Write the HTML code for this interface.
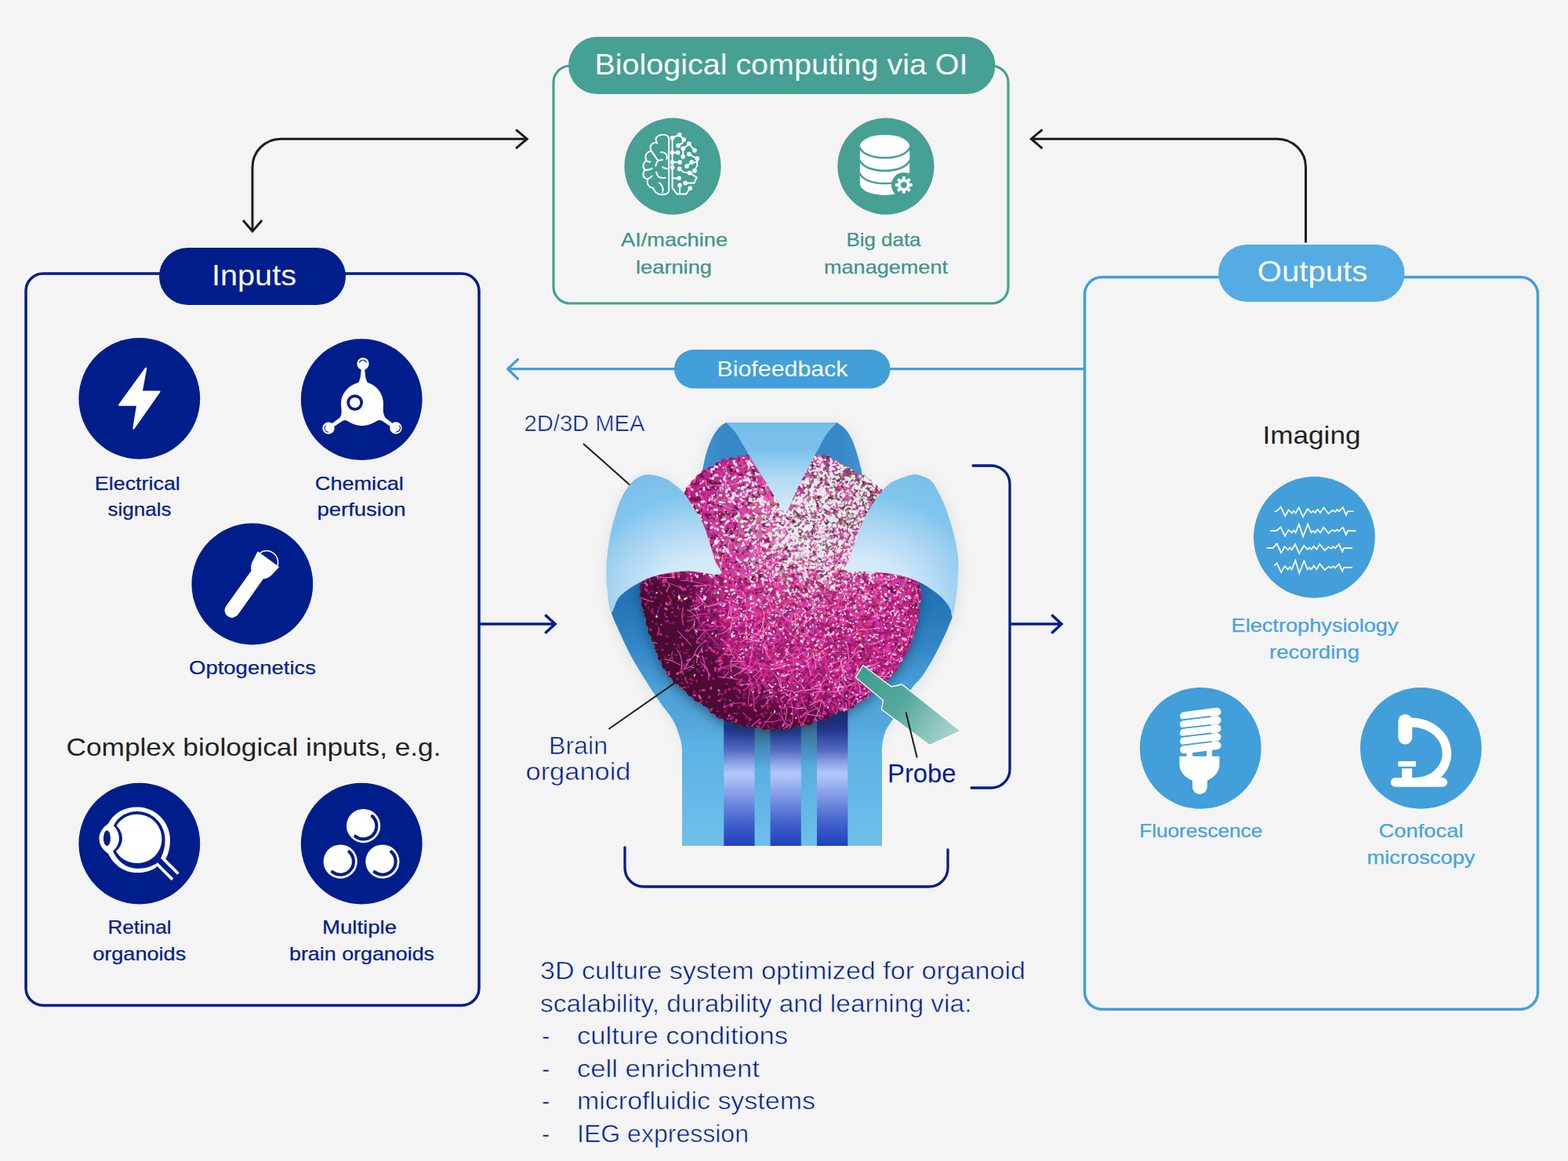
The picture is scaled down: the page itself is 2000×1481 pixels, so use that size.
<!DOCTYPE html>
<html lang="en">
<head>
<meta charset="utf-8">
<title>Biological computing via OI</title>
<style>
html,body{margin:0;padding:0;background:#f4f4f4;}
body{width:2000px;height:1481px;overflow:hidden;font-family:"Liberation Sans", Arial, sans-serif;}
svg{display:block;}
svg text{font-family:"Liberation Sans", Arial, sans-serif;}
</style>
</head>
<body>
<svg width="2000" height="1481" viewBox="0 0 2000 1481">
<rect width="2000" height="1481" fill="#f4f4f4"/>
<g fill="none" stroke-linecap="butt">
<rect x="706" y="84" width="580" height="303" rx="21" ry="21" stroke="#46a093" stroke-width="3.2"/>
<rect x="33" y="349" width="578" height="933.5" rx="22" ry="22" stroke="#001d8c" stroke-width="3.5"/>
<rect x="1383.5" y="353.5" width="578" height="934" rx="22" ry="22" stroke="#429fd9" stroke-width="3.5"/>
<path d="M1383.5,470.7 H648" stroke="#429fd9" stroke-width="3.3"/>
<path d="M660.5,458.5 L647.6,470.7 L660.5,483" stroke="#429fd9" stroke-width="3.3" stroke-linecap="round" stroke-linejoin="round"/>
<path d="M322,293 V213 A36,36 0 0 1 358,177.2 H671" stroke="#1c1c1c" stroke-width="3"/>
<path d="M658,165.3 L672.2,177.2 L658,189.3" stroke="#1c1c1c" stroke-width="3"/>
<path d="M310,281 L322,295 L334.2,281" stroke="#1c1c1c" stroke-width="3"/>
<path d="M1665.5,309.5 V213 A36,36 0 0 0 1629.5,177.2 H1317" stroke="#1c1c1c" stroke-width="3"/>
<path d="M1329.5,165.3 L1315.3,177.2 L1329.5,189.3" stroke="#1c1c1c" stroke-width="3"/>
<path d="M611,796 H707" stroke="#001d8c" stroke-width="3.5"/>
<path d="M695.3,784.2 L708,796 L695.3,807.8" stroke="#001d8c" stroke-width="3.5"/>
<path d="M1288,796 H1353" stroke="#001d8c" stroke-width="3.5"/>
<path d="M1341.3,784.2 L1354,796 L1341.3,807.8" stroke="#001d8c" stroke-width="3.5"/>
<path d="M1241,594 H1264.5 A23.5,23.5 0 0 1 1288,617.5 V981.5 A23.5,23.5 0 0 1 1264.5,1005 H1239" stroke="#001d8c" stroke-width="3.3" stroke-linecap="round"/>
<path d="M797,1081 V1107 A24,24 0 0 0 821,1131 H1185 A24,24 0 0 0 1209,1107 V1084" stroke="#001d8c" stroke-width="3.3" stroke-linecap="round"/>
</g>
<rect x="725" y="47" width="544.5" height="73" rx="36.5" fill="#46a093"/>
<rect x="203" y="316" width="238" height="73" rx="36.5" fill="#001d8c"/>
<rect x="1554" y="312" width="237.5" height="73" rx="36.5" fill="#55abe4"/>
<rect x="860" y="446" width="275.5" height="49.5" rx="24.75" fill="#429fd9"/>
<circle cx="858.0" cy="212.1" r="61.6" fill="#46a093"/>
<circle cx="1129.9" cy="212.1" r="61.6" fill="#46a093"/>
<circle cx="177.8" cy="508.3" r="77.4" fill="#001d8c"/>
<circle cx="461.2" cy="509.7" r="77.4" fill="#001d8c"/>
<circle cx="321.8" cy="745.0" r="77.4" fill="#001d8c"/>
<circle cx="177.8" cy="1076.1" r="77.4" fill="#001d8c"/>
<circle cx="461.2" cy="1076.1" r="77.4" fill="#001d8c"/>
<circle cx="1676.4" cy="685.3" r="77.4" fill="#429fd9"/>
<circle cx="1531.3" cy="954.4" r="77.4" fill="#429fd9"/>
<circle cx="1812.4" cy="954.4" r="77.4" fill="#429fd9"/>
<g transform="translate(790,145) scale(0.09453)"><g fill="none" stroke="#fff" stroke-width="21" stroke-linecap="round" stroke-linejoin="round"><path d="M668,1035 V345 C668,300 630,283 595,283 C545,283 490,305 492,350 C492,372 500,388 512,400 M500,392 C455,385 418,420 418,455 C418,480 425,498 438,512 M425,505 C385,510 352,545 352,585 C352,610 362,628 378,642 M365,635 C335,650 322,680 322,710 C322,735 335,752 352,762 M345,760 C325,780 320,805 322,830 C328,860 350,878 382,882 M382,882 C372,915 378,950 398,975 C412,992 432,1002 455,1002 M455,1002 C470,1045 510,1090 565,1092 C620,1094 668,1075 668,1035 M438,512 C470,560 500,600 520,632 C545,628 565,625 582,622 M520,632 C505,655 495,680 490,705 M558,520 C590,518 615,525 630,545 C645,565 645,590 640,610 M378,642 C392,648 405,650 415,650 M352,762 C385,760 415,752 440,738 M382,882 C405,872 425,858 440,842 M500,788 C505,820 515,845 540,858 C565,868 595,868 622,866 M580,720 C605,735 635,742 662,742 M540,935 C565,955 580,975 586,1000 C590,1025 588,1045 582,1062"/><path d="M715,325 V1000 L780,1085 H900 L955,1005 M715,325 L810,285 L870,350 L850,395 L795,430 M715,525 H790 M860,470 V580 M860,470 L905,440 L940,405 L1015,495 M940,545 L1000,580 L1050,605 V700 L1015,770 M715,655 H815 M910,710 L975,655 H1040 M715,725 V745 M810,745 L870,790 L950,800 L1045,860 L1010,935 H890 M715,870 H805 M815,965 V1085"/></g><g fill="#fff"><circle cx="715" cy="325" r="30"/><circle cx="810" cy="285" r="30"/><circle cx="870" cy="350" r="30"/><circle cx="795" cy="430" r="30"/><circle cx="940" cy="405" r="30"/><circle cx="860" cy="470" r="30"/><circle cx="1015" cy="495" r="30"/><circle cx="715" cy="525" r="30"/><circle cx="790" cy="525" r="30"/><circle cx="860" cy="580" r="30"/><circle cx="940" cy="545" r="30"/><circle cx="1050" cy="605" r="30"/><circle cx="715" cy="655" r="30"/><circle cx="815" cy="655" r="30"/><circle cx="975" cy="655" r="30"/><circle cx="910" cy="710" r="30"/><circle cx="715" cy="725" r="30"/><circle cx="810" cy="745" r="30"/><circle cx="1015" cy="770" r="30"/><circle cx="950" cy="800" r="30"/><circle cx="805" cy="870" r="30"/><circle cx="890" cy="935" r="30"/><circle cx="815" cy="965" r="30"/><circle cx="955" cy="1005" r="30"/></g></g>
<g transform="translate(1060,145) scale(0.09453)"><path d="M390,440 A335,155 0 0 1 1060,440 V945 A335,155 0 0 1 390,945 Z" fill="#fff"/><g fill="none" stroke="#46a093" stroke-width="27"><path d="M383,452 C420,545 560,596 725,596 C890,596 1030,545 1067,452"/><path d="M383,625 C420,718 560,770 725,770 C890,770 1030,718 1067,625"/><path d="M383,800 C420,892 560,942 725,942 C890,942 1030,892 1067,800"/></g><circle cx="982" cy="962" r="168" fill="#46a093"/><path d="M965.0,885.9 L965.3,851.3 L998.7,851.3 L999.0,885.9 L1023.8,896.1 L1048.5,871.9 L1072.1,895.5 L1047.9,920.2 L1058.1,945.0 L1092.7,945.3 L1092.7,978.7 L1058.1,979.0 L1047.9,1003.8 L1072.1,1028.5 L1048.5,1052.1 L1023.8,1027.9 L999.0,1038.1 L998.7,1072.7 L965.3,1072.7 L965.0,1038.1 L940.2,1027.9 L915.5,1052.1 L891.9,1028.5 L916.1,1003.8 L905.9,979.0 L871.3,978.7 L871.3,945.3 L905.9,945.0 L916.1,920.2 L891.9,895.5 L915.5,871.9 L940.2,896.1Z" fill="#fff" stroke="#fff" stroke-width="8" stroke-linejoin="round"/><circle cx="982" cy="962" r="80" fill="#fff"/><circle cx="982" cy="962" r="42" fill="#46a093"/></g>
<g transform="translate(90,420) scale(0.12154)"><path d="M790,412 L745,655 H932 L662,1040 L702,795 H512 Z" fill="#fff" stroke="#fff" stroke-width="20" stroke-linejoin="round"/></g>
<g transform="translate(370,420) scale(0.12154)"><g fill="#fff"><circle cx="765" cy="362" r="63"/><circle cx="403" cy="1038" r="63"/><circle cx="1110" cy="1036" r="63"/><path d="M747,400 H783 C786,470 790,520 812,560 C930,595 985,700 978,800 C975,850 975,890 1000,930 L1090,1000 L1068,1030 L965,960 C935,945 910,960 880,980 C800,1025 710,1025 630,980 C600,960 580,945 550,962 L445,1032 L423,1002 L520,930 C548,895 540,850 535,800 C525,700 590,595 718,560 C740,520 744,470 747,400 Z"/></g><circle cx="680" cy="770" r="70" fill="#fff" stroke="#001d8c" stroke-width="30"/><g fill="none" stroke="#001d8c" stroke-width="9" stroke-linecap="round"><path d="M728,348 A40,40 0 0 1 802,348"/><path d="M372,1012 A42,42 0 0 0 400,1080"/><path d="M1148,1012 A42,42 0 0 1 1112,1078"/></g></g>
<g transform="translate(230,655) scale(0.12154)"><g fill="#fff"><path d="M478,975 L745,600 C735,560 745,520 770,480 L812,398 L1038,562 L975,630 C945,665 910,685 870,688 L605,1062 A77,77 0 0 1 478,975 Z"/></g><path d="M834,414 A121,121 0 0 1 1020,549" fill="none" stroke="#fff" stroke-width="13"/></g>
<g transform="translate(90,990) scale(0.12154)"><g><path d="M950,905 L1100,1055" stroke="#fff" stroke-width="116" fill="none"/><path d="M395,500 C330,545 300,600 300,655 C300,715 330,770 395,815 C450,930 560,1015 700,1015 C775,1015 840,995 890,965 L1005,860 C1030,805 1045,740 1045,670 C1045,480 890,325 700,325 C560,325 450,390 395,500 Z" fill="#fff"/><path d="M452,520 C495,425 590,370 700,370 C862,370 992,505 992,668 C992,740 977,800 952,850 L905,915 C850,950 780,970 700,970 C590,970 495,900 445,790 C485,750 510,705 510,655 C510,605 490,560 452,520 Z" fill="#001d8c"/><path d="M920,875 L1130,1085" stroke="#001d8c" stroke-width="54" fill="none"/><path d="M482,522 C522,452 602,402 700,402 C843,402 958,517 958,660 C958,803 843,914 700,914 C602,914 522,868 477,790 C520,750 542,705 542,655 C542,605 522,560 482,522 Z" fill="#fff"/><ellipse cx="382" cy="652" rx="37" ry="82" fill="#001d8c"/></g></g>
<g transform="translate(370,990) scale(0.12154)"><circle cx="770" cy="523" r="178" fill="#fff"/><path d="M862.3,420.4 A138,138 0 0 1 685.0,631.7" fill="none" stroke="#001d8c" stroke-width="34" stroke-linecap="round"/><circle cx="528" cy="897" r="178" fill="#fff"/><path d="M620.3,794.4 A138,138 0 0 1 443.0,1005.7" fill="none" stroke="#001d8c" stroke-width="34" stroke-linecap="round"/><circle cx="970" cy="897" r="178" fill="#fff"/><path d="M1062.3,794.4 A138,138 0 0 1 885.0,1005.7" fill="none" stroke="#001d8c" stroke-width="34" stroke-linecap="round"/></g>
<g transform="translate(1590,600) scale(0.12154)"><g fill="none" stroke="#fff" stroke-width="14" stroke-linejoin="miter" stroke-linecap="butt"><path d="M290,430 L315,430 L360,385 L405,480 L440,415 L475,450 L495,425 L515,450 L548,390 L592,488 L640,405 L680,445 L700,425 L720,445 L745,410 L775,445 L808,390 L860,455 L900,420 L930,435 L950,412 L970,432 L1010,388 L1045,470 L1062,430 L1125,430"/><path d="M245,635 L315,635 L358,595 L403,688 L440,625 L475,655 L495,630 L515,655 L550,565 L593,695 L643,565 L680,655 L700,635 L720,655 L745,620 L775,655 L808,597 L860,660 L900,625 L930,640 L950,620 L970,638 L1010,598 L1045,675 L1062,635 L1150,635"/><path d="M210,815 L275,815 L318,770 L363,865 L400,800 L435,835 L455,810 L475,835 L510,775 L553,873 L603,790 L640,830 L660,810 L680,830 L705,795 L735,830 L768,775 L820,840 L860,805 L890,820 L910,800 L930,818 L970,775 L1005,855 L1022,815 L1110,815"/><path d="M290,1000 L318,975 L363,1070 L400,1005 L435,1040 L455,1015 L475,1040 L513,945 L553,1080 L603,950 L640,1040 L660,1020 L680,1040 L705,1000 L735,1040 L768,980 L820,1045 L860,1010 L890,1025 L910,1005 L930,1023 L970,982 L1005,1060 L1022,1020 L1110,1020"/></g></g>
<g transform="translate(1440,865) scale(0.12154)"><g fill="none" stroke="#fff" stroke-width="86" stroke-linecap="round"><path d="M578,398 L924,354"/><path d="M578,486 L924,442"/><path d="M578,574 L924,530"/><path d="M578,662 L924,618"/><path d="M578,750 L924,706"/></g><g fill="none" stroke="#429fd9" stroke-width="15" stroke-linecap="round"><path d="M545,440 L852,403"/><path d="M545,528 L856,492"/><path d="M545,617 L860,580"/><path d="M545,706 L864,668"/></g><g fill="#fff"><path d="M605,775 L668,765 V830 H605 Z"/><path d="M815,748 L873,740 V830 H815 Z"/><path d="M530,820 H950 V900 C950,980 900,1040 822,1075 V1140 A78,78 0 0 1 666,1140 V1075 C585,1040 530,980 530,900 Z"/></g></g>
<g transform="translate(1720,865) scale(0.12154)"><g fill="#fff"><rect x="522" y="378" width="147" height="318" rx="73"/><rect x="522" y="872" width="186" height="57"/><rect x="560" y="948" width="108" height="105"/><rect x="442" y="1045" width="596" height="97" rx="48"/><path fill-rule="evenodd" d="M655,415 C900,420 1080,585 1080,790 C1080,895 1035,985 955,1058 L668,1058 L668,1045 C712,1045 752,1040 790,1030 C905,1000 985,900 985,790 C985,640 850,520 668,515 Z"/></g></g>
<defs>
<linearGradient id="gV" x1="0" y1="539" x2="0" y2="656" gradientUnits="userSpaceOnUse">
<stop offset="0" stop-color="#74bdeb"/><stop offset=".3" stop-color="#7cc1ec"/><stop offset=".62" stop-color="#b4daf4"/><stop offset="1" stop-color="#d9ecfa"/></linearGradient>
<radialGradient id="gLP" cx="900" cy="760" r="170" gradientUnits="userSpaceOnUse" gradientTransform="translate(900 760) scale(1.25 1) translate(-900 -760)">
<stop offset="0" stop-color="#dceffb"/><stop offset=".3" stop-color="#d0e8f8"/><stop offset=".55" stop-color="#a8d5f3"/><stop offset=".76" stop-color="#82c5ed"/><stop offset="1" stop-color="#76beeb"/></radialGradient>
<radialGradient id="gRP" cx="1093.5" cy="760" r="170" gradientUnits="userSpaceOnUse" gradientTransform="translate(1093.5 760) scale(1.25 1) translate(-1093.5 -760)">
<stop offset="0" stop-color="#dceffb"/><stop offset=".3" stop-color="#d0e8f8"/><stop offset=".55" stop-color="#a8d5f3"/><stop offset=".76" stop-color="#82c5ed"/><stop offset="1" stop-color="#76beeb"/></radialGradient>
<linearGradient id="gBack" x1="895" y1="0" x2="1100" y2="0" gradientUnits="userSpaceOnUse">
<stop offset="0" stop-color="#3f93cf"/><stop offset=".15" stop-color="#3688c6"/><stop offset=".85" stop-color="#3688c6"/><stop offset="1" stop-color="#3f93cf"/></linearGradient>
<linearGradient id="gStem" x1="0" y1="900" x2="0" y2="1079" gradientUnits="userSpaceOnUse">
<stop offset="0" stop-color="#4f9fd2"/><stop offset=".3" stop-color="#5bb2e4"/><stop offset="1" stop-color="#70bfea"/></linearGradient>
<linearGradient id="gPil" x1="0" y1="915" x2="0" y2="1079" gradientUnits="userSpaceOnUse">
<stop offset="0" stop-color="#1a2c7c"/><stop offset=".10" stop-color="#23378f"/><stop offset=".25" stop-color="#5068bd"/><stop offset=".37" stop-color="#95aaea"/><stop offset=".44" stop-color="#b3c8fa"/><stop offset=".52" stop-color="#9db3f2"/><stop offset=".68" stop-color="#6b86dc"/><stop offset=".84" stop-color="#3d5ecb"/><stop offset="1" stop-color="#1f41ba"/></linearGradient>
<linearGradient id="gGap" x1="0" y1="915" x2="0" y2="1079" gradientUnits="userSpaceOnUse">
<stop offset="0" stop-color="#3a7397"/><stop offset=".18" stop-color="#3f7fa8"/><stop offset=".4" stop-color="#5aaee0"/><stop offset="1" stop-color="#6fbfea"/></linearGradient>
<linearGradient id="gProbe" x1="1100" y1="860" x2="1215" y2="940" gradientUnits="userSpaceOnUse">
<stop offset="0" stop-color="#3f9e8f"/><stop offset=".45" stop-color="#55a99c"/><stop offset=".75" stop-color="#86c2b8"/><stop offset="1" stop-color="#aad4cc"/></linearGradient>
<radialGradient id="gOrgL" cx="1035" cy="688" r="300" gradientUnits="userSpaceOnUse">
<stop offset="0" stop-color="#efc3de"/><stop offset=".14" stop-color="#e68cc2"/><stop offset=".3" stop-color="#d64a9f"/><stop offset=".5" stop-color="#b9278a"/><stop offset=".72" stop-color="#851763"/><stop offset=".9" stop-color="#540c3b"/><stop offset="1" stop-color="#460a2e"/></radialGradient>
<radialGradient id="gOrgD" cx="1075" cy="730" r="270" gradientUnits="userSpaceOnUse">
<stop offset="0" stop-color="#7a1258" stop-opacity="0"/><stop offset=".54" stop-color="#7a1258" stop-opacity="0"/><stop offset=".64" stop-color="#6a0f4c" stop-opacity=".55"/><stop offset=".74" stop-color="#500b36" stop-opacity=".93"/><stop offset="1" stop-color="#47092d" stop-opacity="1"/></radialGradient>
<linearGradient id="gOrgDm" x1="0" y1="722" x2="0" y2="745" gradientUnits="userSpaceOnUse"><stop offset="0" stop-color="#000"/><stop offset="1" stop-color="#fff"/></linearGradient>
<mask id="maskLow" maskUnits="userSpaceOnUse" x="800" y="560" width="400" height="390"><rect x="800" y="560" width="400" height="390" fill="url(#gOrgDm)"/></mask>
<filter id="fD" x="800" y="560" width="400" height="390" filterUnits="userSpaceOnUse" color-interpolation-filters="sRGB">
<feTurbulence type="fractalNoise" baseFrequency="0.12 0.15" numOctaves="2" seed="51" result="n"/>
<feColorMatrix in="n" type="matrix" values="0 0 0 0 .36  0 0 0 0 .04  0 0 0 0 .25  0 0 9 0 -4.7"/>
</filter>
<linearGradient id="mD" x1="830" y1="880" x2="1060" y2="700" gradientUnits="userSpaceOnUse">
<stop offset="0" stop-color="#000"/><stop offset=".28" stop-color="#333"/><stop offset=".6" stop-color="#ccc"/><stop offset="1" stop-color="#fff"/></linearGradient>
<mask id="maskD" maskUnits="userSpaceOnUse" x="800" y="560" width="400" height="390"><rect x="800" y="560" width="400" height="390" fill="url(#mD)"/></mask>
<linearGradient id="gBowlV" x1="0" y1="735" x2="0" y2="925" gradientUnits="userSpaceOnUse">
<stop offset="0" stop-color="#1f6db0"/><stop offset=".25" stop-color="#2878ba"/><stop offset=".5" stop-color="#3589c8"/><stop offset=".75" stop-color="#4a9fd8" stop-opacity=".85"/><stop offset="1" stop-color="#5bb0e3" stop-opacity="0"/></linearGradient>
<linearGradient id="gShF" x1="0" y1="880" x2="0" y2="1000" gradientUnits="userSpaceOnUse"><stop offset="0" stop-color="#fff"/><stop offset="1" stop-color="#000"/></linearGradient>
<mask id="mShF" maskUnits="userSpaceOnUse" x="700" y="480" width="600" height="680"><rect x="700" y="480" width="600" height="680" fill="url(#gShF)"/></mask>
<filter id="fSh" x="700" y="480" width="600" height="680" filterUnits="userSpaceOnUse"><feGaussianBlur stdDeviation="9"/></filter>
<filter id="fSh2" x="780" y="700" width="450" height="300" filterUnits="userSpaceOnUse"><feGaussianBlur stdDeviation="7"/></filter>
<clipPath id="cOrg"><path d="M872.3,628.2 L873.0,627.6 L873.4,626.6 L874.6,625.8 L874.8,624.2 L874.9,622.3 L876.1,621.1 L877.3,619.7 L879.5,619.1 L880.3,617.2 L881.2,616.3 L881.1,614.4 L882.3,613.3 L883.7,612.5 L885.1,611.6 L886.9,611.0 L887.1,608.9 L888.3,607.7 L888.7,605.8 L890.6,605.4 L892.0,604.5 L893.4,603.8 L894.5,603.0 L894.7,601.1 L896.3,600.0 L897.5,598.6 L899.7,599.1 L901.1,598.4 L902.4,597.8 L903.7,596.8 L904.6,595.0 L906.3,595.0 L907.8,594.2 L909.8,594.6 L910.9,593.5 L912.0,592.2 L913.1,591.0 L914.1,589.4 L916.1,589.6 L917.5,588.8 L919.4,588.9 L920.3,587.3 L921.5,586.2 L922.8,585.5 L924.3,584.7 L926.1,585.8 L927.6,585.4 L929.1,585.6 L930.5,584.8 L931.9,583.6 L933.5,584.1 L934.9,583.7 L936.6,584.9 L938.1,584.8 L939.2,583.9 L940.0,583.7 L940.5,583.3 L940.6,582.9 L940.8,582.2 L941.4,581.0 L943.0,581.1 L945.3,581.3 L948.6,581.7 L953.0,579.9 L953.9,580.5 L954.9,581.4 L956.0,581.4 L957.1,581.3 L958.2,581.9 L959.5,581.2 L960.7,580.1 L962.1,580.4 L963.4,580.1 L964.9,580.7 L966.3,581.8 L967.8,581.2 L969.4,581.4 L971.0,580.1 L972.6,580.1 L974.2,580.6 L975.9,581.1 L977.6,581.9 L979.3,580.7 L981.1,580.6 L982.9,579.7 L984.7,581.1 L986.5,581.1 L988.3,581.9 L990.1,580.3 L992.0,580.5 L993.8,580.0 L995.6,581.6 L997.5,581.3 L999.3,581.5 L1001.2,579.9 L1003.0,580.6 L1004.9,580.5 L1006.7,582.0 L1008.5,581.2 L1010.3,581.1 L1012.1,579.8 L1013.8,580.8 L1015.5,581.0 L1017.2,582.0 L1018.9,581.3 L1020.6,580.6 L1022.2,580.4 L1023.8,580.2 L1025.3,581.6 L1026.8,581.4 L1028.3,581.9 L1029.7,581.2 L1031.1,580.1 L1032.4,580.6 L1033.7,580.4 L1034.9,580.7 L1036.1,581.9 L1037.2,581.9 L1038.2,581.3 L1039.2,581.4 L1040.1,581.3 L1041.0,580.5 L1048.5,581.3 L1049.4,580.5 L1048.1,580.2 L1048.0,579.8 L1049.6,578.9 L1051.0,580.1 L1052.6,580.9 L1054.6,582.4 L1056.1,582.0 L1057.6,582.0 L1058.7,583.0 L1060.3,583.4 L1060.9,585.6 L1062.5,586.3 L1063.9,587.3 L1066.0,587.1 L1067.6,587.8 L1068.8,589.0 L1069.9,590.1 L1071.0,591.8 L1073.0,591.5 L1074.6,592.2 L1076.6,591.8 L1077.6,593.6 L1079.1,594.4 L1080.2,595.8 L1081.8,596.0 L1083.6,595.8 L1084.8,596.7 L1086.7,597.3 L1087.2,599.7 L1088.6,600.5 L1089.6,601.8 L1091.6,601.8 L1093.0,602.5 L1094.2,603.6 L1095.5,604.7 L1096.8,606.3 L1098.7,605.9 L1100.3,606.3 L1102.3,605.5 L1103.6,607.0 L1105.0,608.0 L1105.7,609.5 L1106.8,610.4 L1108.7,610.6 L1109.7,611.8 L1111.4,612.4 L1111.6,614.3 L1112.4,615.8 L1113.5,617.0 L1114.9,617.9 L1117.1,617.9 L1118.2,619.3 L1119.6,620.4 L1120.1,622.6 L1121.9,623.1 L1123.0,624.1 L1124.5,624.1 L1125.7,624.1 L1125,625 L1128,650 L1120,690 L1112,720 L1140,726 L1165,736 L1173.8,746 L1173.4,746.0 L1173.3,747.1 L1173.7,748.4 L1173.2,750.1 L1174.4,751.8 L1175.5,753.6 L1175.4,755.6 L1175.5,757.5 L1174.0,759.3 L1174.3,760.7 L1174.3,762.7 L1174.4,764.6 L1175.1,766.6 L1173.7,767.9 L1173.2,769.4 L1172.2,771.0 L1171.1,772.6 L1172.3,774.4 L1172.5,776.1 L1173.3,777.8 L1173.8,779.5 L1172.3,781.0 L1171.7,782.6 L1170.8,784.1 L1169.9,785.5 L1170.8,787.5 L1170.5,789.1 L1170.5,790.7 L1170.8,792.3 L1169.2,793.9 L1169.2,795.6 L1169.1,797.2 L1168.6,798.5 L1169.4,800.5 L1168.8,802.0 L1167.5,803.2 L1167.0,804.7 L1165.2,805.8 L1164.5,807.3 L1165.2,809.0 L1164.9,810.6 L1165.5,812.2 L1165.9,813.9 L1164.6,815.0 L1163.4,816.5 L1162.2,817.7 L1160.7,818.8 L1161.2,821.1 L1161.0,822.5 L1160.7,824.1 L1160.9,825.8 L1159.3,827.0 L1158.2,828.1 L1157.6,829.6 L1156.2,830.6 L1156.2,832.6 L1155.8,834.4 L1154.8,835.6 L1154.5,837.3 L1152.6,838.5 L1151.8,840.0 L1151.8,841.8 L1150.9,843.2 L1151.0,845.3 L1149.8,846.6 L1148.1,847.5 L1146.9,848.9 L1145.2,849.6 L1144.8,851.0 L1145.0,852.8 L1144.2,854.1 L1144.0,855.7 L1143.3,857.3 L1141.1,857.8 L1140.1,858.7 L1139.2,859.8 L1137.7,860.4 L1137.4,862.2 L1137.0,864.0 L1135.6,864.8 L1134.7,866.2 L1133.2,866.8 L1131.2,866.8 L1130.3,868.3 L1129.1,869.4 L1128.1,870.7 L1127.8,872.8 L1126.2,873.4 L1124.7,874.1 L1123.3,875.0 L1121.2,875.0 L1120.3,876.5 L1119.4,878.1 L1118.1,879.2 L1117.4,881.2 L1115.4,881.4 L1113.7,881.8 L1112.5,882.8 L1110.8,883.1 L1110.1,885.0 L1109.7,886.9 L1108.5,887.8 L1108.0,889.4 L1106.5,890.1 L1104.4,890.1 L1103.4,891.1 L1102.0,891.7 L1100.7,892.4 L1099.8,894.5 L1098.3,895.0 L1096.7,895.5 L1095.2,896.3 L1093.1,896.1 L1092.0,897.3 L1091.2,899.0 L1090.0,900.2 L1089.6,902.3 L1087.8,902.9 L1086.0,903.3 L1084.5,904.1 L1082.8,903.7 L1081.6,904.8 L1080.4,906.2 L1078.8,906.4 L1077.4,907.4 L1075.8,907.4 L1073.9,906.4 L1072.4,907.0 L1070.7,907.2 L1069.3,907.9 L1068.6,909.9 L1067.4,910.7 L1065.9,911.1 L1064.7,912.1 L1062.7,911.8 L1061.1,912.0 L1060.1,913.4 L1058.7,914.0 L1057.6,915.1 L1056.5,916.8 L1054.7,916.5 L1053.1,916.6 L1051.5,916.8 L1049.7,916.0 L1048.4,917.1 L1047.1,918.3 L1045.6,918.7 L1044.4,920.1 L1042.8,920.2 L1040.8,919.7 L1039.3,920.6 L1037.5,920.6 L1036.2,921.9 L1035.3,923.7 L1033.6,924.0 L1032.2,925.0 L1030.6,925.0 L1028.7,924.0 L1027.3,924.6 L1025.8,924.8 L1024.3,924.9 L1022.8,926.4 L1021.3,926.5 L1019.7,926.0 L1018.1,926.3 L1016.5,925.6 L1015.0,925.5 L1014.0,926.8 L1012.8,927.6 L1011.5,928.1 L1010.4,929.6 L1008.8,929.8 L1007.0,929.1 L1005.3,929.5 L1003.3,928.8 L1002.1,929.4 L1000.8,930.8 L999.3,930.9 L997.7,931.3 L996.1,931.6 L994.3,930.1 L992.6,930.1 L990.9,930.2 L989.2,930.3 L987.5,931.9 L985.8,931.5 L984.2,931.4 L982.6,931.1 L981.2,929.7 L979.8,929.8 L977.9,930.4 L976.1,930.3 L974.2,931.3 L972.6,930.3 L971.2,929.3 L969.6,928.9 L968.3,927.5 L966.7,927.8 L965.0,928.4 L963.5,928.0 L961.9,928.5 L960.2,928.0 L958.7,926.5 L957.0,926.6 L955.4,926.0 L953.8,926.4 L952.1,927.7 L950.5,927.3 L949.0,927.2 L947.4,926.8 L946.2,925.1 L944.8,924.8 L943.2,924.8 L941.8,924.1 L939.9,924.7 L938.3,924.5 L937.3,923.0 L936.0,922.4 L934.8,921.2 L933.8,919.8 L932.2,920.0 L930.4,920.2 L929.0,919.7 L927.2,920.3 L925.9,919.5 L924.7,918.0 L923.2,917.7 L922.0,916.8 L920.7,916.1 L918.9,916.8 L917.2,916.4 L915.8,915.5 L914.2,915.0 L913.5,912.9 L912.4,911.7 L910.9,911.1 L909.7,909.9 L907.6,910.0 L906.1,909.2 L905.4,907.5 L904.2,906.4 L904.0,904.3 L903.2,902.8 L901.3,902.3 L900.0,901.0 L897.9,900.9 L896.8,900.0 L896.2,898.2 L894.9,897.5 L893.8,896.2 L892.6,895.1 L890.5,895.6 L889.0,895.0 L887.4,894.3 L885.8,893.7 L885.3,891.5 L884.4,890.4 L883.1,889.7 L882.2,888.4 L880.5,888.1 L878.6,887.8 L877.9,886.3 L876.7,885.3 L875.9,883.9 L875.7,881.9 L874.3,881.2 L872.8,880.5 L871.8,879.5 L869.8,879.4 L868.6,878.5 L868.0,876.8 L866.8,875.9 L866.1,874.4 L865.4,873.0 L863.5,872.9 L862.0,872.3 L860.9,871.3 L859.2,870.9 L858.6,869.4 L858.4,867.5 L857.3,866.5 L856.6,865.0 L855.6,863.9 L853.5,863.6 L852.5,862.4 L851.7,861.0 L850.6,859.8 L850.9,857.7 L850.3,856.2 L848.9,855.2 L848.3,853.8 L846.6,853.1 L845.2,852.1 L845.2,850.3 L844.5,848.9 L844.3,847.3 L844.5,845.4 L843.0,844.5 L841.8,843.3 L841.1,841.9 L839.5,840.9 L839.4,839.2 L839.8,837.4 L839.1,836.0 L839.2,834.3 L838.5,832.9 L836.7,831.9 L836.3,830.4 L835.6,829.0 L835.0,827.6 L835.9,825.6 L835.6,824.1 L834.7,822.8 L834.5,821.3 L832.9,820.3 L831.6,819.1 L831.7,817.4 L831.0,816.1 L830.9,814.5 L831.4,812.7 L830.3,811.5 L829.2,810.4 L828.6,808.9 L827.0,807.9 L826.6,806.3 L827.2,804.5 L826.7,803.1 L827.0,801.4 L827.0,799.8 L825.3,798.6 L824.7,797.1 L824.2,795.6 L823.3,794.2 L824.4,792.3 L824.4,790.7 L823.9,789.2 L824.0,787.6 L822.5,786.3 L821.2,785.1 L821.4,783.4 L820.7,782.0 L821.0,780.3 L821.8,778.4 L820.7,777.1 L820.2,775.7 L819.6,774.3 L818.0,773.1 L817.9,771.6 L818.5,770.0 L818.1,768.3 L818.9,766.4 L818.3,764.8 L816.9,763.3 L816.8,761.6 L815.6,760.1 L815.9,758.4 L817.0,756.8 L816.7,755.4 L817.0,754.0 L816.9,752.1 L815.5,750.1 L816.2,748.3 L816.0,746.5 L817.1,745.2 L818.5,744.1 L818.5,743.2 L835,732 L860,725 L890,721 L893,690 L885,655 L875,635Z"/></clipPath>
</defs>
<clipPath id="cSh"><rect x="700" y="480" width="600" height="470"/></clipPath>
<g mask="url(#mShF)"><g filter="url(#fSh)" opacity=".10" fill="#20303c" transform="translate(1,3)">
<path d="M779.7,781.0 C780.6,783.3 781.0,785.6 785.0,794.6 C789.0,803.6 797.5,822.6 804.0,835.0 C810.5,847.4 818.0,858.8 824.3,869.0 C830.6,879.2 836.4,887.8 842.0,896.0 C847.6,904.2 854.0,911.2 858.0,918.0 C862.0,924.8 864.1,931.1 866.0,936.8 C867.9,942.5 868.9,945.6 869.6,952.0 C870.3,958.4 869.9,971.2 870.0,975.0 L870,1079 L1125,1079 L1125,975 C1125.0,971.2 1124.5,958.8 1125.2,952.0 C1125.9,945.2 1126.8,939.7 1129.0,934.0 C1131.2,928.3 1133.2,926.8 1138.6,917.8 C1144.0,908.8 1155.3,889.0 1161.6,879.7 C1167.9,870.4 1171.3,869.5 1176.5,862.0 C1181.7,854.5 1187.8,844.0 1192.7,835.0 C1197.6,826.0 1202.3,816.1 1206.0,808.0 C1209.7,799.9 1213.5,790.1 1215.0,786.5 L1200,735 L800,735 Z"/><path d="M829.7,605.4 C823.7,604.8 819.4,606.3 815.0,608.5 C810.6,610.7 807.4,613.1 803.2,618.6 C799.0,624.1 794.1,631.0 790.0,641.6 C785.9,652.2 781.2,668.9 778.5,682.0 C775.8,695.1 774.3,708.3 773.6,720.0 C772.9,731.7 773.5,741.8 774.5,752.0 C775.5,762.2 777.0,779.5 779.7,781.0 C782.4,782.5 784.2,767.3 790.5,760.8 C796.8,754.3 808.6,746.6 817.6,741.9 C826.6,737.2 834.5,734.6 844.6,732.4 C854.7,730.1 866.0,728.4 878.4,728.4 C890.8,728.4 913.3,734.6 918.9,732.4 C924.5,730.2 915.4,725.0 912.0,715.0 C908.6,705.0 903.1,683.7 898.6,672.6 C894.1,661.5 889.5,655.7 885.0,648.3 C880.5,640.9 877.2,634.1 871.6,628.0 C866.0,621.9 858.3,615.7 851.3,611.9 C844.3,608.1 835.8,606.0 829.7,605.4Z"/><path d="M1164.3,605.4 C1171.0,604.4 1174.7,606.7 1179.0,608.5 C1183.3,610.3 1185.9,610.5 1190.0,616.0 C1194.1,621.5 1199.7,632.8 1203.5,641.6 C1207.3,650.4 1210.3,659.6 1213.0,668.6 C1215.7,677.6 1218.1,687.0 1219.7,695.6 C1221.3,704.2 1222.3,710.3 1222.4,720.0 C1222.5,729.7 1221.7,742.9 1220.5,754.0 C1219.3,765.1 1216.5,782.9 1215.0,786.5 C1213.5,790.1 1214.2,780.0 1211.6,775.7 C1209.0,771.4 1205.3,766.0 1199.5,760.8 C1193.7,755.6 1184.4,748.9 1176.5,744.6 C1168.6,740.3 1160.6,737.4 1152.0,735.0 C1143.4,732.6 1134.0,731.4 1125.0,730.4 C1116.0,729.4 1105.9,729.6 1098.0,729.0 C1090.1,728.4 1080.0,730.3 1077.8,727.0 C1075.6,723.7 1081.2,718.3 1084.6,709.0 C1088.0,699.7 1093.5,681.9 1098.0,671.3 C1102.5,660.7 1107.1,653.0 1111.6,645.6 C1116.1,638.2 1120.5,631.9 1125.0,626.7 C1129.5,621.5 1132.0,618.2 1138.6,614.6 C1145.1,611.0 1157.6,606.4 1164.3,605.4Z"/><path d="M894.5,612.0 C894.8,610.1 895.4,604.1 896.0,600.4 C896.6,596.7 897.1,593.9 898.0,590.0 C898.9,586.1 899.9,581.3 901.2,577.0 C902.5,572.7 904.1,568.0 905.8,564.0 C907.5,560.0 909.5,556.2 911.6,553.0 C913.7,549.8 915.7,546.8 918.1,544.5 C920.5,542.2 924.6,539.9 925.9,539.0 L1067.6,539 C1069.3,540.3 1075.0,543.7 1078.0,547.0 C1081.0,550.3 1083.6,554.7 1085.8,558.8 C1088.0,562.9 1089.5,567.5 1091.0,571.8 C1092.5,576.1 1093.7,580.5 1094.9,584.8 C1096.1,589.1 1097.4,594.6 1098.2,597.8 C1099.0,601.0 1099.0,601.6 1099.5,604.0 C1100.0,606.4 1100.8,610.7 1101.0,612.0 L1060,640 L930,640 Z"/>
</g></g>
<path d="M894.5,612.0 C894.8,610.1 895.4,604.1 896.0,600.4 C896.6,596.7 897.1,593.9 898.0,590.0 C898.9,586.1 899.9,581.3 901.2,577.0 C902.5,572.7 904.1,568.0 905.8,564.0 C907.5,560.0 909.5,556.2 911.6,553.0 C913.7,549.8 915.7,546.8 918.1,544.5 C920.5,542.2 924.6,539.9 925.9,539.0 L1067.6,539 C1069.3,540.3 1075.0,543.7 1078.0,547.0 C1081.0,550.3 1083.6,554.7 1085.8,558.8 C1088.0,562.9 1089.5,567.5 1091.0,571.8 C1092.5,576.1 1093.7,580.5 1094.9,584.8 C1096.1,589.1 1097.4,594.6 1098.2,597.8 C1099.0,601.0 1099.0,601.6 1099.5,604.0 C1100.0,606.4 1100.8,610.7 1101.0,612.0 L1060,640 L930,640 Z" fill="url(#gBack)"/>
<path d="M779.7,781.0 C780.6,783.3 781.0,785.6 785.0,794.6 C789.0,803.6 797.5,822.6 804.0,835.0 C810.5,847.4 818.0,858.8 824.3,869.0 C830.6,879.2 836.4,887.8 842.0,896.0 C847.6,904.2 854.0,911.2 858.0,918.0 C862.0,924.8 864.1,931.1 866.0,936.8 C867.9,942.5 868.9,945.6 869.6,952.0 C870.3,958.4 869.9,971.2 870.0,975.0 L870,1079 L1125,1079 L1125,975 C1125.0,971.2 1124.5,958.8 1125.2,952.0 C1125.9,945.2 1126.8,939.7 1129.0,934.0 C1131.2,928.3 1133.2,926.8 1138.6,917.8 C1144.0,908.8 1155.3,889.0 1161.6,879.7 C1167.9,870.4 1171.3,869.5 1176.5,862.0 C1181.7,854.5 1187.8,844.0 1192.7,835.0 C1197.6,826.0 1202.3,816.1 1206.0,808.0 C1209.7,799.9 1213.5,790.1 1215.0,786.5 L1200,735 L800,735 Z" fill="url(#gStem)"/>
<clipPath id="cBody"><path d="M779.7,781.0 C780.6,783.3 781.0,785.6 785.0,794.6 C789.0,803.6 797.5,822.6 804.0,835.0 C810.5,847.4 818.0,858.8 824.3,869.0 C830.6,879.2 836.4,887.8 842.0,896.0 C847.6,904.2 854.0,911.2 858.0,918.0 C862.0,924.8 864.1,931.1 866.0,936.8 C867.9,942.5 868.9,945.6 869.6,952.0 C870.3,958.4 869.9,971.2 870.0,975.0 L870,1079 L1125,1079 L1125,975 C1125.0,971.2 1124.5,958.8 1125.2,952.0 C1125.9,945.2 1126.8,939.7 1129.0,934.0 C1131.2,928.3 1133.2,926.8 1138.6,917.8 C1144.0,908.8 1155.3,889.0 1161.6,879.7 C1167.9,870.4 1171.3,869.5 1176.5,862.0 C1181.7,854.5 1187.8,844.0 1192.7,835.0 C1197.6,826.0 1202.3,816.1 1206.0,808.0 C1209.7,799.9 1213.5,790.1 1215.0,786.5 L1200,735 L800,735 Z"/></clipPath>
<g clip-path="url(#cBody)">
<rect x="770" y="730" width="460" height="200" fill="url(#gBowlV)"/>
<rect x="923.3" y="900" width="158" height="179" fill="url(#gGap)"/>
<rect x="923.3" y="900" width="39.2" height="179" fill="url(#gPil)"/>
<rect x="982.6" y="900" width="39.2" height="179" fill="url(#gPil)"/>
<rect x="1042" y="900" width="39.3" height="179" fill="url(#gPil)"/>
<g filter="url(#fSh2)" opacity=".6"><path d="M872.3,628.2 L873.0,627.6 L873.4,626.6 L874.6,625.8 L874.8,624.2 L874.9,622.3 L876.1,621.1 L877.3,619.7 L879.5,619.1 L880.3,617.2 L881.2,616.3 L881.1,614.4 L882.3,613.3 L883.7,612.5 L885.1,611.6 L886.9,611.0 L887.1,608.9 L888.3,607.7 L888.7,605.8 L890.6,605.4 L892.0,604.5 L893.4,603.8 L894.5,603.0 L894.7,601.1 L896.3,600.0 L897.5,598.6 L899.7,599.1 L901.1,598.4 L902.4,597.8 L903.7,596.8 L904.6,595.0 L906.3,595.0 L907.8,594.2 L909.8,594.6 L910.9,593.5 L912.0,592.2 L913.1,591.0 L914.1,589.4 L916.1,589.6 L917.5,588.8 L919.4,588.9 L920.3,587.3 L921.5,586.2 L922.8,585.5 L924.3,584.7 L926.1,585.8 L927.6,585.4 L929.1,585.6 L930.5,584.8 L931.9,583.6 L933.5,584.1 L934.9,583.7 L936.6,584.9 L938.1,584.8 L939.2,583.9 L940.0,583.7 L940.5,583.3 L940.6,582.9 L940.8,582.2 L941.4,581.0 L943.0,581.1 L945.3,581.3 L948.6,581.7 L953.0,579.9 L953.9,580.5 L954.9,581.4 L956.0,581.4 L957.1,581.3 L958.2,581.9 L959.5,581.2 L960.7,580.1 L962.1,580.4 L963.4,580.1 L964.9,580.7 L966.3,581.8 L967.8,581.2 L969.4,581.4 L971.0,580.1 L972.6,580.1 L974.2,580.6 L975.9,581.1 L977.6,581.9 L979.3,580.7 L981.1,580.6 L982.9,579.7 L984.7,581.1 L986.5,581.1 L988.3,581.9 L990.1,580.3 L992.0,580.5 L993.8,580.0 L995.6,581.6 L997.5,581.3 L999.3,581.5 L1001.2,579.9 L1003.0,580.6 L1004.9,580.5 L1006.7,582.0 L1008.5,581.2 L1010.3,581.1 L1012.1,579.8 L1013.8,580.8 L1015.5,581.0 L1017.2,582.0 L1018.9,581.3 L1020.6,580.6 L1022.2,580.4 L1023.8,580.2 L1025.3,581.6 L1026.8,581.4 L1028.3,581.9 L1029.7,581.2 L1031.1,580.1 L1032.4,580.6 L1033.7,580.4 L1034.9,580.7 L1036.1,581.9 L1037.2,581.9 L1038.2,581.3 L1039.2,581.4 L1040.1,581.3 L1041.0,580.5 L1048.5,581.3 L1049.4,580.5 L1048.1,580.2 L1048.0,579.8 L1049.6,578.9 L1051.0,580.1 L1052.6,580.9 L1054.6,582.4 L1056.1,582.0 L1057.6,582.0 L1058.7,583.0 L1060.3,583.4 L1060.9,585.6 L1062.5,586.3 L1063.9,587.3 L1066.0,587.1 L1067.6,587.8 L1068.8,589.0 L1069.9,590.1 L1071.0,591.8 L1073.0,591.5 L1074.6,592.2 L1076.6,591.8 L1077.6,593.6 L1079.1,594.4 L1080.2,595.8 L1081.8,596.0 L1083.6,595.8 L1084.8,596.7 L1086.7,597.3 L1087.2,599.7 L1088.6,600.5 L1089.6,601.8 L1091.6,601.8 L1093.0,602.5 L1094.2,603.6 L1095.5,604.7 L1096.8,606.3 L1098.7,605.9 L1100.3,606.3 L1102.3,605.5 L1103.6,607.0 L1105.0,608.0 L1105.7,609.5 L1106.8,610.4 L1108.7,610.6 L1109.7,611.8 L1111.4,612.4 L1111.6,614.3 L1112.4,615.8 L1113.5,617.0 L1114.9,617.9 L1117.1,617.9 L1118.2,619.3 L1119.6,620.4 L1120.1,622.6 L1121.9,623.1 L1123.0,624.1 L1124.5,624.1 L1125.7,624.1 L1125,625 L1128,650 L1120,690 L1112,720 L1140,726 L1165,736 L1173.8,746 L1173.4,746.0 L1173.3,747.1 L1173.7,748.4 L1173.2,750.1 L1174.4,751.8 L1175.5,753.6 L1175.4,755.6 L1175.5,757.5 L1174.0,759.3 L1174.3,760.7 L1174.3,762.7 L1174.4,764.6 L1175.1,766.6 L1173.7,767.9 L1173.2,769.4 L1172.2,771.0 L1171.1,772.6 L1172.3,774.4 L1172.5,776.1 L1173.3,777.8 L1173.8,779.5 L1172.3,781.0 L1171.7,782.6 L1170.8,784.1 L1169.9,785.5 L1170.8,787.5 L1170.5,789.1 L1170.5,790.7 L1170.8,792.3 L1169.2,793.9 L1169.2,795.6 L1169.1,797.2 L1168.6,798.5 L1169.4,800.5 L1168.8,802.0 L1167.5,803.2 L1167.0,804.7 L1165.2,805.8 L1164.5,807.3 L1165.2,809.0 L1164.9,810.6 L1165.5,812.2 L1165.9,813.9 L1164.6,815.0 L1163.4,816.5 L1162.2,817.7 L1160.7,818.8 L1161.2,821.1 L1161.0,822.5 L1160.7,824.1 L1160.9,825.8 L1159.3,827.0 L1158.2,828.1 L1157.6,829.6 L1156.2,830.6 L1156.2,832.6 L1155.8,834.4 L1154.8,835.6 L1154.5,837.3 L1152.6,838.5 L1151.8,840.0 L1151.8,841.8 L1150.9,843.2 L1151.0,845.3 L1149.8,846.6 L1148.1,847.5 L1146.9,848.9 L1145.2,849.6 L1144.8,851.0 L1145.0,852.8 L1144.2,854.1 L1144.0,855.7 L1143.3,857.3 L1141.1,857.8 L1140.1,858.7 L1139.2,859.8 L1137.7,860.4 L1137.4,862.2 L1137.0,864.0 L1135.6,864.8 L1134.7,866.2 L1133.2,866.8 L1131.2,866.8 L1130.3,868.3 L1129.1,869.4 L1128.1,870.7 L1127.8,872.8 L1126.2,873.4 L1124.7,874.1 L1123.3,875.0 L1121.2,875.0 L1120.3,876.5 L1119.4,878.1 L1118.1,879.2 L1117.4,881.2 L1115.4,881.4 L1113.7,881.8 L1112.5,882.8 L1110.8,883.1 L1110.1,885.0 L1109.7,886.9 L1108.5,887.8 L1108.0,889.4 L1106.5,890.1 L1104.4,890.1 L1103.4,891.1 L1102.0,891.7 L1100.7,892.4 L1099.8,894.5 L1098.3,895.0 L1096.7,895.5 L1095.2,896.3 L1093.1,896.1 L1092.0,897.3 L1091.2,899.0 L1090.0,900.2 L1089.6,902.3 L1087.8,902.9 L1086.0,903.3 L1084.5,904.1 L1082.8,903.7 L1081.6,904.8 L1080.4,906.2 L1078.8,906.4 L1077.4,907.4 L1075.8,907.4 L1073.9,906.4 L1072.4,907.0 L1070.7,907.2 L1069.3,907.9 L1068.6,909.9 L1067.4,910.7 L1065.9,911.1 L1064.7,912.1 L1062.7,911.8 L1061.1,912.0 L1060.1,913.4 L1058.7,914.0 L1057.6,915.1 L1056.5,916.8 L1054.7,916.5 L1053.1,916.6 L1051.5,916.8 L1049.7,916.0 L1048.4,917.1 L1047.1,918.3 L1045.6,918.7 L1044.4,920.1 L1042.8,920.2 L1040.8,919.7 L1039.3,920.6 L1037.5,920.6 L1036.2,921.9 L1035.3,923.7 L1033.6,924.0 L1032.2,925.0 L1030.6,925.0 L1028.7,924.0 L1027.3,924.6 L1025.8,924.8 L1024.3,924.9 L1022.8,926.4 L1021.3,926.5 L1019.7,926.0 L1018.1,926.3 L1016.5,925.6 L1015.0,925.5 L1014.0,926.8 L1012.8,927.6 L1011.5,928.1 L1010.4,929.6 L1008.8,929.8 L1007.0,929.1 L1005.3,929.5 L1003.3,928.8 L1002.1,929.4 L1000.8,930.8 L999.3,930.9 L997.7,931.3 L996.1,931.6 L994.3,930.1 L992.6,930.1 L990.9,930.2 L989.2,930.3 L987.5,931.9 L985.8,931.5 L984.2,931.4 L982.6,931.1 L981.2,929.7 L979.8,929.8 L977.9,930.4 L976.1,930.3 L974.2,931.3 L972.6,930.3 L971.2,929.3 L969.6,928.9 L968.3,927.5 L966.7,927.8 L965.0,928.4 L963.5,928.0 L961.9,928.5 L960.2,928.0 L958.7,926.5 L957.0,926.6 L955.4,926.0 L953.8,926.4 L952.1,927.7 L950.5,927.3 L949.0,927.2 L947.4,926.8 L946.2,925.1 L944.8,924.8 L943.2,924.8 L941.8,924.1 L939.9,924.7 L938.3,924.5 L937.3,923.0 L936.0,922.4 L934.8,921.2 L933.8,919.8 L932.2,920.0 L930.4,920.2 L929.0,919.7 L927.2,920.3 L925.9,919.5 L924.7,918.0 L923.2,917.7 L922.0,916.8 L920.7,916.1 L918.9,916.8 L917.2,916.4 L915.8,915.5 L914.2,915.0 L913.5,912.9 L912.4,911.7 L910.9,911.1 L909.7,909.9 L907.6,910.0 L906.1,909.2 L905.4,907.5 L904.2,906.4 L904.0,904.3 L903.2,902.8 L901.3,902.3 L900.0,901.0 L897.9,900.9 L896.8,900.0 L896.2,898.2 L894.9,897.5 L893.8,896.2 L892.6,895.1 L890.5,895.6 L889.0,895.0 L887.4,894.3 L885.8,893.7 L885.3,891.5 L884.4,890.4 L883.1,889.7 L882.2,888.4 L880.5,888.1 L878.6,887.8 L877.9,886.3 L876.7,885.3 L875.9,883.9 L875.7,881.9 L874.3,881.2 L872.8,880.5 L871.8,879.5 L869.8,879.4 L868.6,878.5 L868.0,876.8 L866.8,875.9 L866.1,874.4 L865.4,873.0 L863.5,872.9 L862.0,872.3 L860.9,871.3 L859.2,870.9 L858.6,869.4 L858.4,867.5 L857.3,866.5 L856.6,865.0 L855.6,863.9 L853.5,863.6 L852.5,862.4 L851.7,861.0 L850.6,859.8 L850.9,857.7 L850.3,856.2 L848.9,855.2 L848.3,853.8 L846.6,853.1 L845.2,852.1 L845.2,850.3 L844.5,848.9 L844.3,847.3 L844.5,845.4 L843.0,844.5 L841.8,843.3 L841.1,841.9 L839.5,840.9 L839.4,839.2 L839.8,837.4 L839.1,836.0 L839.2,834.3 L838.5,832.9 L836.7,831.9 L836.3,830.4 L835.6,829.0 L835.0,827.6 L835.9,825.6 L835.6,824.1 L834.7,822.8 L834.5,821.3 L832.9,820.3 L831.6,819.1 L831.7,817.4 L831.0,816.1 L830.9,814.5 L831.4,812.7 L830.3,811.5 L829.2,810.4 L828.6,808.9 L827.0,807.9 L826.6,806.3 L827.2,804.5 L826.7,803.1 L827.0,801.4 L827.0,799.8 L825.3,798.6 L824.7,797.1 L824.2,795.6 L823.3,794.2 L824.4,792.3 L824.4,790.7 L823.9,789.2 L824.0,787.6 L822.5,786.3 L821.2,785.1 L821.4,783.4 L820.7,782.0 L821.0,780.3 L821.8,778.4 L820.7,777.1 L820.2,775.7 L819.6,774.3 L818.0,773.1 L817.9,771.6 L818.5,770.0 L818.1,768.3 L818.9,766.4 L818.3,764.8 L816.9,763.3 L816.8,761.6 L815.6,760.1 L815.9,758.4 L817.0,756.8 L816.7,755.4 L817.0,754.0 L816.9,752.1 L815.5,750.1 L816.2,748.3 L816.0,746.5 L817.1,745.2 L818.5,744.1 L818.5,743.2 L835,732 L860,725 L890,721 L893,690 L885,655 L875,635Z" fill="#123650" transform="translate(0,5)"/></g>
</g>
<g clip-path="url(#cOrg)">
<rect x="800" y="560" width="400" height="390" fill="url(#gOrgL)"/>
<g mask="url(#maskLow)"><rect x="800" y="560" width="400" height="390" fill="url(#gOrgD)"/></g>
<g mask="url(#maskD)"><rect x="800" y="560" width="400" height="390" filter="url(#fD)" opacity=".8"/></g>
<g fill="none" stroke-linecap="round">
<path d="M921.9,707.6l-0.2,1.0M963.7,756.4l-0.7,0.8M937.7,583.5l-3.4,0.4M1132.4,852.5l1.7,0.5M1115.5,865.6l-1.1,0.4M1107.1,774.8l-0.6,2.0M1164.8,590.0l-3.0,0.2M869.8,691.6l-0.5,0.6M1092.1,748.1l-0.6,1.4M1016.8,603.8l-1.2,0.1M1003.2,576.2l0.0,1.1M1035.6,862.4l-0.0,1.7M901.5,891.3l0.9,1.5M931.6,599.4l1.9,1.4M933.5,680.2l-1.4,2.1M1105.8,668.6l0.8,1.9M1023.2,801.5l1.0,2.4M959.9,736.7l-1.3,1.4M909.6,585.6l-2.5,0.6M1042.2,911.2l-0.3,1.0M958.1,640.5l-2.5,0.8M1123.4,602.2l-0.5,0.4M897.5,727.7l1.9,0.7M1103.2,697.8l0.8,0.1M1127.1,608.0l-0.4,2.4M1099.7,633.9l2.5,0.2M1054.2,581.1l1.4,0.2M925.7,652.9l0.0,0.7M1124.5,580.2l-2.2,1.8M1018.3,619.0l2.5,2.3M1130.3,904.0l3.2,0.3M1147.0,707.5l-1.0,1.5M852.9,664.7l-0.2,1.0M822.3,718.2l-0.2,1.2M1102.4,857.6l2.1,0.9M924.8,677.9l0.8,2.4M1081.6,873.8l1.0,1.5M956.4,608.4l-1.2,2.5M869.2,580.2l-1.7,2.7M928.4,589.1l-0.6,1.8M939.7,716.2l-1.2,1.1M1105.1,622.6l2.8,0.1M1031.0,892.2l1.0,0.3M1089.7,856.1l2.4,0.5M1170.7,686.8l0.9,0.1M973.2,806.0l2.4,0.8M1059.4,755.1l1.1,0.8M1125.8,908.4l-3.2,0.6M1109.6,625.2l0.8,2.1M1002.1,752.1l-1.9,1.9M1155.4,698.1l1.2,0.9M838.0,633.5l-0.4,2.1M860.6,583.9l-0.9,0.3M1002.5,707.7l0.6,0.5M1151.1,805.5l-0.9,0.6M977.3,618.6l1.9,0.8M1103.0,787.0l0.6,1.3M1037.8,737.3l1.8,0.6M1028.3,701.1l-3.2,0.0M1110.9,864.7l2.2,1.0M1116.7,611.7l-3.2,0.5M894.7,803.9l-0.4,0.7M975.3,600.2l1.3,0.7M1004.7,882.0l2.3,1.1M987.9,871.2l-0.2,0.7M886.5,612.5l1.1,1.8M1050.7,661.4l0.9,0.1M952.4,898.7l0.2,0.5M1028.7,726.5l0.4,1.2M1002.6,731.4l1.0,0.1M822.1,689.6l-1.5,0.9M1013.2,670.1l2.8,0.7M844.8,671.8l-1.2,1.0M1007.6,824.3l2.9,1.0M901.2,702.1l-2.8,1.8M847.8,583.8l-1.0,1.5M1043.0,645.3l-1.8,2.9M1166.5,742.9l-0.2,3.3M1038.0,691.0l0.8,0.4M1073.5,693.2l-1.5,0.1M1052.5,700.7l0.4,1.8M1088.6,670.5l-2.6,1.8M1028.5,774.8l-0.5,0.7M815.6,697.2l1.4,0.1M906.6,614.2l-1.0,0.5M1069.6,932.1l-0.6,0.7M872.2,595.5l-0.1,2.6M1033.2,810.5l-1.5,2.6M838.6,693.1l0.6,0.9M949.9,875.1l-0.5,0.1M816.4,616.5l-0.2,0.8M957.9,676.6l0.7,1.7M1024.8,699.3l1.3,2.2M813.3,762.9l-1.0,0.5M1008.4,607.9l-2.6,2.0M1102.6,896.7l-0.5,0.4M1035.1,839.0l-0.7,0.3M956.8,713.9l-2.2,2.1M1123.0,677.0l0.8,0.2M839.2,582.5l-1.8,0.5M968.1,734.8l2.2,2.1M904.8,674.7l2.7,1.2M908.2,606.4l-0.4,0.3M1008.3,690.7l1.1,2.0M1089.6,704.5l-0.9,3.2M990.4,632.6l2.5,1.7M1082.6,682.0l1.7,0.7M1171.9,841.5l1.5,2.8M1032.3,691.3l2.6,0.1M920.8,622.6l0.4,3.0M961.1,714.4l-1.4,1.9M1160.7,577.8l0.3,1.7M827.9,868.3l-0.6,1.3M968.3,876.7l-0.0,1.3M1103.9,858.1l-0.9,0.3M1085.7,926.6l-1.5,3.1M1014.9,627.1l-0.5,2.7M882.3,773.6l-0.6,0.0M1011.1,637.8l0.4,1.2M908.1,686.1l-1.1,0.2M1100.2,874.0l0.5,2.5M1007.5,838.6l-2.2,0.7M1037.2,786.0l1.0,0.0M1054.0,669.3l-1.5,2.6M994.4,581.1l-2.0,1.3M1154.3,847.1l-0.4,0.5M829.6,842.3l-2.7,1.2M1000.5,777.7l0.4,0.9M993.4,702.9l-3.3,0.5M1172.4,705.5l2.7,1.5M1011.8,883.8l1.7,0.6M1048.3,723.1l-2.6,1.7M1166.9,661.0l-0.2,1.7M967.0,628.8l2.1,1.9M1170.5,681.7l0.9,0.7M1095.2,734.0l1.3,2.9M1178.8,690.1l1.9,2.1M1146.4,644.4l1.5,2.6M949.9,636.3l3.1,1.0M970.3,756.8l-0.1,1.3M1019.6,838.0l1.3,2.9M1103.1,688.6l0.5,0.2M880.0,676.2l1.6,0.0M1120.9,654.2l0.7,1.9M890.8,592.1l-2.2,0.1M815.8,736.8l2.4,0.8M1134.6,706.6l-1.2,0.4M978.2,750.1l-0.5,2.8M1132.8,723.6l-1.9,1.7M912.9,734.6l-0.1,1.1M838.1,670.3l0.9,1.2M817.6,744.0l2.2,2.6M934.7,657.6l-1.7,1.5M839.5,702.1l-0.4,0.8M1117.0,678.8l-0.2,1.7M982.1,748.4l0.9,0.1M1096.0,886.5l1.1,0.4M1086.0,868.0l1.2,0.2M852.1,900.1l-0.4,0.4M923.2,876.7l2.5,0.3M911.6,832.3l1.3,0.6M1002.9,661.4l1.5,0.5M834.9,770.0l-0.1,1.4M910.6,856.7l1.8,2.1M1131.3,679.7l0.5,0.9M1016.2,651.4l0.6,1.0M1168.2,771.1l0.6,1.3M1014.2,870.7l-1.1,0.6M1170.8,838.4l-0.7,1.1M847.7,622.5l-1.2,0.2M1011.8,733.3l-0.8,1.2M968.2,887.3l-2.6,1.5M956.5,619.5l-2.4,1.6M1055.2,932.3l1.7,2.7M835.1,629.1l-0.8,0.4M838.9,578.2l-0.3,1.5M840.0,678.0l-1.7,2.0M819.4,875.6l0.5,1.7M1010.8,612.4l2.0,2.8M1155.7,784.0l-0.7,0.1M959.6,892.2l0.1,1.4M941.4,766.6l1.5,0.3M1099.6,681.7l-0.7,0.3M1024.5,906.8l-0.2,2.6M1176.3,765.2l-1.5,1.1M873.8,647.5l-2.9,0.7M973.0,842.5l2.0,2.6M1022.1,833.5l0.2,2.1M1080.6,761.9l-1.9,0.1M1062.1,832.5l-0.0,2.0M955.8,812.0l0.7,0.3M1124.0,857.9l1.6,1.9M833.3,596.8l-1.0,0.8M1060.2,805.1l0.1,1.3M1169.8,756.3l-0.0,0.6M1068.6,866.1l-0.3,1.2M883.9,675.2l0.6,2.2M942.1,816.0l0.1,1.1M1007.9,653.0l0.5,2.4M1070.5,651.5l-1.4,0.6M1018.5,750.8l0.5,0.8M1175.5,635.1l-1.3,1.2M1019.3,894.1l0.5,0.1M1039.6,915.4l-0.0,1.8M975.2,684.2l-0.6,1.1M1086.2,709.5l-1.8,2.6M1146.6,928.5l-3.2,0.3M1008.2,723.2l-0.3,0.4M1025.1,610.1l-0.3,1.2M956.5,822.3l0.4,0.7M1037.1,593.6l0.4,1.3M908.5,779.6l-0.3,1.3M827.4,580.4l-0.1,2.8M1035.4,827.5l2.2,2.2M1056.2,635.1l0.4,0.9M947.3,808.1l0.4,2.5M1085.0,599.6l0.7,1.3M895.6,730.2l0.6,2.0M1089.3,733.6l-2.2,2.3M1140.2,835.0l1.6,2.0M826.8,676.9l-0.5,0.3M912.8,804.3l1.5,2.2M983.2,842.3l-0.6,0.8M1043.6,859.3l0.9,1.2M1137.3,599.8l-0.8,0.0M977.3,821.0l0.3,3.1M871.9,897.3l1.0,0.6M1010.0,686.7l1.4,0.3M1017.1,741.4l-0.6,0.5M847.8,701.5l-2.3,0.5M942.8,620.3l1.2,2.7M1090.9,887.6l-1.0,2.0M974.4,623.1l-0.1,1.5M1070.6,789.3l-1.4,2.8M1058.0,878.1l0.4,2.6M1160.4,605.0l0.9,0.9M1128.8,585.2l-1.2,2.4M1144.6,648.7l-1.0,0.3M827.7,727.8l1.7,0.2M832.3,789.4l-0.6,0.6M1044.4,852.3l-1.3,2.1M959.3,774.8l-3.1,1.7M1113.7,754.4l-1.4,3.1M891.0,623.5l2.0,0.6M1132.6,766.7l-0.9,1.5M1018.2,653.2l0.6,3.1M1177.4,830.2l1.7,2.8M1177.0,829.2l-0.8,3.1M1127.6,590.5l1.8,0.1M872.2,649.0l1.8,1.9M1056.1,590.7l-2.0,1.6M1111.1,706.7l-0.5,1.3M1052.9,892.8l-2.6,0.9M908.0,599.4l-0.7,2.1M934.8,865.7l-0.0,2.4M1071.3,742.1l-0.4,3.1M941.4,808.8l1.7,1.0M834.7,603.8l1.4,2.6M1166.9,655.6l2.7,0.7M1013.8,922.7l-0.2,1.3M966.5,909.0l1.6,0.7M1096.5,833.2l1.0,2.8M1045.3,851.3l-0.8,0.6M1045.3,750.0l-0.4,1.9M812.3,669.7l-2.3,2.5M1171.8,779.4l-2.6,1.3M1030.0,807.1l-0.9,0.2M892.3,651.4l0.1,1.0M1144.5,875.2l0.6,0.7M888.1,673.3l-0.4,0.5M1017.6,866.4l-0.5,1.2M1141.2,755.2l-2.0,0.5M953.0,642.3l0.3,0.5M989.5,702.2l1.2,0.6M926.0,756.2l-0.2,2.0M1089.8,770.0l-0.8,0.9M1124.2,674.9l-0.9,0.7M1177.0,776.1l-0.5,1.7M1066.9,861.9l1.8,0.8M1026.4,714.9l1.2,0.3M969.7,727.9l-0.3,0.4M877.7,677.3l-2.8,1.9M1172.4,688.7l-1.4,3.1M906.0,822.2l0.9,2.2M962.4,822.0l-1.8,1.2M1030.2,796.3l-0.1,0.5M866.8,687.5l2.1,1.5M876.9,682.9l-1.1,1.7M816.9,829.1l0.6,0.6M1031.4,775.4l-1.7,0.0M983.2,793.1l0.1,0.6M1005.5,825.2l-1.7,1.9M911.0,896.4l-0.7,3.0M1123.1,576.4l-1.2,2.4M1157.4,640.2l-0.6,1.6M1149.8,756.5l-1.2,2.5M1069.3,751.1l-2.3,1.2M1071.5,869.7l-1.8,2.5M892.6,689.3l-2.7,1.4M1007.2,608.8l0.4,0.9M1146.0,651.3l-1.1,2.5M854.1,915.8l2.6,2.0M1080.3,920.0l-1.0,1.5M1034.6,618.5l-0.4,3.0M1180.0,833.4l-2.2,0.7M1034.6,696.4l-2.1,0.5M890.9,655.2l-2.6,1.3M964.5,930.0l3.0,0.0M1091.9,640.4l2.1,0.5M1123.7,698.6l2.0,1.0M954.7,825.5l1.0,2.2M1056.7,618.9l0.3,1.7M1084.8,578.5l2.4,2.0M1069.3,844.9l-0.6,0.7M1167.4,626.9l0.7,1.5M848.8,900.7l0.5,0.1M1103.2,887.9l1.1,0.8M970.8,795.8l-1.9,2.0M1158.4,855.7l1.1,0.1M1072.6,930.8l0.5,2.3M999.3,629.8l0.4,1.3M1169.9,823.2l-2.3,0.6M965.9,717.0l-0.4,0.3M1131.1,633.1l1.2,1.4M1026.3,844.7l-0.3,0.5M1038.6,785.3l-2.3,0.2M988.7,650.5l-2.3,1.2M1062.8,803.2l0.8,0.9M818.2,594.0l0.5,2.1M976.8,890.1l-2.8,0.9M884.4,642.5l0.8,2.6M959.3,700.7l-0.1,1.9M1026.2,818.4l1.4,0.7M912.3,684.3l0.5,1.7M1075.8,647.1l-0.1,1.0M1084.2,798.4l0.5,0.9M1025.2,659.8l-2.7,0.9M1132.3,733.6l0.0,2.3M953.3,854.2l0.3,1.0M1155.2,930.8l-1.1,0.9M1154.2,629.6l2.3,1.3M1078.7,765.3l-0.8,3.0M1089.5,919.6l-0.9,0.4M816.9,588.8l2.2,1.8M999.5,889.6l1.2,0.6M976.1,755.7l0.6,0.4M1114.6,733.9l0.6,0.1M819.5,633.1l-0.7,2.4M1150.5,704.6l1.2,0.6M1102.1,598.3l-0.5,1.0M1033.5,807.1l-0.2,1.6M875.5,626.8l-0.4,3.1M1048.5,659.7l-0.9,0.5M1075.5,630.6l-2.2,1.0M913.2,689.2l-1.3,0.4M1101.4,667.8l1.7,0.3M975.4,874.7l-2.1,1.9M869.5,685.1l0.9,0.5M1128.8,759.1l0.7,2.5M1070.5,718.9l0.7,1.2M1025.1,593.8l-3.4,0.7M951.1,738.4l-1.7,2.7M1027.6,829.6l-2.0,0.9M1087.3,673.8l-0.9,0.5M848.2,913.3l0.4,0.3M978.4,825.3l1.8,0.8M893.4,825.0l-2.4,0.6M1072.7,590.0l-0.4,1.2M1089.7,779.1l-2.2,1.0M834.5,657.5l-1.5,2.2M1071.8,801.5l-0.0,1.8M865.0,867.0l1.7,2.1M900.6,904.0l-1.3,0.0M939.5,742.5l-1.3,0.9M1032.0,627.0l-1.7,2.8M1099.5,698.4l-1.7,1.5M1009.0,596.3l1.1,0.5M1068.0,772.4l-0.2,1.0M881.2,766.7l3.4,0.7M1084.0,661.3l0.9,1.5M903.7,711.9l2.5,2.0M881.4,599.3l-0.5,3.1M1001.2,704.2l2.8,0.1M1037.5,670.9l1.9,0.1M901.5,883.1l0.1,1.9M903.0,718.9l-1.7,1.1M1087.1,840.7l0.8,2.9M952.1,875.3l-2.7,1.3M1064.0,595.3l1.4,1.2M987.1,802.2l1.1,1.6M946.2,660.4l0.2,3.0M1139.1,805.5l-2.3,1.0M1036.4,590.7l-1.6,0.8M1158.5,709.5l-1.5,1.1M884.5,798.5l2.2,0.8M1008.8,617.8l3.1,0.2M1124.8,604.6l1.8,1.7M1038.2,903.4l1.2,1.8M833.4,763.2l-0.9,3.2M818.9,696.4l0.7,1.3M990.4,822.4l-1.5,1.9M1096.3,682.8l1.4,0.3M1083.7,676.5l-2.3,2.2M1156.1,708.8l-1.4,1.4M1121.1,732.4l0.7,2.0M865.4,717.0l2.7,1.5M827.8,588.9l-1.5,0.2M1160.4,711.7l-2.1,1.7M875.8,698.6l2.2,0.9M842.7,710.5l-0.8,0.7M1114.2,674.8l-1.4,2.9M925.6,579.1l0.6,2.2M975.9,666.2l-2.3,2.3M841.9,586.2l-1.3,3.1M986.5,904.4l-1.4,2.0M1006.5,828.1l-1.9,1.2M869.3,677.1l0.2,3.0M1137.5,802.3l0.9,2.4M1178.2,839.8l-2.1,0.1M1070.4,583.6l-0.6,0.2M971.1,842.5l-1.2,1.6M1164.1,728.0l0.6,0.9M1044.1,631.8l-0.0,3.1M1074.6,711.2l0.6,0.9M839.0,692.9l-2.3,2.6M909.0,660.2l2.2,1.4M1019.8,636.1l0.7,1.8M1003.3,698.4l-1.3,2.0M914.3,731.9l0.2,1.5M836.4,651.7l1.6,1.5M941.8,806.3l-0.5,2.2M1006.5,773.4l0.0,1.8M837.0,728.2l0.3,3.5M1133.0,635.2l-0.8,2.4M1064.6,701.7l-1.2,1.8M820.4,750.1l-0.8,1.2M814.0,603.0l-1.5,0.5M812.4,863.6l2.1,1.9M1049.8,892.7l1.2,1.0M1031.0,648.3l-1.2,1.5M880.7,924.6l-1.8,2.7M1085.2,743.1l-0.5,0.9M1161.9,767.3l0.5,3.4M853.6,835.1l0.9,0.9M1059.8,802.2l-0.2,2.9M831.7,728.0l-2.3,2.1M1050.2,729.2l-1.3,0.2M904.3,580.0l-1.2,0.7M970.2,810.6l2.6,1.2M1011.1,872.7l2.3,1.4M1012.7,665.0l-1.4,3.2M1065.1,816.9l-1.1,0.7M882.6,605.4l1.6,0.3M1010.2,871.1l-0.7,1.2M933.2,688.9l2.0,0.5M1014.7,773.0l1.4,0.1M864.5,576.2l-0.3,0.5M1022.9,714.1l1.8,0.2M1045.0,854.4l0.3,0.9M1131.7,720.3l-1.6,1.7M813.7,853.6l-0.5,2.0M978.7,616.8l-1.4,0.8M1099.5,720.1l0.1,3.2M1140.0,783.8l-1.7,0.0M938.8,674.2l1.7,0.2M1010.6,919.5l-0.2,3.4M819.6,637.2l1.7,1.0M1161.0,645.9l-1.4,2.7M1042.0,693.1l-1.4,0.4M1149.3,797.4l2.0,1.2M1045.5,781.5l0.7,2.5M880.4,838.1l1.3,0.9M1038.8,916.9l-0.1,0.9M959.8,693.4l-2.6,1.0M988.8,712.7l1.2,1.7M904.4,889.7l0.0,1.2M877.2,646.2l1.1,2.9M1157.7,811.6l0.6,1.1M1095.9,753.9l0.4,1.8M1066.3,663.8l2.3,1.6M1170.5,765.3l0.7,0.6M1101.9,824.7l-0.3,3.4M1054.9,723.5l-2.1,1.3M1087.5,607.4l-2.1,0.8M906.0,710.5l0.3,0.7M1000.9,712.7l-0.9,0.5M884.5,852.5l-1.3,0.9M1030.4,626.3l-0.8,1.0M983.0,773.2l1.1,1.0M827.0,649.5l0.6,0.1M858.3,669.5l-2.6,1.0M1164.5,864.2l0.6,1.6M840.1,622.4l2.5,1.5M1118.1,647.8l0.2,1.1M1021.8,803.2l-0.9,0.1M845.4,648.9l-2.2,0.0M1151.7,650.7l-0.1,1.3M1055.5,707.8l0.0,0.9M883.4,744.4l-0.3,0.4M1068.0,794.1l-0.4,2.0M946.5,770.5l1.4,0.3M1076.3,852.4l-0.2,0.6M847.8,580.4l1.0,0.1M874.9,590.7l-1.5,2.1M1078.2,826.3l-1.4,1.4M855.2,626.9l-0.3,0.5M997.1,606.6l1.0,0.8M999.3,891.6l-0.4,0.8M1024.8,707.7l-1.8,1.8M993.4,924.1l2.0,0.3M1154.2,755.7l-1.7,0.3M1021.8,843.0l2.6,0.1M956.5,721.1l1.8,1.3M925.0,696.4l-0.4,0.3M1087.2,598.4l1.0,1.0M858.2,720.8l0.8,0.2M1012.3,878.1l-0.4,0.8M1171.7,633.4l-3.1,0.6M1117.2,579.6l2.1,0.1M1155.8,628.1l0.1,2.2" stroke="#4a0c34" stroke-width="3.2" opacity=".85"/>
<path d="M1066.2,710.1l-0.1,0.9M939.2,928.8l1.4,1.1M869.0,636.1l-1.1,1.3M1050.5,642.6l-0.7,0.4M975.9,642.7l-0.2,1.3M1001.7,840.1l1.4,1.5M817.5,707.4l-2.4,0.1M1130.8,792.7l-0.8,1.0M818.0,833.3l-0.2,1.0M1149.2,578.4l1.8,1.4M985.0,657.1l1.8,1.2M892.8,729.1l1.3,0.5M939.9,704.2l1.6,0.2M1127.9,715.3l0.8,0.2M989.4,657.5l1.8,0.1M1104.9,639.2l-0.4,0.6M1091.1,697.3l1.1,2.1M945.5,689.8l0.3,0.6M1000.7,721.4l-0.0,1.7M974.3,899.3l0.1,0.7M1114.1,638.0l-0.7,0.2M881.7,809.5l0.2,1.2M1079.3,890.6l-2.4,0.5M978.9,587.2l0.8,0.3M913.5,775.4l-1.4,0.3M943.0,585.3l-0.5,2.2M901.6,753.3l-0.5,0.2M827.0,768.5l1.0,1.7M1054.8,642.6l-0.7,1.1M885.9,844.8l0.3,0.4M1058.9,643.8l0.5,0.8M1089.4,660.8l-0.7,2.2M1172.1,932.5l1.0,0.2M1160.6,878.7l-0.1,0.8M1094.2,639.0l-1.2,0.0M1050.9,920.3l-1.7,1.2M1171.8,707.0l0.5,1.6M906.3,900.5l1.3,1.7M1021.5,665.0l-0.3,1.4M951.7,690.5l0.4,1.9M880.4,841.0l1.5,0.8M993.4,595.3l1.0,0.0M1087.3,615.9l-0.9,0.5M1085.8,737.4l-1.8,0.3M963.8,619.5l-0.1,1.3M887.5,601.9l0.2,1.0M948.2,827.8l-0.7,1.1M949.6,819.3l0.4,1.8M1074.8,654.1l1.2,1.0M1047.1,718.6l1.8,0.5M1004.5,632.9l2.2,0.6M1057.6,651.4l-1.5,2.0M1092.2,815.2l0.1,0.9M1080.6,668.0l-0.3,1.6M855.6,874.7l-1.6,1.9M850.3,933.6l0.5,0.3M1179.7,791.2l1.4,0.0M867.8,657.8l-0.7,1.2M966.7,730.2l-2.0,0.7M1116.1,649.1l-1.0,1.7M958.2,821.4l-0.5,1.4M1147.9,707.1l0.5,0.8M949.2,883.7l1.4,2.0M1099.6,786.0l-1.4,0.6M1156.9,868.3l0.3,1.1M1098.8,690.1l-1.6,0.3M934.6,660.9l0.7,0.5M998.6,691.5l0.0,0.9M1001.0,604.0l1.2,0.3M835.2,840.7l0.6,0.0M825.8,872.2l0.8,2.0M1116.7,675.2l-1.6,0.8M1155.8,632.2l0.9,1.4M904.5,657.8l1.6,0.1M879.1,838.2l1.6,0.6M1038.6,677.3l-1.5,0.8M986.9,623.6l-0.3,0.7M1010.0,723.3l-0.1,0.7M1045.2,600.4l-2.2,0.7M925.7,895.1l-0.9,0.3M1035.6,727.2l0.6,0.2M992.1,666.2l1.8,1.0M826.3,761.1l0.7,0.9M1009.3,590.9l2.2,0.1M1175.0,830.0l1.9,0.8M1021.0,671.7l-2.3,0.3M1026.2,608.2l1.5,1.4M1126.3,721.1l-1.1,2.1M1037.6,598.0l1.2,1.2M1139.5,854.7l0.5,0.9M947.3,664.4l-0.7,0.4M956.2,585.1l0.3,0.6M909.7,782.8l1.9,1.4M877.5,720.7l1.0,0.9M1125.4,781.5l-0.5,0.8M1018.4,614.8l0.3,1.9M907.1,648.8l-1.9,1.3M1075.7,624.2l2.0,1.0M1046.2,777.0l1.1,0.4M996.1,739.8l-0.5,0.4M945.5,718.2l-2.0,0.7M820.4,588.8l0.6,0.6M985.9,620.7l-2.3,0.0M840.2,698.8l1.4,0.7M989.0,590.2l0.5,1.8M1110.0,719.3l-0.5,0.2M909.2,795.4l-0.4,0.4M903.2,585.8l-0.4,0.3M935.0,649.4l-0.1,2.3M1108.3,582.1l-0.4,0.4M1044.6,843.2l1.4,0.8M914.8,732.5l-0.4,0.4M1115.0,875.9l-0.8,0.4M1053.1,597.4l-0.6,2.3M1045.0,641.2l-0.8,0.6M903.8,596.3l0.5,1.1M921.1,690.5l-1.8,0.8M1159.8,625.6l0.2,0.6M1123.1,650.1l-0.5,0.6M1054.2,690.9l0.7,0.1M1151.3,781.8l1.5,0.0M846.2,693.3l2.0,0.4M1032.6,829.5l0.8,1.4M894.0,676.0l2.5,0.0M1018.7,620.8l-0.3,0.6M1090.5,641.7l-1.2,0.7M1046.3,693.7l-0.6,0.9M1128.0,915.4l0.6,0.1M1072.5,691.6l0.5,0.3M1013.9,628.0l0.7,0.5M942.1,852.6l0.2,1.2M913.5,631.3l-0.5,2.2M1145.2,709.4l1.2,1.5M944.7,722.7l-1.7,0.7M977.0,747.9l0.3,2.2M949.0,794.8l-0.8,0.5M1108.8,824.1l0.3,0.6M867.3,624.2l2.4,0.5M920.2,584.4l0.1,0.6M995.8,705.6l-0.9,1.0M847.2,889.6l-2.1,0.4M985.9,928.5l0.4,0.6M873.6,731.5l-0.9,1.1M961.2,725.5l-0.7,0.4M1073.9,619.7l0.3,0.7M940.7,649.6l-0.6,0.2M1039.5,838.8l0.7,0.2M1172.6,845.2l-1.9,1.3M1116.1,645.1l0.5,1.7M1083.4,601.4l0.2,1.0M1098.2,698.2l-1.7,1.5M1104.4,652.3l-0.2,0.9M997.1,802.7l-0.2,1.4M982.4,595.9l0.5,0.5M1177.8,664.4l1.2,0.9M839.4,617.1l0.5,1.7M1087.2,606.3l-0.6,0.6M1034.1,715.8l1.6,0.2M1152.9,815.2l-0.6,0.4M976.5,883.2l-0.5,1.2M1059.6,632.7l-0.5,0.6M1106.6,880.4l-0.4,2.4M1081.4,838.2l0.3,0.8M1110.2,647.8l-0.8,1.4M1126.7,834.5l0.7,0.2M1059.5,619.9l0.5,0.4M1156.6,621.1l-1.1,0.3M1100.4,868.9l-0.2,1.2M1143.2,649.5l-1.5,0.4M1018.0,748.8l0.6,0.2M1064.1,881.8l0.7,0.1M844.2,824.3l-1.4,1.1M1029.0,720.8l2.1,0.3M815.9,752.5l2.0,0.9M1136.0,894.3l2.0,1.4M1024.1,681.9l-0.0,1.1M1081.8,851.3l-0.6,0.0M998.9,721.0l-2.4,0.8M960.0,927.4l-0.5,0.4M1145.8,677.6l-0.7,2.0M985.8,679.2l0.4,2.0M1159.2,646.0l-0.1,0.6M994.8,776.3l0.9,0.7M1113.8,887.2l0.4,2.4M843.1,760.8l-0.7,2.0M948.6,617.7l-0.8,2.0M885.3,924.5l-1.5,0.6M981.6,759.2l-1.1,0.2M863.7,669.1l2.1,1.2M920.5,610.7l-0.5,0.5M1127.0,727.1l1.7,0.5M1044.6,671.4l0.8,0.2M985.3,581.6l-0.9,1.0M909.8,934.9l-0.7,0.9M1085.1,791.6l1.7,1.7M861.9,822.8l0.5,0.3M1157.3,883.4l-1.0,0.5M869.1,856.2l0.9,1.7M958.3,882.3l1.5,1.0M1041.1,766.1l0.0,1.4M1105.4,899.2l1.7,1.3M910.0,641.5l-0.0,1.5M884.7,914.3l0.5,0.7M857.7,684.0l-0.7,1.6M1082.2,742.5l1.5,1.9M1035.9,679.7l0.1,1.1M892.7,600.2l-2.4,0.6M1074.8,687.9l-1.2,0.7M1060.4,620.5l0.5,0.7M937.0,849.3l-0.4,0.4M1075.6,641.3l1.3,1.0M1005.2,914.2l-2.0,0.8M831.4,912.4l0.3,1.2M863.7,610.4l1.2,2.0M935.5,930.0l-1.2,1.3M1014.4,601.6l0.2,1.1M877.3,604.2l-0.5,0.3M1078.0,747.5l0.0,1.9M1044.9,623.4l-0.7,0.9M1119.8,773.3l2.1,0.7M1161.9,802.7l0.7,1.4M1155.4,618.3l2.4,0.3M961.4,898.9l0.4,0.8M1054.7,626.2l0.2,2.3M1105.0,729.0l-0.5,0.9M1122.6,700.3l-0.1,2.5M1001.4,725.1l-0.8,0.7M1131.3,596.2l-0.6,0.5M1088.7,609.9l0.3,0.4M865.4,751.2l-2.4,0.2M866.8,599.7l-0.8,0.3M1023.7,678.1l-2.0,0.1M1011.9,663.5l-0.4,1.5M975.5,754.4l1.6,0.3M960.9,632.1l-0.5,0.3M950.2,720.2l-1.1,2.0M1099.9,698.9l-1.1,1.3M944.3,718.6l-0.8,0.6M865.6,774.4l0.2,0.8M951.9,632.2l-2.3,0.1M1089.8,630.4l-0.4,1.7M917.3,578.1l-0.2,2.3M1075.2,632.9l0.8,1.1M965.6,799.3l0.4,1.5M1078.7,635.3l-1.0,0.1M1055.0,672.3l-0.5,0.1M1056.1,593.0l-0.4,1.4M1056.0,636.6l-0.2,0.8M973.8,677.5l0.8,1.7M1119.3,898.8l0.3,0.9M1083.9,790.7l-0.3,0.8M1050.9,734.8l0.9,0.5M819.6,592.6l0.5,2.2M989.0,645.2l0.2,2.0M831.9,865.1l1.3,0.8M1099.4,897.1l-0.6,1.5M1143.8,878.4l-0.4,2.1M1143.9,664.9l-1.0,1.5M973.3,900.4l-2.2,1.0M984.6,705.8l-1.1,1.7" stroke="#2e2a30" stroke-width="2.6" opacity=".8"/>
<path d="M1168.1,890.6l2.6,0.5M1171.7,872.7l0.4,2.7M822.3,866.5l0.6,0.6M918.3,913.7l-1.3,2.2M860.5,785.7l2.9,0.2M877.5,854.8l2.3,1.5M955.0,890.7l0.9,0.0M897.3,805.2l0.8,0.5M825.3,803.8l0.2,1.4M890.5,813.0l-1.3,1.4M821.6,884.0l0.3,0.8M818.4,921.9l0.5,0.7M886.1,895.9l-1.0,2.0M1162.4,907.7l0.9,2.4M878.8,619.8l0.9,0.1M833.8,881.4l-0.8,2.5M817.5,898.6l0.3,1.2M925.2,903.1l1.2,0.4M874.2,847.3l-1.7,1.0M936.7,877.1l1.4,1.2M1161.4,577.5l-0.4,2.4M848.5,893.6l1.6,0.6M826.6,755.6l0.3,2.3M838.7,781.6l-0.2,1.6M877.1,814.4l-0.8,2.1M1071.9,897.5l-0.2,2.1M888.4,736.5l-0.5,0.4M911.7,772.5l1.2,1.0M1056.8,922.7l1.9,1.7M940.6,877.7l-0.8,2.2M901.2,909.0l-1.7,2.4M994.5,912.6l1.7,1.9M895.2,841.3l1.5,1.2M914.2,922.3l-2.7,0.4M1051.8,584.1l0.3,1.8M849.1,888.0l1.2,0.4M893.7,931.6l-1.4,1.4M897.6,920.5l2.0,0.0M955.0,861.5l-2.1,0.0M843.2,874.4l-2.9,0.3M839.3,748.8l-0.3,0.4M864.8,746.7l2.5,0.3M864.2,910.1l0.5,1.6M1042.2,919.3l-0.1,1.2M864.3,772.9l0.3,0.6M867.9,640.3l-0.5,0.6M841.8,933.2l-1.4,1.4M874.1,863.0l1.4,2.5M893.8,748.8l1.8,0.4M896.2,849.1l-1.5,2.4M1031.5,926.6l-2.1,0.8M1160.7,869.6l-0.6,0.5M984.5,893.9l1.0,2.1M856.9,755.8l1.6,1.7M1150.4,925.3l2.3,0.9M1079.5,902.9l0.9,0.9M1139.6,903.0l2.9,0.1M843.2,934.9l0.8,0.1M846.4,922.3l0.0,2.4M843.4,850.3l0.5,0.6M1175.4,930.0l-0.7,2.1M882.0,774.4l-0.9,1.9M864.9,929.7l1.4,2.5M839.8,774.3l1.1,2.5M1137.4,885.6l-0.3,1.8M983.9,929.3l2.5,0.1M816.4,635.8l-0.8,0.4M821.7,878.7l1.1,0.2M909.0,864.6l1.0,1.1M857.6,899.2l0.8,0.3M966.4,912.4l-1.4,0.3M855.7,577.9l0.6,1.0M995.4,895.5l-0.6,0.9M823.6,808.5l0.8,0.9M856.6,770.2l-1.2,1.0M816.4,736.1l-0.2,0.5M815.7,843.6l0.3,2.0M850.6,928.1l0.5,0.9M985.2,880.0l-0.0,1.9M960.4,849.0l-1.8,0.9M1113.4,924.3l-1.7,2.2M1167.9,925.6l-1.3,0.5M894.6,848.4l-0.9,2.7M887.7,755.3l1.9,0.4M827.0,775.2l0.2,0.8M987.0,888.4l2.4,0.2M818.2,795.1l-2.1,0.3M812.9,757.4l0.2,1.4M878.2,854.7l0.5,0.1M890.6,904.0l2.3,0.1M1073.1,932.4l-1.2,2.6M1093.5,923.1l1.7,1.4M869.8,931.0l0.7,2.0M1178.3,923.6l-0.4,2.6M924.2,906.4l1.5,1.9M855.0,795.0l-1.2,0.5M1018.3,932.5l-0.2,2.2M958.9,891.5l0.3,1.9M960.3,927.8l-0.9,0.5M821.0,808.4l-0.3,0.8M994.6,926.9l-0.5,1.8M866.5,892.2l-1.8,1.2M933.4,594.0l-1.7,0.9M1145.3,927.7l0.5,0.1M1136.2,885.6l-0.5,1.2M890.4,774.2l0.3,2.1M925.5,892.1l-1.8,0.7M928.4,578.8l-0.0,0.6M927.9,929.1l0.0,2.0M877.6,778.0l-0.6,0.9M1106.8,920.9l1.3,0.4M829.3,754.5l-1.1,2.2M927.7,616.7l0.2,0.8M1042.5,907.8l-0.3,2.3M1138.8,933.6l-1.0,1.2M986.0,890.5l-2.6,0.8M933.0,624.2l0.6,0.1M905.1,858.7l-0.0,1.7M815.1,839.1l2.1,0.4M1170.5,909.6l-2.8,0.5M901.6,895.2l-0.7,0.9M1145.6,921.6l-1.8,2.1M869.7,759.6l1.9,0.4M877.3,829.2l-1.6,0.8M862.9,827.5l-0.6,0.3M860.6,834.9l2.8,0.9M843.3,770.3l-0.3,2.8M824.9,866.9l0.7,1.1M861.2,895.1l1.1,0.5M905.7,917.9l0.7,0.3M1045.0,934.4l2.0,1.6M1175.6,923.8l2.4,0.5M924.2,898.3l0.2,1.6M848.4,837.8l-0.4,1.5M888.8,772.8l1.7,1.3M958.9,694.2l-2.3,0.9M987.1,904.6l0.6,1.7M913.4,825.0l-2.6,1.4M870.4,863.8l-1.8,2.1M983.4,575.4l-0.9,1.1M820.5,637.9l1.2,1.2M822.7,743.4l-2.6,0.6M863.8,875.6l0.1,0.5M849.9,811.7l1.9,0.3M822.9,747.7l1.8,0.3M939.3,887.0l0.7,1.9M1069.2,921.1l0.0,1.4M841.1,753.8l1.7,1.5M860.6,639.2l1.6,0.7M915.8,906.8l-1.2,0.7M945.2,846.7l-1.0,1.7M934.9,806.3l-0.5,1.2M878.1,875.6l-0.4,0.8M895.6,823.5l0.5,2.3M911.7,912.0l0.5,0.9M876.4,848.1l1.3,1.1M831.3,918.4l-1.5,0.7M986.3,891.4l-2.4,0.5M1119.3,869.1l-2.8,0.8M894.3,751.3l-1.3,0.7M814.2,669.8l1.1,0.1M970.0,602.0l0.5,0.4M1077.9,877.9l-2.3,1.5M955.7,921.9l-0.4,1.3M881.2,866.4l2.3,1.6M881.0,926.1l2.4,1.7M882.3,751.2l-0.7,0.5M921.2,891.0l-2.7,1.3M818.1,684.9l-0.4,0.6M1034.1,895.3l0.8,2.0M825.2,753.8l1.5,2.0M932.1,846.8l2.4,0.6M881.8,761.0l-0.2,0.7M893.0,880.7l-0.3,1.7M957.6,886.0l-1.5,1.8M919.0,929.3l0.7,2.0M1018.4,901.7l1.2,1.7M890.9,929.3l-0.6,1.1M1177.7,854.9l-0.6,0.8M866.7,777.0l0.1,0.9M840.3,905.3l2.8,0.7M1005.7,918.0l-1.8,0.8M825.3,804.9l-0.2,0.5M1095.5,912.0l-0.3,0.9M816.6,753.0l-1.3,0.1M940.2,909.7l-0.0,1.9M903.0,821.8l-0.8,2.4M904.3,818.0l-1.7,1.0M950.3,869.4l-2.8,0.1M856.8,899.4l0.7,0.0M984.8,922.8l2.2,0.0M896.9,809.6l-0.8,1.5M859.0,794.8l0.6,0.4M844.0,672.4l0.4,0.3M949.9,896.9l-0.6,0.1M965.7,892.5l-0.7,0.4M1144.6,896.6l-2.6,0.2M895.6,918.4l-1.3,0.1M878.7,836.4l0.6,0.7M901.2,762.7l-2.2,2.0M831.6,596.6l-0.7,0.3M833.9,921.5l-1.8,2.0M968.1,887.9l0.1,2.0M859.0,793.6l-1.1,1.0M907.1,844.9l0.6,0.9M886.3,881.6l-1.3,1.5M891.9,625.0l2.2,1.2M1122.8,933.0l2.3,1.0M833.7,864.1l-0.9,0.1M926.6,925.3l-2.4,1.1M829.6,901.6l-2.3,1.5M924.1,859.7l0.2,1.8M1035.2,924.4l0.1,1.4M897.0,922.0l1.9,1.0M991.0,818.6l-0.9,1.5M1142.0,933.6l-2.0,2.2M936.3,688.6l-1.1,0.1M857.0,774.5l0.6,1.2M831.8,753.2l0.7,1.6M847.1,699.0l0.7,0.0M1168.2,919.3l0.9,1.9M884.2,812.2l0.2,0.8M1006.1,930.6l0.4,2.6M1057.4,925.1l-2.0,0.1M866.8,882.3l0.5,0.2M948.2,867.7l-1.4,0.9M891.6,704.9l2.9,0.4M901.3,923.7l-0.8,0.3M847.2,921.1l1.1,1.8M864.6,866.4l-0.3,1.1M1154.7,923.0l-0.0,1.2M880.2,810.5l0.7,1.8M890.2,856.4l2.3,0.2M904.7,888.0l0.9,0.4M903.8,921.1l0.3,1.7M886.5,796.1l-1.4,1.0M1118.7,877.2l1.2,0.1M970.4,922.2l0.6,0.5M885.4,843.3l-0.6,1.3M1121.0,930.1l-0.8,0.6M875.2,906.3l1.9,2.2M836.7,795.9l1.3,0.0M915.5,920.1l-0.2,1.4M817.2,746.7l1.0,2.8M1076.5,911.2l0.7,1.6M912.7,752.5l-1.6,1.7M1054.4,899.8l0.1,1.7M839.6,879.5l-2.6,0.9M1161.8,925.1l0.7,0.3M928.2,853.3l0.7,0.6M950.8,890.1l-2.9,0.2M881.4,871.1l0.6,1.7M906.7,934.3l-0.8,2.5M886.9,917.4l0.9,2.4M905.9,752.8l-0.8,1.4M871.6,694.5l-0.1,0.5M835.7,677.4l0.7,1.5M874.5,894.7l1.4,0.8M869.0,749.3l0.4,2.0M1107.7,930.0l-1.1,0.2" stroke="#8a1f86" stroke-width="2.4" opacity=".75"/>
<path d="M922.4,823.6l0.2,0.4M825.5,850.6l-1.0,0.9M930.5,893.0l1.5,0.9M903.2,928.9l0.5,0.3M900.7,914.3l-0.9,0.3M812.7,884.7l-0.4,1.2M1057.9,904.9l-0.3,1.8M835.5,917.0l0.4,0.5M854.8,839.5l-0.3,1.0M936.8,910.1l0.8,0.1M850.3,874.9l0.4,0.9M849.9,753.1l0.1,0.6M1167.8,908.2l-0.6,1.5M852.1,792.0l0.8,0.7M821.2,638.3l-0.5,0.2M839.2,779.2l-0.2,0.5M875.9,847.0l0.3,0.1M889.7,777.1l2.0,0.1M1169.1,932.2l0.6,0.5M842.1,738.4l-0.3,0.5M925.9,831.9l1.0,0.5M931.9,917.0l-0.1,0.4M901.0,839.1l-0.7,0.8M821.7,783.6l-0.5,0.3M1007.0,919.5l1.2,1.3M845.5,828.5l-1.2,0.5M1020.3,920.0l-1.5,1.0M849.1,873.0l-0.6,1.2M835.3,828.9l1.6,0.0M891.2,773.7l-1.5,0.0M1160.5,918.7l-0.7,0.0M888.0,912.3l-0.1,1.3M817.4,804.9l-1.0,1.6M1040.0,898.2l0.4,0.4M851.1,787.0l-1.4,0.1M1167.9,899.9l0.4,0.9M898.1,811.8l0.4,0.3M852.1,844.8l-1.3,0.9M1038.4,917.9l0.5,1.7M877.5,927.8l-0.5,1.5M891.9,819.5l-0.3,1.3M850.8,820.9l-0.5,0.5M889.1,852.2l0.5,0.2M839.5,907.5l-0.3,0.2M953.0,924.8l0.4,1.6M925.0,883.2l0.1,1.1M898.3,854.6l-1.7,1.1M934.3,583.7l0.6,0.3M1028.2,933.7l-1.1,0.1M819.4,648.5l-0.5,1.7M1121.0,928.0l0.4,1.8M1127.8,914.5l0.1,0.6M1094.8,858.0l0.4,0.2M836.5,613.0l0.2,0.2M913.1,843.0l0.5,1.7M851.4,687.1l-0.5,1.0M878.3,747.3l-1.7,0.9M1099.1,905.2l0.4,1.7M903.9,889.7l1.3,0.4M865.0,886.3l0.4,0.2M820.5,611.4l0.4,1.5M991.4,910.0l-1.1,0.6M879.2,901.2l0.9,1.4M849.6,635.9l-0.2,0.7M814.5,793.4l0.5,0.2M1178.6,933.2l0.1,0.4M869.6,870.8l-0.0,0.6M858.1,780.8l-1.3,0.7M873.9,876.8l-1.8,0.4M894.9,625.6l-1.0,0.1M847.8,612.7l1.2,0.9M969.7,923.0l-1.8,0.0M815.7,760.8l0.5,0.3M926.7,824.0l-0.6,1.8M852.0,770.7l1.4,1.1M943.5,603.1l0.6,0.6M853.1,835.4l0.9,0.7M1044.5,911.4l2.0,0.3M897.3,801.6l0.7,1.0M935.5,895.9l-0.1,0.5M927.8,916.8l0.6,0.3M844.4,796.9l-1.7,0.1M935.0,920.6l-1.6,0.1M853.0,745.5l0.8,1.5M995.3,918.0l0.9,0.4M1155.0,868.9l0.4,0.0M987.3,866.9l-0.3,1.8M823.1,770.5l0.6,1.2M892.0,729.6l1.3,0.7M856.7,883.1l1.2,0.0M1062.8,933.1l0.5,1.5M866.6,595.1l-0.6,0.3M894.9,861.1l1.1,0.2M830.1,761.5l1.5,0.7M1018.7,932.2l0.7,0.6M914.5,933.7l1.0,0.0M900.1,851.6l-1.8,0.3M908.4,931.4l-0.8,1.7M1171.7,928.1l1.1,0.1M816.6,754.7l-1.2,0.7M860.2,759.5l0.3,0.7M917.8,884.4l0.2,0.5M1001.4,879.3l-0.4,1.7M849.5,740.5l-0.2,0.5M832.2,792.9l0.2,0.2M832.7,766.8l-1.6,0.5M860.4,821.3l-0.2,1.0M851.1,792.4l1.3,0.3M822.2,803.6l-0.3,0.2M953.6,840.4l0.4,0.0M905.2,861.6l0.1,0.3M834.0,837.2l1.3,0.6M933.2,914.3l1.3,0.8M867.9,812.0l-0.2,1.1M1094.1,919.2l-0.9,1.0M930.9,916.2l1.2,1.2M916.1,808.4l1.5,1.3M865.0,774.9l-0.3,1.4M927.0,871.8l-0.0,0.5M1072.3,919.3l0.8,0.8M900.1,830.3l1.3,0.1M812.6,750.0l-0.2,0.4M846.3,883.0l0.1,0.8M924.7,926.0l0.0,1.5M955.8,918.2l0.6,0.8M969.8,855.4l1.0,0.2M1047.4,931.5l0.8,0.0M1176.2,883.4l0.6,0.1M942.7,889.9l-0.2,0.5M1172.8,576.8l-0.5,0.7M875.3,738.5l0.4,0.7M881.6,761.5l-1.2,0.2M916.8,885.9l-0.6,0.8M850.3,682.6l-0.7,1.0M839.4,725.1l1.3,1.1M924.4,900.8l-0.5,1.1M1127.6,934.7l-0.0,1.1M901.2,829.4l-0.7,0.2M859.5,753.8l-0.3,0.2M833.3,708.1l-0.3,0.2" stroke="#c24bb4" stroke-width="1.8" opacity=".8"/>
<path d="M1060.1,833.7l0.5,0.1M1163.1,840.4l-2.5,2.4M955.3,607.3l-2.4,0.8M1123.7,721.7l0.7,0.4M1087.8,848.3l2.5,0.7M1080.5,920.2l1.2,0.4M1017.7,818.7l-0.9,1.6M839.7,712.4l-2.3,1.3M948.6,600.8l0.1,3.8M862.1,705.0l0.4,3.7M852.1,726.9l1.1,2.2M1085.5,601.8l0.8,1.8M1098.6,809.8l-1.2,1.4M891.4,765.7l-3.7,1.3M1097.9,882.2l-1.7,2.6M890.6,698.1l-2.4,3.1M1041.2,632.0l-2.1,1.3M831.9,934.9l0.8,2.3M1116.1,839.0l-0.7,0.5M924.6,741.8l3.3,2.0M1043.6,780.6l-0.6,2.1M1030.2,783.1l1.6,0.5M1161.8,800.1l1.8,3.5M862.7,661.8l-3.5,1.6M1058.9,645.7l-1.0,3.2M1040.4,653.3l-3.2,1.3M931.0,714.8l-2.7,1.3M814.3,725.0l2.8,1.1M952.6,674.0l-3.0,2.1M1082.3,657.1l2.1,3.2M972.7,646.4l0.5,1.9M883.4,600.0l-0.7,2.3M1069.1,815.3l0.6,1.5M997.0,868.3l3.9,0.1M1105.7,804.2l0.4,0.3M934.1,721.8l-0.3,0.5M1071.4,635.9l-2.9,0.1M964.8,740.7l-1.5,0.2M1107.8,707.4l-3.5,1.6M1019.8,714.9l0.8,2.6M872.0,665.9l2.3,3.0M1038.3,872.5l-1.9,0.7M1109.0,686.9l1.3,3.0M1003.0,583.2l-0.3,3.8M1082.7,889.2l-0.4,0.7M814.7,735.2l1.3,2.1M942.4,747.8l-2.4,0.7M1071.6,780.1l-1.7,0.2M997.5,861.2l-1.4,2.0M821.4,660.9l-3.0,1.7M1048.0,894.5l2.3,2.0M953.9,727.8l-1.5,0.7M1016.3,606.5l-0.2,3.7M928.7,650.3l0.4,1.9M1131.8,831.4l-0.6,1.6M1013.3,705.0l-1.9,1.4M1069.2,670.4l-2.9,1.7M1056.1,752.1l0.1,3.5M996.2,611.8l2.1,2.9M953.9,749.1l-2.6,0.6M1010.2,757.9l1.2,3.4M893.3,723.1l-1.4,0.5M899.7,631.9l1.2,1.0M1005.8,842.7l2.0,0.7M892.4,647.0l-2.2,3.1M853.3,857.4l-0.2,3.2M1087.8,747.3l-2.9,2.2M1134.3,824.9l-0.5,0.2M1132.2,825.6l-0.3,1.1M925.1,666.6l0.1,3.7M1019.7,830.0l-0.8,2.2M1088.7,635.3l-0.9,0.5M995.5,679.9l-0.5,1.6M851.1,587.2l1.2,0.8M1070.3,627.6l0.5,0.2M1062.6,918.1l2.7,1.2M981.5,638.2l-2.3,1.8M992.6,611.6l-2.0,1.1M995.4,637.3l-0.4,2.0M920.0,785.8l0.2,3.1M937.0,708.4l0.7,0.3M986.3,624.9l-0.3,0.8M993.3,879.3l1.0,2.1M1076.9,606.7l0.8,3.3M1159.6,632.7l-0.4,3.3M1163.1,715.9l-1.7,2.2M928.8,668.6l-2.9,0.3M1128.7,860.4l-0.4,1.2M989.1,700.3l-2.6,2.1M866.4,577.4l1.7,1.2M1027.9,815.5l2.2,1.2M941.3,839.2l-0.3,3.4M1026.3,786.6l-1.4,1.3M912.5,695.8l2.7,1.7M977.9,774.9l0.6,2.2M1174.8,832.6l-0.1,0.5M1050.2,919.9l2.9,1.0M867.3,627.4l3.5,0.0M1089.4,785.0l-1.0,0.8M841.3,674.5l0.4,1.2M952.3,667.8l-0.3,1.9M1162.1,801.9l1.0,1.6M1017.4,850.2l0.7,1.0M959.6,692.5l2.7,2.4M853.8,692.7l3.3,0.3M917.3,607.0l2.5,1.7M1037.5,677.9l0.5,0.2M883.4,679.1l-0.1,2.2M976.1,835.1l2.0,1.6M1070.7,632.1l2.7,1.6M1034.6,770.9l0.3,1.3M1166.1,811.3l-1.5,0.5M1051.4,826.8l0.2,1.0M925.4,648.1l-0.7,1.3M974.5,849.6l0.5,0.5M877.3,902.3l0.5,0.9M963.3,779.1l-0.4,3.3M943.4,741.2l-2.4,1.0M1082.0,850.7l1.8,1.6M1093.1,869.3l1.0,3.8M1075.6,790.8l-2.1,0.9M976.2,695.2l0.6,0.3M1135.9,713.8l-3.0,2.0M993.0,817.9l-2.4,0.6M867.8,748.7l1.3,0.7M950.6,751.2l-1.4,3.0M1033.0,675.6l0.6,2.1M1102.5,757.5l2.4,1.5M878.3,662.1l-0.0,0.8M1157.7,872.5l-1.5,0.1M912.9,792.7l-1.8,0.5M859.1,607.1l-0.8,2.5M918.8,730.0l-1.1,1.2M1038.7,719.9l-0.8,2.8M976.8,677.3l-0.9,1.4M1040.7,654.0l2.4,2.8M819.9,594.1l-2.0,0.3M966.0,622.1l1.9,1.7M866.1,616.7l-2.5,0.3M931.6,691.2l-3.1,0.9M926.8,581.3l-2.1,0.1M877.4,664.4l-1.3,1.9M989.7,814.7l-1.6,1.3M1097.2,742.6l-0.6,2.7M1137.4,660.1l1.1,0.1M923.4,761.7l-0.1,1.3M1167.9,706.3l-0.6,2.4M1163.3,675.0l2.3,0.5M1160.2,745.7l1.7,1.4M847.3,746.7l-0.8,0.1M934.6,653.3l-0.4,0.9M981.3,837.4l2.0,0.2M922.4,722.0l2.8,0.8M1083.0,854.6l-0.7,2.3M832.4,718.6l-2.7,0.5M1040.6,684.1l3.1,2.3M1004.4,725.3l0.6,0.7M892.2,916.1l1.7,0.2M929.8,781.5l-2.3,0.0M1161.1,608.5l3.2,1.8M1147.8,761.9l-2.9,1.4M1095.1,846.1l2.3,2.0M1155.2,602.2l-0.4,3.1M987.3,793.5l1.4,2.1M1022.7,754.6l2.6,1.3M978.0,781.8l1.1,2.0M950.5,725.7l-2.2,0.1M980.4,709.7l-2.2,0.6M1095.5,631.3l-0.6,3.6M1011.5,840.4l-0.3,1.2M948.6,640.2l-3.3,0.1M959.9,792.6l0.7,0.0M1144.3,715.6l1.6,2.5M1015.8,757.1l1.0,1.6M1020.5,590.3l1.8,1.5M835.2,630.3l-1.7,2.0M1029.3,680.0l1.1,0.3M1119.7,926.3l1.1,3.4M1152.9,802.9l3.0,1.7M999.5,770.4l-0.0,2.0M896.0,731.7l2.0,0.2M991.6,616.5l-3.1,1.8M1042.2,771.5l1.1,0.1M882.8,613.9l-1.1,0.3M888.6,762.6l0.8,0.8M935.7,800.6l1.1,0.4M1179.7,635.9l0.6,2.8M948.4,735.9l-0.8,2.8M847.7,682.6l2.9,0.3M813.0,621.2l1.5,1.7M1007.8,585.2l2.0,2.5M1072.6,794.5l-2.2,1.9M914.2,696.1l1.2,2.0M1152.2,655.2l2.7,0.9M1159.6,732.4l1.3,2.6M974.2,645.1l1.7,2.9M1115.9,637.3l-2.1,2.1M1032.6,618.6l-1.7,0.8M1103.7,588.4l-2.8,1.5M1092.5,739.9l-2.2,2.4M1117.9,814.8l-1.2,0.8M1039.3,917.8l0.1,0.7M1101.2,597.5l-2.3,0.2M1126.9,684.2l-0.7,2.3M992.4,795.0l-3.4,1.0M1059.1,787.1l0.3,2.3M976.7,617.4l-1.1,0.6M834.8,581.0l1.4,2.4M1016.3,892.6l0.4,0.5M879.8,622.7l-2.3,0.9M947.8,683.7l-0.9,0.6M967.9,773.3l3.9,0.2M1069.7,710.3l0.9,2.4M999.2,690.9l-0.2,0.7M876.3,687.1l2.5,1.7M930.9,823.8l-0.7,0.7M1127.9,886.7l0.1,3.8M1020.8,626.5l-0.2,1.4M1058.0,893.7l-1.8,1.1M953.0,792.3l-1.7,1.5M1160.5,826.0l3.1,2.0M962.4,905.1l1.8,1.8M1045.7,651.4l2.6,0.9M1036.1,628.3l0.2,1.6M855.7,603.3l2.3,1.0M946.3,734.6l-2.9,1.5M1154.6,627.1l3.2,1.5M1112.6,734.7l0.5,0.4M1081.9,679.2l-0.5,0.9M1171.4,741.6l-0.9,1.0M936.5,661.1l1.6,2.0M856.3,659.2l2.4,0.0M1014.1,594.6l-1.4,1.0M1125.0,657.1l-0.6,3.6M1096.7,718.2l-0.8,2.2M980.1,796.0l1.0,0.6M872.1,672.0l0.4,1.7M1032.5,790.9l0.7,1.6M925.9,718.3l2.6,0.9M923.0,594.3l0.8,2.1M928.1,648.5l0.1,1.7M1157.8,656.7l3.4,0.8M1079.2,692.4l-1.3,1.5M1007.6,669.6l-2.6,0.5M1112.6,651.2l-1.4,0.5M864.4,645.8l-2.2,2.7M1089.4,598.2l-1.7,0.3M1009.0,611.8l-1.8,0.3M975.2,735.6l1.4,0.9M897.1,930.5l-0.0,1.1M1121.1,594.8l0.7,3.9M979.4,632.5l-0.1,0.6M985.4,589.7l-2.5,1.3M877.5,662.7l3.5,0.2M1029.3,662.3l2.5,0.3M1108.8,580.1l0.6,0.3M1009.5,741.6l1.9,0.4M1158.7,695.7l-1.9,0.0M1109.1,691.4l-2.5,1.1M1065.6,764.2l1.0,1.1M964.5,744.6l0.5,0.8M874.2,925.1l-0.6,1.8M934.9,800.5l2.3,1.0M1036.6,806.6l-3.3,0.5M981.4,601.8l0.4,0.4M1178.7,888.6l-2.4,2.1M937.4,626.6l3.6,1.5M1090.5,873.4l0.1,3.1M874.0,685.3l-0.6,1.6M1085.9,733.5l0.9,1.5M1088.7,724.5l1.4,2.5M1107.5,799.2l-0.5,0.5M1169.4,806.8l0.5,1.2M1127.3,638.4l1.9,0.7M827.7,699.0l-3.0,1.0M987.9,688.3l-0.6,0.6M1041.3,597.0l-3.1,1.0M980.6,737.4l0.9,3.2M1076.7,749.1l0.7,0.8M1090.9,638.1l1.5,0.4M1151.4,772.3l-2.0,2.2M1032.5,741.5l-0.6,0.5M949.5,772.3l1.7,0.8M935.0,664.6l-1.9,0.4M1015.1,696.8l-0.3,0.4M1137.3,810.0l1.5,1.1M879.6,604.2l-4.0,0.3M1143.9,832.8l-0.4,1.6M818.6,622.9l-2.4,2.0M824.0,652.7l-1.9,0.4M873.6,671.1l3.1,0.5M1060.9,913.2l-0.2,2.6M1073.1,675.7l-1.0,1.0M941.1,754.9l-1.0,0.0M820.8,726.0l-1.7,0.9M920.0,576.0l1.3,3.7M974.2,602.5l0.9,2.0M1129.3,885.7l0.4,0.7M986.7,813.5l0.4,1.2M1003.0,612.4l-0.5,2.6M1013.8,576.0l-0.5,3.2M1151.0,779.4l0.3,0.4M1041.0,872.0l1.9,1.3M1040.9,728.1l-0.9,0.2M1112.9,832.7l1.7,1.5M1016.0,742.1l0.7,0.4M1052.0,908.3l1.0,2.4M914.2,798.8l-1.6,1.7M983.8,752.1l0.5,1.8M1060.4,816.3l-1.6,0.3M1114.5,920.8l0.7,3.0M1009.8,739.9l1.8,3.4M982.3,773.7l0.4,0.8M1054.1,590.3l-2.5,1.0M979.0,601.1l-1.0,2.6M1053.3,847.1l0.8,0.6M1048.5,784.6l0.9,0.9M1158.2,635.4l2.1,3.3M925.0,712.0l-3.9,0.7M956.7,665.4l1.2,1.3M1137.5,881.5l-0.2,1.1M928.6,591.5l-2.2,2.8M1122.9,925.7l-3.7,0.6M1136.3,723.4l-0.0,0.9M1173.0,810.5l-0.4,3.8M1050.7,897.7l1.5,2.9M1178.4,860.9l-2.8,2.2M1085.3,829.7l-1.8,0.9M938.9,745.0l-2.0,1.8M1099.7,817.0l3.4,0.1M1136.3,633.1l0.7,3.2M883.8,611.5l-2.2,0.1M896.3,880.2l2.2,0.0M843.7,619.9l1.9,1.3M849.2,739.1l-2.2,1.3M1163.6,651.1l-2.0,2.5M1020.2,601.9l-1.3,2.5M962.3,813.6l-1.9,1.7M873.2,640.8l2.3,3.2M830.3,624.6l1.5,0.1M1108.4,686.2l-0.2,3.8M875.0,671.1l0.4,3.6M969.8,712.2l0.7,0.4M995.0,626.7l1.0,1.4M1072.0,640.2l2.3,2.3M963.7,654.3l-0.5,0.4M1009.2,619.5l-2.4,1.5M942.0,837.6l-1.9,3.5M1118.5,789.9l1.9,1.4M1021.1,674.8l-1.0,0.2M885.9,700.5l1.0,3.3M863.7,628.3l-0.3,2.3M1021.1,846.1l0.9,1.4M869.2,765.7l0.7,1.1M1042.8,586.4l-3.6,0.6M1039.5,578.6l-2.0,3.3M1162.4,600.8l2.7,0.3M890.6,719.5l1.2,2.5M914.5,762.3l1.1,3.4M1143.7,778.1l-2.9,0.1M958.6,662.6l2.6,2.0M880.8,597.7l0.9,0.9M1059.9,798.0l-0.3,1.8M905.9,600.8l-0.7,0.3M834.8,673.1l1.1,1.3M1154.3,600.4l1.8,3.1M958.9,756.8l1.9,2.9M1063.8,641.6l-1.0,0.1M969.8,706.3l2.9,1.2M855.2,597.2l0.2,0.6M1066.5,854.2l-1.8,3.5M1135.0,826.9l-2.4,0.1M905.7,663.1l3.9,0.7M1051.0,660.8l-1.7,1.9M945.0,628.0l3.5,2.0M816.9,899.4l-0.3,3.5M970.7,634.0l-0.7,0.2M829.8,656.7l-0.9,0.7M1174.0,835.8l1.0,0.4M899.0,603.8l-1.2,0.5M1002.1,715.3l3.2,1.5M934.8,708.6l-1.9,2.5M1021.1,640.1l-3.5,0.8M1122.5,765.8l0.7,3.4M1023.7,736.9l0.2,2.8M1124.6,844.5l-1.0,0.1M916.6,586.0l1.5,0.3M1064.0,595.2l-0.1,1.1M1108.2,665.6l-1.5,2.5M1125.3,601.6l-0.8,2.3M1128.3,759.2l0.3,1.5M1132.7,623.4l-0.8,1.0M1042.4,657.6l1.8,1.8M995.9,769.8l-1.1,3.1M832.9,622.7l0.2,0.8M1068.6,843.5l-1.9,0.1M848.8,721.4l1.2,0.6M976.3,720.9l1.9,2.8M1070.8,817.8l-2.5,2.7M827.9,678.4l-1.7,0.0M1034.8,765.7l-0.8,3.8M1044.2,672.1l1.1,2.1M1015.9,779.8l-2.8,1.8M1060.8,581.3l1.1,1.3M965.6,823.2l-2.5,2.1M1011.1,739.3l0.1,1.1M1115.9,816.0l1.2,1.1M1083.8,619.7l0.5,1.8M1076.0,899.7l-2.0,0.0M994.0,656.8l2.1,0.7M1155.5,891.2l-1.7,1.7M1038.0,662.0l-3.3,1.4M1131.8,661.0l2.7,2.3M900.2,614.1l-0.8,0.6M957.0,764.6l-2.3,2.3M1134.9,816.9l-2.1,1.7M981.5,753.8l1.7,3.6M915.9,661.2l-2.4,0.6M1141.7,890.9l3.4,0.0M1178.8,854.8l1.0,0.4M892.2,621.3l-0.8,2.2M1064.7,704.3l-0.4,0.3M1140.9,760.9l2.6,2.7M1174.6,719.5l0.9,1.9M1114.1,827.0l-0.0,0.7M1033.9,857.1l0.7,3.2M1095.5,730.2l0.2,0.7M873.3,750.8l1.2,1.2M1164.7,662.4l3.0,1.2M1127.3,829.1l2.3,1.2M1159.3,864.1l-1.7,3.1M1145.4,906.8l-0.0,3.9M1119.3,666.1l1.7,3.4M844.0,693.1l1.0,1.1M1149.4,810.3l2.1,2.5M1132.4,879.2l-2.4,2.8M1047.2,815.5l-0.2,1.0M1162.9,793.4l2.1,2.2M1082.2,744.7l0.5,1.6M992.1,758.7l0.7,0.2M854.6,623.4l-1.9,2.3M1096.9,690.3l-0.3,2.7M947.1,750.3l-2.5,1.7M1152.9,614.9l-1.2,2.4M1059.8,692.6l-1.1,0.4M1121.5,833.4l-1.9,0.2M949.9,930.9l-1.8,1.4M920.0,631.5l0.2,3.3M1148.7,830.6l-0.9,0.6M1039.9,676.2l1.1,0.6M1124.4,832.2l-3.6,0.3M897.3,708.5l-3.6,0.7M987.3,751.9l-1.6,0.7M835.8,722.1l3.9,0.4M821.4,880.3l-1.6,2.8M1046.1,601.2l0.9,1.7M869.3,616.7l0.1,3.4M1119.0,848.8l-2.0,0.1M1023.7,641.9l0.5,0.4M921.7,733.2l1.2,0.4M1087.4,643.7l1.6,1.9M857.0,655.8l-2.8,2.6M1179.7,651.3l1.1,0.6M829.0,724.9l0.6,2.8M1061.5,796.3l-0.5,2.8M903.1,627.8l-2.3,2.8M982.2,576.4l-0.4,0.7M987.1,770.2l-0.2,0.6M1076.7,580.0l-0.2,0.6M1013.3,818.3l-0.5,0.9M1128.0,647.0l-0.1,2.4M1056.4,695.1l3.3,0.8M868.8,601.3l-3.2,1.0M937.1,594.2l2.1,1.4M1068.2,768.2l0.4,2.4M935.1,577.2l-0.8,0.5M871.5,751.7l-0.3,0.7M1075.5,777.5l-2.1,2.8M913.7,724.0l0.1,1.3M906.2,671.9l-0.1,3.7M1064.5,652.5l3.0,0.4M983.3,669.9l2.0,0.8M933.1,812.1l1.1,1.2M981.7,615.6l0.3,0.5M1092.3,640.7l0.1,3.1M1162.6,684.8l-2.0,0.6M1030.9,613.2l-1.3,1.0M956.9,577.4l-2.3,1.0M1023.6,624.9l0.1,0.8M987.0,850.6l-0.9,3.3M1117.2,644.7l-0.4,3.9M1164.2,890.3l-3.3,1.3M948.0,611.9l-1.3,2.8M833.1,679.0l2.2,0.4M1042.9,706.9l-1.3,1.4M1036.4,733.6l3.5,1.9M960.9,839.1l0.6,1.8M1106.6,878.4l1.4,2.3M981.4,780.6l0.2,0.7M922.8,581.8l0.6,2.3M884.6,724.0l0.8,1.6M1113.9,733.9l-1.3,2.1M955.3,831.0l0.3,0.6M1067.6,694.5l-2.6,1.2M1107.1,678.4l3.2,1.6M1006.5,894.0l-1.1,1.5M924.6,597.5l1.3,1.3M860.3,613.0l-3.0,2.7M1133.7,833.0l-2.3,1.8M1152.0,755.9l-1.1,0.8M1071.6,680.8l1.8,2.5M950.2,846.8l-0.5,3.0M894.7,675.8l3.2,0.7M926.4,792.0l-1.6,0.8M1112.6,582.3l-2.7,0.6M975.6,829.0l0.8,2.5M982.7,733.1l-2.1,0.7M876.1,667.7l-2.5,1.7M1079.4,674.7l2.3,0.4M1172.4,648.6l-0.2,2.1M1060.0,653.1l-3.7,0.9M1095.0,592.3l-0.3,0.6M1159.3,751.4l0.4,2.5M1171.9,692.2l0.7,3.9M921.1,845.5l-2.7,2.2M1172.3,677.3l-0.6,0.4M922.3,606.8l-3.0,0.2M1119.8,828.4l0.6,1.3M895.9,712.5l1.1,3.8M991.5,726.6l-0.2,0.9M895.8,765.9l0.3,3.9M966.4,695.8l-0.4,0.5M991.6,696.7l-1.1,0.3M983.2,722.5l-0.6,3.5M973.1,804.1l0.5,2.1M1066.3,768.0l-2.1,0.9M940.2,616.8l0.7,0.9M1020.4,846.1l1.3,0.1M956.4,879.1l1.9,0.3M1070.4,681.6l0.4,0.4M949.6,826.9l-1.1,0.8M1024.8,722.3l-1.4,0.3M990.8,785.8l1.9,0.4M937.9,697.7l-2.0,1.5M939.3,918.5l-0.6,2.2M906.8,659.3l-1.7,0.0M1098.7,879.7l-1.8,2.2M1164.8,743.2l2.2,0.1M1045.3,677.0l1.1,1.7M927.7,603.6l-0.0,3.8M967.3,593.2l3.5,0.4M914.0,740.8l-1.9,2.0M1126.7,778.2l0.7,0.7M1110.8,705.0l1.3,3.3M1174.9,787.5l-1.5,1.6M942.1,656.3l0.7,0.6M948.5,693.3l-1.0,1.4M894.2,724.7l-2.8,2.2M1157.5,846.0l2.6,1.6M830.1,631.9l-2.2,1.6M1131.9,786.2l3.9,0.3M1169.6,720.2l-0.3,3.4M1013.7,645.4l1.3,0.2M1095.8,667.0l-3.0,1.1M825.4,719.6l0.2,1.0M1012.8,891.0l1.9,0.7M1080.9,782.7l-0.7,3.1M833.8,609.9l-3.9,0.1M1014.3,806.6l-3.2,1.6M957.0,838.3l1.3,3.8M1041.8,777.0l2.2,1.1M853.5,631.7l0.2,0.5M954.3,575.0l-1.6,0.2M841.2,597.3l-1.5,3.6M1082.6,906.5l0.3,1.3M929.0,628.8l2.9,0.5M1004.3,815.9l-0.1,0.5M827.0,627.0l0.9,2.1M989.8,672.7l0.5,2.0M1060.5,611.5l2.8,1.2M886.1,676.9l1.4,0.3M1055.8,860.7l0.8,0.6M1082.5,710.1l-0.6,0.3M1060.0,629.4l1.1,1.5M888.2,646.3l0.4,1.2M1077.6,845.4l2.4,1.9M980.7,867.5l1.4,2.4M1096.9,770.6l3.0,0.2M1002.3,861.0l-0.4,0.8M865.7,672.6l-2.5,2.5M1075.8,628.4l2.8,1.9M912.5,720.7l-1.5,3.4M1159.3,720.0l1.7,0.3M1158.7,668.2l0.8,1.0M923.4,731.4l-1.7,2.4M1026.0,661.0l0.7,3.1M962.9,591.3l-0.2,2.1M910.2,713.7l-0.5,1.8M972.6,741.9l3.0,1.4M1046.0,751.0l1.5,0.4M977.2,853.3l1.6,0.7M1051.9,781.3l-0.8,0.2M1008.1,800.7l-1.2,0.3M906.8,645.0l-2.9,1.2M1052.0,752.0l-2.6,2.0M1061.8,693.4l-0.7,1.7M998.9,622.0l1.1,0.5M1011.8,579.1l-3.4,0.4M1171.9,678.5l-2.8,2.1M1123.2,920.8l3.5,0.7M1110.3,848.7l2.3,0.6M1004.6,822.9l2.1,1.9M1051.5,908.0l-0.9,2.4M1161.0,867.3l0.6,2.2M1046.3,700.8l0.2,2.0M849.2,716.1l-1.5,0.6M1159.0,724.1l0.8,0.2M960.0,646.1l-0.6,1.2M1018.1,773.4l-0.4,1.0M1114.0,683.2l-1.3,0.6M990.2,669.6l-2.7,2.8M942.8,685.4l2.4,1.0M1012.0,715.7l0.6,2.0M911.3,711.1l-2.4,1.1M1054.5,891.1l2.7,0.5M879.6,674.6l2.9,0.1M901.4,583.3l1.0,1.4M1146.8,579.5l1.4,0.5M1137.4,725.6l-2.5,0.4M985.3,720.6l2.1,0.1M1133.4,624.6l3.7,0.9M1047.5,848.2l-0.6,1.4M1127.7,895.4l1.7,1.3M1021.7,913.6l0.0,1.0M925.6,595.4l-0.5,0.3M968.5,737.8l-0.1,3.6M881.2,731.4l3.5,0.4M957.3,843.6l-1.6,2.6M1078.2,583.4l-0.5,1.1M957.5,681.5l1.2,1.6M967.6,614.5l2.9,2.4M947.1,873.7l-2.4,0.8M894.8,581.8l-0.1,0.7M1044.1,838.5l-2.5,1.1M1171.2,744.2l-2.3,1.3M1071.8,784.9l0.4,0.3M1069.6,621.4l-1.3,1.3M1114.1,933.9l-0.5,0.5M865.0,705.4l-1.2,0.6M1031.9,580.6l1.4,1.4M1063.0,657.0l1.5,0.8M828.6,590.2l-0.7,0.5M933.5,712.4l2.7,0.8M1079.9,591.7l3.3,1.8M1150.3,783.1l-1.6,3.1M1005.6,640.6l-0.3,1.5M975.3,857.7l1.4,1.4M812.1,596.4l-2.2,2.2M874.9,618.0l0.7,1.4M994.9,731.5l0.8,0.4M1086.0,722.1l-0.8,2.1M1130.8,662.1l-2.0,2.2M978.5,595.0l-2.2,3.2M1098.7,823.4l1.3,0.4M879.8,841.0l-3.2,1.9M1139.1,679.2l0.1,1.0M983.5,812.8l-1.3,0.6M1175.6,807.1l2.4,1.7M903.4,600.6l-0.5,0.4M942.7,806.0l-0.2,1.4M1134.8,657.4l0.8,0.1M1049.6,765.8l-2.7,0.1M831.4,618.5l-0.6,2.0M1173.1,626.8l-0.2,0.9M1157.0,706.9l0.8,1.5M1121.6,791.3l2.9,2.6M1109.2,822.9l-1.1,0.4M988.9,852.3l-1.7,1.6M1151.4,589.4l-0.6,0.5M1096.9,626.1l1.3,1.0M948.2,748.7l-1.1,1.1M946.6,631.5l2.6,2.6M1075.0,853.0l-0.4,2.0M988.0,762.7l-0.8,0.3M971.6,617.2l0.0,0.6M1081.3,869.5l0.1,0.6M967.4,799.4l-0.3,0.6M1021.9,892.4l0.7,3.0M962.3,689.2l-1.5,3.6M953.5,872.2l1.0,1.1M878.3,627.4l1.8,1.8M1115.6,608.1l-1.2,0.8M965.4,655.1l3.7,0.2M1060.9,599.6l1.1,3.0M1001.3,656.6l4.0,0.2M1179.2,625.4l1.3,2.3M1126.8,622.1l3.2,2.2M1040.4,814.5l2.4,2.5M1117.2,615.2l-1.1,0.5M1021.7,649.9l1.6,0.7M1085.4,732.2l0.4,3.7M895.9,680.1l0.6,1.7M913.7,723.1l1.9,2.2M991.7,849.8l0.5,0.5M1093.7,629.3l-2.2,1.5M981.6,655.4l0.6,3.2M1148.9,789.9l0.3,2.4M1077.8,757.0l0.1,2.4M916.5,721.1l0.7,2.6M900.0,669.6l2.2,2.9M978.7,755.0l-0.8,0.8M940.8,817.3l1.2,1.9M1065.6,761.1l-2.8,2.4M906.0,735.9l0.4,2.4M1157.4,646.2l-0.8,3.3M904.3,826.0l2.3,1.0M852.0,724.4l-0.4,0.4M1140.9,615.3l0.6,0.9M947.6,733.8l0.9,1.4M971.9,725.3l-1.0,0.0M929.8,711.0l-0.8,0.5M923.9,818.5l1.9,3.0M1110.3,822.4l0.7,1.6M1109.2,658.3l2.3,0.0M1065.7,803.8l-0.6,0.1M1094.5,799.2l-0.9,1.2M1007.4,867.1l-0.2,1.4M1024.7,586.2l-2.2,0.5M962.4,719.2l1.2,1.5M884.9,886.7l1.9,0.3M1088.4,803.2l2.2,3.0M966.3,728.9l0.3,0.5M943.5,599.8l-1.7,2.9M952.1,591.6l-0.6,3.9M1125.2,730.7l-2.8,2.1M1058.7,883.7l-3.1,1.0M935.0,774.9l-2.0,3.1M1016.1,674.9l3.8,0.2M1159.7,709.4l-0.6,1.4M979.6,607.7l-0.5,0.8M1095.7,704.9l-3.5,1.1M1019.0,767.8l3.3,1.3M1096.2,745.6l1.1,0.9M1159.2,625.4l0.2,1.0M983.6,716.3l-0.2,2.0M877.3,922.0l-0.7,0.4M1127.4,873.6l1.2,0.2M978.5,896.4l0.4,0.5M1000.2,853.8l0.6,0.3M1070.3,723.6l-1.7,1.8M914.1,639.7l-2.3,2.1M879.2,714.7l-1.3,3.8M1092.5,708.7l2.8,0.2M975.3,851.7l0.2,2.4M1144.9,788.0l2.5,0.4M1055.2,726.1l-1.8,2.3M966.7,801.9l-1.7,1.4M822.8,686.2l3.3,0.2M968.9,810.3l-1.5,2.5M1132.8,640.2l-1.6,0.8M1031.8,788.3l-0.7,1.8M1169.0,607.3l0.4,1.1M815.7,722.2l-1.5,1.6M1123.4,699.6l2.4,0.2M863.1,678.9l1.8,3.1M1096.3,605.9l-1.5,0.5M972.6,781.4l3.6,1.7M893.6,612.4l-0.5,2.2M860.9,920.4l-0.9,1.4M1178.3,643.5l1.0,0.8M845.9,685.6l1.0,0.9M948.9,897.6l0.8,0.4M908.0,829.4l2.5,1.7M1044.1,794.5l0.9,1.5M1141.1,712.5l-0.9,0.2M1059.1,718.1l1.4,0.5M947.5,580.8l0.1,2.4M1140.7,602.3l1.8,2.5M921.8,605.0l0.7,2.9M1032.1,640.1l-0.8,2.5M909.0,579.4l1.3,1.9M1133.0,843.4l0.9,1.1M1019.6,704.4l0.6,2.6M1109.8,891.0l2.7,2.8M1024.2,657.3l1.9,2.0M1175.1,718.6l0.6,2.2M1088.1,774.2l-1.0,1.1M1087.0,804.2l0.5,2.8M988.5,757.3l0.4,0.8M1061.7,806.7l0.4,0.8M1026.6,611.1l0.8,1.4M1140.8,629.9l-2.5,2.6M1043.3,892.9l3.7,0.2M1022.0,625.5l-0.1,0.9M1144.6,795.2l0.5,0.3M911.8,595.0l-0.1,0.5M1030.8,793.4l-3.6,0.6M1034.2,638.2l-1.7,1.0M1055.2,614.2l-4.0,0.3M1020.2,858.6l-1.4,0.3M1061.5,922.7l-1.1,0.9M824.3,715.5l-2.6,1.3M1170.7,885.2l2.1,0.2M1115.7,580.2l1.0,1.5M831.7,710.4l-2.4,0.3M1178.9,854.8l3.6,0.0M945.7,749.4l1.6,0.5M1088.7,605.5l-1.1,0.2M1097.7,892.5l-0.8,0.6M972.7,808.1l-0.7,1.0M1041.6,867.2l1.4,2.3M978.2,591.7l-1.7,0.3M901.5,786.1l1.9,1.5M1087.3,713.7l0.9,1.9M1116.9,652.4l-2.4,0.5M933.6,642.4l-0.5,1.0M941.9,706.4l0.5,3.9M1052.2,701.7l-2.1,0.7M1049.9,657.6l-2.1,1.1M1007.1,744.5l1.2,1.0M1098.9,696.9l1.3,2.4M1133.4,888.9l1.8,2.6M936.1,706.4l0.2,3.5M1003.7,682.3l-1.8,1.4M815.1,639.3l-2.7,1.8M1027.2,629.5l-0.1,2.4M1135.7,868.4l-0.8,1.4M1098.3,917.1l3.1,1.5M972.3,784.0l-0.7,0.3M1016.8,665.8l-2.4,2.3M1042.6,830.9l-2.0,1.2M967.0,692.6l1.4,1.6M1070.0,778.2l3.0,1.4M902.6,725.5l-0.1,1.6M931.9,809.3l-2.4,1.3M990.6,707.6l0.4,0.4M890.5,666.1l2.2,2.3M1103.8,793.8l-1.0,2.4M1100.6,714.5l0.6,2.0M1143.6,883.6l-1.0,2.2M1060.5,855.9l1.6,0.6M1020.8,800.8l-0.2,3.1M1171.2,665.5l1.7,0.4M1010.2,744.3l-3.4,0.2M987.9,632.3l1.0,3.0M974.9,687.0l-3.5,1.4M1004.9,791.5l1.1,0.2M987.5,650.3l2.7,0.5M1154.3,803.3l3.7,1.3M1021.8,880.2l1.2,1.0M846.6,739.0l0.6,0.6M979.5,799.1l-1.7,2.6M1097.0,858.4l-0.0,0.9M1063.1,691.4l1.4,3.7M1124.0,757.6l-0.3,0.7M947.5,588.7l-0.1,1.2M1098.1,723.8l3.5,0.6M1174.7,577.8l0.5,0.6M1064.6,802.7l-0.9,0.6M857.8,598.1l0.1,2.5M1154.5,813.6l3.8,0.0M1006.0,738.8l1.4,3.3M1023.7,832.5l-3.3,2.1M1124.9,742.4l0.7,1.1M1070.5,817.6l-1.2,0.2M895.9,710.0l-1.2,2.5M939.4,779.3l-1.8,0.1M1055.8,721.5l0.4,3.0M1042.5,869.2l3.2,0.0M870.3,821.2l0.5,1.7M994.7,600.4l-0.1,1.3M1005.0,589.4l-1.7,0.8M1110.8,605.3l1.3,1.7M923.9,661.6l1.9,1.3M1157.3,602.4l2.4,0.1M1056.9,694.3l0.7,0.3M1062.8,901.5l-0.8,3.7M1177.1,713.6l0.7,0.6M1026.0,659.3l2.8,2.0M1108.5,772.9l0.5,0.9M1042.4,607.8l-2.5,1.9M976.6,760.9l-1.4,0.6M936.5,642.0l-1.5,0.5M1035.4,732.7l-2.2,2.7M1020.8,718.4l-1.5,0.7M1165.5,592.8l-2.9,1.4M851.8,875.7l0.7,0.1M1104.4,755.7l-1.9,2.9M879.4,585.1l-1.1,2.7M1107.4,704.7l1.6,0.6M1004.0,757.2l-0.4,3.3M911.7,658.1l-1.9,0.5M868.4,587.3l2.0,3.0M912.1,852.0l0.4,3.4M1051.4,659.2l-1.5,2.9M998.8,902.7l1.6,0.6M1102.9,933.4l1.6,2.2M820.0,652.4l-0.2,3.5M947.8,852.3l-1.3,1.9M966.2,674.0l-2.5,0.8" stroke="#e0309c" stroke-width="3" opacity=".9"/>
<path d="M1079.0,752.2l-0.6,0.1M967.7,659.5l2.1,1.1M1053.0,710.6l1.1,0.2M1061.0,669.3l0.5,2.9M1072.2,825.0l-2.7,1.6M1156.4,739.0l0.9,1.6M1161.4,830.2l2.7,1.4M1111.7,797.4l-3.5,1.3M909.5,606.8l1.3,0.8M1110.9,882.5l-2.0,0.3M1089.2,670.1l0.3,3.9M847.0,633.0l0.8,1.4M953.7,794.4l-2.4,0.1M1107.5,726.3l-0.9,0.3M1145.5,766.5l0.9,2.2M1107.9,902.0l1.1,0.0M991.1,623.6l-3.7,0.7M1091.1,790.7l0.3,1.6M1109.2,791.8l3.7,0.6M1027.9,766.8l-1.5,3.5M1071.6,772.7l-0.3,1.7M822.8,600.0l-0.7,3.3M993.6,708.6l2.7,1.6M895.5,590.6l-1.7,0.1M1151.8,789.0l1.5,2.6M1153.6,647.0l0.5,3.2M1069.2,763.9l-3.9,0.6M1003.8,667.6l-0.8,0.7M1109.4,645.9l2.1,0.5M1078.5,599.5l-2.7,1.6M1015.7,698.1l-1.7,1.6M1019.5,702.2l-2.1,1.9M1072.1,683.3l0.1,2.2M1079.6,711.1l-0.6,1.0M1060.5,732.7l0.3,1.6M1093.7,843.4l1.9,0.2M975.0,731.5l1.5,0.7M851.0,678.0l-1.0,3.0M1078.9,812.4l1.1,0.9M847.3,683.9l3.1,0.2M938.3,613.1l-0.9,1.0M826.9,814.0l-1.4,0.8M1177.5,850.3l0.9,0.0M1178.1,761.5l-2.4,1.2M964.7,711.8l-2.0,1.4M975.8,833.2l1.8,0.6M838.7,615.4l-0.9,0.3M1141.1,685.8l1.4,3.3M831.0,687.4l1.8,1.7M1149.9,689.3l1.7,1.5M943.8,699.2l2.2,1.5M1071.6,711.4l1.7,1.5M918.5,750.5l1.1,1.7M1090.1,741.8l0.9,3.7M982.6,682.0l1.4,2.4M912.6,754.3l-1.2,2.1M1028.4,819.7l2.2,1.8M944.4,753.3l-1.2,0.1M1143.5,696.6l-0.2,0.9M998.5,701.7l2.2,1.2M1087.6,928.0l-2.6,0.2M854.4,697.8l-0.2,0.7M1111.3,733.3l0.3,4.0M1149.7,692.7l-1.8,0.7M1167.7,762.8l-1.0,0.2M937.7,747.1l0.5,0.4M878.2,645.1l-1.6,0.9M884.2,642.2l3.1,1.1M858.0,733.9l1.3,2.8M887.4,602.2l0.7,0.1M1138.6,906.8l1.3,2.1M1075.0,905.5l0.4,0.7M945.3,866.8l-1.3,2.9M1033.8,750.9l-0.4,1.0M1114.9,756.0l1.9,3.1M841.2,650.8l1.1,3.4M1051.7,606.9l1.1,2.3M1072.0,730.3l-0.5,0.4M1037.9,837.2l-0.1,2.1M951.5,632.3l1.9,0.4M839.7,650.5l1.6,1.0M1103.7,779.2l-0.4,0.6M814.0,724.7l3.0,2.3M1153.0,753.8l0.8,0.8M1043.5,723.0l-0.9,1.0M1168.8,711.9l-1.4,2.7M1113.7,759.2l1.4,2.1M935.6,789.0l-0.9,2.3M1009.7,592.8l-1.2,0.9M1045.5,820.0l-2.5,0.2M988.5,830.6l-0.4,2.2M1153.5,590.9l2.9,1.7M1152.6,580.7l-1.2,2.0M904.0,644.2l-0.0,1.2M870.0,646.1l0.2,0.6M848.6,776.2l1.8,1.1M845.7,888.3l0.9,2.3M1102.7,681.9l3.5,0.4M932.6,898.2l0.6,1.6M995.1,842.6l2.5,1.2M1042.4,660.8l1.1,3.6M1027.1,665.7l-2.5,1.9M1121.5,769.7l-2.7,0.2M988.2,716.9l1.4,0.9M1011.6,763.2l-0.4,0.9M888.0,698.4l0.9,2.2M1172.3,871.4l0.2,3.0M941.9,694.0l-0.3,1.9M1129.9,586.7l0.5,2.7M1109.1,764.9l-0.8,0.6M1100.2,642.4l0.2,0.6M969.9,623.0l-0.0,0.5M1080.8,852.6l1.7,2.2M1067.7,820.8l-1.7,1.7M1010.5,699.1l2.1,1.1M1153.5,721.1l3.4,2.0M1090.4,848.4l-2.0,1.0M844.6,726.2l-0.6,0.2M1077.9,748.5l-3.2,2.3M1027.7,823.0l0.5,0.9M1098.4,791.0l-0.5,0.3M928.9,589.1l-1.2,2.1M991.5,584.6l-0.8,3.2M997.8,740.7l0.3,0.6M1027.1,809.6l2.6,1.7M1029.2,609.8l-1.2,2.1M838.9,597.5l-1.8,1.6M946.8,639.1l-2.0,1.9M894.7,683.5l1.2,3.4M941.7,780.7l-1.2,1.9M948.0,653.4l0.7,1.3M1133.0,590.4l2.2,0.8M1149.0,608.0l0.8,0.7M835.0,672.5l-1.7,2.5M1173.7,712.4l-0.6,1.9M952.5,724.8l-0.7,1.5M990.9,720.5l-0.4,0.3M945.0,628.6l-1.9,1.7M918.5,692.1l-0.4,1.9M986.8,700.5l0.9,1.3M987.6,764.1l-2.7,1.1M1077.9,597.5l-2.9,0.6M1062.8,867.7l-0.2,0.9M1097.9,845.2l-2.6,0.7M1009.0,866.1l0.1,2.2M923.7,635.1l1.0,2.9M962.8,930.4l1.0,2.7M1138.4,650.3l0.0,0.8M1110.5,910.2l0.2,1.8M996.5,690.8l2.7,0.9M1091.8,622.6l-0.5,0.3M1157.9,594.5l1.6,2.0M833.4,667.7l0.0,1.7M820.0,887.3l-2.3,2.8M1025.7,683.4l1.5,1.8M1148.5,732.4l-2.0,0.2M1042.0,681.9l-2.4,2.2M1167.3,644.1l1.2,3.8M1045.4,592.4l0.1,3.9M1055.8,779.4l-0.1,3.9M1056.7,795.8l1.6,0.5M1077.5,612.2l-0.1,2.6M988.8,657.3l1.3,2.2M1129.1,771.0l1.9,1.6M1047.0,831.7l-0.3,1.2M1071.2,804.5l2.1,1.8M1062.5,735.6l-0.3,3.4M1154.6,704.5l-3.2,0.6M865.7,734.6l0.3,1.4M924.8,799.8l0.6,0.1M986.5,661.5l-0.3,1.6M984.3,756.3l-2.2,2.0M965.6,809.2l0.5,1.8M1022.2,787.3l3.0,1.4M1001.6,727.3l0.9,1.5M983.0,578.9l-0.3,1.2M889.2,775.8l2.4,2.4M1123.0,617.6l-0.3,2.4M995.7,891.7l-0.0,0.5M968.9,635.2l3.4,1.2M1170.4,844.2l2.6,0.4M1178.8,684.1l-3.4,2.0M998.3,621.9l1.3,1.2M1078.1,826.8l2.2,2.5M1151.1,713.3l1.7,1.1M1074.9,847.6l-0.4,0.5M1067.5,662.8l-1.8,0.6M1139.9,723.4l-2.1,1.5M1024.9,664.7l2.0,1.9M1034.8,705.2l0.8,1.0M872.7,627.8l-0.8,0.1M863.4,639.8l2.7,1.3M1113.2,879.7l1.6,3.6M1024.2,769.8l-2.0,1.5M960.5,695.4l2.2,0.2M1155.6,711.3l-0.5,2.8M1128.7,663.2l-0.4,0.7M899.1,763.5l-1.9,0.7M1030.2,711.1l-2.4,0.9M849.5,664.7l1.7,3.0M1082.8,633.1l-0.1,0.6M959.7,624.7l3.3,1.4M958.7,898.5l-0.9,1.3M846.2,709.0l0.9,2.2M953.3,689.6l-2.0,2.0M823.3,744.0l2.3,2.1M895.2,763.3l-0.6,1.2M1034.0,704.8l1.3,1.6M962.9,737.4l-1.3,1.9M1073.5,629.1l1.4,0.1M1051.1,815.1l-0.2,1.7M1137.1,853.2l2.1,0.3M850.1,769.9l0.0,1.0M1012.9,615.4l-0.4,2.7M1099.1,861.8l0.0,0.7M1168.7,807.8l-1.1,0.8M1158.4,775.5l-0.2,0.5M1165.5,769.3l-0.8,0.8M1055.1,764.9l-1.4,0.9M1151.8,742.6l1.9,0.6M1008.3,884.2l-1.2,3.0M1116.6,615.4l-2.2,0.7M991.1,627.1l3.4,0.3M946.0,630.2l2.9,0.7M1149.2,713.7l-0.7,1.8M973.9,613.7l-1.4,1.6M1018.2,772.6l-1.6,3.1M907.4,677.9l-0.4,0.6M1059.2,610.5l1.2,0.4M1074.4,643.9l-1.2,2.5M1030.4,690.5l-0.9,1.7M919.6,815.0l2.6,1.8M849.0,923.2l-3.1,1.3M1099.8,739.2l-0.9,2.4M1024.1,922.5l0.5,2.1M906.8,650.5l1.6,2.8M1140.8,673.9l-1.6,1.3M959.6,782.9l-0.9,3.5M868.5,856.7l0.9,0.5M986.0,744.2l-2.4,2.2M1164.1,578.1l-0.4,3.2M1171.3,695.0l1.7,3.3M827.9,676.2l1.7,2.7M1011.2,746.8l-0.8,0.6M946.0,610.9l1.2,2.2M932.3,655.8l0.1,2.1M1033.3,647.9l0.8,1.5M904.7,703.0l-2.0,2.9M970.6,587.8l0.3,0.5M1120.9,685.6l1.9,1.0M1106.1,830.1l-0.6,0.3M1062.3,654.4l-1.5,0.3M1151.8,680.4l-1.1,1.4M1126.2,784.1l1.5,1.4M1023.9,753.5l1.6,2.0M969.6,674.5l0.2,1.6M864.7,925.6l0.0,1.9M996.3,710.2l1.5,0.9M907.5,645.0l1.0,1.4M922.5,619.8l-2.1,3.1M1176.9,712.7l0.7,2.5M1077.8,626.2l0.6,0.2M820.3,680.7l-1.4,3.7M975.1,635.5l0.2,2.9M1096.7,723.2l-1.5,0.3M1139.0,911.4l-0.0,1.2M874.2,721.7l-0.4,3.5M985.7,793.9l1.1,0.9M891.8,887.7l1.7,3.2M955.6,616.6l-0.6,1.2M1139.5,632.4l-1.8,0.2M1024.6,641.4l-1.1,0.7M1038.7,772.2l-0.7,3.6M1088.2,789.7l-1.2,1.9M1111.6,834.2l0.8,2.8M1037.4,642.8l1.9,1.1M882.2,711.1l2.2,0.6M1025.1,793.5l1.6,0.2M1109.7,577.9l1.5,0.7M1136.8,637.0l0.7,0.9M1036.3,809.5l-0.1,1.4M1169.8,673.5l-0.3,3.3M1116.7,577.4l3.1,0.3M1050.9,883.8l-2.1,1.8M845.8,692.8l0.8,0.7M957.0,791.7l2.0,1.8M1023.1,731.5l-1.2,0.6M1004.6,715.1l0.5,1.8M1123.6,630.7l0.8,3.6M956.7,855.7l2.7,0.4M951.3,629.6l-0.5,1.7M1015.1,827.8l3.8,1.0M1168.2,824.6l-2.2,2.1M1106.3,811.5l-0.8,3.7M900.7,678.1l-3.2,0.6M1141.6,704.3l1.0,1.2M835.1,621.8l3.3,0.2M1032.6,663.2l-1.2,3.3M952.1,812.1l1.3,3.1M1108.7,697.3l-3.1,0.9M825.5,731.0l0.6,0.0M893.7,675.5l0.6,0.8M1131.9,791.2l-0.5,0.6M952.9,830.3l-0.0,0.5M990.9,575.1l2.3,0.5M1051.6,722.7l1.7,2.5M941.5,818.6l-1.3,0.9M886.6,706.5l-1.3,2.3M1063.9,779.2l0.9,2.7M871.7,676.2l1.1,1.7M1136.2,653.5l1.2,0.3M1091.2,581.6l0.5,0.1M1152.8,793.9l2.1,2.2M1129.3,665.4l1.4,1.1M1145.1,704.0l0.3,3.3M850.4,585.5l0.3,2.8M1081.0,623.8l-0.5,0.6M895.0,654.7l-1.9,2.3M856.8,729.0l-1.6,2.1M920.3,925.1l-1.3,0.4M1008.7,856.8l0.2,2.1M1086.5,842.4l1.4,1.1M830.3,673.5l-1.3,3.2M813.2,896.1l2.1,0.2M873.1,611.3l0.8,2.1M1079.9,644.6l1.8,3.1M1005.9,869.7l1.9,1.6M1038.4,767.5l2.1,3.1M1143.6,876.1l4.0,0.3M1008.8,789.3l0.6,1.1M975.7,770.4l-2.5,1.9M859.0,711.0l-1.8,2.0M1026.9,679.0l0.1,1.0M948.8,825.5l0.6,1.1M913.0,777.1l-2.5,1.5M912.8,671.9l-0.2,3.7M1005.0,819.3l-2.1,3.3M1112.9,634.7l-0.9,0.8M1022.1,723.9l1.0,0.1M926.7,603.9l3.6,1.4M878.1,667.8l-2.7,1.6M1076.3,675.1l0.5,1.8M1050.9,749.2l-2.0,2.9M1094.3,784.4l1.5,1.2M1087.4,692.2l-0.2,3.0M968.4,822.0l2.0,0.5M895.7,646.8l1.5,1.2M1034.6,885.5l2.0,1.4M986.2,867.2l-0.3,0.9M1127.0,745.9l-3.2,1.6M1015.1,873.5l-1.1,0.3M1179.5,658.3l-2.1,0.1M1071.5,819.6l-2.9,2.6M1057.9,883.6l-1.1,0.3M1125.0,836.4l-3.6,1.6M1128.5,892.9l1.2,1.2M1024.3,703.5l-1.6,0.9M1098.2,788.8l-0.5,3.4M971.4,766.5l0.2,1.9M1053.5,624.4l-2.7,0.8M937.5,695.7l0.9,1.4M1048.3,663.4l-0.3,3.0M1102.3,586.3l-1.5,1.1M900.5,640.4l-0.6,1.5M1178.2,724.4l-1.4,3.3M1147.3,680.2l-0.1,0.8M966.7,582.7l2.3,2.5M1088.6,580.6l0.0,2.1M932.2,636.1l1.8,1.9M829.0,629.2l3.9,0.7M1167.6,933.4l-0.5,0.1M1082.2,581.4l2.3,2.9M1122.7,691.4l0.6,1.4M818.0,618.6l-0.8,1.2M1150.9,776.7l1.7,0.3M1028.7,773.2l2.4,2.4M1005.5,760.8l-1.0,0.3M977.5,825.2l1.3,3.6M986.9,640.1l-0.9,0.9M1000.9,584.4l-2.1,0.6M848.9,634.3l0.2,2.4M964.0,651.8l-1.2,0.8M946.5,662.1l-0.9,0.9M967.5,724.4l-1.8,0.1M882.3,740.3l0.0,1.4M1077.7,788.9l-1.5,3.5M1151.4,903.6l-0.2,2.5M987.9,824.4l-1.5,3.1M1149.8,589.6l1.5,0.3M934.5,821.2l1.0,2.0M1128.5,607.3l0.5,0.0M1163.4,831.1l-0.2,2.1M1141.4,696.5l-1.3,2.6M1084.6,675.3l-1.3,0.7M893.0,646.0l1.9,0.8M1101.4,856.1l-1.8,2.0M1167.2,791.1l3.1,0.3M1167.3,787.1l-2.9,0.1M1098.4,860.4l2.7,1.9M1026.4,821.7l-0.6,0.2M876.0,648.4l0.5,1.9M987.8,845.4l1.8,0.1M994.7,900.9l0.2,0.5M1130.1,643.5l0.3,2.8M813.5,659.2l0.4,0.5M1045.2,860.1l3.5,1.3M985.4,713.5l2.1,1.9M942.2,718.0l1.4,1.5M962.6,797.1l1.0,0.3M869.2,650.0l0.8,0.0M1130.5,683.9l-0.9,1.7M953.0,665.3l1.0,0.2M950.1,698.2l-0.9,1.1M1072.1,705.6l0.5,0.9M815.7,864.0l-1.0,0.8M877.0,724.4l-0.4,3.5M1151.7,744.6l0.8,3.1M976.4,820.4l1.1,3.6M942.1,808.4l3.6,0.5M1171.9,854.9l3.7,0.1M1027.2,608.0l1.8,2.9M1110.9,748.8l-1.3,0.0M911.9,636.9l0.9,0.3M835.5,640.0l-2.5,0.4M930.1,824.5l-2.7,2.7M1090.2,714.7l-0.0,0.9M1076.7,853.1l1.2,0.2M1089.2,883.4l0.6,3.1M1161.1,582.4l-1.1,0.4M1002.7,630.7l-0.3,1.7M955.1,713.4l1.9,2.7M1113.0,836.9l-0.1,1.0M959.4,699.2l0.3,0.4M1017.8,624.5l2.3,2.9M1125.1,859.1l-1.6,2.3M866.4,876.7l3.0,1.9M1009.2,794.3l3.5,1.2M1041.3,648.2l-0.2,0.5M856.7,730.0l2.5,2.4M1166.2,635.1l1.9,2.5M1094.2,794.4l0.0,1.5M1119.1,809.4l-0.2,0.6M857.7,640.6l1.6,0.3M983.7,692.5l1.0,2.0M938.2,752.3l-2.4,1.0M1134.7,776.9l0.8,2.0M1079.3,712.4l-2.8,1.9M1164.0,737.1l2.1,0.6M851.0,677.8l-1.6,0.7M997.0,604.2l3.2,1.2M1107.7,880.2l2.6,2.2M995.7,721.6l-0.8,0.7M995.8,706.4l-1.4,1.6M1042.0,893.1l-2.5,1.8M1086.0,888.9l-3.7,1.6M1152.4,751.9l0.6,2.3M1116.8,635.9l-0.9,0.7M969.1,783.0l2.6,2.5M1060.7,639.8l1.3,3.3M1175.3,837.3l-0.2,0.8M1012.4,811.3l1.6,0.9M888.4,836.2l3.0,1.4M1051.0,896.7l0.5,0.0M1065.3,675.7l-0.1,0.8M979.3,778.3l-1.4,2.9M893.2,631.8l1.9,3.2M850.0,630.9l-1.5,1.9M1027.4,619.9l1.3,0.0M987.0,730.6l1.6,0.2M955.4,721.4l-2.4,2.0M1029.1,690.0l1.3,0.8M852.8,592.5l1.7,1.0M996.7,758.2l0.5,1.1M947.4,671.9l1.2,0.1M1031.4,811.1l0.2,1.9M860.7,718.7l0.8,0.4M967.0,826.4l2.1,1.7M823.3,687.4l1.2,3.2M1116.7,664.9l0.3,2.9M957.8,586.9l1.9,0.5M938.7,817.4l1.8,2.9M1085.7,630.4l0.8,1.7M1012.9,606.0l-0.8,1.5M984.7,682.7l-2.6,1.9M960.8,930.9l-2.9,2.4M880.9,924.0l-1.6,3.3M1118.7,614.7l0.5,3.1M1160.1,904.8l0.9,1.4M1007.0,749.0l-0.3,1.6M1070.1,640.4l0.3,1.5M819.9,640.5l-2.0,0.2M1094.2,797.5l-1.6,1.9M1052.9,779.9l-1.1,3.8M937.7,597.2l-1.6,2.1M1029.0,893.4l-1.4,0.2M1125.2,653.7l1.8,0.4M882.2,736.7l-0.3,0.9M985.2,751.6l1.1,0.0M1137.2,727.5l1.5,2.6M878.9,716.3l-1.0,1.0M980.1,659.6l-2.7,1.9M1166.0,640.7l-0.5,0.6M982.9,749.0l-1.0,2.0M1041.4,693.2l-2.2,0.4M919.6,842.7l-3.4,0.5M939.5,762.8l-1.8,2.5M1073.5,934.7l2.0,1.9M1031.0,747.4l-2.0,1.3M1127.3,607.6l0.5,3.1M904.0,778.4l0.4,3.5M1156.3,653.6l-1.3,3.7M956.4,656.0l-3.8,0.6M994.2,900.7l1.5,1.2M1129.4,742.0l1.5,2.2M1053.3,630.9l1.1,1.0M982.3,850.7l1.9,0.9M915.1,727.1l-1.7,2.9M1040.8,873.0l0.5,0.5M1137.2,690.1l1.9,1.3M1171.6,614.4l0.7,1.5M1119.1,693.3l0.0,0.6M1030.6,849.3l0.2,1.4M909.1,793.6l2.7,2.2M954.5,603.7l1.5,0.7M922.7,658.9l-0.4,1.0M1153.1,670.1l3.0,0.4M975.5,653.1l0.7,1.3M1171.0,835.6l-0.8,1.2M1036.4,646.2l-2.4,2.8M1095.0,714.6l-0.7,0.6M1053.0,694.9l0.6,0.1M949.1,832.9l3.7,0.5M1090.2,785.6l-1.2,0.7M997.4,592.7l3.1,0.4M1139.7,610.2l-0.5,1.1M944.5,705.6l-1.1,0.3M1079.2,708.8l-2.4,2.9M1067.8,701.4l-1.3,2.2M1014.1,623.0l-3.4,1.4M925.6,607.6l0.1,1.0M1099.6,893.2l-3.7,0.8M1069.4,892.5l-0.3,0.5M1082.6,623.1l0.8,0.2M990.5,678.2l0.2,1.4M974.8,823.8l2.6,1.2M1083.4,742.0l-0.3,1.4M1044.4,841.9l3.1,0.3M1047.3,577.3l-0.8,1.6M1111.6,871.9l1.1,0.5M1124.2,720.6l-2.5,1.2M1038.4,686.3l-2.4,2.4M1001.3,899.2l-0.1,2.1M966.0,749.6l0.7,0.3M1005.7,666.6l0.1,2.7M969.2,768.8l2.2,2.0M1153.7,726.6l-1.2,2.9M1011.5,860.8l0.4,3.4M923.6,763.4l-0.5,0.2M1029.3,580.9l-0.8,1.2M1113.3,590.1l1.5,0.1M1002.6,583.5l-2.7,1.1M1021.2,661.1l0.8,2.8M1025.0,818.7l-0.7,2.4M858.7,651.3l1.8,1.2M1060.9,685.3l3.3,0.2M956.7,725.1l0.1,1.1M875.9,606.3l-2.0,0.3M1039.7,749.3l-3.3,2.1M1164.6,714.9l1.9,2.0M1035.9,608.1l0.2,1.3M1059.0,640.7l-0.2,3.4M973.2,580.0l-1.1,1.0M1011.9,802.9l-2.2,2.8M1074.9,760.4l-0.6,0.6M1175.9,693.2l3.7,0.3M966.9,803.9l-2.7,2.3M1115.2,827.4l3.0,1.1M1105.3,701.2l-0.5,0.7M983.9,861.7l-2.0,0.2M1066.6,869.5l-1.3,0.9M1011.1,819.9l-2.3,0.4M999.5,923.5l-0.9,2.7M1134.2,845.0l1.5,0.1M1179.8,673.1l0.6,1.1M1100.1,815.2l-2.5,1.0M1119.7,607.8l-1.0,3.6M865.2,858.7l-1.6,0.8M882.3,647.7l2.8,2.2M1161.4,595.7l-2.7,0.6M1100.3,867.6l-3.9,0.0M980.3,614.2l0.4,0.9M1021.7,859.7l0.6,0.3M1138.0,663.1l-0.1,0.5M1020.8,685.4l1.3,0.2M963.6,680.8l0.7,1.0M824.8,728.3l1.0,0.9M1016.6,858.4l0.7,3.6M968.9,930.0l-1.3,0.1M1132.1,662.3l2.1,1.3M1040.4,841.4l2.4,0.8M957.4,763.6l-1.6,1.2M837.4,643.0l2.2,2.0M1065.0,699.6l-1.6,0.5M1097.6,775.7l-0.5,0.9M1144.4,717.1l1.1,3.1M895.9,668.2l-0.6,1.7M953.4,694.2l1.3,0.6M1018.9,614.6l0.2,3.6M1107.6,638.8l2.6,2.5M903.6,718.7l3.6,0.5M936.1,628.7l-2.0,2.0M1119.6,646.6l0.9,2.2M976.1,619.6l0.7,3.0M1141.4,806.1l-2.1,1.6M980.3,764.5l3.0,2.1M1002.3,638.1l0.9,2.0M1122.2,883.0l1.3,1.1M1071.5,763.7l1.3,0.3M968.7,603.5l-2.1,0.6M1007.4,575.9l1.3,0.7M1006.9,618.2l-1.1,2.9M857.5,722.7l1.6,0.9M1035.5,667.5l-0.4,3.4M893.3,667.1l0.9,0.9M1143.0,717.7l-0.2,0.6M1004.7,678.7l1.1,1.4M1151.3,869.3l-0.1,0.9M967.9,883.9l0.6,0.1M1143.9,714.6l-2.9,0.2M927.6,731.9l1.1,0.5M1044.7,838.9l1.4,1.6M868.2,704.8l0.2,0.5M844.0,658.0l3.4,1.7M1078.7,750.3l-1.1,1.0M1039.4,730.1l1.3,1.0M1005.0,707.1l-0.0,2.5M916.9,682.6l1.4,2.3M992.6,583.9l-0.4,0.6M1167.9,642.8l1.2,3.8M832.1,623.7l-2.7,1.8M930.4,912.6l-0.6,0.5M1084.8,745.9l0.7,1.7M860.1,701.1l-1.8,0.0M894.8,828.3l0.7,3.3M948.2,632.8l-2.7,0.1M1154.9,672.6l0.5,2.6M935.8,813.5l3.6,0.8M891.7,656.7l-0.3,1.1M906.9,877.4l-0.3,0.9M1159.8,854.7l-2.4,0.2M1036.9,834.0l0.9,2.0M1013.1,864.1l2.1,1.9M1136.5,605.6l-0.2,1.2M1066.0,752.3l-0.8,1.3M1056.5,640.6l1.2,0.6M1142.0,835.2l-1.4,0.6M1097.6,695.3l-0.8,1.8M1076.1,808.5l-0.5,1.8M1058.1,626.0l-1.7,0.6M1068.3,816.0l1.6,0.4M1103.0,696.3l1.6,0.2M1098.0,872.7l-0.0,0.8M1008.3,801.3l-2.0,0.1M971.4,596.6l-0.5,0.2M1084.1,714.4l0.9,0.1M959.7,811.8l1.2,0.4M1016.1,887.0l-3.4,1.7M1047.4,579.3l-1.5,3.0M856.6,595.5l-1.3,1.3M922.3,770.0l-0.1,1.1M1085.9,859.9l1.1,2.2M951.6,758.9l-0.2,0.6M1024.7,660.3l1.3,2.0M1176.6,617.5l0.5,0.8M1173.5,809.3l-1.8,2.1M886.6,611.7l-1.2,3.0M960.3,824.0l-0.2,2.7M1000.2,888.6l-2.7,1.4M846.7,669.3l-1.8,3.1M1152.2,765.2l-2.4,3.1M997.6,677.3l1.1,2.8M921.6,772.3l-1.9,2.0M988.2,638.2l2.3,0.8M833.0,682.9l1.4,0.4M1050.8,720.7l0.4,1.7M1132.7,875.2l-0.7,1.2M853.0,682.9l0.2,0.7M1008.3,740.1l3.3,0.6M1004.4,671.1l-1.1,2.4M1050.4,757.2l-1.1,0.6M1158.9,588.0l-2.4,2.1M1023.0,709.4l2.3,2.1M1106.6,873.4l-0.0,0.9M990.9,591.8l1.4,0.3M1062.7,583.3l2.8,1.2M1126.6,852.9l1.3,1.6M1084.3,802.4l1.1,1.6M986.9,762.4l1.2,0.4M895.6,728.2l-2.0,0.0M934.8,610.4l-0.2,2.7" stroke="#f05cb8" stroke-width="2.6" opacity=".9"/>
<path d="M987.3,769.3l0.7,2.1M1165.3,889.8l-2.8,0.5M987.6,595.9l-0.6,0.6M1168.3,650.7l0.9,0.4M991.2,694.8l-0.6,1.0M1102.6,754.7l-1.4,2.4M872.2,705.6l-1.9,2.2M1021.9,753.2l2.1,1.0M934.8,786.8l0.3,0.9M1146.1,878.1l1.0,1.6M1113.3,758.2l-0.0,0.7M1135.3,670.9l-1.7,1.8M1047.1,576.0l0.5,2.0M1086.7,826.6l0.2,0.7M970.8,596.8l-2.7,0.6M818.8,707.0l0.5,0.5M857.7,581.3l0.7,0.2M883.7,639.4l-0.5,0.2M1112.5,642.3l2.5,0.6M832.9,629.8l2.1,1.8M881.1,756.0l1.0,0.0M1104.0,715.1l-0.9,0.3M913.3,721.0l1.4,1.6M897.8,692.7l-1.4,0.4M908.1,614.9l0.5,0.1M907.2,708.6l1.5,0.8M1138.9,606.9l-1.6,1.4M890.9,646.9l-0.4,2.7M1116.6,779.2l1.6,1.0M918.8,711.0l0.9,2.2M1144.9,646.2l1.2,0.8M1163.5,738.2l-1.3,2.2M987.8,844.4l-1.3,0.1M1161.8,782.5l-1.1,1.1M1010.9,760.5l-1.2,1.1M1133.5,877.7l-0.8,0.7M1024.4,618.0l-0.8,1.2M993.1,663.4l-0.3,1.7M1076.2,688.7l0.8,1.7M941.7,740.0l1.5,0.5M1170.5,737.4l1.6,1.1M1139.4,656.8l0.4,1.1M1027.3,761.7l-1.0,2.3M1135.4,626.8l0.3,2.8M1077.6,713.8l0.8,2.2M1141.4,644.2l1.2,2.5M869.6,636.6l1.4,2.2M939.7,621.8l-0.9,0.0M993.1,628.3l-0.7,0.6M1016.7,857.1l1.8,0.2M966.2,618.6l0.7,0.0M862.2,730.4l2.5,1.7M1072.1,810.0l1.7,0.8M1012.0,811.0l1.4,2.4M1033.1,661.2l0.9,1.0M1163.1,759.0l-2.0,0.8M1069.1,644.2l-0.6,2.6M1090.6,749.9l0.9,1.4M1144.2,801.1l1.1,0.5M1136.8,887.1l2.2,1.1M1068.6,837.7l0.9,2.1M1117.9,713.3l-0.8,0.0M1026.2,594.2l1.1,1.7M1091.2,819.2l1.3,2.6M1117.9,828.5l3.0,0.2M934.4,694.1l-1.9,1.6M1056.6,873.2l-1.2,1.1M1116.4,621.5l0.4,1.6M888.6,817.9l0.4,1.3M995.9,884.6l0.9,0.5M992.1,835.9l2.3,0.8M1076.5,760.2l-0.9,1.0M1043.0,827.4l0.3,0.5M1057.0,621.9l-0.5,1.3M994.4,815.1l0.7,0.4M1167.1,863.9l-2.1,2.1M1036.1,745.1l1.5,2.4M859.5,590.0l-0.9,0.7M1168.3,821.6l-2.3,0.2M1004.0,827.7l2.8,1.1M920.4,719.1l-1.6,0.4M1057.7,655.5l-1.7,0.0M999.4,882.8l0.0,0.8M858.6,594.9l0.1,2.4M1153.2,871.2l-1.0,1.6M979.5,868.4l-2.4,0.5M840.9,643.1l-0.1,1.0M953.1,816.8l-2.2,0.7M988.0,694.3l-2.4,1.0M837.6,687.6l-2.6,0.7M957.2,576.8l-0.6,2.1M1117.9,827.9l-0.0,2.7M1122.5,891.5l-0.9,0.5M917.4,706.6l-0.3,0.6M855.0,764.4l0.9,2.5M869.2,654.8l-0.0,0.6M1017.2,756.1l2.5,0.8M1090.1,755.4l1.3,1.4M1093.4,741.8l-1.1,0.3M880.6,655.7l0.1,0.7M1154.8,765.0l2.9,0.5M1020.8,700.4l-1.8,1.5M1007.7,752.5l-2.3,1.7M925.6,680.8l-2.1,2.1M1148.3,736.6l-1.7,1.3M857.4,613.3l0.8,0.8M1011.1,801.5l0.5,0.1M832.5,776.8l-1.3,2.7M1178.1,882.7l0.3,0.6M1095.8,922.0l-0.1,1.2M956.8,577.0l1.9,1.9M1011.0,864.3l1.2,2.5M1080.1,728.7l-0.7,0.3M817.5,856.5l-0.6,0.3M883.8,623.2l-0.3,0.6M1086.8,610.2l-0.8,1.6M1169.4,818.6l0.5,0.0M1020.6,803.4l0.6,0.9M1147.0,763.4l0.6,0.3M1076.7,649.6l-1.8,2.0M1003.3,694.6l-2.5,0.3M1117.5,576.2l-1.4,0.3M868.2,765.0l-2.8,0.7M1035.7,684.0l-1.1,0.7M948.4,847.0l1.4,0.4M984.8,740.3l0.2,0.6M1178.9,733.8l0.2,1.4M996.8,842.1l0.7,0.5M1123.6,846.4l-0.3,2.8M991.2,829.2l0.6,2.6M818.7,582.1l-0.2,2.0M1088.2,779.8l2.4,0.7M1154.4,923.8l1.7,0.9M935.9,599.3l-0.3,3.0M1005.5,576.5l-0.3,0.5M985.3,855.5l0.0,0.5M838.0,716.4l0.3,1.0M945.7,807.8l3.0,0.1M1058.2,735.5l-0.9,0.9M1103.3,833.2l-0.5,2.9M1087.8,700.7l1.4,0.6M963.7,644.1l-1.6,0.5M992.0,780.8l-1.1,0.2M1160.1,654.0l-1.2,1.9M1126.5,588.8l2.6,1.0M1155.2,821.8l0.2,1.1M1076.2,697.7l0.4,1.8M928.1,760.9l1.4,2.1M1102.1,869.9l0.3,1.2M1045.9,779.4l1.0,0.7M1149.4,680.1l-0.0,2.5M914.5,579.3l2.8,0.1M1130.4,734.9l-1.0,0.7M980.2,612.7l-0.4,0.5M860.3,602.2l-1.9,0.8M1154.5,792.9l-1.9,1.7M835.9,707.7l-1.3,1.9M1111.8,585.8l2.4,1.5M869.7,720.3l2.1,1.3M1015.6,832.0l2.1,1.4M1138.7,628.7l-0.7,2.4M1022.7,714.0l0.2,0.8M1015.0,815.0l-2.5,0.5M844.3,593.0l-1.2,0.4M870.9,726.2l2.3,0.0M1096.1,609.4l-1.5,1.8M886.5,592.1l0.4,0.3M1017.5,624.0l-2.3,1.6M1120.7,836.1l1.1,0.2M961.0,658.7l1.9,1.7M1166.0,685.9l1.5,2.5M840.2,610.3l0.1,1.9M1091.0,906.7l-0.3,0.5M993.9,864.7l-0.4,1.0M977.8,683.6l-0.9,1.2M1139.5,705.2l0.1,0.7M1038.8,644.0l0.6,0.4M1163.2,809.7l-1.1,0.3M1106.8,791.3l-0.1,1.8M843.1,756.0l1.4,1.5M1156.2,613.0l0.0,0.5M1016.5,757.3l0.9,0.3M1001.6,690.4l-1.5,0.1M972.4,720.4l1.8,0.5M827.6,609.2l-1.0,1.6M925.1,789.7l-0.8,2.5M876.7,631.8l-1.2,0.3M904.5,728.2l0.2,1.4M998.6,867.0l0.7,1.5M886.2,688.2l-0.6,1.5M1115.7,685.4l0.6,0.9M1032.6,842.3l-0.3,2.2M923.7,818.2l-0.4,1.2M1063.6,757.0l-0.8,1.1M984.6,849.8l-1.1,2.8M954.5,654.5l1.0,1.6M832.3,725.6l0.2,2.2M948.2,807.3l-0.2,2.4M1151.6,669.0l-1.4,1.3M1156.2,608.2l1.4,0.3M1125.1,841.9l0.0,1.2M1042.3,647.1l1.4,0.9M1024.8,605.5l1.2,1.7M886.7,666.1l-0.9,0.3M912.7,668.2l1.5,2.1M994.5,680.8l-1.3,1.7M1161.9,708.4l-0.2,2.1M972.9,577.8l-0.8,0.6M986.6,827.7l2.3,1.0M1125.4,632.8l0.4,2.3M812.9,671.2l-0.4,0.7M1134.5,772.9l-1.2,2.7M1107.4,710.4l-2.1,0.1M1154.9,617.0l1.0,1.1M920.9,776.8l-0.6,1.9M983.2,723.4l-0.4,1.8M1178.6,578.4l2.5,1.2M841.2,894.5l1.5,1.2M994.5,621.3l0.9,1.5M1070.7,663.9l2.7,0.4M867.0,617.7l1.6,0.7M817.9,805.9l1.0,1.9M1011.4,721.6l-2.8,0.0M1115.2,921.9l-0.9,0.7M1146.9,736.3l-1.5,0.8M1109.5,642.0l0.0,2.5M998.2,666.9l2.0,0.3M1144.9,601.5l-1.4,0.4M1063.3,613.5l-0.7,2.6M1083.4,723.4l1.4,1.4M1130.4,679.3l-0.4,0.8M1148.4,598.3l0.6,1.7M985.6,642.1l2.3,1.4M1100.6,729.2l0.8,0.0M1098.6,846.6l-1.8,0.1M1094.7,697.0l-0.7,0.7M849.9,657.7l-0.5,1.3M1156.4,890.7l1.4,0.0M1055.8,700.5l-0.8,0.8M938.1,691.5l0.7,1.6M818.2,727.8l-2.8,0.1M1121.8,755.9l0.4,0.7M1001.5,628.4l-0.8,0.6M986.3,583.9l1.2,2.1M1075.6,699.7l-0.6,1.8M982.3,860.0l-0.5,0.2M988.1,686.3l-2.8,0.0M1075.8,611.4l-1.3,1.6M951.8,648.8l1.1,2.4M922.9,616.3l0.0,2.3M955.7,793.1l-1.9,2.3M1014.1,641.1l-0.3,2.4M912.6,638.2l-0.4,0.4M1043.2,728.5l-1.2,1.9M999.2,781.7l-0.7,0.0M898.9,746.5l0.8,0.5M1084.3,894.0l-1.0,0.6M962.8,598.8l2.1,1.3M1095.5,814.8l-0.7,1.8M823.3,708.9l1.1,0.5M918.9,839.2l2.9,0.1M997.2,700.6l-1.2,0.1M1136.2,703.4l0.4,0.6M823.8,612.5l1.3,0.9M1105.0,788.0l-1.4,0.4M1135.7,658.7l1.1,1.2M1111.6,761.5l-1.0,2.3M1108.4,657.4l-0.7,1.2M1021.9,575.9l-0.9,0.3M910.6,865.9l-0.7,0.3M1060.3,780.1l2.2,0.1M1008.7,733.1l2.1,0.8M975.9,734.0l1.9,0.5M895.4,894.0l-2.2,1.5M1154.2,773.4l-0.4,1.5M1109.2,655.3l2.3,1.7M836.2,613.5l0.8,1.3M979.2,901.5l-0.0,2.7M1057.5,761.7l-0.6,1.1M1072.7,594.3l0.1,0.8M847.0,732.0l-1.8,0.9M958.1,872.2l-1.3,0.1M1142.0,610.7l0.5,2.0M1122.3,771.1l0.8,0.0M825.5,688.8l0.5,2.7M1103.5,731.1l-0.6,0.3M1073.3,851.6l-0.3,1.6M924.8,623.9l0.7,0.6M974.6,862.3l-1.6,1.1M833.9,706.1l1.4,0.9M1125.2,662.6l0.7,1.1M1165.2,826.1l-2.1,1.3M1143.6,751.9l0.9,2.2M939.4,723.9l1.5,1.7M1099.7,600.5l-0.8,0.9M826.9,853.8l0.6,0.7M1063.5,868.0l-1.3,1.7M1126.4,612.3l0.0,1.0M947.2,815.3l-1.6,1.2M974.1,673.8l-0.6,0.8M1044.9,665.1l1.3,2.2M1031.9,868.7l-0.9,2.3M1073.7,580.2l-0.6,0.1M1011.6,597.6l-0.3,0.6M1040.1,704.9l1.9,0.8M1037.5,731.6l1.7,0.8M859.9,600.3l-2.5,0.0M949.5,838.6l-2.1,0.1M910.9,597.7l-0.8,0.7M925.4,579.9l-0.1,2.1M1044.6,887.5l0.7,1.3M1003.4,812.8l-1.8,1.8M964.8,671.0l-0.8,0.1M1119.0,885.4l0.4,1.6M1071.7,800.5l-0.7,0.3M1107.8,832.7l1.0,0.9M973.9,866.2l0.5,0.7M886.3,595.8l-0.8,2.6M1166.7,769.8l0.4,1.0M1055.5,767.5l-0.4,0.8M1075.0,905.1l1.3,1.0M909.5,722.7l-1.2,1.1M852.3,655.9l-1.9,0.1M1070.3,806.6l2.5,0.4M964.3,633.2l-0.4,2.6M928.7,702.4l-1.0,0.5M1005.3,720.4l-1.0,2.3M924.3,708.1l-1.3,0.4M872.4,624.9l-0.8,0.5M1148.0,822.2l-0.5,1.1" stroke="#d8263c" stroke-width="2.2" opacity=".8"/>
<path d="M984.4,709.3q1.1,15.5 -9.9,26.5M1054.3,768.0q-0.3,9.8 5.4,17.8M1128.1,719.4q-14.3,8.7 -19.1,24.8M1062.3,900.7q2.2,8.1 5.3,16.0M1133.2,634.5q0.3,-16.7 8.4,-31.4M956.9,804.1q4.8,5.2 11.5,7.5M1160.2,602.0q11.6,0.4 20.9,7.2M1065.6,731.5q8.3,-0.5 16.6,-0.9M1169.2,672.1q7.5,5.9 15.7,10.7M848.4,581.7q6.4,0.5 10.3,5.5M1079.3,693.3q-5.5,5.0 -9.3,11.4M822.4,729.9q13.3,-9.2 28.6,-14.3M1144.8,591.8q1.4,6.9 6.3,12.0M958.6,918.1q-6.3,-3.6 -11.1,-9.1M1144.2,776.7q-1.8,-10.0 -5.6,-19.4M826.4,670.1q3.7,7.9 5.7,16.5M898.1,765.0q-7.7,6.7 -17.8,8.8M1019.9,588.8q-0.6,5.1 1.1,10.1M1043.3,844.3q-6.7,7.5 -13.5,15.0M1016.7,699.2q-6.6,4.6 -8.4,12.5M984.7,616.4q6.8,-9.4 4.9,-20.8M1131.2,873.8q10.7,3.8 19.0,11.5M964.4,607.2q-0.4,13.4 6.7,24.8M924.3,628.9q-0.6,-12.8 -5.4,-24.7M1146.8,636.6q14.1,-3.0 28.3,-1.0M897.8,646.3q-1.7,13.9 -13.1,22.0M1110.3,657.8q7.1,-3.5 13.5,-8.1M1026.3,828.2q-0.8,9.8 -8.3,16.1M1099.9,880.3q13.9,-9.8 29.3,-16.9M972.5,630.2q7.9,3.9 12.3,11.5M945.3,842.6q-10.7,10.7 -25.8,10.2M889.0,622.7q8.5,13.5 10.4,29.3M935.4,617.3q-12.8,-9.1 -27.5,-14.9M1060.5,765.3q-12.5,8.1 -16.4,22.5M1178.7,732.2q-6.0,-3.6 -12.7,-2.0M1106.9,754.9q-4.5,-5.9 -10.7,-10.1M1020.8,783.5q-15.6,1.1 -27.1,11.7M1020.2,882.5q4.3,15.2 11.6,29.3M1126.3,768.9q5.0,4.1 11.4,3.7M1136.1,804.6q13.9,-8.0 21.5,-22.2M1147.7,595.0q-4.6,3.6 -10.5,4.2M984.2,608.8q-8.0,3.9 -11.0,12.4M857.2,661.7q13.3,3.7 24.3,11.9M1064.4,759.0q-7.9,8.4 -18.1,13.7M1106.6,642.9q3.9,7.9 3.0,16.6M927.4,635.6q4.5,6.6 3.2,14.5M1079.8,851.6q5.8,1.5 11.8,1.7M1177.8,821.3q8.1,6.9 18.6,8.8M1167.3,921.6q-12.3,-8.3 -25.1,-15.8M1105.5,866.5q5.2,9.9 7.7,20.8M1057.8,789.4q7.2,8.3 7.8,19.2M1122.7,872.3q-5.8,-15.4 -4.5,-31.8M910.0,659.5q-8.9,-13.2 -14.6,-28.1M1143.7,719.5q14.5,4.8 19.9,19.1M1047.6,878.0q-9.9,9.2 -11.0,22.7M1133.3,830.6q2.4,-6.0 2.8,-12.5M1083.3,588.0q-12.4,-2.1 -24.9,-3.3M1027.4,636.2q-2.8,6.5 -7.3,12.0M898.3,668.5q7.8,-2.9 12.6,-9.7M1132.8,626.3q4.8,-7.7 4.5,-16.7M971.1,848.7q9.3,13.1 17.1,27.1M1137.2,838.3q1.3,5.0 5.4,8.2M989.1,907.4q-10.6,10.4 -18.5,23.0M1096.5,761.5q7.5,13.6 21.1,21.2M1079.2,741.1q-5.7,1.3 -11.4,2.7M957.0,713.7q-5.5,-1.9 -8.3,-7.0M939.4,676.4q8.8,-12.1 22.9,-17.1M1060.9,786.0q5.7,6.2 9.6,13.6M1083.4,636.8q4.9,5.3 8.3,11.7M1059.7,777.6q-4.5,7.7 -13.2,10.1M1149.5,856.1q-4.1,-5.9 -11.2,-6.5M1051.5,898.0q10.7,-11.6 25.4,-17.3M1035.5,667.1q7.9,-1.9 14.8,2.5M1174.9,610.8q-4.8,6.9 -13.1,8.2M1014.9,734.4q-3.6,11.7 -10.3,21.9M864.3,591.6q4.0,-4.4 3.8,-10.4M1017.1,751.4q6.1,12.2 16.6,20.9M925.5,722.4q-14.2,4.4 -29.0,5.7M1121.8,728.3q-4.8,3.3 -8.3,7.9M1011.7,660.0q16.1,-1.2 31.4,4.1M1120.3,673.3q-2.5,7.6 -6.7,14.5M1090.5,885.5q10.0,-3.3 19.3,1.4M1050.8,593.2q13.7,1.2 24.5,-7.3M897.8,586.9q5.4,-11.6 8.1,-24.0M916.0,823.3q-11.0,-11.6 -20.7,-24.3M1131.0,736.6q-11.7,-11.5 -24.2,-22.1M1043.2,648.6q0.3,12.5 -6.0,23.3M918.4,776.8q11.9,0.3 21.6,-6.6M1173.3,866.2q-0.3,-13.6 -2.0,-27.0M823.4,584.4q-5.4,-0.3 -9.6,-3.8M966.8,653.9q-16.7,-2.0 -33.5,-1.3M838.7,695.7q6.2,10.2 8.7,21.8M926.5,712.2q5.2,-0.1 10.4,-0.2M937.7,653.8q-3.5,10.4 -4.0,21.3M1103.7,860.4q1.0,-9.0 1.5,-18.0M1158.0,587.2q4.1,-10.6 9.0,-20.8M862.1,922.9q8.9,6.9 17.6,14.0M1140.2,636.3q12.0,-6.8 24.4,-12.6M1085.7,746.6q-13.6,6.9 -24.4,17.8M1141.2,667.9q10.7,2.8 19.8,-3.6M1031.7,814.6q13.8,-6.6 28.6,-2.5M1124.3,890.9q-0.3,-8.5 -1.3,-16.9M815.8,605.5q6.0,3.1 11.5,7.1M948.4,840.8q6.3,-9.4 8.7,-20.4M976.8,855.0q-1.4,6.2 -2.8,12.3M856.0,711.6q-8.5,-3.7 -17.7,-4.5M1088.9,812.8q-9.5,10.1 -23.3,10.7M1165.5,866.2q15.8,1.2 31.6,2.1M1115.4,876.6q-5.5,0.2 -9.4,4.1M954.9,851.6q1.0,-10.6 6.0,-19.9M894.0,684.7q3.5,5.9 4.8,12.7M1100.4,830.0q13.8,7.8 29.7,6.5M1016.9,908.3q2.2,11.6 7.5,22.1M1138.5,768.9q-6.4,13.7 -21.1,17.4M1038.1,612.3q12.0,-10.9 27.1,-16.6M855.3,698.3q15.4,-3.9 30.2,-9.5M932.5,761.2q2.2,-16.7 3.8,-33.5M956.3,697.2q11.4,3.9 23.3,1.9M1088.4,748.6q-15.8,3.7 -31.6,7.4M885.9,600.1q-4.1,7.5 -5.1,16.0M1149.9,704.4q1.1,-7.7 -0.9,-15.2M999.1,820.4q3.7,-4.4 7.1,-9.1M902.8,693.8q4.6,-13.6 9.0,-27.2M819.2,610.4q9.4,4.2 15.2,12.7M1070.1,625.0q15.4,-5.3 30.7,0.2M1009.3,754.2q-4.1,-15.8 -10.3,-30.8M888.9,683.1q5.5,8.2 14.7,11.7M934.0,791.2q-2.9,13.4 -2.4,27.0M1116.5,882.5q-14.9,3.6 -28.3,-3.8M1156.9,653.1q10.5,4.4 21.8,6.0M1036.7,855.8q-9.4,8.2 -20.1,14.7M949.8,659.7q-6.0,3.8 -8.8,10.2M977.6,815.1q3.8,3.7 6.6,8.1M1050.2,725.7q-11.9,-3.8 -23.8,-7.4M1107.7,802.6q-15.4,-6.0 -31.4,-10.3M1086.6,797.7q15.5,-6.1 32.1,-7.0M1176.8,691.0q-5.2,6.8 -13.2,9.5M1046.9,582.6q5.8,-2.5 12.0,-3.4M1053.1,679.5q-9.0,10.0 -16.4,21.2M1035.0,877.1q15.5,-3.9 31.5,-5.0M1051.8,898.0q-2.5,13.8 -2.7,27.9M948.6,645.7q1.8,-5.6 3.9,-11.2M839.0,696.9q6.5,1.2 10.7,6.3M1012.5,634.6q4.3,-9.6 0.8,-19.5M917.4,672.9q-2.7,-13.6 -3.6,-27.4M924.9,670.3q-5.6,13.3 -14.6,24.6M896.5,720.3q-8.6,-1.4 -14.8,-7.6M1087.9,782.4q-7.0,-10.8 -11.2,-22.9M1146.2,694.7q-5.4,-6.1 -8.6,-13.7M1020.2,802.0q9.5,1.5 19.0,2.7M1057.7,897.8q2.3,-11.4 12.4,-17.2M1095.4,657.1q-5.9,2.8 -10.4,7.6M878.1,605.9q5.6,12.7 0.5,25.6M944.1,653.7q-8.7,-3.2 -12.7,-11.6M815.7,611.2q-14.3,5.7 -23.1,18.4M948.1,668.1q-5.2,7.0 -6.3,15.7M1080.5,747.9q10.6,-4.3 18.3,-12.8M1157.0,787.2q11.6,4.7 23.5,8.6M1155.1,892.0q-11.3,5.9 -16.2,17.7M923.9,614.5q2.4,4.6 5.9,8.5M854.2,606.2q-6.1,-12.9 -19.7,-17.3M1014.4,671.4q-0.7,15.5 7.2,28.9M991.9,837.9q11.4,0.6 20.9,7.1M1160.1,830.4q5.1,-10.5 16.0,-14.7M1166.0,683.9q-7.7,-7.0 -18.2,-6.3M1130.0,690.3q-13.5,1.2 -23.4,10.2M1053.7,825.7q8.3,0.4 15.3,5.0M1116.9,801.6q-4.3,-6.7 -11.9,-8.9M873.3,692.4q-2.1,-9.2 -8.0,-16.6M1010.5,655.9q4.1,-10.1 6.1,-20.8M1161.1,758.4q-1.8,4.7 -6.2,7.1M896.4,696.1q3.3,-4.9 5.9,-10.2M988.3,732.9q-5.0,-8.9 -7.3,-18.9M1101.2,922.9q-5.6,6.1 -10.4,12.9M929.6,826.8q-6.4,7.7 -14.1,14.1M1092.6,698.2q7.3,5.1 16.1,6.3M936.1,684.0q11.3,-8.9 25.2,-5.6M933.4,612.9q8.4,14.7 16.7,29.6M812.9,699.8q0.1,5.9 3.7,10.6M1099.4,759.0q12.3,-0.5 24.5,-2.8M950.0,739.5q4.2,4.8 10.7,4.7M1161.7,675.3q-9.7,-1.0 -17.4,-6.9M856.8,642.6q-8.2,-3.4 -16.2,-7.2M1133.0,595.4q-15.1,6.7 -30.3,13.3M1173.8,638.5q-4.8,7.7 -8.7,15.9M896.1,744.9q-13.2,-4.6 -27.2,-4.5M1071.4,880.8q3.5,14.4 8.6,28.4M1006.2,930.4q-9.4,-11.9 -10.0,-27.1M1011.4,906.9q1.5,12.8 -4.8,24.0M1177.2,750.0q9.6,-11.5 20.7,-21.5M943.1,716.3q-4.9,14.6 -3.5,29.9M1122.3,699.5q-4.3,10.9 -5.0,22.6M1027.6,835.0q-9.6,-8.6 -16.2,-19.7M1128.1,708.8q3.0,-16.2 4.0,-32.5M1067.8,694.0q9.9,6.7 20.3,12.8M1137.6,724.5q8.9,-7.8 9.2,-19.7M1024.9,745.7q7.6,3.7 16.0,3.4M1072.3,755.6q7.8,7.8 13.5,17.3M1085.4,748.7q10.3,4.5 21.4,5.9M865.5,656.1q3.3,-5.0 3.3,-11.0M1022.4,791.5q10.8,-6.7 18.5,-16.7M881.5,634.1q-11.6,-9.6 -11.5,-24.7M1043.7,847.5q-6.5,-0.5 -12.3,-3.3M833.9,614.3q-8.3,-1.7 -14.4,-7.6M959.4,790.5q-1.4,-15.1 9.4,-25.7M816.5,662.6q8.7,3.6 12.3,12.3M1077.0,759.1q13.6,9.8 30.3,8.5M1152.5,755.9q-7.3,-14.4 -10.7,-30.2M1065.0,657.0q12.6,-3.6 24.0,3.0M847.4,685.3q9.9,-5.9 12.9,-17.0M1006.0,613.1q5.8,-6.6 14.4,-8.2M1102.0,611.8q5.0,-1.4 8.9,-4.8M955.3,823.8q5.2,-1.3 10.5,-1.3M1047.8,623.5q-13.5,5.1 -27.9,4.4M1157.0,868.0q-8.4,-11.0 -12.4,-24.3M1088.6,704.7q-4.8,11.1 -13.0,20.0M877.5,871.8q-8.8,-12.0 -7.6,-26.9M986.1,628.5q11.5,6.5 24.3,9.9M1163.4,607.7q6.1,0.7 11.8,2.9M1089.8,859.0q-3.2,16.2 6.4,29.7M1107.9,679.0q11.9,0.7 21.7,7.6M1126.3,750.0q3.7,-10.3 13.8,-14.2M1107.6,789.3q-11.5,-1.4 -22.1,-6.2M849.9,651.6q0.5,12.0 -7.0,21.5M903.2,590.2q0.6,-8.4 1.0,-16.8M1008.9,620.0q-4.3,-7.8 -12.9,-10.3M1172.9,663.3q-7.1,2.3 -12.8,7.1M1128.1,726.4q10.2,-6.9 22.2,-10.0M981.0,627.6q5.0,-5.4 6.6,-12.6M981.5,578.3q0.3,8.5 -3.9,15.8M1017.6,640.3q15.7,5.6 30.2,-2.7M880.0,658.3q5.8,2.4 12.1,1.5M939.7,612.0q-0.6,-10.1 -0.5,-20.1M987.1,744.7q-9.6,2.0 -17.8,-3.2M857.8,831.2q-2.0,5.4 0.1,10.7M1180.0,664.3q-11.0,-2.2 -20.2,-8.7M1127.4,804.4q2.5,10.8 11.8,16.8M1037.3,588.4q3.5,-8.6 11.1,-14.0M1162.4,645.1q-4.4,3.2 -6.7,8.1M984.1,708.9q4.9,-5.3 11.5,-8.1M1094.9,910.2q7.2,7.9 17.4,11.2M947.1,626.9q7.3,15.2 3.2,31.5M1163.1,690.1q-8.9,-11.6 -13.6,-25.4M1110.7,780.9q-4.7,-15.1 -15.2,-26.9M1103.4,716.0q-11.5,-0.8 -23.1,-0.7M1128.7,622.7q-6.3,-1.7 -12.8,-0.5M1169.4,827.4q-5.0,-5.9 -8.6,-12.7M901.6,746.9q-4.4,5.8 -9.2,11.3M896.1,750.5q-2.6,9.1 -4.8,18.4M999.1,637.5q3.4,6.6 3.3,14.0M1063.6,911.9q14.8,6.9 29.6,0.1M882.0,642.1q-0.0,14.4 -1.4,28.7M1145.3,885.7q-5.6,10.7 -16.4,16.1M1119.2,878.7q-5.2,14.7 -17.0,24.8M1161.7,827.7q6.7,-0.8 12.5,2.6M953.7,604.0q8.1,6.6 11.6,16.5M1116.1,576.9q7.5,4.9 15.7,8.3M1058.2,761.3q-12.0,5.5 -24.3,0.8M1133.6,825.3q-1.7,-6.0 -2.1,-12.3M996.4,827.6q-1.8,-6.6 -1.5,-13.4M981.0,751.5q-10.2,1.3 -19.5,-3.0M1162.5,607.4q-0.7,6.8 2.1,13.0M1132.7,727.1q0.3,11.2 6.0,20.9M1081.2,732.8q-12.1,-7.0 -18.5,-19.4M1179.9,774.0q0.7,6.6 -2.2,12.6M1112.7,819.5q3.8,-9.3 9.8,-17.2M1012.2,649.6q9.3,9.1 19.4,17.3M964.1,861.6q6.9,5.3 12.9,11.5M1000.5,712.3q16.0,-2.7 30.2,-10.6M1174.8,622.2q7.7,-12.5 19.9,-20.7M825.4,661.6q14.8,3.3 28.5,9.6M1129.6,809.8q-6.2,3.8 -7.9,10.9M1131.6,880.7q-6.3,2.9 -13.1,1.6M1133.4,699.2q10.2,-9.7 15.8,-22.7M860.2,654.3q-8.6,-8.9 -16.8,-18.3M965.6,683.9q-2.4,6.3 -7.6,10.6M1094.7,731.7q-7.0,-5.2 -11.5,-12.6M1170.0,802.2q6.3,-4.2 10.2,-10.5M996.8,593.3q16.8,-2.4 26.9,-16.1M1168.9,779.1q-12.1,6.0 -15.3,19.0M961.1,752.5q1.1,5.0 2.8,9.7M1044.1,785.8q-5.2,8.7 -6.8,18.7M909.2,594.4q-9.9,-12.7 -21.8,-23.4M1039.2,602.4q7.0,-8.8 17.8,-12.4M860.9,659.6q4.1,-6.8 2.1,-14.5M846.2,709.9q-15.4,4.3 -30.8,0.2M964.8,694.2q13.1,8.8 27.7,14.6M900.0,584.7q14.0,-7.1 23.3,-19.6M1073.7,752.3q8.9,-7.0 9.3,-18.4M1080.0,829.5q11.9,0.2 23.6,1.9M1006.8,736.8q4.1,-5.9 10.3,-9.6M1035.8,637.8q5.6,7.6 9.6,16.1M1136.7,813.0q1.9,10.4 -3.0,19.8M1151.0,792.4q-0.4,-9.1 4.7,-16.7M876.8,669.4q10.4,12.8 15.6,28.4M1062.5,722.5q13.0,8.0 18.6,22.3M963.2,766.1q0.9,14.2 -3.1,27.8M1171.3,578.2q-14.6,-5.3 -30.0,-6.9M1137.1,710.2q-14.7,-8.3 -29.8,-16.0M917.6,597.7q-5.2,-4.3 -11.9,-3.8M1061.2,831.1q8.9,2.9 18.3,2.9M919.5,848.4q0.0,5.1 -3.6,8.7M1111.1,794.1q-1.5,-16.0 -6.1,-31.4M1115.1,600.4q1.8,-11.3 -4.7,-20.7M884.8,606.8q-7.7,-4.6 -11.6,-12.6M1037.8,785.8q11.8,6.4 18.8,17.8M1101.6,799.6q5.4,6.8 4.7,15.5M1021.1,751.0q1.8,-12.6 -5.2,-23.2M1112.4,717.9q-6.2,11.4 -7.7,24.2M838.1,668.7q10.1,0.6 20.3,1.6M994.3,739.2q-0.3,-8.4 -3.7,-16.0M1123.2,838.0q3.6,12.6 15.5,18.1M1164.4,886.3q8.4,7.0 18.7,10.5M1171.6,616.0q-5.4,-6.1 -13.4,-7.3M994.1,777.0q9.9,5.3 20.6,2.1M923.0,779.8q-7.1,-0.5 -14.1,1.1M834.4,648.8q5.7,-6.0 9.8,-13.3M994.7,674.0q-1.3,-5.6 -6.3,-8.4M1146.3,602.4q-10.1,-4.7 -21.1,-4.1M1026.8,615.8q-12.7,-8.0 -27.0,-12.3M986.0,636.0q-1.8,10.9 1.9,21.2M1111.5,586.0q-2.9,-5.1 -3.8,-10.9M1158.4,577.8q1.6,-5.7 6.4,-9.2M1035.8,714.1q8.0,11.8 21.6,16.0M866.9,609.0q8.5,-5.8 18.4,-3.1M959.8,582.3q-8.7,13.4 -23.9,18.3M1108.1,734.5q2.0,-11.4 9.4,-20.3M1156.1,797.6q-0.8,8.5 2.7,16.3M1006.4,644.1q-4.0,-6.8 -11.5,-9.0M1099.8,752.5q0.1,10.7 -1.2,21.2M1048.9,631.7q-7.1,-5.7 -7.5,-14.8M1175.6,888.5q-11.8,5.1 -24.0,0.8M1087.0,742.9q5.7,4.7 5.7,12.2M1131.4,910.9q-2.5,13.2 -11.5,23.2M1036.4,695.2q5.6,10.3 11.4,20.4M1111.7,853.6q-0.9,12.0 -0.3,23.9M825.7,576.0q-12.7,10.8 -29.2,13.3M945.3,584.2q1.0,11.9 10.9,18.6M831.1,914.3q7.6,9.2 7.9,21.2M1059.7,728.0q1.1,-7.4 0.7,-14.8M1119.1,768.8q-11.1,5.6 -23.5,5.3M993.2,862.3q11.8,-2.9 20.5,-11.5M1134.2,878.4q7.3,13.1 4.0,27.7M914.8,776.5q4.3,5.3 8.4,10.7M858.4,706.4q6.2,4.9 13.7,7.5M951.5,583.5q-6.0,-10.8 -1.4,-22.2M856.0,685.3q-9.3,-5.2 -18.3,-10.7M1141.4,585.9q-11.2,5.2 -23.0,1.5M1018.4,706.3q8.0,4.4 16.2,8.4M1143.1,681.1q1.6,6.4 -2.1,11.9M991.3,666.5q-7.8,1.5 -15.4,-0.7M1105.9,641.6q8.0,0.4 13.1,6.6M1143.8,588.9q6.5,-2.9 13.5,-2.4M1038.7,863.2q8.6,-14.2 24.6,-18.8M862.0,669.8q3.8,14.7 14.9,25.2M1132.6,796.8q-14.4,4.9 -22.9,17.6M993.4,586.9q-0.3,-6.4 -0.1,-12.8M1143.8,607.4q-8.4,-13.4 -10.2,-29.1M928.0,617.0q8.2,14.0 3.7,29.6M1023.5,665.4q6.4,-3.3 10.9,-9.0M1112.5,673.3q-6.2,3.4 -8.9,9.9M950.7,625.6q6.2,-2.6 11.0,-7.3M1156.7,810.1q-0.2,-9.9 -6.1,-18.0M906.6,760.9q1.1,-7.3 7.6,-11.0M1098.7,711.3q5.2,3.8 11.5,2.3M1158.0,801.0q9.8,4.3 20.3,6.5M861.4,585.0q-3.1,16.4 0.4,32.8M1100.6,692.9q9.9,1.5 19.5,-1.0M853.5,702.3q-14.6,-2.0 -29.1,0.6M942.8,716.1q9.5,-6.0 14.7,-16.0M906.9,579.1q-11.2,-8.6 -12.2,-22.7M1118.6,689.4q4.8,-6.8 10.2,-13.0M1097.3,802.7q12.0,-4.4 20.1,-14.2M1076.1,909.4q-6.9,-9.7 -16.9,-16.2M926.5,614.4q5.5,11.8 13.1,22.2M1000.9,619.2q-5.4,-6.5 -4.5,-15.0M842.7,873.5q-10.1,1.6 -17.7,8.3M1061.9,628.0q15.4,1.6 30.8,2.8M962.6,768.9q-6.5,2.3 -13.3,1.3M1099.3,659.3q14.3,8.9 16.9,25.6M1102.0,620.5q-0.4,8.1 5.0,14.0M1137.7,802.6q9.9,1.7 19.3,5.3M1113.0,834.6q-6.1,-8.4 -16.1,-11.5M1117.1,746.4q10.8,11.8 11.2,27.9M918.2,693.1q-6.1,-11.2 -17.2,-17.4M1089.0,831.6q1.7,-5.9 5.3,-10.8M1064.4,867.0q-0.5,10.8 6.0,19.4M1024.6,612.4q-12.4,1.1 -22.9,7.7M1084.6,770.5q12.7,7.1 27.1,4.6M1144.4,799.8q8.2,0.3 16.1,2.9M1077.2,715.3q6.6,8.5 12.3,17.7M1135.6,876.4q-4.6,3.0 -9.7,5.4M1111.7,882.6q10.2,8.4 23.4,7.2M1129.1,881.9q13.8,-9.3 20.7,-24.4M1178.7,721.2q0.6,-9.7 1.5,-19.4M927.0,616.9q-1.8,9.7 4.6,17.2M926.8,635.5q12.8,7.4 21.7,19.2M1095.6,932.5q-9.7,10.4 -8.1,24.6M1111.3,685.3q-8.1,5.6 -9.7,15.2M1162.5,636.1q8.5,-10.5 14.8,-22.5M947.4,584.0q-2.7,9.6 -11.7,13.9M955.7,709.4q13.5,5.7 17.9,19.8M820.5,699.0q-0.3,-6.2 3.2,-11.3M1061.7,579.7q2.9,8.7 10.4,14.0M962.7,660.9q-0.7,12.0 7.0,21.2M1121.2,728.5q-13.6,-5.4 -20.1,-18.4M925.3,746.8q-0.3,8.6 1.2,17.0M1019.6,633.8q-15.6,5.2 -31.1,10.7M1110.9,599.7q6.4,4.5 14.2,4.2M1047.3,575.7q5.8,-0.4 11.5,-1.3M827.3,732.7q-2.5,5.0 -4.5,10.2M1058.9,610.6q-0.4,-11.6 -9.2,-19.2M1051.5,822.6q-5.0,0.2 -10.0,0.1M965.3,639.2q9.5,5.4 18.2,12.0M1135.7,722.0q9.6,-2.0 19.1,-4.5M995.2,814.9q-15.7,1.4 -29.0,9.9M1026.5,783.3q-6.9,-14.4 -0.2,-28.8M1007.9,671.4q5.4,-2.2 9.0,-6.8M1144.8,719.1q-5.4,7.9 -8.8,16.8M940.3,654.7q-3.8,5.6 -2.0,12.1M1116.9,771.6q5.2,1.6 8.8,5.7M1084.3,761.3q-4.8,4.6 -11.5,4.8M1087.6,586.8q8.1,-5.5 11.6,-14.7M1028.7,613.0q7.8,7.5 15.1,15.4M905.7,578.2q11.6,2.2 23.4,3.6M913.8,725.4q-3.9,-4.4 -4.6,-10.2M995.1,918.3q-10.2,3.7 -20.9,2.1M935.7,611.6q6.3,-14.3 9.5,-29.7M969.7,848.9q7.0,-4.4 12.2,-10.9M977.4,876.0q4.9,5.3 4.2,12.5M1068.5,788.7q-7.7,5.3 -12.7,13.2M958.6,594.2q10.3,-10.0 24.0,-14.2M983.8,645.2q-9.8,-12.0 -24.8,-15.5M966.1,838.5q-3.4,10.8 -12.0,18.2M1017.2,635.3q-8.2,11.3 -19.4,19.8M995.4,669.0q11.3,-10.1 12.1,-25.3M975.9,659.6q7.4,4.0 13.8,9.4M923.3,826.3q10.2,-1.8 18.4,4.5M979.1,594.9q-14.4,-3.3 -28.8,-6.9M959.6,836.9q4.6,-9.8 1.3,-20.1M999.1,707.3q0.9,-11.8 8.1,-21.1M938.8,643.1q9.3,13.1 21.0,24.2M955.4,675.1q5.7,-1.0 10.3,-4.5M1114.3,575.7q-11.1,5.6 -22.7,1.1M1146.4,769.1q8.3,-9.4 9.3,-22.0M954.3,593.3q-1.0,13.6 -9.9,23.9M1027.7,655.5q0.1,6.0 -3.6,10.8M1041.5,630.1q10.7,-3.4 20.9,-8.0M1005.7,586.6q5.1,7.3 7.3,15.9M978.6,626.7q5.4,7.8 14.1,11.5M1072.3,678.3q0.3,11.4 7.7,20.0M865.0,670.9q9.1,11.9 18.6,23.4M981.5,644.3q-4.3,-8.4 -12.0,-13.9M1019.9,834.3q-13.1,-1.3 -24.2,5.6M1155.0,787.8q-5.7,10.0 -7.3,21.4M922.3,902.6q11.6,-6.3 24.8,-5.8M987.0,665.8q-0.9,9.6 -7.8,16.3M899.3,669.0q-3.7,-16.2 1.8,-32.0M1119.5,787.7q5.3,-1.8 10.2,1.0M1118.3,638.6q6.0,7.7 7.5,17.4M1177.5,732.8q-2.1,-13.0 -7.3,-25.1M1075.6,579.4q9.0,11.5 18.8,22.3M901.4,600.0q13.9,-1.1 25.8,6.1M966.5,706.1q-7.1,5.4 -8.5,14.3M966.8,739.5q10.3,3.3 21.2,3.9M1127.2,774.7q14.7,-4.9 28.1,3.0M1040.3,810.4q7.2,8.9 10.4,19.8M1124.0,597.5q6.6,-8.5 15.6,-14.4M824.2,641.3q5.2,1.9 10.7,1.2M1091.2,843.7q10.9,3.6 21.5,-0.7M838.9,636.6q-11.6,4.5 -23.9,2.3M1081.5,630.4q10.1,-0.7 18.5,-6.5M1118.8,580.1q-11.5,6.4 -24.3,9.8M956.3,599.2q9.2,-13.9 4.7,-30.0M1178.1,575.9q14.1,9.4 20.7,25.1M1148.9,578.7q-12.9,10.9 -28.7,17.1M1014.1,728.3q5.3,8.0 10.7,15.9M985.5,578.3q3.1,10.4 13.0,15.1M1008.9,851.7q-11.6,-3.3 -22.3,2.2M990.3,702.6q0.6,6.2 4.8,10.7M1149.1,738.4q-5.2,3.0 -8.1,8.2M880.5,642.4q-12.9,-5.3 -24.9,-12.4M1087.9,641.1q8.5,5.7 9.3,15.9M937.1,681.2q4.4,-12.5 5.5,-25.6M955.6,901.3q-3.4,-12.1 3.0,-23.0M1158.0,763.8q-13.5,3.1 -24.2,12.0M905.6,702.5q8.0,-9.0 20.0,-8.6M920.7,802.5q10.4,3.0 16.6,11.9M1095.9,806.9q5.3,11.2 16.6,16.2M885.6,694.3q-15.0,5.0 -29.1,12.1M1037.1,735.6q-2.1,9.0 3.3,16.5M1045.7,696.5q1.9,-12.5 -3.3,-24.1M1025.1,601.7q5.2,-2.2 10.4,-4.3M1081.5,871.1q13.8,-1.1 25.3,6.7M998.0,846.8q7.9,-7.3 18.6,-9.1M1098.1,704.1q-13.7,-7.8 -16.3,-23.3M1149.1,603.0q4.2,4.6 4.9,10.8M1037.4,821.0q-13.2,-5.0 -23.7,-14.5M897.8,591.5q-10.2,2.9 -18.4,9.7M1019.2,766.7q-7.0,8.5 -17.6,11.6M1150.7,814.6q-1.0,5.3 -1.2,10.7M1024.7,774.1q4.0,13.4 -0.7,26.6M992.3,818.6q5.7,-5.7 11.4,-11.3M924.5,799.6q-12.8,0.3 -25.2,-2.9M1164.7,831.1q3.1,7.5 10.3,11.1M974.5,615.1q-4.2,5.8 -8.1,11.8M1046.2,794.7q-15.3,0.3 -30.4,3.1M1002.1,619.1q2.5,5.4 0.5,11.0M1117.9,801.1q3.0,-8.2 0.1,-16.4M990.0,766.7q8.3,-0.2 14.7,4.9M844.2,740.8q14.1,3.7 26.5,11.3M979.0,876.3q-4.2,-5.8 -5.5,-12.8M936.9,835.1q0.2,-5.3 4.1,-8.9M1089.9,682.4q7.1,13.0 3.9,27.4M924.7,582.1q-1.2,-6.7 2.7,-12.3M1043.0,855.1q14.4,0.5 28.8,-1.0M939.1,626.9q13.2,-6.2 17.7,-20.0M990.9,813.4q-11.8,7.2 -17.9,19.6M821.7,663.6q-3.3,8.3 -2.6,17.3M815.7,696.5q12.0,10.7 28.0,8.8" stroke="#e23fb4" stroke-width="1.1" opacity=".9"/>
<path d="M980.0,797.8q6.6,-3.0 12.6,-6.9M1042.0,778.7q-2.0,-5.2 -6.9,-7.8M1174.6,679.5q2.5,-11.1 8.4,-20.8M850.8,652.8q-8.6,2.4 -13.2,10.0M1056.5,835.9q8.9,-7.1 20.1,-5.4M965.9,584.0q-4.2,-4.4 -8.4,-8.8M1135.7,677.8q5.7,-7.8 13.3,-13.5M1150.9,860.2q4.4,6.6 3.5,14.5M830.5,588.0q-5.7,3.7 -12.4,5.2M842.5,648.1q5.7,5.4 10.9,11.3M1166.8,600.2q6.0,1.0 12.1,1.1M945.1,615.3q-5.9,-0.4 -10.8,2.7M867.9,848.4q-9.0,-5.9 -19.7,-7.5M876.3,638.6q6.7,6.8 7.6,16.3M1120.5,708.7q-12.2,-2.7 -24.8,-2.2M899.9,621.1q10.7,-3.7 21.8,-1.4M819.3,893.4q6.6,-0.8 12.8,-2.8M1173.1,754.2q5.5,-5.8 8.1,-13.4M952.6,630.4q3.3,2.8 7.6,3.4M978.6,629.3q0.4,-7.1 -3.7,-12.8M1099.6,908.4q7.3,-5.3 16.0,-7.9M986.3,887.4q-5.6,1.6 -11.2,2.8M887.3,834.6q-9.9,7.5 -13.7,19.4M939.8,651.1q1.7,8.8 9.0,14.0M1116.6,697.6q-6.3,-0.6 -12.0,-3.6M1111.0,727.9q10.1,-5.0 18.1,-12.8M959.8,703.9q10.3,7.8 12.8,20.5M1156.9,780.5q-1.4,-12.4 -8.3,-22.9M1158.9,681.9q2.4,-4.7 7.5,-5.9M1124.6,635.8q-4.3,-5.8 -11.5,-6.3M1086.9,710.2q-4.9,-4.4 -9.9,-8.5M828.3,619.5q-3.1,-3.3 -7.2,-5.4M998.6,788.9q4.2,-6.2 9.8,-11.0M1170.8,902.7q10.1,-5.9 21.8,-6.2M1154.5,741.6q0.6,-4.7 2.0,-9.1M948.6,714.4q2.3,-3.3 5.3,-5.9M1025.0,716.8q-9.4,0.7 -18.4,3.6M972.2,862.4q-2.0,-8.9 -4.7,-17.7M866.6,663.7q-3.8,-2.1 -8.0,-1.7M1020.6,737.8q-8.5,7.8 -19.7,10.6M1151.9,629.6q-8.6,-5.6 -13.6,-14.7M1050.9,586.9q-10.2,-7.5 -21.7,-12.8M1166.0,736.0q8.9,-7.9 8.8,-19.8M1017.1,870.7q4.9,-7.8 11.5,-14.3M1129.9,707.4q2.9,-8.8 9.6,-15.2M893.2,795.5q-4.4,-11.9 -16.0,-17.0M853.6,709.0q2.3,4.3 6.5,6.7M820.8,672.7q-0.8,-4.2 1.3,-7.9M1066.5,911.1q3.3,-9.4 -1.9,-17.8M995.9,740.4q-0.7,-9.5 4.7,-17.4M986.7,778.8q4.9,-5.2 11.8,-7.0M956.8,625.9q-4.9,3.1 -10.6,1.8M1110.4,685.5q12.8,2.4 25.9,2.2M854.8,746.4q-3.7,3.6 -4.4,8.7M1115.4,726.4q-3.2,7.9 0.4,15.7M1138.6,657.5q0.2,-6.8 0.4,-13.6M967.8,617.1q-12.2,1.6 -23.1,7.1M976.4,795.9q6.1,0.9 11.6,3.8M1128.4,764.4q-5.5,9.7 -16.0,13.6M1060.4,761.6q-2.2,4.6 -4.2,9.3M1126.1,725.5q11.5,-5.3 23.5,-9.0M1077.3,651.7q3.1,3.7 6.2,7.4M1177.1,731.9q-0.4,-10.7 -5.1,-20.2M1073.7,929.8q-3.1,4.5 -5.6,9.4M1012.9,833.9q-4.1,5.0 -10.5,5.0M932.6,686.9q-5.1,6.5 -3.4,14.6M1129.4,745.3q3.3,-8.4 7.5,-16.4M1033.2,895.3q7.4,6.6 13.9,14.2M1055.8,931.7q-12.4,-4.9 -16.5,-17.7M844.3,884.5q-9.8,-8.8 -16.0,-20.5M921.0,729.7q-3.2,-13.6 -5.9,-27.3M823.0,669.5q-6.2,10.1 -16.5,16.2M924.6,606.8q0.2,11.1 1.9,22.0M1043.0,838.3q2.0,5.8 3.4,11.8M824.1,605.4q-3.8,2.5 -6.0,6.3M974.2,817.1q-6.3,1.2 -11.4,5.3M1078.9,905.0q8.4,0.8 16.8,-0.3M1065.6,661.3q2.2,-6.6 7.6,-11.0M935.0,838.3q-4.4,9.3 -2.0,19.4M1163.0,586.1q3.1,-4.5 8.0,-7.1M1051.9,601.5q-6.2,9.4 -11.8,19.2M929.8,620.8q-3.5,-2.6 -6.0,-6.2M921.4,711.3q-8.5,-1.1 -13.5,-8.0M830.8,677.9q0.8,-5.1 -1.7,-9.7M1052.6,900.8q3.0,-3.2 6.2,-6.1M1167.7,751.7q7.9,-0.5 15.6,-1.7M916.6,624.1q-4.1,6.5 -1.9,13.8M1065.2,599.8q5.8,7.0 14.3,10.6M1133.1,636.6q6.0,7.0 13.6,12.2M820.9,724.8q-5.1,8.4 -5.2,18.3M1084.4,755.9q11.1,-3.4 22.8,-2.3M880.4,712.3q-13.8,-1.4 -22.1,-12.5M1047.8,621.0q4.1,-1.4 6.0,-5.4M936.3,649.5q-6.8,-0.7 -12.8,-3.8M1173.8,599.9q3.1,5.8 6.3,11.5M943.3,823.5q5.9,6.0 10.1,13.2M1164.1,593.4q11.1,2.0 20.1,8.9M1116.6,657.0q-3.1,-10.9 -12.0,-17.8M1113.8,754.5q0.6,-12.6 9.4,-21.5M1109.8,774.5q1.0,-4.4 1.5,-8.9M1003.8,901.8q-0.2,8.6 -2.0,16.9M871.5,712.2q5.3,-6.2 12.2,-10.5M835.2,703.3q2.0,3.5 4.9,6.3M1171.8,723.3q-5.5,-10.2 -14.8,-17.0M1039.9,692.4q-5.2,-0.6 -9.4,-3.7M1083.9,686.8q6.7,-1.7 13.5,-2.4M1125.8,584.7q1.6,4.3 1.9,8.9M888.5,809.7q-4.9,-8.9 -2.4,-18.7M1119.0,772.0q7.6,-6.4 17.4,-7.5M1098.3,641.5q11.8,-1.0 20.9,6.7M1047.0,706.9q-3.4,2.9 -7.9,3.2M1056.2,638.0q-6.8,1.6 -13.5,-0.4M829.5,859.6q-4.2,8.7 -2.6,18.3M987.4,798.9q-7.6,-4.6 -9.2,-13.3M994.5,861.1q12.2,-5.8 25.3,-9.5M1012.9,825.3q4.7,-0.7 9.3,0.6M944.0,818.8q-11.2,4.9 -18.4,14.8M998.9,761.4q-2.8,-9.7 -1.7,-19.8M1129.8,809.9q4.9,3.8 8.6,8.8M951.8,694.2q2.3,-7.6 5.4,-15.0M990.0,834.7q4.3,-3.9 6.4,-9.2M927.3,688.5q-5.6,8.4 -11.8,16.5M951.0,735.9q6.4,-3.4 13.2,-6.2M911.9,742.0q5.4,6.8 14.1,7.4M1016.9,717.4q-6.7,-8.6 -6.9,-19.6M1177.0,774.7q-2.0,3.6 -3.3,7.6M1121.1,859.0q10.8,6.1 13.9,18.1M1013.9,589.2q-4.7,-3.4 -10.3,-4.4M947.4,753.6q3.0,10.9 -2.9,20.5M1070.4,628.0q4.3,-6.8 12.2,-8.3M1139.3,840.3q4.9,-3.4 10.8,-4.1M1004.6,676.3q-2.2,9.7 -5.1,19.3M860.2,736.0q-13.5,2.2 -26.6,-1.7M1017.9,752.5q-8.9,-1.8 -15.4,-8.1M858.8,600.0q-6.1,1.3 -11.1,-2.6M1079.4,833.4q-4.0,1.2 -7.7,-0.7M1137.8,693.9q-7.6,3.2 -11.0,10.7M965.5,868.9q-10.8,6.2 -23.0,3.9M1049.0,891.8q-3.2,11.6 -7.8,22.6M909.0,903.6q-11.5,5.2 -14.9,17.3M823.0,689.4q2.5,12.9 5.1,25.7M1037.1,703.2q-1.3,-8.2 -4.8,-15.8M844.3,648.4q4.9,-1.7 9.7,0.3M1150.6,820.4q-6.7,-1.4 -13.3,-2.8M1132.0,673.3q10.8,-6.3 15.5,-17.9M1146.5,626.1q-8.7,-2.4 -16.6,2.2M1113.6,887.8q11.4,-0.3 22.6,-2.1M888.8,845.7q-0.7,-8.5 4.5,-15.2M1128.4,783.8q-6.2,-5.7 -8.7,-13.9M1005.8,657.7q6.0,1.2 10.3,5.6M1089.8,705.8q4.5,-9.6 5.3,-20.2M1126.7,587.0q6.4,3.1 13.2,5.5M906.0,636.4q9.0,7.7 20.8,8.6M1026.2,901.1q-6.4,2.5 -12.9,4.5M970.8,814.8q-10.4,3.8 -21.5,5.1M1137.5,845.1q-4.2,1.9 -8.5,0.2M997.1,662.5q11.8,-3.8 16.3,-15.3M968.8,714.7q-6.7,3.6 -14.2,2.1M1010.5,921.5q-5.2,4.4 -11.0,8.0M1088.0,723.4q6.0,5.7 13.9,8.2M1137.3,830.6q-2.2,7.5 -1.4,15.3M822.0,925.8q0.8,5.7 4.2,10.2M1064.6,624.8q3.4,9.4 0.2,18.9M1012.1,587.4q-3.8,-1.9 -8.0,-1.2M1152.6,711.0q2.2,-3.5 3.6,-7.2M1025.8,768.2q-5.6,11.4 -13.6,21.4M1084.2,783.4q-1.6,13.5 -3.7,26.9M1142.0,834.1q5.1,4.8 5.7,11.7M1154.6,721.2q-3.2,5.8 -4.0,12.4M1147.1,580.9q-10.2,-1.0 -19.4,3.7M1177.4,825.4q5.4,12.9 5.0,26.8M953.2,714.0q3.2,12.1 3.6,24.5M948.9,692.9q-3.8,-6.7 -11.2,-8.5M1026.5,713.5q-6.7,6.3 -13.4,12.7M893.8,730.5q-10.7,-0.7 -20.7,-4.6M1052.5,709.1q10.3,2.4 19.8,-2.1M979.3,773.8q-1.7,5.4 -6.6,8.3M893.4,651.9q-0.4,-6.1 -5.0,-10.0M972.3,625.1q-3.3,5.2 -8.9,7.5M875.3,674.0q-11.5,2.4 -16.9,12.9M1041.3,583.7q3.5,-4.8 3.4,-10.7M1120.7,922.8q-9.2,2.3 -18.0,5.6M965.5,713.1q3.0,-12.4 -2.3,-24.1M1009.4,713.3q10.3,-3.6 15.1,-13.4M1067.4,847.3q9.4,5.0 12.6,15.2M1050.1,591.8q2.0,-12.3 10.5,-21.5M1074.0,723.2q-7.0,1.3 -14.1,0.5M1025.8,586.0q13.6,-3.4 26.7,-8.1M864.7,804.9q8.7,8.8 16.7,18.2M930.0,688.5q4.3,5.5 9.3,10.6M1080.6,692.0q-13.0,3.7 -23.2,12.6M1024.3,790.9q-8.6,7.3 -15.4,16.4M1134.0,880.6q-0.1,8.9 -7.0,14.5M948.6,760.4q5.8,1.8 11.5,4.0M1020.5,583.8q-6.1,6.3 -14.9,5.7M1107.4,875.0q1.3,-9.5 -3.4,-17.9M1011.4,624.4q-7.2,3.6 -9.8,11.1M863.8,715.3q-3.4,-12.7 -10.5,-23.8M1179.8,787.5q9.8,2.1 16.1,9.9M1111.2,598.8q4.4,-3.6 9.3,-6.5M917.0,743.8q-5.0,-2.6 -8.4,-7.2M905.2,776.4q-8.6,-9.6 -17.3,-19.1M814.0,914.4q10.3,-0.6 17.6,-7.8M944.1,825.1q-3.5,-5.8 -10.2,-6.7M958.7,855.8q-11.6,-3.9 -23.6,-6.7M843.1,589.0q4.0,3.8 9.2,5.7M1002.9,739.4q-4.7,-2.8 -10.2,-3.2M984.9,606.5q12.9,3.5 24.7,9.8M986.6,710.4q-5.7,9.2 -16.4,10.8M886.2,597.0q-8.4,0.4 -16.8,-0.3M839.0,738.9q-0.3,-12.9 -8.6,-22.6M902.4,622.6q-1.8,-5.0 -2.7,-10.3M922.3,637.4q-1.5,10.3 3.2,19.6M1048.8,867.5q5.9,-6.2 9.4,-14.0M869.3,626.5q-5.8,-0.7 -11.3,1.0M987.3,886.3q-7.9,8.5 -15.8,17.0M880.6,711.1q-11.3,3.2 -21.5,9.0M934.4,699.8q-2.1,-4.4 -3.5,-9.0M881.7,645.8q-4.6,7.7 -4.1,16.6M854.6,721.9q4.7,-5.4 9.0,-11.0M1056.0,764.0q9.9,-6.5 16.1,-16.7M960.0,790.8q9.0,2.4 13.6,10.5M1098.6,765.5q4.8,-5.6 9.7,-11.2M1147.6,930.7q-5.7,1.1 -11.5,0.9M943.9,796.3q-9.5,7.2 -21.3,5.0M1087.7,622.9q-10.7,6.9 -13.5,19.3M1105.8,764.2q-3.1,10.7 -7.9,20.8M1090.7,577.6q-6.3,11.9 -7.6,25.3M957.7,682.7q-8.4,0.4 -14.8,-4.9M1148.6,735.4q-4.2,-11.6 -9.7,-22.6M997.4,705.1q-3.5,-4.1 -6.5,-8.6M1059.8,785.8q0.4,6.8 5.7,11.1M1075.9,828.2q0.4,-5.3 -0.1,-10.5M1092.3,753.0q-5.0,12.0 -10.0,23.9M924.8,608.2q3.1,-6.5 0.3,-13.1M859.3,730.7q-4.7,1.6 -9.3,0.0M976.5,635.3q5.3,5.0 11.3,9.3M1049.2,766.5q7.3,8.9 16.3,16.2M987.0,750.9q-8.5,2.1 -17.2,1.9M1093.1,751.5q-10.8,0.4 -19.2,-6.3M1015.1,778.3q12.2,-4.4 23.2,-11.2M864.4,829.5q7.5,11.0 4.4,23.9M1033.7,857.7q2.5,-4.2 6.1,-7.4M1130.4,704.4q-3.2,-11.1 -13.7,-15.9M967.0,727.7q-3.7,-11.5 -13.2,-19.1M857.5,603.8q4.5,-1.3 9.2,-1.3M1099.2,692.3q2.0,-3.6 2.5,-7.7M1045.8,672.9q1.9,3.7 2.4,7.9M1103.0,708.7q8.0,-8.8 9.2,-20.7M884.6,847.9q-5.6,4.6 -12.7,5.7M983.4,760.0q-1.9,-5.4 0.6,-10.5M931.1,674.5q-2.5,4.9 -3.2,10.4M1047.1,816.4q7.2,-6.2 15.9,-10.0M1179.2,749.0q-0.9,7.7 2.8,14.6M1082.7,684.2q-5.8,4.7 -10.1,10.8M1076.2,818.3q5.2,4.2 5.9,10.9M942.5,770.3q-9.3,-4.9 -19.7,-5.2M1022.0,575.1q-1.9,6.2 -4.5,12.2M1068.1,856.6q-9.0,-1.9 -16.9,-6.5M1052.3,743.6q12.9,-2.7 24.1,4.3M1104.1,808.3q-1.7,13.1 -0.2,26.2M923.3,690.3q1.3,-10.3 10.1,-15.9M1131.1,580.3q4.7,-1.3 9.3,-2.9M1082.7,654.9q-0.0,-8.8 -3.9,-16.8M889.6,673.1q-10.4,-3.4 -20.9,0.0M1138.1,683.8q5.3,-1.9 10.3,0.8M1090.7,671.9q-7.8,-7.8 -11.1,-18.4M1069.5,835.6q4.4,11.2 6.7,23.1M1086.8,783.9q-7.5,-7.6 -17.6,-10.9M1116.0,847.7q-3.3,3.0 -5.9,6.6M1072.6,907.8q-0.6,6.9 -2.6,13.5M914.5,719.5q-11.0,5.4 -22.0,10.7M1159.3,685.0q10.1,-2.1 19.3,-6.7M1121.9,917.6q-5.7,-7.3 -10.8,-15.1M1011.9,642.9q-0.4,-4.1 0.8,-8.1M1021.6,812.7q9.0,-6.6 14.0,-16.7M934.6,766.1q-5.6,-4.5 -11.8,-8.2M890.7,760.3q8.1,6.4 8.2,16.7M1124.6,782.3q-3.8,1.8 -5.7,5.6M818.5,893.3q-4.9,0.2 -9.8,-0.3M1025.7,677.9q0.9,11.7 0.1,23.4M996.3,681.8q-11.3,-3.1 -22.8,-5.5M885.2,836.1q3.3,-12.6 15.1,-18.3M849.7,708.0q-12.8,3.6 -26.0,5.2M1085.8,852.1q-6.5,-5.8 -9.6,-13.9M1005.0,715.8q10.0,-0.3 17.9,-6.3M998.4,672.8q-4.8,-2.4 -10.1,-3.6M965.7,873.1q3.5,5.0 3.9,11.0M1005.1,771.1q-3.8,2.0 -7.2,4.6M838.9,666.9q2.1,3.8 6.3,5.1M949.0,688.0q-10.2,-1.6 -19.4,-6.4M840.6,671.2q-10.9,0.2 -20.8,4.8M834.7,678.3q-4.3,3.2 -6.9,7.9M965.3,739.1q10.6,2.7 21.5,1.8M932.7,691.3q-7.6,5.8 -13.8,13.1M956.5,580.4q1.0,9.5 -2.5,18.4M826.5,720.6q-5.9,0.7 -11.4,-1.3M1130.5,806.4q11.7,-7.5 25.2,-11.1M1039.2,822.6q-7.3,3.2 -14.1,7.4M1069.1,580.3q5.6,0.5 10.4,3.4M1139.0,612.6q-1.6,-7.0 -2.1,-14.1M973.3,663.9q-2.9,3.4 -6.5,6.1M1104.8,765.1q-5.3,-2.9 -7.8,-8.5M1079.0,639.3q-0.8,-10.0 -1.2,-20.0M1164.2,881.9q9.3,0.4 18.6,0.4M1038.0,590.0q-8.2,-7.5 -8.4,-18.6M979.9,654.3q-6.5,4.4 -14.3,5.6M1147.3,718.1q8.2,-11.4 19.3,-19.8M1049.5,785.1q11.0,-7.0 22.3,-13.8M1161.8,890.8q6.0,11.1 4.2,23.5M1086.3,659.6q3.0,-7.9 7.6,-15.1M1160.5,764.7q-3.3,-3.5 -8.0,-4.5M1094.6,706.9q10.7,0.5 21.4,-0.6M1049.0,788.4q-12.1,0.9 -23.9,-1.9M1035.2,836.5q-2.5,5.4 -4.1,11.2M936.5,664.5q7.8,-6.9 18.2,-5.8M1150.7,675.2q-3.1,5.4 -7.7,9.8M1128.6,808.0q-3.1,4.9 -3.2,10.7M959.2,756.0q-4.9,2.8 -8.6,7.2M1075.8,665.7q-12.1,-0.5 -23.2,4.3M1158.4,836.1q0.8,-5.8 1.1,-11.7M1127.1,837.8q4.7,-4.6 5.6,-11.2M1105.5,702.6q6.9,10.2 7.9,22.5M1007.6,677.4q4.4,5.0 11.1,5.7M988.8,717.3q5.1,-7.4 10.7,-14.5M1048.3,817.8q12.3,-3.7 19.0,-14.7M1122.1,714.1q-3.4,2.1 -5.0,5.8M1145.2,768.3q4.6,-8.6 3.2,-18.2M1107.3,762.4q-5.6,2.4 -11.6,3.3M1083.3,679.1q6.4,1.7 12.8,2.7" stroke="#f7a6dc" stroke-width=".9" opacity=".85"/>
<path d="M1024.6,606.4l-1.5,1.2M1036.4,604.1l-0.3,0.8M954.7,602.7l1.6,1.1M941.9,689.8l2.6,0.9M922.2,625.9l-1.3,0.9M1078.3,628.5l-0.5,0.1M1041.3,639.3l0.5,0.4M1064.9,611.7l-0.4,0.4M995.1,613.3l-0.8,0.7M1094.9,658.9l-1.9,2.3M1017.6,674.6l0.0,1.1M1055.3,654.3l1.4,0.5M1138.9,680.4l1.8,0.1M1013.6,710.1l-0.2,1.7M1006.9,640.1l-2.0,1.7M1003.1,627.7l-1.3,1.0M953.4,623.3l-1.1,1.9M984.3,680.5l-0.9,0.2M1038.4,618.8l0.8,0.4M955.0,681.2l-1.0,0.4M1006.2,773.6l0.3,2.8M929.2,653.4l-1.4,0.5M1000.9,725.5l0.7,1.5M1061.6,647.1l-1.7,1.0M963.2,670.2l-1.7,1.0M884.2,765.5l-0.1,1.4M1093.1,656.6l-1.2,0.7M1014.1,690.0l1.1,0.2M1153.2,761.0l1.0,1.7M1042.2,609.3l-0.2,1.5M1041.5,672.2l0.8,1.0M1007.4,642.1l1.2,0.7M994.0,673.6l-1.6,0.2M1059.5,639.8l1.5,1.2M1114.0,640.2l-2.5,0.7M1058.1,745.9l-0.2,1.4M978.4,730.6l-1.1,1.2M970.8,586.7l0.5,0.6M1021.2,721.6l1.5,0.2M1016.2,673.9l-1.8,1.7M1127.4,586.0l0.2,0.8M1078.8,660.9l0.6,2.5M975.3,803.5l-1.6,0.1M1112.3,671.1l0.6,0.2M975.3,641.1l0.3,0.4M816.7,655.6l-1.6,0.7M990.3,641.5l-0.7,0.0M1028.7,684.7l-0.0,1.2M991.5,640.5l2.1,0.9M1000.6,686.7l-0.7,0.6M1031.1,691.1l-1.0,0.6M1058.8,649.4l-0.1,1.4M1039.2,602.3l-1.0,2.3M1051.2,732.6l0.2,2.5M1030.9,709.8l1.7,1.2M1140.6,710.2l-0.2,1.8M1090.0,666.1l0.6,0.2M1105.6,601.2l-0.6,2.9M1030.7,673.7l-0.0,2.4M1030.9,747.7l-0.4,1.3M1068.5,667.6l-2.3,0.8M1106.2,755.7l1.5,0.1M1055.5,636.9l-2.6,0.7M1113.2,648.9l-1.3,1.9M947.3,735.6l-0.7,0.4M972.2,723.3l0.1,1.1M1063.7,615.2l-0.9,0.3M1063.7,664.9l1.1,1.2M1035.7,686.9l-1.3,0.6M1085.7,613.1l1.4,2.1M944.0,675.6l-0.6,1.2M1004.0,690.8l2.4,0.2M1100.5,592.1l2.3,0.1M896.5,704.7l-1.9,1.3M1074.6,662.0l-1.7,0.3M1099.6,609.5l-1.8,1.3M1135.3,622.4l1.6,1.7M1018.7,711.6l1.9,0.6M976.8,704.1l-0.8,0.7M925.8,657.9l-0.4,2.7M1005.2,718.8l1.2,0.6M1099.0,697.4l-0.1,1.6M1038.8,665.0l0.3,0.7M1034.6,751.4l-0.7,0.7M1043.4,737.4l0.8,0.0M1083.9,668.4l1.0,1.1M954.2,669.8l1.9,1.2M997.5,634.9l1.0,1.4M1066.1,661.1l0.3,0.6M1051.7,781.9l-1.0,0.4M987.5,765.3l-0.5,0.3M1136.0,690.1l1.0,1.5M1032.1,685.6l1.7,2.1M1153.7,661.3l-2.6,0.9M1068.4,616.5l-0.2,1.0M1054.4,669.9l0.5,0.7M1043.2,688.6l0.6,1.0M1006.8,672.2l1.3,1.7M1097.8,682.3l2.2,1.8M1046.6,634.3l1.7,1.6M1040.7,624.4l-0.6,0.2M1004.4,721.5l1.6,0.3M1107.9,861.3l-2.2,0.0M1100.7,647.0l0.8,0.4M1053.1,687.7l-1.4,1.0M1039.8,674.6l2.4,0.4M1037.1,714.1l0.2,2.2M1110.6,647.9l0.2,2.9M977.8,746.9l-1.7,1.8M1077.0,633.6l0.0,2.0M1023.7,646.4l0.4,2.2M1037.0,644.3l-1.2,0.3M1063.4,580.5l-2.8,0.3M1120.5,629.8l-1.7,1.7M990.6,770.8l1.8,0.8M976.8,596.5l-0.3,1.1M1080.4,654.8l1.3,2.6M1123.1,608.1l0.9,0.5M977.7,728.2l-1.3,1.9M1166.7,685.3l0.3,0.8M995.9,661.0l-0.2,1.8M1066.6,641.8l-0.3,1.4M1053.0,644.7l-0.0,0.9M1044.3,662.8l-0.0,1.1M1026.2,635.5l-1.1,2.0M1031.6,640.0l0.1,1.4M1069.7,696.1l-2.6,1.2M1097.0,652.7l0.8,0.2M1077.0,652.9l-0.7,1.1M1018.1,662.6l2.1,1.5M1129.9,661.5l-1.2,0.9M1052.8,656.9l-1.5,0.2M1017.6,771.0l0.4,1.4M1057.8,632.5l0.5,0.2M1108.6,583.7l2.0,0.8M1089.5,691.6l0.8,0.9M1011.1,600.4l-1.8,2.3M1053.7,605.5l0.7,2.2M1111.6,737.9l1.3,2.1M1083.0,751.0l1.4,1.3M1059.6,678.3l-1.3,1.7M1044.4,646.4l1.3,1.9M1024.5,692.0l-0.8,1.0M1024.6,605.2l0.9,0.9M1132.0,609.7l-2.1,1.2M940.9,620.5l1.1,2.1M945.1,668.5l-1.7,0.8M958.2,658.3l1.6,1.9M1000.6,689.0l-0.7,0.2M1095.9,646.6l0.5,2.5M1074.7,629.7l0.4,0.9M1042.0,683.0l-3.0,0.5M1087.5,603.1l2.1,0.8M1116.5,783.9l0.5,2.2M1093.6,655.3l0.7,2.8M1055.3,609.2l0.5,1.6M1037.7,776.8l-0.2,2.4M1058.4,603.5l-2.5,0.2M910.2,669.2l-1.7,0.8M1095.7,627.5l1.5,0.8M1030.1,629.6l0.6,0.2M1064.6,727.4l-2.5,0.5M1097.3,670.1l0.8,2.2M1098.3,586.9l-1.9,0.9M1105.0,606.4l0.5,1.4M932.0,637.5l-0.8,0.1M1173.8,720.3l-2.7,0.6M1073.5,592.5l-1.7,1.4M997.3,591.7l-0.6,0.0M978.0,667.2l2.7,0.1M981.3,604.4l-1.9,1.7M1055.6,600.3l-1.7,1.7M937.4,596.2l-0.7,1.1M1027.8,805.0l1.8,1.8M1049.5,662.9l-2.3,0.8M1087.1,684.1l-1.7,0.9M1119.9,664.2l-0.9,0.1M1084.7,702.0l-0.9,1.3M1055.6,639.4l1.5,0.3M905.5,633.9l1.9,1.1M1062.7,587.3l-0.1,1.1M1062.4,661.5l1.0,0.4M1064.4,668.7l-1.8,0.2M1099.1,622.6l0.9,0.2M970.5,658.2l0.8,0.7M1091.8,616.9l-2.7,0.5M1118.1,634.4l1.3,0.4M1036.8,769.5l1.6,1.4M1093.6,578.7l0.0,1.6M943.4,678.9l-0.2,1.2M981.5,725.8l-0.2,0.9M953.0,625.8l0.5,0.1M1064.1,656.9l0.6,1.8M1067.9,650.5l1.1,0.5M1030.3,643.1l1.8,2.1M1137.1,706.7l0.1,0.6M1081.8,649.7l1.1,1.2M1091.7,735.4l-0.4,1.0M1043.5,738.3l0.4,0.3M1166.6,738.1l0.9,0.0M1110.7,682.3l-0.4,0.5M1082.1,649.7l2.0,1.9M1088.4,625.7l0.5,2.9M1015.0,613.9l-2.9,0.4M1078.9,637.2l-1.2,1.8M1003.3,666.2l-0.5,1.8M979.9,761.2l-0.2,0.7M1032.0,635.5l-0.8,0.3M1086.7,743.5l-2.0,0.5M1097.6,610.1l-1.9,1.8M1063.4,688.0l0.4,2.5M1033.2,614.4l-1.6,1.1M1033.0,702.3l-1.1,0.3M1128.9,618.4l0.6,0.1M1103.0,595.1l0.7,2.8M1136.2,666.5l-1.9,0.1M1092.6,750.1l-1.3,1.8M1036.9,659.8l2.2,0.1M1062.4,594.0l0.6,2.9M963.3,604.2l0.6,2.6M1062.3,719.2l-1.6,1.7M1008.0,782.1l-2.8,0.6M1038.5,694.4l1.2,0.1M1026.8,593.2l-2.0,1.7M910.6,756.5l1.7,0.2M1103.1,745.5l2.3,0.4M1024.5,712.8l1.1,0.7M966.6,709.1l1.2,2.5M1095.0,697.9l-1.5,0.6M1098.0,718.4l1.3,2.2M986.8,680.8l-0.2,2.7M1067.6,620.9l-1.8,1.9M1093.6,592.6l1.1,1.4M1166.7,765.8l1.2,1.2M1097.0,661.1l0.2,0.7M926.1,664.5l1.2,0.8M1039.1,713.2l0.2,0.8M1047.9,651.6l-1.0,0.2M987.3,700.4l-1.5,0.8M1015.9,809.1l-1.1,1.9M1084.9,631.2l1.3,2.6M1066.7,621.4l1.3,0.7M1006.9,651.6l2.1,1.1M963.4,688.8l1.3,1.2M961.9,629.3l0.4,1.9M1029.0,621.2l0.8,1.7M1008.7,724.2l-0.5,1.0M1113.3,682.9l-0.0,0.9M1132.4,612.9l0.7,0.1M1122.5,617.5l-0.8,0.2M928.4,621.3l-1.1,1.0M1087.2,760.5l1.3,0.3M1060.4,695.1l0.3,1.2M1077.6,730.3l-0.1,0.9M1044.2,685.8l-1.6,1.5M989.5,589.6l-0.3,1.3M922.9,715.2l1.1,1.0M1105.4,708.3l1.9,2.2M1016.1,797.2l0.6,0.3M1049.0,578.7l0.7,1.3M911.9,660.2l1.2,1.6M1095.1,643.0l-2.6,0.3M1064.1,610.7l1.5,1.8M1124.2,775.2l1.5,0.2M995.9,730.6l1.8,1.2M1020.1,629.5l-2.2,1.7M1093.2,614.7l-0.0,2.0M1135.4,626.3l-1.3,0.6M1062.9,619.9l-0.7,1.9M1103.8,718.5l0.9,0.6M1109.0,605.5l-2.1,0.6M1090.5,647.1l-0.2,2.8M1128.2,658.8l0.2,1.2M1100.9,662.2l-0.5,0.7M1011.4,578.4l-1.4,0.9M1096.7,664.7l1.6,1.8M1056.6,605.7l0.9,0.1M932.7,692.0l-2.7,0.5M1100.3,658.6l1.1,0.3M1091.7,696.6l0.1,2.5M885.4,689.0l-1.7,1.8M969.8,680.9l-1.2,1.1M995.6,683.2l1.8,0.5M1041.1,626.9l-0.0,2.6M1123.6,651.6l-0.4,1.2M1038.7,720.4l-1.4,1.9M967.0,648.3l-1.9,0.7M994.6,727.3l0.2,1.3M1021.0,650.5l-0.5,2.5M1012.4,578.7l1.5,2.3M971.0,695.9l0.3,1.2M1058.1,707.0l2.3,0.6M1095.1,586.1l1.6,0.6M1111.2,672.4l0.3,0.6M1114.1,698.4l-1.6,1.4M1033.1,697.3l-0.0,2.5M1075.3,679.4l-0.2,0.7M1016.3,692.3l0.6,1.0M1097.0,597.4l1.7,0.5M1054.8,654.8l0.6,2.8M1038.7,596.2l-0.3,2.2M1100.7,684.3l0.2,0.7M1055.5,621.2l-0.4,0.5M1034.9,648.5l0.7,1.8M1069.5,693.3l-1.4,0.5M1108.6,675.7l-0.7,0.3M893.4,592.8l-2.9,0.7M1123.0,686.9l-1.0,0.2M1064.4,622.7l1.2,0.5M1011.8,656.8l1.4,0.4M1030.1,633.7l-0.0,1.0M1071.1,668.9l0.3,0.7M964.9,638.9l-1.7,1.1M942.4,730.6l-1.0,1.5M1058.8,651.1l-2.3,1.3M965.5,737.7l1.0,0.6M1153.8,626.1l-2.2,1.6M1066.6,597.2l-0.5,1.3M1019.7,713.2l0.7,1.3M1095.6,661.3l0.2,2.4M985.7,627.7l0.2,2.2M971.8,684.0l-1.0,0.9M1073.2,724.6l-2.6,1.5M923.3,600.5l1.3,1.9M1052.9,593.3l-1.4,0.5M1111.6,699.3l-1.3,0.1M1023.3,680.4l0.0,1.3M1042.4,615.3l-1.7,0.3M978.5,656.0l0.4,0.4M1052.7,690.7l-2.8,0.5M1084.8,611.0l0.8,0.5M1062.4,581.4l-0.4,2.1M992.3,712.0l1.4,1.8M1020.2,667.5l0.7,1.2M1148.5,649.4l0.8,1.7M1051.0,763.3l-1.4,1.8M1028.5,739.6l1.9,0.7M972.9,579.2l-2.5,1.7M986.2,623.9l-0.1,0.8M1056.6,664.1l-1.4,1.3M1069.5,600.5l-1.3,0.8M1061.3,627.1l-0.9,0.6M1084.6,658.9l-2.1,1.0M949.5,594.4l-1.9,2.0M1096.8,628.4l-1.3,0.2M1063.2,669.8l-1.5,0.2M1042.2,656.6l1.4,0.5M1035.8,609.7l0.1,1.5M888.3,691.3l-2.3,1.9M986.0,663.5l0.3,1.2M1047.4,650.8l-2.5,1.4M1092.2,784.4l-1.0,1.2M1116.4,705.7l-1.2,0.3M1113.3,639.2l0.3,1.0M1008.8,694.3l-1.1,1.4M1065.1,598.1l0.2,0.7M1021.6,664.5l2.7,0.1M1101.6,674.8l-1.4,0.4M976.0,639.5l-0.4,3.0M1052.5,631.0l-2.2,0.4M1049.9,748.8l2.5,1.0M964.5,664.8l1.7,0.8M1022.7,695.1l0.4,2.0M1090.2,735.9l2.0,0.9M1113.4,639.6l-0.5,0.8M1156.7,604.4l0.9,0.9M1076.9,695.1l-2.3,0.4M959.4,773.9l2.8,0.3M1030.1,638.1l-0.3,0.8M1047.9,620.9l-0.7,2.3M931.2,616.8l1.5,1.1M967.2,714.8l-0.8,0.1M1021.6,689.4l-1.8,0.7M1120.0,640.4l2.2,1.4M921.3,638.2l0.7,1.3M1011.9,713.4l-0.6,0.5M1072.6,655.6l0.9,0.7M1013.7,578.4l0.6,0.4M1083.0,656.7l-1.8,0.5M1102.0,623.0l0.6,0.5M917.7,640.9l-1.1,1.4M1082.9,633.8l0.2,2.0M990.6,590.0l1.1,0.2M1001.4,673.8l2.6,0.7M994.3,609.6l-2.1,1.4M1076.0,641.5l-0.5,0.9M1016.8,651.8l1.1,0.1M1074.9,692.2l-1.2,1.2M1071.0,600.5l0.7,1.4M987.9,683.4l0.6,2.2M1108.2,634.6l2.8,0.8M986.8,697.9l2.7,0.5M1103.1,669.1l0.7,0.7M1008.0,679.7l0.6,2.1M1157.7,592.7l1.4,1.7M1020.4,662.3l2.2,0.3M1078.3,614.1l-0.9,0.4M1090.7,659.9l2.0,0.7M1044.1,675.7l-0.2,2.9M1027.3,707.1l0.4,1.1M940.8,660.3l1.7,1.2M1001.3,695.2l-1.7,1.1M1014.3,695.4l2.1,1.7M1022.0,657.4l-0.4,1.0M1029.6,640.6l-1.1,0.5M1097.8,653.6l-1.6,0.1M941.8,654.3l0.0,0.8M1027.1,613.4l-0.7,1.0M991.2,651.7l-1.0,0.1M1011.9,676.5l0.7,0.8M1040.4,641.9l1.5,1.3M1043.1,687.6l1.2,0.0M1155.5,644.7l0.2,0.5M1050.3,618.7l-2.7,0.7M1045.8,699.2l-2.0,0.9M1116.1,609.1l-0.6,1.0M960.1,714.4l2.2,0.6M1039.8,617.5l1.8,0.6M1044.3,835.4l0.6,0.5M982.2,580.8l-0.3,1.6" stroke="#8a9478" stroke-width="2.6" opacity=".85"/>
<path d="M1135.4,637.7l1.6,0.2M1094.4,671.5l-0.8,1.5M1101.5,612.0l-0.3,0.6M1137.8,661.6l1.3,1.6M1028.9,648.0l-0.1,1.1M1012.1,594.9l-0.4,2.4M1085.6,595.2l0.6,0.9M1101.2,637.1l0.4,1.2M1114.3,595.6l-0.4,2.0M1125.9,667.2l1.4,1.5M1109.2,637.9l-1.4,2.0M1074.8,637.5l1.2,1.3M1170.6,625.5l0.4,2.7M1093.9,634.7l-0.0,0.6M1037.1,616.5l0.5,2.7M1068.2,599.6l-0.5,0.2M1072.7,637.0l-0.8,1.0M1100.0,625.6l-0.5,1.1M1048.8,713.5l-2.7,0.1M1089.9,652.7l0.4,1.4M1079.4,658.2l-0.8,0.2M1120.7,602.5l2.3,1.0M1106.7,585.7l-0.6,1.3M1099.5,643.7l1.2,2.1M1094.6,677.1l1.0,0.5M1122.0,610.7l-0.7,1.9M1094.5,666.5l-2.5,1.6M1068.3,609.2l1.8,2.1M1094.3,642.1l0.2,0.5M1115.9,616.2l1.3,1.7M1060.8,590.8l-1.8,1.2M1132.3,641.8l-0.6,1.4M1061.5,602.6l-1.4,0.6M1070.4,662.8l1.2,2.7M1033.0,618.7l1.4,0.2M1099.2,583.2l-1.2,0.9M1137.8,617.3l-0.2,0.9M1139.0,606.9l-1.6,0.6M1117.4,655.2l-1.4,2.1M1060.4,637.1l-2.4,1.1M1117.0,586.0l-1.0,1.8M1042.1,611.3l0.4,1.1M1108.3,654.7l-1.9,1.1M1108.2,616.3l2.5,1.2M1141.7,694.0l0.5,0.5M1041.5,583.0l-1.5,0.5M1021.5,642.6l-0.9,0.9M1132.1,647.0l0.3,0.6M1069.4,596.9l-1.8,0.3M1101.5,602.1l0.4,2.1M1108.2,621.7l-0.7,1.7M1061.9,672.5l1.7,1.9M1119.3,651.2l-1.2,1.6M1077.5,588.9l-0.0,0.8M1045.0,576.8l-2.4,0.2M1070.1,662.7l1.4,0.1M1083.2,653.9l-0.6,0.3M1018.3,602.4l0.1,1.7M1071.0,684.2l0.5,0.2M1126.7,699.6l1.5,1.3M1068.2,597.8l-0.5,2.0M1122.7,605.3l-2.0,0.2M1111.6,632.1l-1.5,0.4M1035.9,627.6l1.7,1.2M1039.9,668.8l0.4,0.6M1118.6,601.2l2.6,1.3M1070.5,645.3l0.6,2.4M1078.1,587.1l-1.9,1.8M1016.4,654.3l-1.7,0.1M1031.2,647.0l1.4,2.6M1077.4,599.2l-1.7,1.9M1078.6,627.0l-1.3,1.3M1099.3,635.8l0.1,1.6M1059.3,647.1l1.7,1.3M1077.5,607.8l-1.2,0.5M1073.8,650.5l1.7,2.3M1108.8,649.0l0.1,2.9M1085.5,661.6l-0.0,0.7M1024.0,633.6l1.3,0.4M1126.1,655.7l-0.9,0.8M1143.5,585.6l0.9,0.4M1011.6,632.3l0.8,2.4M1090.4,593.8l0.5,0.9M1108.2,584.2l0.7,0.7M1062.8,655.1l0.7,2.0M1079.4,600.4l0.9,2.1M1030.1,586.5l0.5,1.0M1028.5,619.2l1.5,0.4M1100.5,602.1l0.3,1.7M1055.5,664.0l-0.4,1.3M1028.6,681.6l-1.2,2.0M1113.0,634.5l-0.1,2.0M1090.0,623.7l-2.5,1.5M1105.6,680.9l1.8,1.6M1007.6,594.8l-1.3,1.4M1041.1,612.8l2.3,1.8M1018.2,661.6l-0.2,1.6M1118.9,705.1l1.9,0.3M1092.5,606.6l-0.8,0.4M1027.9,624.3l-1.6,0.9M1108.1,654.7l0.9,2.6M1088.8,605.3l2.0,0.9M1082.6,575.1l-1.5,0.5M1081.0,643.4l0.0,0.7M1114.7,654.0l-0.9,0.2M1139.9,616.0l0.9,1.3M1095.3,666.2l-0.5,1.6M1162.2,675.1l0.9,1.7M1129.9,581.5l0.1,1.9M1069.8,642.7l0.7,0.0M1127.8,615.4l1.1,1.0M1080.0,690.9l-0.5,0.2M1076.7,636.0l-1.0,1.2M1074.3,628.3l0.9,0.0M1177.4,650.0l0.2,0.6M1092.6,599.9l-2.1,0.7M1052.6,641.0l0.5,0.2M1044.0,598.0l-0.3,2.3M1051.3,619.3l-0.8,1.0M994.6,588.7l-0.0,1.9M1012.0,655.7l2.2,1.7M1137.2,588.3l-0.2,2.8M1093.6,685.4l0.2,0.7M1126.2,651.3l-1.7,1.6M1110.7,691.6l-0.0,2.1M1082.5,592.4l-0.9,0.9M1094.1,585.7l2.4,0.1M1012.3,643.2l0.6,0.6M1065.3,649.5l0.4,2.5M1045.8,653.8l1.5,1.1M1129.0,636.3l-0.8,0.3M1068.5,635.0l0.5,2.2M1053.8,621.8l-0.1,2.1M1100.7,621.8l-1.5,1.4M1073.4,603.2l1.0,1.1M1069.0,629.6l0.7,0.8M1117.5,594.1l-0.9,1.7M1074.9,640.7l0.6,1.8M1121.0,659.6l-1.2,2.1M1110.9,676.8l0.5,0.5M1009.6,604.3l0.4,1.0M1111.0,598.8l1.4,1.3M1108.9,622.8l-2.0,0.6M1108.2,633.9l-1.1,0.8M1075.3,598.5l-0.4,1.9M1110.7,631.9l-1.5,2.2M1074.5,592.7l2.5,0.7M1029.0,659.4l-2.8,0.9M1095.5,593.4l1.4,0.1M1138.3,625.8l1.3,0.4M1100.8,615.0l1.5,1.9M1098.2,669.9l-0.7,0.4M1119.6,647.3l0.8,2.4M1125.2,595.8l-1.4,1.3M1052.0,614.9l2.1,1.7M1104.2,657.6l-0.9,0.2M1031.9,611.0l0.8,0.7M1083.4,585.6l-2.9,0.4M1053.2,646.7l1.8,0.1M1094.4,575.7l-0.8,1.3M1094.2,610.3l0.1,2.9M1100.0,636.8l1.3,1.7M1119.2,623.8l0.2,0.8M1123.1,660.3l-1.5,0.8M1138.1,690.1l-2.0,2.2M1103.4,619.6l-0.6,0.2M1107.8,645.3l-0.6,0.3M1102.0,662.1l-0.4,1.7M1069.2,605.3l1.0,1.0M1131.5,602.5l2.2,1.7M1053.0,677.6l1.7,0.9M1103.8,634.2l-0.6,2.7M1072.5,633.2l-1.0,1.7M1098.2,617.5l2.0,1.1M1107.0,669.5l-0.9,1.2M1081.4,597.3l2.3,1.4M1030.4,700.9l2.9,0.7M1102.4,580.5l-1.1,1.3M1067.5,608.5l2.2,1.6M1107.2,619.5l-1.5,0.4M1105.6,601.2l1.0,2.4M1080.6,602.5l-0.6,1.6M1152.1,679.1l-1.8,0.7M1110.3,577.6l-1.1,0.9M1093.8,581.1l1.2,0.6M1162.7,646.5l0.4,1.5M1063.9,639.6l0.9,0.4M1060.6,607.4l1.5,2.0M1048.5,603.5l-0.5,0.2M1089.9,622.2l-1.7,0.7M1062.9,633.1l-1.9,1.7M1086.1,577.4l-1.0,0.5M1041.7,641.6l1.3,1.0M1062.8,647.0l-1.1,1.9M1019.4,631.0l-2.7,0.9M1079.6,610.5l1.2,2.5M1102.6,640.2l-1.7,2.1M1046.0,653.7l-0.1,1.9M1104.5,653.2l0.9,0.7M1117.8,688.8l-0.6,2.1M1039.1,650.4l-2.0,0.1M1087.5,585.8l1.3,2.7M1053.3,575.8l-0.9,0.5M1111.3,671.9l1.6,2.0M1106.4,586.8l-0.0,0.7M1092.4,657.0l-0.4,0.3M1053.7,690.5l1.8,0.8M1138.7,618.3l1.0,1.2M1054.8,666.6l-0.1,2.6M1123.9,600.1l-0.6,2.8M1130.8,638.0l0.0,2.0M1114.6,685.9l1.6,0.5M1054.9,618.2l0.2,0.5M1040.0,598.2l-0.2,0.8M1159.6,646.2l0.1,1.8M1113.7,631.3l-0.0,0.8M1040.5,641.0l-0.9,0.2M1110.6,607.0l-1.6,1.9M1080.6,600.8l1.5,0.3M1108.3,675.2l-0.4,2.5M1021.1,630.8l1.1,1.4M1155.5,607.8l0.6,0.6M1123.6,596.6l-0.8,1.7M1076.6,641.2l-0.9,1.8M1055.3,583.8l1.8,0.5M1053.2,654.4l-1.7,1.3M1087.5,588.5l0.4,0.4M1108.7,592.2l1.6,2.5M1076.8,662.3l0.5,1.0M1172.8,598.2l-0.4,0.6M1063.7,666.0l0.0,0.6M1108.4,628.7l-1.9,0.9M1034.8,596.9l-1.8,0.7M1051.1,615.5l0.0,2.0M1101.7,648.3l-0.8,0.0M1139.1,645.3l-0.9,2.4M1092.6,655.3l-0.2,1.0M1090.5,586.5l1.2,1.2M1071.4,665.3l1.0,2.6M1098.2,623.0l-1.0,2.7M1021.2,694.5l-2.4,0.4M1137.2,639.2l-1.5,0.5M1004.1,620.4l0.0,1.0M1107.8,598.9l0.6,0.4M1075.7,685.7l-0.9,0.9M1064.2,590.3l2.4,0.9M1021.0,592.3l-2.1,1.2M1072.0,653.6l0.6,2.4M1121.9,580.9l-0.4,2.9M1067.0,585.1l-1.7,0.6M1055.4,640.1l-0.7,0.5M1036.6,618.0l-2.5,0.0M1067.7,639.8l-0.2,0.5M1093.3,646.6l1.0,0.5M1093.5,688.4l-0.2,0.9M1121.4,662.6l-1.0,1.1M1077.2,612.3l-2.2,0.3M1051.2,581.2l0.0,0.7M1111.8,584.6l-0.5,0.1M1086.1,616.9l0.3,1.6" stroke="#4a4a44" stroke-width="2.4" opacity=".8"/>
<path d="M1059.7,619.0l-0.7,2.0M1153.3,613.8l-0.0,2.5M982.2,641.2l-0.4,2.1M1050.3,661.7l-0.4,0.3M1074.6,751.8l0.8,1.0M1058.8,623.7l1.8,1.7M1077.5,644.7l1.5,2.2M914.4,607.6l1.9,0.5M1042.0,665.4l1.5,2.0M1008.9,662.3l-0.2,1.1M1115.3,630.4l-0.7,0.6M1058.9,684.2l-0.5,1.7M1002.4,622.2l-2.3,1.9M1002.6,703.6l2.3,1.0M1051.7,644.9l-0.3,0.8M1015.8,667.0l1.7,1.2M1025.2,694.8l-1.3,0.7M1022.8,648.7l-1.1,2.5M1056.5,729.6l0.4,0.2M1174.8,643.0l1.0,1.3M915.4,697.1l2.2,0.0M979.6,620.4l0.5,0.5M1001.2,759.3l-2.1,2.0M1041.7,633.0l-1.7,0.7M1035.0,641.3l-1.9,0.5M1021.3,683.8l1.6,0.5M985.4,637.9l-1.4,0.7M1087.0,671.5l-0.5,1.9M1147.8,619.1l0.9,2.8M976.8,597.3l1.3,1.9M964.2,642.7l-1.2,0.3M827.6,592.5l0.9,0.0M1113.3,649.9l0.5,0.7M1064.9,607.3l2.1,1.0M1085.8,621.1l-1.6,1.0M983.7,680.3l-0.9,0.6M1119.3,627.5l-1.3,1.8M1008.6,620.4l2.7,1.1M1087.7,619.3l2.2,1.9M1031.2,756.2l-1.5,0.7M966.5,623.4l-0.6,1.3M973.9,714.2l-0.3,0.5M1018.4,611.4l0.7,0.8M1086.7,928.2l-1.0,0.4M1042.8,622.1l1.3,2.7M1067.5,697.6l0.6,2.1M1019.6,618.6l-0.1,0.8M1158.0,611.1l-0.2,1.7M967.0,657.8l-1.3,2.6M1127.1,697.3l-2.0,1.9M1054.6,689.0l1.2,0.5M1086.4,612.9l0.4,0.3M1024.9,665.5l-2.0,1.0M983.7,656.0l1.4,1.9M993.1,701.3l1.9,1.2M1033.1,646.9l1.3,0.4M866.1,671.4l-1.9,0.0M959.5,646.2l-1.6,0.2M1079.2,665.4l-0.7,0.9M1147.7,667.4l-0.5,0.2M1058.2,584.1l1.5,2.0M1014.8,648.0l2.5,0.7M1090.5,614.8l-2.4,0.2M1076.4,596.4l1.4,2.2M1076.6,658.7l2.4,1.3M1099.9,691.1l-2.6,1.1M1130.3,614.8l-0.2,1.2M1061.8,616.8l0.8,1.0M1070.5,642.0l2.9,0.3M987.6,762.5l0.5,1.1M1077.1,668.1l2.7,0.7M1093.7,689.6l-1.7,1.2M1042.5,667.7l1.5,0.1M990.3,694.8l-0.1,2.3M1036.4,833.2l-0.4,1.3M975.3,624.1l1.1,0.2M865.1,663.8l2.5,0.6M1046.6,674.2l1.2,0.4M1058.8,591.8l1.1,0.7M1056.0,704.8l1.9,0.1M1000.9,698.1l-0.6,0.1M1023.0,680.5l1.4,0.6M1055.2,613.8l-0.4,1.0M1169.3,587.4l0.7,0.2M1106.0,655.6l-1.2,0.3M1015.2,678.0l2.6,1.3M1050.2,620.6l2.4,1.0M991.8,670.8l-0.1,2.7M1007.2,621.3l-1.5,2.0M1107.8,639.9l1.0,1.1M1084.4,678.3l1.6,1.6M1085.0,660.7l-0.7,1.3M1144.6,711.9l-0.7,1.6M976.5,618.4l-0.8,0.5M1147.6,611.2l1.0,0.1M961.3,671.3l-0.1,1.1M1062.5,597.4l2.6,0.7M1029.6,653.4l-2.2,1.1M1061.7,769.4l0.8,2.5M1076.4,751.5l0.0,1.9M1098.6,585.6l-0.3,0.7M1074.8,655.1l0.4,0.9M916.4,633.9l-0.7,0.9M982.4,705.1l1.4,0.8M1024.5,748.2l-1.0,2.6M1043.2,581.5l2.8,1.0M1119.1,683.1l1.7,0.8M982.4,638.8l-2.3,1.8M1024.2,631.8l1.3,0.7M1008.1,766.0l-2.2,1.0M1092.8,684.7l2.9,0.2M1020.0,791.5l-1.2,2.3M1079.7,671.5l0.2,1.5M1110.4,655.1l-1.7,0.5M1051.5,718.8l1.9,0.2M1026.1,677.7l-1.5,1.1M1128.8,857.7l1.9,2.0M963.9,661.2l2.8,1.0M995.0,628.6l1.1,1.3M1019.5,609.9l0.4,0.5M1134.2,605.7l1.1,2.8M958.0,723.2l0.7,0.6M952.1,699.2l-1.4,0.1M1011.6,661.5l1.7,0.9M1062.2,644.3l-1.9,0.6M1044.3,611.1l-1.5,0.9M873.1,710.1l0.1,0.7M1013.1,619.8l-0.8,0.9M1062.9,638.0l-0.2,2.9M1035.4,727.3l-0.2,0.6M1099.8,766.8l0.5,1.6M1112.8,742.1l-0.8,0.4M1135.5,627.3l-0.2,1.3M968.7,627.1l1.6,0.4M1051.0,633.0l-0.2,0.7M1047.4,705.7l1.1,1.3M979.2,663.9l-0.5,0.5M1144.0,592.8l0.0,1.5M1072.8,604.5l-2.9,0.3M1039.6,680.2l0.1,1.6M1012.8,595.8l-0.2,1.7M1017.0,660.5l-0.7,0.0M873.1,667.1l-1.5,0.3M989.0,641.1l-1.5,1.6M973.5,628.8l-0.1,0.5M1059.6,659.8l2.1,0.3M1075.7,593.2l1.8,0.1M1001.0,771.9l-1.6,1.7M1010.5,617.5l-2.4,1.2M1011.2,714.6l2.6,1.1M947.6,665.9l1.2,0.2M973.4,576.7l1.6,2.3M1010.6,674.3l1.4,1.0M1028.3,628.0l-1.1,1.7M1004.5,733.6l-1.6,1.5M1157.0,729.3l1.9,0.9M1000.8,640.0l1.0,2.6M941.6,683.5l0.8,0.0M1002.3,733.9l-0.5,0.7M952.5,640.6l0.4,1.1M1099.5,646.6l1.0,0.1M992.5,627.6l-2.7,1.0M1093.5,624.2l-2.3,0.1M1013.4,678.6l-0.8,1.2M1089.5,579.4l1.8,2.3M979.0,706.6l-0.8,0.2M1060.5,707.4l-1.0,1.0M1113.7,680.6l1.2,0.9M1076.3,663.0l2.0,0.1M1023.0,737.7l0.7,0.6M1042.8,639.8l1.5,0.5M1065.0,648.9l1.8,1.3M1084.0,624.7l-2.1,1.8M1049.9,703.3l0.7,0.1M823.0,683.3l0.4,0.6M1079.0,633.8l2.7,0.1M1141.9,660.5l0.3,0.8M1098.0,821.4l-1.6,0.2M1135.3,714.4l-2.1,0.8M1105.6,600.7l1.6,1.8M1101.5,657.8l0.4,1.2M964.4,807.8l1.7,0.6M1065.0,706.6l2.7,0.3M951.7,749.6l-0.2,0.9M989.2,663.6l-1.5,1.1M956.4,659.3l-1.7,2.3M1048.6,594.9l-2.0,0.9M937.7,681.2l-0.4,0.9M987.7,697.9l0.6,0.3M1066.7,660.9l2.3,1.5M1051.1,707.7l-2.0,1.9M896.8,613.0l1.5,0.1M1108.9,700.4l-1.1,2.6M1095.9,665.8l-0.1,1.0M1058.0,669.2l1.0,2.3M994.4,687.0l0.6,0.4M1049.9,797.3l-2.1,0.4M973.6,660.2l-1.0,0.5M1077.2,644.0l-1.8,0.7M992.7,663.8l0.5,1.3" stroke="#c9a24c" stroke-width="1.8" opacity=".7"/>
<path d="M1033.5,712.5l0.2,2.6M1010.0,698.8l-0.7,1.7M1102.6,602.1l0.9,2.7M958.1,760.0l-0.2,1.5M1167.2,830.3l-0.4,1.1M1058.2,615.1l1.4,1.5M1035.3,703.5l-0.1,1.2M991.3,673.9l-3.4,0.7M1005.1,580.7l0.7,0.4M1071.3,640.1l-1.5,0.3M1041.0,662.1l0.2,2.9M1019.4,716.3l0.4,0.7M1147.3,755.2l1.5,0.6M1019.3,633.1l1.0,1.6M967.5,637.4l1.4,0.6M1012.7,688.4l-2.3,1.8M1067.8,648.6l-0.6,0.2M918.1,640.2l2.8,0.9M914.6,700.3l0.1,1.7M961.9,636.1l0.6,0.2M1104.2,611.5l1.8,0.2M1047.6,624.6l1.0,2.1M994.7,576.7l0.7,2.7M1002.5,730.4l2.5,0.0M1004.8,589.6l-3.0,0.6M1013.1,638.7l-0.5,1.5M1011.7,751.0l-0.1,1.1M1016.4,678.8l-2.9,1.6M1088.1,623.3l-1.4,1.4M1022.4,589.5l-1.1,2.9M1096.8,576.1l-2.3,0.1M1064.7,690.5l-0.2,1.1M1093.5,688.8l0.5,2.5M1020.9,692.5l-1.1,0.9M1044.2,614.0l-2.2,2.3M1126.1,631.0l0.0,1.6M1052.1,620.9l3.4,0.8M1009.1,693.7l-1.2,1.2M1031.9,753.3l0.5,1.9M1060.6,675.4l-0.2,0.6M1134.1,628.5l2.6,2.3M1038.0,707.8l-2.9,0.7M1101.4,660.6l0.7,0.3M1088.0,615.3l-0.6,2.2M1119.5,706.4l-1.0,0.7M1050.9,636.4l-0.5,1.0M1046.5,607.1l-1.6,0.0M1090.2,691.5l-0.5,0.9M1047.9,719.3l2.7,0.2M1048.3,739.5l-0.7,1.8M1156.6,616.9l-2.5,1.1M1094.3,672.0l1.0,1.2M1169.9,600.9l2.9,0.0M1081.2,665.1l-0.1,0.6M1039.1,641.3l0.6,3.1M1048.4,696.5l-0.6,2.1M992.4,858.0l0.5,1.5M1057.9,705.6l-0.9,0.7M1042.0,615.9l2.3,0.0M940.4,599.4l0.9,1.5M1040.7,712.5l-1.6,1.1M1063.1,646.3l2.7,1.5M1022.7,583.3l-1.3,0.9M1076.6,707.4l-0.1,0.6M1090.6,665.5l0.1,2.7M980.1,668.3l1.4,1.3M955.1,603.6l0.9,2.0M1068.7,600.3l1.1,2.6M1114.2,675.9l2.6,0.7M1019.3,604.8l0.2,0.6M1053.3,661.3l-0.7,1.1M1045.4,705.2l-2.2,1.6M977.0,659.9l-0.9,1.4M1030.8,643.8l1.6,1.0M1018.7,720.8l2.6,0.9M939.9,664.2l0.7,0.6M986.2,709.8l2.3,2.1M1087.0,696.1l0.1,2.4M1022.1,757.6l2.9,1.5M1035.7,667.1l-0.5,1.7M956.8,685.8l-1.3,0.3M1063.8,669.7l2.1,1.6M933.9,684.0l-2.9,1.2M994.7,653.0l1.5,1.6M947.6,781.6l-2.0,1.3M1047.0,710.1l-1.2,0.0M1061.4,607.8l0.0,1.5M993.5,623.5l-0.9,2.6M1102.9,665.3l0.4,0.6M1053.2,633.4l1.5,1.3M1144.7,596.7l-0.6,0.3M1011.0,642.1l3.5,0.1M942.5,578.2l-0.1,0.6M1051.2,602.9l2.8,0.1M1035.6,638.2l-2.2,2.5M1010.6,658.7l-2.5,1.0M1120.6,622.6l0.7,2.1M1008.2,714.5l-1.7,1.5M1057.2,695.9l1.4,0.3M1000.2,661.8l2.6,1.4M1025.7,666.9l-2.3,1.9M1070.9,645.4l-0.8,1.2M984.6,582.2l-0.5,1.9M823.9,626.3l2.0,3.0M1039.1,674.8l1.7,0.7M1059.1,730.7l-2.3,1.0M1035.2,576.3l0.6,1.6M973.7,683.6l2.6,2.1M953.0,681.9l1.4,0.1M923.2,701.5l-0.2,2.1M1061.0,603.0l-0.8,0.4M995.0,802.5l2.3,1.3M954.2,610.1l-1.4,2.9M1075.6,729.1l0.2,0.8M1033.1,596.1l0.8,0.6M1054.7,734.8l-2.7,1.3M1001.6,634.5l-0.8,0.0M1029.5,582.4l1.2,0.4M1069.8,854.7l-1.9,0.2M899.3,666.2l2.4,1.2M1035.2,718.3l3.3,1.4M1086.3,706.0l0.2,1.8M972.0,642.8l0.2,0.6M1109.5,657.2l3.2,0.5M1014.5,716.9l1.1,1.8M1048.8,592.3l1.9,2.4M1035.4,642.1l-1.2,1.1M978.3,679.5l0.8,1.0M1029.4,699.0l0.5,3.4M1127.6,597.7l0.7,2.6M1070.9,654.7l1.6,2.7M1010.1,672.7l-1.0,0.9M1106.8,594.7l-1.9,0.2M1009.1,654.3l2.4,1.3M1092.2,666.9l-0.7,1.2M990.8,661.5l1.7,2.3M1081.4,625.6l-0.4,0.9M1045.6,725.0l0.8,1.8M1094.4,639.1l-1.6,1.1M1069.3,585.5l2.6,1.7M973.7,745.7l2.2,0.0M1087.9,583.1l0.8,1.2M1034.2,671.4l-1.1,1.9M1137.4,581.2l1.1,1.8M1095.0,768.4l2.0,2.6M1131.0,672.3l2.6,1.2M1030.1,688.6l-0.9,2.9M975.9,695.8l-3.3,0.2M1069.3,681.3l0.8,3.3M994.1,835.0l-2.1,1.5M1088.4,590.0l0.8,0.4M814.7,672.5l-1.5,2.5M1095.7,606.4l-0.0,2.0M1030.9,614.6l0.5,2.5M1051.3,668.9l-1.8,0.1M1107.5,660.2l2.3,0.5M1024.9,730.3l-2.3,0.3M1045.9,630.4l-2.9,0.5M1059.6,595.8l-1.1,0.4M951.9,611.6l-2.9,1.1M1099.4,749.1l1.6,1.9M1104.3,601.8l1.0,0.0M1044.6,753.2l-2.0,1.2M1027.7,672.6l-2.0,0.1M1140.5,669.3l-3.2,1.2M844.4,648.3l1.3,1.5M860.1,717.2l-0.0,2.0M1103.7,608.8l-0.5,3.4M1016.3,690.4l1.6,1.3M1011.0,803.7l-3.0,0.1M977.6,696.1l0.6,2.3M1122.7,644.5l2.0,1.2M1027.6,674.7l-3.0,1.0M995.4,683.6l0.3,1.0M1053.8,715.7l-2.7,0.2M996.1,634.2l0.7,3.2M987.1,736.2l-2.6,0.9M1061.7,784.4l0.7,0.2M1095.5,626.2l-0.1,1.2M1056.1,670.6l0.7,1.6M869.7,711.6l2.3,0.6M1083.4,592.2l-1.4,3.3M944.8,687.3l-2.6,1.4M918.0,631.7l1.9,0.0M1120.3,600.0l-0.4,0.5M1042.6,714.4l0.5,1.6M1009.1,621.9l3.3,1.4M1123.7,585.2l1.6,1.5M1033.4,658.5l1.7,2.3M1045.0,721.2l1.1,3.0M1041.7,612.0l-2.3,2.4M1090.4,655.0l-1.3,0.5M1033.0,656.8l-1.0,0.1M1004.2,684.1l-0.1,3.4M971.5,702.3l-0.1,0.8M1035.2,631.9l1.9,0.2M1027.1,736.1l1.3,2.7M987.1,651.9l-1.9,1.6M1105.4,764.2l-1.0,0.7M991.4,756.2l0.6,2.4M1015.8,752.5l-0.1,2.7M1063.6,644.9l-0.2,2.2M897.8,622.3l0.1,2.7M1100.8,700.5l-2.8,1.1M1091.8,786.2l2.0,2.4M818.2,689.8l-1.6,1.9M1172.2,668.2l-1.9,0.9M1027.9,718.5l2.0,1.7M1028.1,713.6l-3.2,0.0M1061.3,622.0l-0.0,2.9M1055.6,646.4l0.2,3.0M1098.2,652.0l-0.7,1.8M1028.0,674.5l0.7,0.5M1137.9,649.7l-1.2,0.4M1083.0,628.7l-0.5,0.5M1055.4,661.8l2.8,0.4M1052.3,656.4l2.9,1.7M1057.9,693.9l1.4,1.2M1030.7,757.3l-1.7,0.1M1085.1,653.1l1.1,2.4M1084.5,594.9l1.4,0.3M1013.6,613.9l-0.1,1.0M1100.4,601.2l2.4,2.5M1026.8,637.4l-0.1,0.7M1123.2,686.2l-0.3,0.7M1069.7,656.5l1.1,2.3M1171.8,772.3l1.5,0.7M981.0,679.8l-0.7,0.8M1060.1,593.0l0.2,1.3M1023.3,699.3l-3.0,1.7M1045.1,673.4l0.8,0.0M1159.0,660.9l-0.3,0.7M997.8,594.9l-1.7,0.4M1098.6,616.6l-0.3,0.8M1051.2,616.8l-0.7,0.6M882.3,624.4l0.8,0.3M984.7,750.3l-1.8,2.5M1082.6,700.9l-0.1,3.4M832.1,625.6l-1.8,0.8M1077.8,763.3l-1.7,1.4M989.7,742.9l2.9,1.1M994.0,694.6l2.2,2.1M1162.8,593.2l-0.2,2.8M993.9,649.4l-2.2,0.5M1104.6,659.0l-1.9,0.9M956.1,638.7l2.0,0.5M946.2,672.0l1.3,0.0M1003.7,666.5l1.1,0.4M998.7,753.2l-1.0,0.3M1075.4,631.4l-2.0,0.3M1084.6,644.9l0.5,1.7M1094.2,608.1l1.8,0.0M1060.7,660.4l-1.5,0.7M1055.4,641.1l2.6,0.6M998.8,659.7l0.4,2.5M1039.1,616.8l-1.2,0.5M1062.3,656.4l1.4,2.5M1097.5,588.1l-1.7,1.3M921.5,688.9l0.6,0.2M1055.2,724.1l1.8,2.1M1086.6,691.8l0.9,0.7M978.1,768.3l-1.5,1.6M1022.6,637.1l-3.2,1.1M1048.4,703.3l2.0,0.5M1043.0,588.4l0.1,0.7M1045.6,589.4l0.3,0.6M987.0,696.4l3.0,1.0M1052.3,730.3l-1.6,0.8M962.7,646.5l-2.6,1.6M1023.0,675.4l-0.5,0.5M1041.9,822.3l-2.4,2.1M1040.8,680.4l-2.4,0.4M938.0,607.9l-0.4,0.8M1086.5,648.6l1.5,0.6M973.4,690.3l0.0,0.8M1118.1,668.8l1.3,3.0M1168.6,692.7l1.8,1.4M985.2,658.0l-2.1,0.6M1015.5,710.4l0.6,0.1M1047.0,603.2l-2.0,1.0M1092.9,636.3l-2.2,1.1M1002.3,705.9l3.0,1.7M1020.1,664.5l-3.2,0.5M1021.5,646.5l0.9,2.4M1048.4,586.5l-0.2,0.7M1077.7,658.4l-2.3,0.0M1015.9,708.6l0.6,0.7M1060.9,749.2l-0.5,0.8M1097.7,647.8l-0.1,2.3M974.7,731.1l1.7,2.2M967.7,764.9l-0.8,0.4M865.9,704.3l2.2,1.3M1049.0,706.4l0.4,1.7M1164.9,689.6l-0.4,1.0M980.5,807.8l2.5,0.8M1112.9,706.6l-1.6,2.7M1036.3,642.9l2.5,1.3M1060.0,734.0l0.5,0.6M1092.8,683.3l-1.5,3.3M1124.0,656.6l1.7,0.9M1116.0,615.5l-0.0,0.6M1112.1,695.0l1.2,2.6M991.1,691.1l0.7,1.2M1063.6,644.2l-1.4,1.3M1014.4,692.8l-1.4,1.0M1128.3,694.5l-1.2,2.6M1032.0,671.6l1.7,0.9M1113.2,728.9l1.9,2.3M1041.3,746.8l2.2,1.0M1008.0,737.9l1.6,2.2M1046.5,678.8l-2.3,0.1M1117.0,687.9l0.6,0.6M1037.0,692.4l-1.0,0.7M907.3,576.3l0.9,0.2M998.1,603.9l3.4,1.2M1069.8,677.4l-1.3,2.1M1086.8,606.6l2.7,0.7M962.9,691.7l-2.7,2.1M1086.4,729.9l2.0,1.2M1094.9,642.1l-0.2,0.8M1026.7,626.1l2.3,2.5M1065.5,602.6l0.8,0.8M1083.7,609.0l-1.1,0.9M1015.9,585.1l1.3,2.3M1102.0,766.3l-0.5,0.6M1014.3,694.9l-0.5,2.3M1029.1,666.4l1.3,1.8M1005.0,726.8l2.8,1.9M1051.6,772.4l-0.9,0.6M1049.3,714.5l3.6,0.3M1131.3,671.5l2.0,1.9M1039.8,613.7l2.0,1.1M953.8,712.1l-1.4,3.3M1088.5,592.6l-1.2,0.8M1133.8,618.3l2.4,0.3M1100.5,700.3l-1.7,2.5M885.9,667.6l-1.5,2.9M1109.8,620.3l2.8,1.8M992.9,682.2l-0.6,1.1M1061.2,651.5l-0.6,0.5M1009.3,684.9l3.5,0.3M1045.4,655.4l3.4,0.6M1044.3,685.7l3.0,0.1M1079.0,648.0l-0.8,1.6M1041.9,597.8l3.5,0.4M1069.8,670.5l2.6,1.1M1060.4,732.4l1.0,1.7M1138.2,657.2l0.1,1.1M969.0,714.0l-0.0,0.7M1089.7,675.7l-0.8,1.1M1075.6,723.1l-0.3,0.7M996.8,680.2l0.7,0.0M1087.8,663.4l-0.9,0.5M1070.0,745.3l0.6,1.2M1027.3,724.5l0.6,0.4M1070.9,778.7l-0.3,0.8M1073.1,599.2l0.8,0.3M1044.1,785.8l0.8,0.4M1033.4,670.9l2.0,0.9M1096.5,640.0l-1.4,0.3M1064.1,628.6l-0.9,3.3M1146.9,594.0l1.9,0.2M1047.6,670.3l-0.7,2.8M1105.4,619.7l-1.1,1.6M1097.5,627.2l2.2,2.0M1030.5,585.8l-3.1,1.2M1039.6,604.5l0.5,0.4M1076.4,711.4l-2.5,1.6M1024.5,681.2l-0.8,0.4M912.4,690.3l0.2,3.1M1076.3,629.7l-0.9,2.1M1002.3,687.5l1.4,1.6M1077.5,649.6l0.5,2.1M1124.0,691.3l-0.7,0.1M1092.2,659.6l2.2,1.3M1080.3,586.9l2.9,1.4M1140.9,601.4l-1.4,1.3M960.7,618.0l0.0,1.2M1005.0,694.3l-0.8,0.4M1019.1,724.7l2.4,0.5M954.5,646.9l1.4,0.6M979.3,694.7l-3.1,1.7M1110.1,589.7l-2.9,1.2M1049.6,630.6l-0.1,2.0M1033.7,688.9l-1.2,0.3M1107.0,691.1l-2.2,1.1M1062.9,613.1l2.6,1.1M1142.3,692.0l1.4,1.7M1060.0,681.8l0.5,1.2M978.1,718.2l-1.7,1.5M996.4,623.3l-0.5,3.5M975.1,743.7l1.2,1.8M1092.7,656.7l-0.5,2.0M1008.6,615.2l-0.1,0.8M1118.7,595.4l-2.6,0.8M1077.6,680.6l0.8,0.1M994.7,631.2l-2.3,1.5M1171.1,704.8l-2.6,0.1M1092.6,659.1l0.8,0.6M1103.9,640.7l0.9,0.1M1045.7,708.6l-2.3,0.2M1037.9,618.5l-1.7,2.6M1016.5,635.0l2.0,0.7M973.0,639.8l3.1,0.1M1021.1,640.2l-1.0,1.2M1097.8,676.0l-3.4,0.8M1104.5,674.7l-2.5,0.2M1078.3,674.7l-1.1,0.5M1091.2,671.8l-1.3,2.7M994.5,603.1l-1.1,0.4M1037.1,663.3l-3.4,0.8M1075.3,653.6l2.4,1.6M1031.1,696.5l1.5,0.9M1084.7,686.9l0.2,1.7M1022.7,699.7l-1.5,0.5M1109.3,609.7l-2.0,2.9M1143.8,597.4l-0.8,0.5M1061.6,630.8l1.7,3.0M1019.5,697.9l-0.6,0.6M1105.8,646.8l-1.2,0.1M1042.7,691.4l-0.6,0.6M1073.1,702.1l-0.7,0.7M987.0,648.8l-1.5,0.6M1115.8,608.8l-2.6,0.5M1105.2,625.2l-0.3,1.1M1092.0,659.0l-0.7,0.0M1048.4,621.8l-2.7,1.3M1005.8,761.8l1.7,1.9M1074.9,598.5l0.2,0.7M1028.5,623.7l-0.1,0.8M997.3,672.6l-1.8,2.6M1055.8,762.0l-2.4,2.3M993.8,670.6l1.6,0.8M996.5,655.3l-1.4,0.9M1052.1,722.5l-2.9,0.6M1034.5,641.3l-1.0,0.8M1058.7,624.0l0.0,1.1M1050.8,722.9l-0.3,0.8M1001.6,623.7l0.2,3.5M1054.7,715.9l2.8,0.1M1168.3,690.8l-0.8,2.3M1057.6,707.3l-2.1,2.5M1051.9,636.5l0.5,2.2M992.9,761.3l-1.2,0.6M964.4,628.1l-2.4,0.8M1135.4,593.5l-2.5,0.1M1121.8,649.0l-2.1,2.5M1032.8,670.0l1.6,1.8M925.8,741.2l-1.8,1.5M1114.1,581.6l1.7,2.7M936.7,628.9l-1.0,0.4M937.3,660.6l0.6,0.7M1052.9,586.9l-0.9,0.3M946.1,623.1l0.9,0.8M927.1,625.2l-0.8,2.5M993.9,661.9l0.1,2.8M1051.0,700.7l1.9,0.3M1117.5,707.6l-1.4,1.9M1024.3,690.5l-1.0,0.5M1070.3,577.1l2.3,1.8M953.0,687.9l-2.1,0.5M1025.8,665.2l-1.7,2.5M1047.7,662.6l-1.1,0.4M1051.8,669.9l1.0,0.7M1043.8,627.0l3.4,0.6M1117.8,643.5l0.2,3.3M1019.2,734.7l0.1,2.5M1048.6,732.0l-0.5,0.6M1049.6,595.8l-1.1,0.9M1098.0,647.1l-0.8,1.2M1071.1,670.7l0.3,0.9M1041.9,701.3l2.0,0.6M851.9,698.3l-0.7,0.3M1096.1,623.1l3.0,1.7M1100.4,647.6l1.0,0.1M1017.5,629.6l-0.7,0.9M1074.0,593.8l0.1,1.9M1050.7,703.5l0.4,1.0M1130.0,757.9l-0.7,0.3M1006.4,595.3l1.6,0.1M984.2,664.8l1.6,0.6M1146.0,786.4l-0.2,2.4M1089.2,619.7l-1.0,1.3M988.4,638.7l3.1,1.1M1062.7,618.1l-0.4,1.7M1004.0,656.3l2.1,0.4M1119.8,632.5l3.3,0.4M1064.7,769.6l-3.4,0.8M1141.8,728.4l3.5,0.6M866.2,762.2l0.4,0.8M1113.3,657.5l-0.0,3.0M1091.4,650.5l-2.6,0.8M1064.2,761.9l3.0,0.5M1014.1,592.0l-1.1,0.1M1013.2,700.3l0.9,0.6M1022.2,739.7l-2.3,2.4M1064.3,639.9l-0.7,1.2M994.3,620.9l-3.3,0.2M1145.7,717.0l-0.6,0.8M1090.1,645.8l-1.1,0.5M1057.2,682.4l-1.6,1.1M1059.9,622.5l-0.1,0.9M1038.2,646.3l1.9,0.5M1029.8,661.4l2.2,0.8M1084.5,607.9l-1.4,0.3M838.4,674.8l1.9,1.4M998.7,690.4l1.4,2.5M1008.3,676.7l0.3,2.2M977.4,749.6l-1.5,3.0M839.4,697.6l1.1,0.4M1038.8,663.9l1.1,1.4M1004.4,753.4l1.6,0.6M1023.3,630.8l-1.1,2.7M1113.4,664.8l2.6,0.7M972.4,665.6l0.0,0.8M1065.6,592.4l-2.2,0.8M1079.3,638.9l-3.0,1.3M1021.5,672.2l1.3,1.1M1038.0,689.7l-2.2,0.3M1039.4,744.2l1.0,1.4M1016.3,687.5l0.5,0.7M912.3,690.2l1.7,2.5M1061.6,616.1l-1.7,2.4M1000.8,689.1l2.7,2.3M1124.7,602.8l1.7,0.8M1123.4,684.1l-0.7,2.1M1070.0,743.1l-3.0,0.1M1109.0,687.6l-0.3,3.0M1020.3,633.2l0.6,1.5M1006.1,757.0l1.7,1.1M1072.3,693.2l-1.9,3.0M1001.9,647.8l-1.9,2.3M1071.3,690.6l2.1,2.4M915.7,711.2l0.7,1.1M910.6,598.1l-3.1,0.9M1128.9,627.7l1.0,0.1M1058.4,735.4l1.2,1.0M953.5,604.2l1.5,0.8M1077.2,608.3l3.1,0.9M1100.1,610.8l-0.3,0.8M1143.1,724.1l1.3,3.1M1139.7,737.0l-2.4,2.6M1070.4,631.4l-0.6,3.2M1114.5,674.0l1.2,0.5M1007.6,610.7l1.5,0.1M1090.0,687.7l1.1,0.5M1002.0,599.4l1.2,2.7M1039.4,611.6l-0.1,3.1M1050.3,626.0l-0.7,1.9M1054.0,602.8l0.4,0.9M1032.8,667.0l0.9,1.2M936.7,591.0l2.5,2.5M960.5,722.7l-0.0,1.5M984.9,730.8l-1.5,3.1M1088.4,653.2l-2.1,2.9M1170.9,626.8l-2.9,0.7M1110.6,736.6l0.4,0.6M961.8,667.0l-1.6,1.8M1108.2,602.1l-2.0,2.7M1006.0,653.7l-1.2,3.3M1138.4,690.2l-1.4,0.8M1065.9,643.3l2.8,0.1M920.0,671.6l2.6,1.1M1055.9,706.6l-2.3,1.5M1033.5,723.0l2.1,0.7M1053.5,627.2l0.3,1.2M1058.9,605.7l-3.4,0.7M1114.4,776.5l-2.3,2.0M946.1,664.5l1.9,1.6M1057.0,632.1l-1.5,0.1M1049.3,702.4l-0.4,0.6M1017.8,640.1l1.4,1.3M1023.8,652.5l2.0,2.5M1062.1,719.1l1.7,0.2M1030.4,624.3l-2.5,1.8M1088.1,578.4l-2.3,1.9M1123.6,636.6l2.0,0.7M1131.3,644.0l1.6,1.4M1061.3,621.0l0.6,0.0M1047.1,658.4l1.2,3.0M1096.2,814.1l-3.1,1.4M912.3,594.8l2.5,0.9M935.4,635.0l-2.2,1.8M929.6,705.9l0.4,0.6M1010.7,651.5l-2.4,0.9M1077.0,700.7l0.8,3.4M1016.1,674.8l-1.9,2.4M1015.2,612.2l0.5,0.8M1134.0,649.5l-1.5,3.2M992.1,727.8l-1.4,0.5M913.2,689.1l2.0,2.6M1177.6,731.3l-0.0,0.9M1000.2,581.1l0.2,2.3M1096.8,623.7l0.6,0.5M1098.8,656.7l1.0,0.7M1104.9,685.2l-1.3,0.5M1059.7,740.6l-1.0,3.3M1099.2,632.3l0.7,2.6M1070.2,739.8l0.4,0.5M1176.2,585.3l3.5,0.8M999.3,617.0l0.8,0.0M1010.4,687.6l-1.3,0.2M949.1,784.3l1.4,1.3M1035.8,636.4l1.1,0.2M1046.4,663.4l0.7,1.8M992.9,695.7l1.7,1.8M982.8,685.9l0.4,0.6M957.2,635.9l-1.1,0.8M1144.5,729.3l2.5,2.2M944.8,636.6l2.2,1.8M1059.1,616.7l3.6,0.1M1093.3,618.2l0.5,1.8M909.5,609.5l-0.1,1.1M952.9,713.4l-2.3,1.4M961.8,722.8l-0.0,1.0M1001.0,654.9l0.6,0.2M1101.5,746.6l-0.3,2.7M1052.4,694.7l0.4,0.9M1149.4,596.4l-0.8,2.4M947.1,664.8l1.1,1.2M995.7,622.9l0.8,2.7M1043.5,599.1l-2.9,0.9M989.2,635.1l-1.1,0.6M1079.3,712.3l0.2,0.7M1096.1,637.3l1.1,2.6M1053.8,605.3l1.5,2.7M1029.9,711.9l2.0,2.9M1025.7,661.6l-0.7,0.2M1124.4,691.3l1.9,1.4M1079.2,638.7l-0.3,3.0M839.5,645.1l-3.1,0.6M1095.0,637.4l1.5,2.5M1097.0,662.2l-0.1,2.7M1098.2,755.1l-1.3,0.1M1034.0,672.6l-0.6,1.1M1009.5,681.2l2.1,1.2M1001.8,703.6l-0.7,0.2M871.2,674.4l-0.0,1.5M1141.1,730.6l0.1,2.6M1160.2,652.0l0.5,1.5M1026.7,660.0l1.8,0.6M1083.0,692.8l2.6,1.7M889.6,735.1l-0.1,0.7M1142.6,735.3l-0.0,1.4M947.7,692.4l0.1,0.8M976.4,728.3l3.1,1.6M1017.4,703.4l-0.9,2.7M1070.9,601.6l1.3,0.5M1098.4,730.6l-1.9,1.3M1109.5,656.5l0.3,3.0M882.9,684.5l0.7,0.9M1058.6,689.9l3.2,0.4M1119.7,709.1l0.7,0.4M1059.5,738.1l-0.6,0.7M1140.2,606.4l-0.9,2.1M1065.6,642.8l3.2,0.7M1001.2,723.8l1.1,2.3M1095.3,646.2l0.1,0.8M1074.8,616.5l2.3,0.6M1034.3,636.8l1.3,2.8M956.6,590.5l2.6,2.3M1017.4,875.9l-0.1,3.4M968.2,693.9l2.2,0.1M1120.2,663.4l0.8,0.5M955.4,611.5l1.1,3.2M921.9,676.5l2.0,2.0M1038.7,763.6l3.1,1.7M1052.5,697.7l-3.3,0.5M1093.8,616.9l-1.2,0.5M1015.8,704.9l-0.3,1.2M1062.8,664.5l-2.3,0.7M1049.7,653.1l0.1,1.3M946.9,621.2l2.9,0.3M952.9,675.7l-2.3,0.6M1047.1,626.4l2.6,2.2M1057.3,668.9l1.6,1.5M1061.5,733.9l2.0,0.2M1002.2,721.6l2.0,0.5M1151.4,814.7l2.4,2.0M1012.3,673.3l2.3,1.0M1006.3,682.6l-0.2,0.8M1022.9,686.1l0.8,3.4M1071.8,701.4l-1.6,2.5M1130.1,665.0l0.9,0.9M1102.5,671.1l2.1,1.6M1036.2,627.7l0.6,0.6M1105.7,614.0l0.7,0.2M1070.3,608.1l-1.2,1.5M1056.3,737.4l1.1,0.1M971.8,738.0l2.5,2.1M1125.7,655.7l-0.6,1.5M1083.8,728.6l1.3,0.2M991.4,634.2l-0.1,2.4M1055.0,691.7l1.1,1.2M978.5,588.7l-1.4,2.0M980.9,758.5l1.2,1.2M1138.5,641.1l-0.1,1.0M1010.3,626.6l3.0,0.1M1083.6,587.9l1.6,1.6M1052.5,672.5l-0.2,2.6M1154.8,673.5l0.0,1.0M1054.5,725.4l0.6,2.3M1008.9,698.7l-2.7,1.0M1114.9,729.6l-0.5,0.4M866.6,613.2l1.4,0.6M942.4,655.1l0.0,1.1M1079.5,680.2l2.9,1.2M1051.0,608.8l-0.6,1.2M958.9,679.6l-0.6,1.2M1067.3,588.0l-2.0,2.4M1059.8,704.4l1.0,0.3M1091.5,847.4l-0.6,0.0M1142.5,660.0l-0.1,1.1M1143.8,632.8l-1.2,1.3M1028.1,732.0l-0.1,0.8M1070.8,721.4l0.2,1.2M989.4,645.9l-1.7,2.4M1069.1,746.5l-3.1,0.1M1001.3,594.4l0.3,0.6M1067.6,722.1l2.1,1.7M1087.3,609.5l2.0,0.9M1099.0,649.9l-0.6,3.5M929.6,639.7l1.8,0.7M1039.5,648.5l-2.2,1.4M1073.1,651.3l1.8,1.4M1080.1,625.0l-0.9,1.3M1073.8,672.4l-1.8,1.3M976.7,733.7l1.2,1.3M1060.5,587.7l-0.1,2.8M1017.8,690.5l-0.7,2.6M1108.4,665.7l3.1,1.2M1081.3,589.1l0.4,0.7M1096.5,578.3l0.4,0.6M1041.2,833.2l0.3,2.3M1044.2,607.2l-0.7,3.2M1028.5,713.3l-0.4,1.4M996.1,676.7l1.5,2.9M992.0,696.0l-2.0,0.1M1111.8,608.1l-1.0,1.2M1027.9,681.4l2.1,1.2M1115.6,819.8l0.1,1.6M1039.3,582.2l1.4,2.7M1031.3,702.6l-0.1,2.5M1101.6,662.8l2.0,1.9M876.0,618.2l0.7,2.4M989.8,724.8l-1.2,0.6M1037.2,649.2l-0.1,3.4M1068.0,699.8l1.2,2.2M1066.0,725.0l0.5,1.4M1057.9,608.0l-0.3,1.4M999.3,720.7l0.6,0.4M940.4,713.8l1.5,1.0M1058.7,713.9l0.3,2.2M1045.8,674.9l-0.1,2.1M1052.0,636.0l0.8,0.5M1066.3,686.3l-0.5,1.4M1023.6,601.6l1.2,3.0M1122.8,599.4l-2.1,2.9M1092.3,779.7l2.0,2.0M1029.4,644.6l0.1,3.0M1168.6,701.8l1.7,0.2M961.6,682.9l1.2,1.1M984.1,661.3l-2.6,1.0M1049.3,635.6l1.5,0.9M1022.0,644.0l-0.4,2.8M1014.7,726.0l3.4,1.2M1036.2,689.9l1.9,0.0M1016.3,640.8l-0.8,1.4M1100.6,684.2l-0.2,3.4M1093.2,615.5l-0.1,0.9M1089.8,599.1l-1.9,0.1M1037.8,591.3l2.3,1.8M1062.6,728.6l-2.2,2.0M1088.5,644.1l1.7,2.3M1117.4,645.0l2.2,1.6M1150.7,665.6l-1.0,0.6M891.3,643.6l0.3,0.6M1034.5,624.5l-3.5,0.0M1068.2,724.1l2.0,2.1M925.6,754.2l1.8,0.1M967.0,636.4l-1.1,2.1M1092.4,780.9l0.8,1.3M979.3,693.7l-1.9,1.7M1033.5,662.8l1.1,2.3M982.1,738.2l1.0,3.1M982.1,615.9l-0.8,1.4M1071.0,695.8l-0.2,3.3M1060.6,698.8l-0.6,0.1M1046.8,636.3l2.6,2.3M1128.4,638.9l-1.7,2.1M1102.9,662.2l-0.8,0.4M1030.7,710.3l0.8,1.8M1040.4,683.4l2.6,0.2M1108.8,662.4l1.8,1.9M1012.2,591.7l-0.5,2.3M1083.9,651.2l2.1,2.3M1025.7,633.0l1.4,2.1M1056.5,659.6l0.6,3.4M1084.1,698.3l0.7,1.0M1102.4,719.0l-0.4,0.5M1070.2,740.4l-0.7,0.9M985.3,703.3l0.3,1.8M1038.8,585.8l-3.0,0.8M983.6,687.5l-1.0,0.9M959.8,702.2l-1.6,0.9M890.6,657.0l-2.1,0.0M1011.6,670.2l-0.7,0.2M1042.9,695.4l2.2,0.1M886.0,667.1l-0.9,0.8M1070.6,720.5l2.7,0.6M970.8,583.2l2.5,1.3M1005.3,678.9l1.4,0.3M1019.2,754.3l-2.2,1.1M1085.9,637.5l-1.2,1.3M1141.9,624.1l1.8,0.4M1036.0,662.7l-3.2,0.7M1171.4,703.9l-0.9,0.9M919.1,771.9l0.9,0.5M1100.1,624.2l2.0,0.4M1089.3,728.0l-1.0,1.2M1061.3,765.8l-2.7,0.5M993.2,729.2l-2.1,2.9M1116.4,713.3l-2.0,0.5M975.4,604.2l-0.3,2.1M1035.7,629.0l-1.6,2.3M988.9,733.0l1.5,0.5M1089.9,651.3l0.7,0.7M1038.8,741.5l0.7,0.2M1025.3,599.9l1.9,2.8M1072.4,679.0l-1.2,0.0M1021.4,637.0l-1.0,0.5M955.1,588.3l-1.2,3.1M947.7,780.4l2.1,0.3M1139.3,684.8l-0.6,1.1M1044.7,669.1l3.2,1.0M973.0,633.9l-1.5,1.4M1105.6,646.2l1.8,1.0M994.4,765.8l0.6,1.7M1006.4,685.2l-0.7,1.0M1085.2,610.5l-1.0,0.4M990.3,611.4l-1.6,3.1M962.4,746.1l-0.3,2.5M1147.6,688.6l-0.6,0.8M1035.0,600.7l-1.8,1.0M1037.2,583.8l-1.3,2.1M1011.2,668.7l1.1,0.0M1061.4,706.0l-1.8,0.3M1070.1,658.8l1.0,0.3M1060.7,640.9l-1.3,1.0M1054.3,628.5l-2.7,1.4M1095.2,758.5l-2.5,1.6M1052.8,695.9l-1.2,0.9M1157.1,629.3l1.1,0.2M1119.7,728.0l2.2,1.1M1043.7,624.9l0.0,2.4M1051.0,606.9l-2.1,0.3M1082.4,620.0l-0.8,0.7M1029.8,612.6l-2.0,1.2M897.3,702.5l-0.1,1.8M1022.1,817.6l2.2,2.0M1069.8,691.9l0.0,0.8M1063.0,687.5l1.2,1.2M1122.7,612.1l-1.1,0.3M969.8,714.6l-0.8,0.0M1090.4,669.4l-0.4,1.2M976.1,709.6l-1.1,1.8M1046.9,719.2l-0.3,3.5M1100.1,661.3l-0.8,1.2M1059.9,669.2l-0.8,0.4M1135.9,596.0l0.4,0.6M1005.4,751.1l0.4,0.6M1101.2,719.8l-2.2,2.8M956.8,625.7l-1.5,0.1M1005.3,800.5l-0.5,0.5M1001.2,605.6l-1.2,1.0M1089.9,735.8l-0.4,1.6M1035.5,711.0l-1.2,3.0M1047.9,598.9l0.7,0.8M1006.7,712.6l-0.2,1.2M1035.6,672.1l-0.8,0.5M960.1,786.4l-0.8,0.3M1136.4,608.6l-1.0,2.5M1058.3,663.1l0.5,0.5M1044.4,656.3l-1.1,0.4M1091.5,716.2l-0.8,0.6M1104.0,643.4l3.1,0.8M1028.2,785.7l-0.2,1.5M993.4,720.4l1.4,2.7M1026.5,693.6l2.4,0.3M1115.0,623.0l-1.5,0.1M973.7,649.5l-0.7,2.9M999.7,615.3l-0.6,0.2M995.4,645.3l1.0,0.3M1021.9,639.7l1.7,0.1M1062.9,720.5l-2.5,2.3M1032.9,596.4l0.2,1.7M1001.6,627.4l-0.2,1.6M1164.1,751.7l-0.2,1.1M932.7,810.9l1.3,0.9M1040.0,678.5l-0.5,2.4M1092.3,616.1l-1.2,0.2M1041.5,705.9l0.6,0.3M1090.5,675.5l-2.9,0.6M981.0,780.8l1.5,2.0M965.0,584.0l0.5,3.3M951.8,631.1l0.7,1.0M1014.1,668.8l-0.8,0.2M1021.7,669.6l-2.2,2.8M990.4,679.6l-0.3,0.6M893.8,723.4l-0.2,1.2M1008.1,715.3l-1.3,0.1M1068.2,663.7l-2.4,1.5M1035.4,715.0l-0.5,2.0M929.2,664.7l-1.9,1.4M946.6,671.1l1.0,0.2M1156.4,660.8l-1.2,0.8M1049.1,630.6l-2.4,0.0M1078.6,693.5l0.3,1.1M964.3,724.0l0.2,0.8M972.5,624.8l-0.9,0.2M1140.6,650.7l2.4,2.5M1071.1,587.7l0.6,0.7M1076.1,633.3l3.2,1.6M1086.4,582.1l0.9,0.5M1048.3,688.7l-2.2,1.1M1118.7,783.0l-2.3,2.3M1051.0,615.0l-0.8,0.0M984.6,732.7l-1.4,2.7M1027.4,619.4l-3.4,0.3M1060.4,613.4l-1.7,2.1M951.7,681.9l0.4,0.5M956.5,673.0l-1.5,1.7M1136.0,608.4l1.1,0.4M1127.6,577.0l0.7,3.4M1034.2,599.0l-1.8,1.8M1130.9,594.7l-1.1,2.0M1026.5,727.7l1.8,1.3M1034.4,657.3l-1.2,1.7M1069.8,648.0l0.8,0.6M1158.1,699.2l1.9,0.5M1066.9,591.4l-0.5,0.6M1016.9,590.5l-3.1,0.1M1140.8,609.3l-0.1,0.9M1064.8,662.1l-1.5,0.7M1058.2,647.3l-1.6,2.3M956.4,735.4l-0.1,3.4M935.6,683.0l0.1,1.4M880.6,657.4l1.3,0.5M1071.1,591.5l-0.6,0.6M1017.5,672.6l-1.5,0.1M1029.1,659.6l0.0,0.9M1098.3,647.6l3.5,0.7M1090.5,654.2l0.4,1.5M965.7,657.1l-1.5,2.3M1041.5,660.4l2.8,2.0M1028.5,660.6l-2.0,2.8M945.2,629.7l-0.4,1.4M993.1,724.9l-1.6,1.3M1070.5,673.2l0.6,0.4M1081.8,709.8l1.4,1.4M973.0,657.9l-0.5,0.7M1073.0,864.5l-1.4,0.5M1065.0,662.2l-0.6,0.6M1017.4,672.2l-0.9,3.0M1034.7,787.6l-0.9,1.7M1083.7,704.9l0.3,1.4M1047.1,584.7l-1.3,1.2M1072.8,720.0l-2.5,1.0M980.1,642.6l0.6,0.9M945.0,613.7l-1.0,0.5M1010.0,596.1l-2.4,2.7M1028.0,646.6l0.6,1.9M862.6,650.9l1.9,1.2M1061.2,748.4l-0.4,1.0M899.7,761.6l-1.1,2.6M1112.4,691.3l-0.7,0.4M1001.2,715.8l1.6,0.6M1002.7,641.7l0.0,1.4M1103.9,577.7l-2.5,2.3M961.4,711.8l0.4,0.6M1007.2,638.5l2.0,2.7M1029.9,615.1l-0.4,1.6M1017.3,613.5l1.9,0.0M1040.0,624.4l1.9,1.5M989.3,637.9l0.8,0.3M1094.3,653.1l-1.0,1.1M1012.8,608.4l0.1,1.4M1113.8,617.2l2.2,2.6M1092.5,689.1l-0.9,1.3M986.0,675.8l1.8,0.6M1034.8,711.1l2.6,2.4M1018.9,638.1l2.7,0.7M1030.7,673.9l1.9,2.6M1040.2,649.6l-2.2,0.8M1019.7,652.4l-1.4,0.6M1108.1,614.5l2.9,0.2M1038.5,600.1l-0.6,0.3M929.0,631.4l-1.9,1.0M1012.3,669.5l-2.5,0.6M1042.1,781.2l-2.0,1.4M882.5,650.7l0.2,2.2M1000.9,623.4l1.9,0.7M1060.5,680.4l0.8,1.6M1082.7,675.7l2.1,2.4M926.8,700.8l1.7,2.6M1162.7,576.9l2.8,2.1M1073.5,876.2l1.6,1.5M1143.8,665.2l3.0,1.8M1009.5,690.3l2.2,0.3M1103.6,630.0l1.5,0.4M1051.4,687.6l0.5,0.4M978.0,698.6l0.5,0.5M1067.5,640.4l0.4,3.0M1007.0,636.1l-2.5,0.4M1068.6,601.3l0.3,2.2M993.6,587.0l-0.5,1.6M1103.6,697.4l0.2,2.5M1013.8,685.8l1.8,1.2M1042.2,745.7l-0.2,2.0M1079.4,686.2l-0.7,3.0M973.2,665.2l1.7,0.4M1026.8,676.3l-1.7,0.6M1036.1,642.6l-2.9,0.2M1144.6,667.0l-0.4,2.5M987.0,620.5l-1.9,1.5M987.3,647.8l1.1,1.7M1102.5,594.8l2.8,0.4M1046.2,698.5l0.2,2.8M1028.7,682.6l1.1,1.4M1006.7,738.1l-3.3,1.0M882.7,644.4l0.7,0.7M1049.0,636.3l0.8,1.5M970.1,596.1l2.5,2.4M992.6,710.1l2.9,2.0M909.2,709.4l-0.8,1.3M1075.6,632.0l0.0,2.1M1076.5,654.7l-0.3,0.6M972.4,635.2l-1.2,0.3M821.3,696.4l0.4,2.4M1021.3,618.7l1.1,2.3M1021.7,724.7l-0.6,0.5M1055.8,817.1l-1.1,1.3M888.6,650.8l1.1,0.3M1097.0,688.7l0.1,3.3M995.1,717.6l-0.5,0.6M888.5,629.6l0.6,1.9M1176.6,660.1l1.6,3.2M1031.0,836.5l-2.0,2.2M1081.2,715.0l0.8,0.9M1098.5,601.4l0.4,0.6M1104.4,626.5l3.4,1.0M985.2,728.0l0.3,2.4M991.7,609.9l-0.2,1.8M953.5,717.8l-0.8,0.1M1048.8,639.7l1.6,0.9M1006.3,587.1l1.8,0.5M1056.4,612.2l0.8,1.1M1056.7,806.8l-1.3,3.1M1004.8,665.0l0.3,1.4M1008.7,752.3l0.3,2.6M1047.3,689.2l-1.3,2.2M1120.3,586.0l-0.8,0.1M966.5,605.1l2.9,1.3M1068.0,675.4l-0.2,0.8M1123.0,698.7l-0.3,1.4M1048.9,697.4l2.6,0.5M1102.4,672.8l0.8,2.8M1134.3,613.5l-0.1,1.1M1087.3,694.2l-0.3,1.0M1030.0,650.0l1.5,3.2M1089.8,639.1l-1.3,1.1M956.0,763.6l1.9,0.4M1036.8,634.0l1.1,3.2M1012.4,655.1l1.3,0.8M1043.2,695.0l1.7,1.2M1038.8,651.7l0.8,0.6M1002.5,624.3l0.1,1.6M1061.1,605.9l-0.3,0.8M1021.8,731.4l2.7,2.1M1082.2,770.9l-1.8,1.9M998.4,636.6l0.6,3.5M998.7,665.5l-0.7,2.3M1022.7,597.3l-2.0,1.6M1026.5,615.2l-3.4,0.1M1008.2,577.0l0.8,0.0M969.1,638.9l1.0,2.5M1083.6,640.8l-0.8,1.3M1067.6,596.3l2.7,0.4M1144.1,650.2l-0.9,1.9M897.8,639.8l-2.8,0.5M1110.1,668.2l1.9,1.0M1018.5,663.3l0.1,1.9M1009.1,711.4l-0.6,1.9M1014.5,705.0l0.0,1.6M1093.6,586.8l1.6,0.5M1071.6,628.7l-1.6,0.4M1032.2,661.2l0.4,2.9M935.3,609.5l-1.5,1.2M1097.0,667.6l-2.6,2.1M1037.3,710.9l0.2,3.2M914.5,650.2l-3.3,0.0M1023.4,633.7l-2.6,0.3M1002.8,633.0l-1.1,0.4M1094.1,743.6l-0.1,0.7M1027.0,703.1l0.6,1.6M1092.4,598.9l-1.6,1.1M1020.4,789.9l0.2,0.8M1040.6,827.9l-1.4,0.3M1061.2,597.5l-1.8,1.7M1103.2,640.8l0.0,1.2M1098.7,742.4l1.3,0.0M1133.2,635.1l-0.1,0.9M986.0,712.3l2.0,0.2M1028.9,708.2l1.0,0.1M1080.4,610.0l-1.0,2.1M1000.8,628.5l-1.2,0.7M878.1,720.1l0.7,3.0M1016.0,679.7l1.9,2.4M1168.9,653.1l-0.9,2.0M1030.9,610.1l-0.4,2.9M1152.7,649.4l1.6,2.4M927.4,787.4l2.9,0.3M969.9,636.3l1.1,2.0M1054.4,644.8l-2.5,2.1M1076.0,670.4l2.9,0.4M884.0,658.2l-0.4,0.8M1057.8,649.3l0.9,0.8M1104.2,639.4l1.3,0.4M1077.7,706.6l2.5,0.6M1037.3,623.4l-1.5,3.1M1002.1,704.0l-0.7,0.3M975.4,579.2l2.2,2.7M924.3,662.1l-3.5,1.0M1103.4,667.4l2.0,1.5M985.9,675.9l0.3,1.0M957.7,662.8l0.8,0.5M1141.4,633.5l3.2,1.0M1063.2,623.6l-0.7,0.7M1054.1,664.1l-0.2,0.7M939.5,632.2l2.2,0.6M958.3,593.1l1.2,0.1M1079.8,742.7l-2.5,2.4M1050.0,617.3l-2.3,1.2M1091.5,621.3l-0.1,1.1M1067.1,609.3l0.5,0.9M1029.0,689.1l-0.0,1.3M978.7,705.9l0.7,0.8M1082.2,709.9l1.1,0.4M1018.1,762.5l1.4,2.2M1029.1,613.5l-2.2,1.3M1059.9,600.1l0.6,0.4M1155.4,592.4l0.0,1.1M992.4,668.2l-0.7,2.1M941.4,731.8l0.4,1.0M1076.1,613.5l-0.6,0.9M966.0,688.9l-1.1,0.4M1023.2,662.4l1.3,2.3M935.1,639.9l2.3,2.5M1059.5,703.4l0.6,0.6M1099.7,579.3l0.9,0.3M1015.5,626.4l-0.8,0.1M1094.9,599.0l2.9,0.5M1050.8,623.3l0.1,1.3M1113.3,667.3l3.2,0.3M1029.3,610.5l-1.1,1.5M940.7,766.6l-0.6,1.1M1033.5,627.5l2.2,1.6M1115.0,634.3l1.4,0.1M914.5,606.0l-2.2,0.4M1063.2,597.4l0.9,1.8M1094.2,728.4l-0.8,1.3M1109.2,730.8l2.2,0.2M1061.9,661.8l-0.3,2.4M1074.7,788.5l-1.1,0.7M1129.6,656.5l1.4,2.8M991.1,625.0l-0.0,1.6M1093.3,622.4l-0.0,0.9M1042.3,654.2l0.1,1.0M1061.4,715.5l-1.1,0.6M998.9,654.8l0.1,0.6M1144.4,632.6l0.2,2.3M1143.8,594.9l-1.0,0.1M1077.5,673.2l1.7,0.4M1040.0,722.9l-2.9,0.9M1164.6,800.6l-0.7,1.0M1024.4,650.9l2.0,0.6M1022.0,654.9l2.3,1.5M1117.7,880.2l1.5,3.1M979.5,669.4l-2.0,0.2M1118.5,661.4l-0.4,1.4M1096.7,630.8l0.5,0.4M1020.3,653.1l2.2,1.2M1058.1,694.0l0.1,1.6M1008.9,636.8l0.3,2.8M1030.7,691.4l0.8,0.2M1022.1,797.0l3.3,1.2M1081.1,694.6l1.1,0.3M1040.8,628.5l1.4,1.0M1106.2,661.7l1.0,2.7M948.7,694.8l-2.2,1.5M1065.1,578.5l0.4,0.4M1074.8,731.0l-1.5,0.7M1081.2,609.9l-2.3,0.3M1046.7,607.6l-2.4,0.5M847.3,715.3l0.7,1.8M1159.3,722.7l-2.6,1.7M1129.8,716.9l1.0,2.9M880.1,662.4l1.1,2.2M980.9,681.5l1.3,2.9M991.6,633.3l-3.1,0.3M1004.9,629.2l0.5,0.7M1063.7,748.8l0.2,2.5M1019.1,724.7l-0.8,0.3M1023.1,621.0l-0.9,0.1M1116.2,713.1l-0.6,1.7M919.1,718.4l0.6,0.0M1018.7,647.5l0.7,0.8M1174.6,694.9l0.7,2.3M1076.1,584.3l-0.3,1.2M1002.1,669.9l-1.8,2.3M1053.1,642.5l-1.6,2.7M1046.3,648.7l-0.5,2.5M1034.5,611.6l0.3,2.9M1127.4,652.2l1.2,1.2M929.8,623.1l0.8,1.4M1051.6,625.4l0.7,0.4M953.1,618.2l-0.5,1.2M1068.2,696.3l-3.0,1.6M1036.4,619.4l-0.9,2.4M1057.8,683.3l1.4,0.4M1112.0,622.7l-0.7,0.8M1044.2,781.2l1.2,0.1M1026.4,606.3l-2.8,2.0M1069.1,640.5l1.9,0.8M1000.0,690.2l-2.2,0.8M1047.9,673.1l2.5,0.7M1124.1,601.8l3.0,1.4M1023.6,596.9l-2.1,1.5M997.2,695.1l0.4,0.8M1117.8,644.5l-0.3,1.9M1072.8,651.2l-2.1,1.2M1087.0,663.8l0.7,1.0M1079.0,650.2l1.3,1.0M1122.8,683.7l-2.7,0.8M1029.2,670.6l3.0,1.2M1086.2,740.6l3.1,0.2M1075.1,724.0l-0.9,1.4M1102.2,637.4l-0.1,1.2M1022.9,706.2l-0.5,1.4M1036.0,622.0l-0.4,1.9M1103.4,576.7l1.0,0.5M1074.3,691.0l0.9,0.5M1101.2,633.0l2.6,1.8M1049.4,737.8l1.7,1.0M1088.9,612.8l-2.0,2.5M1062.0,684.9l-1.5,0.2M1016.0,683.2l3.2,1.1M1008.1,653.8l-2.5,1.5M1039.3,684.4l2.3,0.0M1083.3,674.2l2.3,2.5M1082.0,617.2l-2.5,2.4M1054.3,738.5l-2.3,0.5M1040.0,603.6l0.5,1.1M1037.0,662.8l-0.7,1.5M1064.2,579.5l0.5,2.5M908.2,672.6l-1.2,0.9M1010.6,691.5l-1.8,0.4M1052.5,724.5l0.4,2.7M1110.6,666.3l-0.4,0.8M1109.0,639.9l0.8,0.2M1086.6,685.5l-1.3,1.1M1125.5,594.8l0.5,0.8M1016.9,650.2l-0.4,0.6M1076.0,724.9l1.7,0.2M1086.9,606.8l-0.7,0.7M1108.1,630.8l-0.5,1.3M999.9,682.6l-2.3,1.1M936.6,588.1l-0.8,0.4M1064.4,615.2l-0.9,0.2M940.9,658.2l-1.6,0.5M1010.2,854.4l0.2,0.7M1124.0,749.5l-1.7,0.6M1038.6,700.9l3.0,1.0M1098.0,614.3l-0.2,3.0M1028.8,671.3l-0.5,0.8M1106.8,598.8l-0.5,0.3M1014.0,674.6l2.5,0.4M924.2,608.7l-0.5,2.8M1102.9,683.0l-0.7,2.9M990.8,613.2l0.4,1.1M1103.4,621.7l-1.5,3.0M1098.4,642.2l-0.1,1.2M1021.2,677.5l-1.5,0.5M1143.1,692.9l-1.9,0.4M1087.3,609.9l3.3,1.0M1107.3,627.0l0.8,1.4M1128.5,626.1l1.4,0.3M1020.6,650.1l-1.1,2.6M1061.4,645.7l1.8,1.5M914.3,753.1l1.6,3.0" stroke="#f6f1f6" stroke-width="3" opacity=".95"/>
<path d="M1061.6,738.1l2.4,0.6M963.6,663.9l-0.3,0.6M998.7,719.9l2.7,0.3M1090.1,750.4l-0.7,0.9M858.7,596.2l0.6,2.7M1050.7,833.1l-0.6,0.5M962.9,665.1l-0.2,3.1M949.0,664.6l2.9,0.8M1041.1,744.8l-1.4,2.5M1084.8,613.9l0.1,0.9M1134.3,588.0l0.9,1.5M1025.9,676.6l0.7,2.9M1030.6,760.1l-0.3,1.0M1025.4,814.9l0.2,0.8M1046.2,730.9l-1.5,0.7M1047.2,710.5l0.8,1.3M875.8,684.3l0.6,0.7M1002.3,654.7l1.3,1.3M1115.9,602.9l0.1,1.1M1025.3,614.2l-1.3,0.2M1069.1,693.5l-0.1,1.6M1060.0,625.1l-1.4,0.0M1029.9,641.1l-0.0,0.9M997.9,589.4l1.6,1.7M1025.9,630.9l1.1,1.4M935.2,752.3l-2.7,0.5M1033.8,670.3l0.6,1.3M1015.0,668.9l1.0,1.6M1014.9,583.2l1.6,0.2M1108.7,716.9l1.4,0.5M983.9,738.2l0.5,2.7M1086.5,646.6l0.8,0.2M961.9,742.0l-1.1,0.0M1010.3,762.6l0.7,2.4M1109.3,739.6l0.4,0.4M1051.1,642.1l1.6,2.7M1125.3,707.5l0.3,3.1M1125.7,719.7l1.6,1.0M1066.4,603.1l-1.5,0.0M1079.3,595.9l-2.4,0.5M1071.7,593.9l2.1,1.1M1056.5,590.0l1.6,0.5M1144.0,694.1l-1.6,0.5M1047.8,618.3l-2.0,1.5M836.1,692.7l-0.9,0.9M991.1,694.5l2.8,0.7M1009.6,668.3l2.1,1.8M1088.0,653.7l-1.2,2.1M907.1,602.0l0.8,0.2M1085.2,613.4l1.8,2.6M937.9,630.7l-2.3,1.7M1013.6,648.6l-1.7,2.1M1147.6,628.3l-0.2,1.2M1019.5,705.1l-1.5,2.2M952.8,676.5l0.9,0.4M954.2,657.2l-0.2,2.9M917.2,750.1l0.8,1.1M1101.7,648.8l-1.6,0.9M1106.8,730.4l-2.2,0.1M980.4,693.7l-0.6,1.9M1005.4,715.5l1.0,1.2M1062.9,707.2l-0.6,1.9M1018.2,583.8l-2.5,1.7M1116.5,579.3l2.9,1.2M1148.8,658.8l-2.9,0.6M1105.5,628.1l1.4,0.9M926.6,631.9l-0.0,0.8M1071.0,639.6l0.8,1.8M1082.5,612.0l1.1,0.3M908.4,725.0l2.0,1.0M1141.9,720.1l-1.0,0.7M1115.0,587.2l-0.2,1.2M1005.2,630.0l-0.4,0.6M1128.8,612.3l-0.5,0.8M1062.7,630.7l0.9,0.5M1026.8,638.9l1.3,0.3M1013.3,706.1l-3.1,0.5M1104.1,682.5l1.3,1.6M819.6,663.3l-2.2,0.7M1069.8,590.9l-0.6,0.4M1098.3,824.7l2.0,0.3M1102.8,608.0l2.3,2.1M963.9,685.8l-2.1,0.1M1011.3,640.1l0.7,0.9M1134.1,753.7l0.1,1.4M1005.2,717.2l-0.7,2.0M953.4,656.0l-2.4,1.3M837.5,786.1l0.2,0.6M1131.1,632.7l0.8,0.2M1141.3,629.8l-1.8,1.0M1064.4,580.3l-0.5,1.5M1034.1,747.6l1.4,2.7M1099.1,704.8l0.3,0.8M1043.6,708.2l2.7,0.8M1067.0,638.3l-1.8,0.5M1017.9,580.3l1.9,1.3M1072.6,611.8l-0.1,1.0M1053.1,641.9l-0.1,2.3M1022.7,725.3l1.1,0.3M1087.4,588.1l1.2,1.8M1027.8,640.4l-1.7,1.2M1096.8,667.8l-0.5,0.7M992.3,702.9l1.7,1.7M1149.9,888.1l1.5,0.7M1100.6,584.9l2.6,0.6M997.3,701.4l-1.0,1.5M982.9,613.7l-1.1,0.3M1127.6,764.5l1.0,0.6M900.6,697.6l-0.6,2.0M1047.9,594.0l2.6,1.8M962.4,683.7l-1.8,2.2M1015.1,723.4l2.0,2.3M1002.5,622.3l-2.8,0.8M1143.5,674.5l-2.5,0.5M1065.4,608.2l-2.1,0.3M1033.1,623.5l-0.1,0.6M1089.8,656.3l-1.1,2.8M1112.7,663.3l-0.4,0.3M1072.8,689.0l0.5,1.0M1038.3,623.9l-1.3,1.3M1025.3,736.3l1.5,1.2M1154.0,790.5l1.2,1.9M1083.6,672.1l-0.2,1.4M997.7,693.3l0.4,0.3M915.0,674.4l0.9,1.9M999.6,617.2l0.5,1.4M1005.4,677.8l0.7,1.0M1096.8,682.4l-2.0,0.9M1010.9,633.4l-0.5,0.1M1161.7,646.0l1.3,1.7M1054.2,724.8l-1.1,0.5M1084.4,631.4l-0.2,0.9M958.8,636.3l0.0,0.6M844.4,693.2l0.1,0.8M943.3,622.0l-1.9,0.8M1148.6,782.7l-1.0,0.9M1052.3,601.9l-1.4,2.1M1044.3,699.6l-1.3,1.7M1022.7,705.3l1.1,0.4M1112.9,741.8l0.3,1.1M1152.8,752.4l-1.4,0.3M986.7,699.5l2.8,0.8M995.3,758.4l-1.2,0.7M974.5,643.6l-1.4,2.0M1104.8,635.2l0.0,0.8M942.4,716.7l2.7,0.4M1002.4,737.1l0.2,1.3M1094.3,630.0l-1.7,1.3M1110.2,676.4l-1.4,2.4M1096.6,618.0l0.2,2.7M913.9,667.6l1.1,0.2M887.0,672.4l0.0,1.6M977.9,763.2l-1.5,0.7M989.1,703.9l-0.8,0.4M1107.6,619.7l1.2,2.3M1069.1,595.6l1.1,0.4M1020.5,615.7l-0.8,2.2M1090.0,654.1l-1.4,1.0M1171.4,693.5l0.2,1.9M1092.3,618.8l-1.6,0.4M1079.5,660.9l-2.5,0.9M1072.1,636.2l-0.1,2.6M1078.4,715.2l-0.6,0.3M1018.9,616.4l1.9,0.0M1082.9,678.0l0.8,2.2M955.9,669.7l1.7,1.0M996.9,619.7l0.3,1.7M1009.2,670.3l-1.5,0.3M1054.5,717.5l0.3,1.3M1059.9,585.6l0.0,0.7M1113.8,679.0l0.1,2.2M976.5,664.8l-1.0,1.0M955.3,592.1l-0.8,1.3M995.2,719.2l0.4,0.6M1123.6,643.2l2.3,0.8M982.4,680.8l1.4,0.2M1092.6,629.3l0.3,1.0M1081.3,594.3l0.3,1.5M1028.3,758.5l-1.4,1.7M834.3,593.2l-0.3,1.1M1007.5,707.4l2.3,0.3M1114.4,725.9l-0.7,1.2M1138.1,633.2l-0.2,1.0M1079.1,630.8l-1.0,2.0M966.2,669.7l0.5,0.2M1006.3,771.4l0.2,1.7M1011.9,681.4l-1.7,1.7M1063.0,619.1l1.9,0.1M1031.9,589.2l2.4,2.1M1033.6,637.8l0.7,0.5M1002.1,741.4l2.2,1.8M950.0,608.3l0.8,0.9M1029.0,734.7l0.8,1.1M961.1,668.0l-0.6,0.5M1047.0,644.3l-1.5,1.5M1078.1,741.1l-1.5,0.0M984.9,731.0l-1.6,0.2M1085.7,694.3l1.9,1.0M1142.1,726.7l3.0,0.7M1048.2,784.6l0.5,2.1M963.1,616.0l1.4,2.0M898.4,685.9l-2.4,1.1M1043.6,609.0l0.5,1.9M1002.8,673.1l1.3,1.8M851.1,586.8l-1.4,1.8M1105.1,650.1l1.2,1.1M1060.1,674.1l0.3,2.2M1043.8,584.1l0.5,0.4M1129.1,638.2l2.0,0.8M1005.3,621.7l-0.8,1.1M1049.5,678.9l-1.7,0.9M962.0,730.7l-2.1,0.6M1043.2,599.9l0.5,1.4M979.3,641.6l0.6,2.0M1179.0,634.1l-1.6,1.6M1052.2,599.5l-2.3,1.3M1058.7,603.4l1.1,0.1M1096.0,634.4l-0.9,1.1M1066.5,616.1l1.7,0.9M991.9,680.5l1.0,1.6M1044.5,726.6l-1.7,0.3M1017.1,641.5l2.1,2.0M1106.3,664.1l2.4,1.0M1119.4,653.5l1.3,1.9M1094.3,621.4l0.9,0.9M1014.7,634.8l-0.6,2.2M1087.0,682.2l-0.3,2.3M1021.2,809.1l-0.7,2.0M1009.1,624.0l0.4,1.0M1133.3,684.3l1.0,2.1M964.0,603.0l0.7,2.4M1052.7,629.0l-0.5,1.5M1103.8,662.4l0.1,1.7M1070.8,734.0l-0.4,0.4M938.7,777.5l-0.6,0.3M1067.0,633.1l-0.9,1.1M1074.8,625.6l-0.0,3.1M1073.7,651.9l-1.7,1.8M961.1,654.2l1.8,1.7M934.3,633.7l-1.6,2.4M953.7,625.9l-0.4,2.5M1121.8,682.8l-0.9,0.7M958.7,719.1l0.9,0.4M1095.3,618.7l-2.2,1.7M997.9,611.1l-2.8,0.3M1086.0,614.0l1.0,1.7M965.8,672.8l-0.7,0.6M1077.4,710.0l-2.6,0.5M1033.2,674.9l1.1,0.2M1110.5,624.7l0.7,0.0M1049.6,727.1l0.1,0.6M1037.6,700.0l-0.4,0.5M1033.1,664.1l-0.4,0.5M1101.1,686.6l0.8,0.9M1114.4,726.3l-2.7,1.4M1094.7,630.9l-0.8,3.1M954.6,593.8l0.8,1.1M995.2,657.0l1.4,0.9M1178.9,777.3l-1.8,2.4M962.8,623.9l1.7,0.2M1000.9,625.3l0.5,0.9M1128.6,690.3l-2.7,0.2M1026.2,618.4l-1.6,2.1M1052.1,641.5l0.3,1.6M1121.8,686.0l2.3,1.3M1061.5,599.4l-3.1,0.7M1028.2,642.8l-0.1,1.6M1153.9,616.4l-1.7,1.7M1063.3,670.5l-0.5,1.7M1045.1,716.3l-0.2,0.7M1083.7,664.4l0.8,1.4M1099.6,611.2l2.1,1.1M1044.0,640.4l0.5,0.9M966.4,726.3l-2.3,0.9M953.5,680.7l-0.1,0.6M1056.4,689.9l0.8,0.0M1108.4,670.3l-0.1,0.7M947.9,666.0l-0.4,0.9M1007.3,712.2l-1.4,0.8M1083.0,657.9l1.8,1.2M1065.1,660.8l-1.2,0.5M1025.0,614.0l-1.6,0.0M1070.3,658.8l-0.2,0.8M1084.9,629.0l-0.6,0.0M1040.7,690.1l-0.7,0.8M1001.1,631.4l-1.3,1.5M1070.6,875.6l-1.7,2.0M1087.0,675.5l1.7,1.0M964.2,733.0l2.0,2.0M1055.3,690.5l-0.0,1.0M1050.4,646.7l-1.4,0.2M1063.1,662.5l3.1,0.7M1087.0,633.2l2.8,1.4M1078.8,619.2l-2.7,0.0M996.0,647.9l1.0,2.6M1011.6,627.8l1.5,2.3M1104.4,760.8l1.1,0.4M1041.3,653.8l0.0,0.7M1153.8,609.7l-1.1,1.3M1050.1,629.8l-0.6,2.0M1044.2,715.0l1.8,0.7M1013.0,721.9l1.8,1.0M1039.9,617.2l1.5,1.7M1110.0,682.9l0.0,0.6M947.7,633.6l1.4,0.6M972.5,652.1l2.1,1.5M1037.7,743.9l-0.6,0.7M967.0,688.3l-2.3,1.6M1116.4,589.5l0.1,2.6M1098.2,606.3l-0.6,1.4M1108.1,712.5l-0.6,0.4M1088.7,625.8l0.6,0.7M1043.6,720.4l0.6,2.2M1033.9,615.1l1.1,2.8M1008.9,658.6l1.7,2.1M1036.3,647.9l-1.3,2.2M1034.9,626.4l-1.5,0.1M1056.6,608.5l0.1,2.7M961.8,713.4l-2.8,0.2M1075.8,856.0l2.9,1.0M1070.4,897.6l-0.9,1.3M1084.4,664.8l-1.1,2.5M858.5,654.9l0.5,3.0M963.3,639.3l-2.4,0.6M986.8,699.5l-1.9,0.7M1024.7,704.8l1.1,1.3M1050.1,682.8l-2.0,1.2M957.0,748.4l2.6,1.9M1087.3,686.0l2.3,2.0M1061.2,705.2l-0.3,2.3M1110.2,732.8l-1.2,2.3M1050.7,651.6l-1.9,2.4M1108.4,654.6l-2.2,0.8M1046.3,707.7l-0.7,0.6M1091.4,593.8l0.1,1.5M1007.6,700.2l1.1,1.4M988.4,578.8l0.5,1.4M1061.6,606.4l-1.0,0.6M1085.2,680.7l0.9,0.1M1005.6,651.9l0.5,1.1M905.3,733.9l1.2,0.4M1094.9,650.5l-0.5,0.8M1029.9,634.6l-2.4,0.4M1084.1,614.0l-1.7,0.3M1058.1,660.6l0.4,2.6M996.4,777.6l1.3,1.1M891.8,662.5l2.7,0.2M1016.1,661.9l-1.7,0.5M1064.1,729.9l0.0,0.6M992.3,685.3l-0.8,2.7M1108.2,718.3l2.1,2.3M1061.3,715.2l-2.0,0.8M969.6,721.4l0.3,2.8M1016.8,611.7l2.1,2.2M1014.4,608.2l0.1,1.1M1086.5,667.7l0.6,0.1M1104.3,638.2l-0.8,2.3M1036.6,708.0l1.3,0.4M1081.9,645.9l-2.4,0.7M1060.8,605.0l2.3,1.3M985.6,655.9l0.5,0.8M939.4,698.4l-0.4,1.4M1060.7,704.1l-0.8,2.2M1088.8,583.8l1.0,2.6M839.6,670.0l-0.8,1.3M1018.8,708.3l1.1,1.1M999.8,634.1l-3.1,0.6M992.5,742.1l2.8,0.1M942.7,642.4l-0.4,1.3M1065.3,669.4l-2.2,0.6M1064.3,638.4l1.1,2.6M875.4,720.4l2.5,0.2M1060.5,664.8l-1.2,0.3M1075.4,687.4l1.9,1.9M1097.3,693.0l0.5,0.2M1041.9,615.5l-0.5,1.6M1129.2,631.9l0.2,3.1M1043.7,753.0l-2.4,0.7M975.9,825.1l0.1,1.2M1005.4,624.4l-0.6,0.2M1069.0,709.7l-1.2,2.2M973.5,675.7l2.0,1.1M1038.8,752.2l-0.8,1.5M1131.3,734.4l2.5,1.2M1020.2,691.1l-0.4,2.5M1073.2,738.4l0.1,3.0M1052.0,724.7l-1.0,2.5M1082.8,577.3l-2.7,0.1M1010.7,703.9l0.3,2.3M981.3,751.4l-1.4,1.0M875.7,762.9l-2.5,1.3M1086.5,632.1l0.6,0.2M1023.8,709.6l-0.5,1.1M1072.6,627.1l-0.3,0.7M956.5,799.7l-0.3,0.6M1101.4,624.4l-0.1,2.4M969.4,646.2l-0.6,0.2M1026.0,699.9l-1.3,2.5M1049.7,668.1l1.2,2.6M1050.3,599.1l1.9,0.5M1032.0,682.2l0.6,0.0M1028.9,766.1l0.3,2.2M909.8,732.4l0.9,2.8M1127.0,638.1l2.9,0.0M1045.2,706.1l0.4,1.2M1039.8,628.7l0.0,1.6M993.9,627.2l0.1,1.5M1112.6,720.3l1.8,0.6M1097.4,746.7l-0.1,2.4M1090.7,668.1l-0.1,1.3M1064.4,638.4l-2.9,0.1M995.7,646.5l2.6,0.1M1074.1,594.4l-2.2,0.8M950.6,781.9l1.5,0.2M1114.1,649.6l0.4,1.0M1012.8,693.0l-1.7,2.5M893.7,657.9l-0.8,2.2M887.4,776.5l-0.5,0.6M1017.7,666.1l-1.2,1.6M1085.9,598.5l0.3,1.2M985.8,739.9l0.4,0.3M1126.8,656.2l0.3,1.4M1051.7,752.2l-0.7,0.1M927.0,682.5l-3.2,0.3M900.3,717.1l0.1,3.1M1025.6,699.0l2.0,1.8M958.2,719.2l1.0,1.5M1031.9,770.2l-0.9,0.9M1036.5,760.0l-2.8,1.2M1073.6,637.3l-1.2,0.6M1090.1,651.6l2.0,1.9M978.8,617.4l-0.7,1.7M1103.2,620.1l-2.2,1.5M905.1,636.7l-0.1,1.9M1015.6,613.2l-0.8,0.3M968.3,791.9l0.2,1.2M1044.5,761.8l-0.1,0.5M1028.4,630.9l-0.5,0.5M1121.6,631.5l-1.8,2.4M1022.0,651.7l-0.2,0.7M1010.1,715.5l1.4,0.6M1060.8,612.0l-0.2,2.6M1118.8,615.1l1.4,0.3M1114.3,660.8l0.8,1.9M1078.6,683.8l-0.4,0.5M1050.0,605.4l-2.7,0.9M1027.1,617.6l0.3,2.1M992.0,619.8l-0.6,0.2M1009.6,773.3l2.9,0.4M1044.9,666.0l-0.3,1.4M976.9,640.1l-0.7,0.7M1121.0,715.4l1.6,0.7M991.1,695.2l1.8,1.6M957.8,741.1l-0.6,0.2M1057.2,648.1l-2.9,0.0M1068.9,607.8l1.1,2.0M1052.4,602.4l-1.6,0.4M1074.7,641.6l0.4,1.9M1047.4,698.8l1.0,0.7M1034.7,576.8l-0.8,1.0M1178.3,594.1l2.0,0.4M1068.3,631.2l-0.7,2.1M1074.2,602.6l-0.8,2.0M1003.0,685.1l-0.6,0.4M1015.6,767.7l1.9,0.9M1026.9,666.2l-0.2,0.6M1045.8,703.6l2.9,0.6M1020.0,631.4l0.1,0.7M921.7,617.8l0.5,0.5M931.5,707.7l1.0,0.4M1062.5,778.7l1.3,1.9M1060.1,621.6l0.6,0.6M1085.3,771.3l0.4,0.8M1082.1,725.7l-1.5,0.4M1063.7,625.0l-0.8,1.8M988.4,604.1l1.1,0.8M1025.7,707.3l1.2,1.3M1093.5,698.9l-3.1,0.1M1043.0,684.4l2.4,0.9M936.7,756.1l-1.2,1.6M1074.4,707.7l-0.7,0.4M1067.8,741.8l0.4,1.7M1027.1,739.9l0.1,1.0M1072.6,645.4l2.5,0.1M1078.7,677.1l0.6,2.0M1098.7,633.0l-0.6,1.4M986.6,669.1l1.9,0.2M1117.3,630.7l1.0,0.6M1039.4,647.3l0.9,2.5M989.5,682.6l-2.6,0.4M923.5,697.5l1.4,1.6M1085.5,637.8l0.6,1.4M1081.1,729.5l-0.5,2.2M1179.0,665.9l-0.4,0.6M990.3,678.9l0.7,0.4M1060.8,739.2l1.2,1.2M866.3,667.7l-1.7,2.1M1119.6,598.4l-1.6,1.3M972.7,742.5l-0.7,0.3M1033.0,648.1l-2.6,0.9M1049.3,726.9l-1.4,0.4M1014.4,730.4l1.0,0.0M1030.4,703.9l0.5,0.3M1049.6,665.5l0.5,1.9M1114.8,649.4l-1.7,1.7M981.6,605.9l-1.5,2.3M1003.7,672.5l3.0,0.7M1041.3,762.5l1.0,2.1M1102.7,631.8l-0.3,0.5M1030.1,703.5l2.1,0.4M972.3,674.6l0.2,0.6M1059.4,708.1l-0.6,0.0M1020.2,725.1l-1.7,1.6M845.5,662.9l1.0,0.1M1072.1,617.5l-0.7,0.9M1028.3,701.9l-0.6,0.8M1090.1,704.2l-0.6,0.4M977.3,749.9l-1.0,1.3M1055.3,620.8l3.1,0.3M1055.2,737.4l-2.2,0.1" stroke="#dcecee" stroke-width="2.7" opacity=".9"/>
<path d="M1073.6,904.4l-0.1,0.8M883.4,727.7l-1.6,0.6M1102.2,876.7l1.5,0.6M1065.8,789.7l0.4,3.4M891.4,848.0l-0.9,0.2M1103.6,861.4l3.3,0.1M1003.9,773.1l1.1,1.6M1139.2,765.9l-1.6,1.6M1096.0,907.5l0.8,1.3M1020.4,849.3l0.5,0.4M1105.1,736.6l0.6,0.7M965.0,707.8l1.8,0.5M820.8,866.7l-1.4,0.2M1162.5,860.1l0.3,0.4M1161.3,807.8l1.6,2.0M988.2,855.5l0.7,0.3M816.9,888.3l-1.7,0.9M1121.7,860.3l2.9,0.5M1175.9,812.1l-0.1,2.0M1110.9,747.5l2.2,0.3M995.1,790.8l-2.6,0.3M941.9,773.6l0.8,1.8M1076.1,744.3l1.3,1.5M1056.1,845.3l-1.0,0.3M967.6,844.5l-0.7,2.3M1001.5,709.9l-3.1,0.5M851.1,878.2l-0.4,0.6M1116.8,886.2l-0.7,2.0M983.0,868.8l-0.8,0.3M1175.7,768.1l-0.9,2.2M1057.8,867.5l0.8,3.4M959.8,819.5l-2.4,2.0M1170.4,871.1l0.1,1.3M1114.5,755.2l2.1,2.5M1160.0,769.5l3.4,0.5M1068.5,885.7l-1.4,1.3M1141.8,831.5l0.6,0.0M975.0,882.2l-0.9,0.6M1074.5,924.0l0.3,1.5M1045.8,892.7l0.3,0.5M1028.7,768.3l0.7,3.0M1104.4,792.7l0.2,1.4M1033.5,840.9l0.9,2.1M1117.6,782.9l-1.1,0.1M1130.8,905.5l-1.1,3.0M1134.3,851.7l2.2,2.2M956.1,778.3l-1.8,2.4M1026.0,766.1l-0.4,3.4M1156.6,827.8l-0.8,0.2M963.1,726.9l-1.7,1.1M1132.6,793.6l-1.1,0.1M965.7,800.0l0.3,0.4M961.5,844.8l-0.7,0.6M1069.0,840.5l-0.7,0.1M1126.9,802.6l2.2,2.3M1054.6,816.2l1.3,0.2M1041.3,792.2l1.1,1.3M1137.9,764.7l-3.3,1.1M1008.7,799.3l1.2,1.2M1157.7,831.3l0.1,2.6M1052.1,808.3l-1.3,1.0M1124.9,809.0l0.4,1.1M1014.0,877.5l2.0,1.5M947.6,840.1l0.5,0.9M920.1,795.1l2.5,1.6M1137.5,820.6l-2.2,0.3M1155.9,800.8l1.0,0.5M949.2,818.2l0.6,1.2M1159.7,804.3l-2.3,2.5M938.8,833.8l-0.9,0.1M915.3,832.2l-0.8,1.5M982.1,859.8l2.8,1.0M926.7,771.8l0.8,0.7M818.8,804.9l0.4,1.8M889.3,818.6l-0.1,1.2M1115.8,818.4l-0.8,0.2M967.2,757.9l3.4,0.2M1152.5,790.6l2.3,1.1M924.8,830.2l1.5,0.5M1120.3,837.4l-0.4,0.7M934.2,794.6l0.8,3.4M968.8,832.9l-2.9,1.1M1000.5,811.2l0.9,1.6M1043.0,859.2l2.4,0.7M993.4,843.4l1.6,2.0M1061.2,822.6l-1.0,0.9M1143.7,849.7l-1.3,2.2M947.5,757.0l-2.0,0.9M1051.0,800.2l-0.8,1.4M1117.1,746.4l3.4,0.5M829.4,802.8l0.8,1.0M1022.6,798.5l1.6,0.6M848.7,894.3l-2.3,1.9M1037.0,831.9l-1.6,0.8M1173.4,727.6l-0.7,0.5M942.8,880.1l0.6,1.0M995.6,787.3l0.0,0.9M999.6,828.3l0.9,1.3M1106.9,882.0l-0.2,1.2M1095.1,767.5l1.0,2.2M1117.6,754.8l0.4,2.3M1145.5,792.1l-0.8,0.2M948.5,762.5l-0.9,0.6M1031.7,840.4l-1.7,0.3M936.3,759.4l-0.3,2.1M1025.4,845.4l-0.4,3.0M1066.1,902.5l0.5,0.1M1007.0,790.0l0.3,0.9M1141.8,901.9l-0.6,0.1M1077.3,787.6l-1.2,0.3M957.6,802.4l2.2,0.1M1119.5,862.7l2.6,0.8M1064.7,879.3l-2.0,1.5M1110.8,843.9l-1.2,1.5M1022.6,737.0l0.7,0.6M1050.6,766.4l0.4,1.5M971.9,847.3l-2.0,0.9M1140.7,791.5l1.2,3.0M902.7,796.9l2.5,1.1M991.5,864.4l1.8,0.0M1142.8,871.6l-2.0,1.7M1175.2,803.7l0.6,1.8M1004.6,835.3l1.8,2.9M1099.9,767.7l-1.8,1.0M1067.4,842.1l0.8,0.2M997.6,755.0l-2.3,1.6M1104.4,891.1l-2.0,0.1M1133.7,825.3l0.0,3.0M1120.4,827.3l0.6,1.0M1050.0,859.7l-0.9,1.5M1096.8,847.8l-2.9,1.7M1082.3,831.3l-1.2,2.1M1069.5,902.5l2.1,2.3M1127.2,772.1l0.7,0.5M962.5,785.8l1.3,3.1M990.0,883.2l-0.1,0.6M1168.5,834.4l3.0,0.6M967.8,851.3l-3.2,1.0M1173.2,878.9l-2.2,0.2M1033.1,804.8l0.8,1.5M1039.8,791.1l0.8,1.7M970.3,780.5l-2.7,1.8M968.8,799.4l-0.5,2.7M990.0,851.7l-1.0,0.8M928.3,815.5l0.6,0.8M1089.9,813.9l0.4,1.1M1016.7,771.0l2.6,0.9M1150.2,823.9l-0.6,1.3M965.8,872.2l2.9,0.8M1063.4,790.7l-0.3,3.4M1079.3,783.8l-0.5,2.9M1178.5,778.0l1.2,2.6M1000.4,910.0l2.4,0.7M1007.2,897.2l2.1,1.9M1067.8,848.5l0.2,0.5M1100.3,874.4l1.0,0.1M1049.4,797.5l-2.6,0.8M1118.4,843.4l1.4,1.9M1133.6,879.0l-1.4,1.4M1124.8,770.3l0.1,0.6M1160.7,870.8l-1.5,1.4M923.9,817.6l-0.6,0.0M878.4,731.1l0.9,0.2M956.8,754.2l-1.1,0.9M1000.1,767.1l2.8,1.9M1023.8,795.8l-0.0,3.2M994.0,798.1l-2.7,0.7M952.1,858.5l2.9,0.3M1125.1,846.9l3.3,0.2M970.4,742.3l-1.7,0.9M1091.5,793.6l-1.4,1.0M1123.6,835.9l1.5,1.2M1064.2,876.9l-1.1,0.2M998.1,882.8l0.8,0.9M1019.0,807.2l0.5,1.8M1128.7,808.5l3.1,1.4M1051.9,933.8l-0.2,3.2M1140.8,735.6l-1.8,0.2M1127.7,780.6l0.9,0.2M1104.1,805.3l-0.3,1.2M1111.6,784.6l3.4,0.1M1029.8,867.6l3.0,0.2M1118.4,790.4l-0.6,0.7M1172.8,871.9l-0.1,2.2M883.1,912.4l-0.3,1.4M1020.1,750.0l2.3,2.0M1088.0,774.3l-0.5,0.2M1047.3,777.2l0.1,1.1M1002.1,787.3l0.4,1.0M873.4,849.5l0.0,2.0M1174.1,741.9l-0.5,0.8M987.1,709.9l0.5,2.3M938.4,770.6l1.7,0.2M973.1,796.1l2.8,0.1M971.7,845.6l-0.5,0.3M1056.1,795.9l1.4,3.1M1168.2,758.9l-2.2,0.8M820.7,870.0l0.9,0.0M1075.9,776.0l-1.1,1.0M967.4,880.3l-0.1,1.5M941.2,764.9l0.4,1.0M1053.4,831.7l-0.8,2.4M998.6,751.6l-1.6,1.7M1012.1,880.1l1.7,0.5M987.9,738.2l3.2,1.1M1011.0,812.4l-0.3,0.4M1109.6,796.8l2.1,1.2M1156.4,914.9l2.0,2.1M1165.3,832.2l1.0,2.7M922.5,763.3l-2.3,0.7M1096.7,782.3l-1.3,0.5M973.2,790.9l-0.7,1.5M1037.6,848.1l0.5,0.5M1006.5,833.3l-1.0,1.8M1176.2,772.6l0.7,0.2M1135.7,776.8l0.7,3.0M988.0,882.6l-0.5,1.2M1098.4,859.7l-1.7,2.3M1093.3,758.6l0.8,2.7M1091.4,876.7l1.4,0.2M1016.7,898.1l0.2,1.2M1062.2,732.1l1.1,1.8M876.6,803.6l-1.6,1.1M926.8,930.0l0.6,0.7M815.0,741.6l-1.8,0.2M1081.1,779.6l1.2,0.6M1142.1,802.2l-0.6,0.9M1061.4,920.2l-0.9,0.9M1037.7,860.1l-0.1,2.1M1118.2,840.0l-2.1,2.7M1034.5,873.6l1.5,0.0M1076.6,871.0l0.1,1.1M1136.5,852.5l-3.2,0.4M929.9,879.0l0.5,0.5M1139.2,819.0l-0.9,0.5M1020.9,895.4l-1.5,1.9M1175.3,865.1l2.3,2.5M1070.0,806.9l-0.5,0.3M919.9,776.4l0.5,0.5M979.8,740.7l-3.4,0.3M1128.3,856.6l0.7,0.6M1157.7,824.0l3.1,1.6M1109.1,749.7l0.3,0.5M1122.7,855.6l1.2,1.5M978.3,782.1l-0.0,1.3M1011.5,849.2l1.3,1.8M877.4,736.8l-0.6,2.2M1174.3,779.7l1.6,2.3M1122.2,789.9l-0.2,0.6M1149.1,786.6l-1.6,0.5M1135.5,760.1l2.8,0.8M988.2,773.1l-0.0,1.4M1107.0,835.3l-2.5,1.2M1170.6,765.1l-1.8,1.3M1001.3,883.9l0.7,0.5M1172.4,806.5l1.5,2.0M981.4,787.9l2.1,0.6M1073.0,892.4l-2.7,1.9M1010.7,825.7l0.9,1.2M998.3,716.9l-0.2,0.9M931.7,805.5l-0.2,2.0M1018.6,895.7l-0.7,1.1M926.3,756.9l-0.9,1.2M1091.8,680.3l-0.7,1.5M1091.3,788.6l2.6,1.4M1118.5,800.7l0.2,0.5M1026.1,773.3l-1.1,2.8M1147.8,815.1l1.8,1.5M1171.3,759.1l-0.9,2.9M979.6,867.8l2.0,0.1M1085.7,794.9l0.8,1.4M995.9,846.7l-0.6,1.2M1062.8,763.3l-0.5,2.9M1022.2,850.1l-2.5,2.2M933.5,755.9l-1.6,2.2M1048.8,826.9l0.8,1.9M1070.6,861.0l2.1,0.4M978.0,850.4l-2.8,1.8M1143.0,776.2l2.3,0.9M1000.5,857.2l0.9,0.2M1127.0,822.4l-1.2,0.6M1071.0,771.7l-2.1,2.7M1096.3,771.1l3.4,0.3M1175.3,764.6l-1.6,0.3M898.5,816.9l1.7,0.2M1069.3,813.3l0.1,1.8M1102.8,800.5l-0.2,1.9M1168.0,864.1l1.0,3.0M952.5,790.7l2.5,1.8M1047.7,724.5l0.5,0.3M1092.9,809.5l1.1,0.1M925.8,818.3l-0.7,2.1M1110.9,810.1l2.1,1.5M1091.4,759.8l-1.5,3.0M920.7,780.8l0.2,2.0M972.3,852.3l0.6,2.0M1062.4,847.8l-1.4,0.3M1056.6,900.3l-1.4,1.4M976.0,787.1l-1.2,1.6M1022.2,731.2l1.1,2.5M1151.4,828.8l-0.3,2.3M834.0,692.6l-2.5,0.6M1090.5,798.9l-0.6,1.7M1056.9,853.8l-2.5,0.4M948.1,788.9l0.8,3.2M994.1,861.5l1.2,0.2M1089.3,786.8l-1.4,2.4M948.5,818.9l0.6,0.3M1017.0,863.2l-1.4,1.3M1067.6,865.6l-0.2,1.7M1060.3,851.8l-2.8,1.8M1094.2,832.2l-2.5,0.7M985.7,849.0l-0.0,1.0M1006.5,844.1l-2.1,2.2M1087.0,828.6l1.1,1.7M990.1,838.9l0.4,0.9M924.2,799.0l2.7,0.7M975.0,859.6l0.6,3.3M947.0,820.2l-1.5,1.7M1093.1,783.1l3.2,1.3M1148.3,744.8l2.7,0.6M967.2,801.9l-0.6,0.4M1080.4,824.6l0.5,2.8M946.0,789.6l0.7,0.5M1014.6,777.7l-3.2,0.4M1114.9,881.4l2.4,1.9M857.2,725.5l1.9,0.2M1085.8,768.1l-0.1,2.5M1168.3,834.6l-2.5,0.3M896.3,793.8l2.0,0.0M1066.0,794.2l2.2,2.2M1025.1,851.1l0.1,1.7M1119.8,838.5l2.3,0.3M1120.4,911.5l0.9,1.6M1039.4,762.0l0.2,1.2M1052.6,814.0l-0.7,0.3M981.5,860.4l-3.4,0.1M1079.6,811.2l0.5,1.5M1088.3,838.4l-2.5,0.8M1056.9,755.8l1.5,2.8M1063.6,826.9l1.6,0.9M1146.6,792.8l2.1,0.4M1043.9,844.8l-1.4,0.0M1076.9,870.4l0.9,0.6M1034.2,795.8l-2.8,0.8M841.8,808.5l1.8,1.0M911.5,831.5l-0.6,0.1M1006.1,815.8l1.7,1.6M1047.7,825.3l-1.8,0.1M1158.7,766.2l-1.0,0.6M1095.2,770.9l-0.1,3.5M1000.1,864.8l1.0,0.3M1110.8,753.2l1.6,2.0M1100.8,777.0l-0.5,0.4M1041.3,800.3l-2.4,0.9M973.2,713.6l1.8,1.4M943.2,817.2l-1.2,3.3M1011.9,888.9l3.1,0.6M1000.7,825.2l2.5,0.3M977.8,803.8l-1.1,2.1M1082.3,809.2l-1.6,0.0M1134.6,740.6l-1.7,1.8M1075.7,849.3l1.3,3.2M1083.3,907.9l-1.8,1.3M1165.8,781.7l0.9,0.5M1126.2,730.4l-0.4,0.8M1146.0,866.5l-2.4,1.1M1012.7,871.2l0.4,1.5M983.4,881.7l1.5,2.4M1025.8,771.7l-2.6,2.1M1148.1,837.2l-0.8,0.7M1011.8,772.9l-2.7,0.6M1139.3,719.1l1.8,1.1M1035.1,887.8l1.5,2.1M965.7,805.0l-0.6,1.7M1071.7,747.8l0.8,1.9M1097.0,881.0l-0.7,0.2M1174.2,737.9l-2.7,2.0M1105.5,829.3l3.3,0.5M1172.3,925.7l0.3,2.7M1104.4,901.1l-0.8,2.5M1066.0,759.3l0.4,2.7M1106.0,827.0l-0.9,2.4M1107.4,856.8l-3.1,1.3M1068.5,857.3l0.1,3.0M1053.6,804.1l-0.7,0.4M1083.7,773.6l0.1,1.8M1096.6,775.3l0.8,1.5M932.8,748.6l1.6,0.0M1055.2,802.4l0.8,2.2M1077.2,820.4l-0.1,2.9M1000.8,792.6l-3.1,0.2M1046.6,827.4l1.2,1.1M980.8,774.4l-1.0,0.5M1171.8,844.0l-0.9,0.3M1040.4,797.8l0.6,1.9M919.3,846.6l-1.5,1.1M1011.3,892.3l-0.4,0.6M955.0,837.4l0.7,3.3M983.7,790.5l2.3,1.2M1092.4,832.6l0.6,0.8M1130.0,818.6l2.3,1.1M939.5,814.2l-3.2,0.2M956.3,796.3l-0.2,1.0M925.2,771.8l1.8,0.1M1088.1,923.6l-1.5,1.4M1104.0,770.6l2.7,1.9M983.2,797.8l-2.3,0.2M1133.5,770.1l-2.1,2.0M1170.5,783.2l1.2,1.1M1009.2,888.1l2.3,1.1M991.6,822.7l-0.5,1.5M949.4,844.5l-1.5,0.9M906.0,746.6l0.7,0.7M943.2,925.9l-3.0,0.0M1071.2,776.6l-1.6,0.0M1011.0,764.9l-0.4,0.6M1004.0,793.3l1.0,0.6M1178.1,821.5l1.0,3.1M1140.9,812.0l3.5,0.4M967.0,845.3l0.5,1.5M1100.9,785.8l0.8,2.8M1102.0,840.4l-0.3,0.9M946.4,843.9l-1.2,2.9M1059.9,885.7l1.7,1.1M1121.2,876.1l-0.5,2.9M1020.4,773.3l0.8,1.6M1029.8,866.8l-1.3,2.3M941.2,772.2l0.2,2.9M1003.2,794.8l3.4,0.5M965.0,773.4l-0.6,1.9M1017.3,861.3l0.6,1.9M1130.6,721.6l0.1,1.2M1089.6,858.4l-1.1,0.3M1115.4,845.8l-2.1,2.4M1033.4,786.1l-3.4,0.1M971.1,789.5l-0.2,1.2M1150.6,864.9l0.9,2.1M1146.0,780.9l-2.5,0.9M1160.5,806.3l2.1,0.6M1017.4,882.1l3.0,1.6M949.9,771.3l-0.9,2.3M1083.8,752.8l0.6,1.7M943.0,720.3l-2.1,1.9M1004.6,848.0l1.6,1.3M1090.6,811.8l2.8,1.8M1077.7,836.5l-1.0,3.1M920.0,748.2l0.0,2.5M1129.4,792.5l1.3,1.1M1109.9,853.4l0.6,0.1M1104.0,819.4l-0.2,0.6M1120.7,791.0l2.5,1.5M1106.2,894.4l-1.0,0.5M1041.0,804.3l0.3,1.6M903.5,919.1l-0.3,1.7M1161.0,839.5l-1.6,1.6M1136.7,850.6l-0.8,2.7M1147.8,883.7l-1.5,0.6M934.9,817.8l-1.8,1.4M1055.3,714.2l-1.2,1.0M1028.4,864.0l0.7,2.9M990.6,791.6l-0.9,2.1M1009.4,766.5l1.8,0.0M1136.2,802.6l-0.2,1.1M1176.7,852.9l-1.7,1.5M942.9,827.6l-0.5,2.9M1049.6,875.4l-1.4,0.7M1166.8,789.3l0.4,0.8M1017.9,768.7l-0.0,0.6M981.3,779.9l3.0,1.6M1101.5,908.6l2.5,2.1M979.2,792.7l1.8,2.7M1076.8,797.6l-1.2,0.3M1114.7,824.2l-2.1,0.6M1025.9,888.6l-2.6,1.6M1174.7,812.3l1.1,2.6M1053.1,850.4l-0.1,2.5M1106.4,864.9l0.6,2.0M1089.4,819.5l-0.9,0.1M992.1,740.0l1.5,1.9M1045.1,747.2l2.1,0.5M1053.8,775.4l-1.8,1.5M1031.0,857.3l2.4,1.2M1065.9,785.5l1.0,0.0M1124.7,868.9l-0.4,0.5M931.0,791.9l-0.3,0.7M1090.0,832.1l1.9,1.0M1061.5,870.3l-0.7,1.0M1129.9,858.3l0.3,1.0M1094.6,795.9l-1.3,1.0M968.7,921.1l1.4,0.9M940.3,871.2l0.6,1.2M970.3,856.7l0.9,1.7M1139.0,847.6l-1.5,3.2M1058.2,878.2l-2.7,2.2M996.5,865.4l-1.0,0.4M1088.1,826.6l-1.1,2.3M926.9,781.6l-0.5,1.0M1070.4,784.4l-1.1,2.8M882.8,671.0l1.5,0.0M1010.8,909.0l1.6,0.6M1096.3,823.0l0.6,1.3M973.1,839.3l-0.8,1.8M950.4,815.8l-0.8,0.1M1044.5,874.5l1.4,2.8M1079.4,728.1l0.3,1.5M1120.8,805.3l-0.3,0.7M1094.8,739.0l-0.2,3.4M1019.4,823.1l1.3,0.1M1007.8,773.1l-2.4,1.7M1131.4,812.1l-1.8,0.1M1140.7,874.9l0.1,2.0M1028.1,844.5l-1.9,0.5M1164.5,800.9l1.9,1.8M900.5,817.5l-1.3,0.7M917.8,838.9l0.5,2.4M1054.9,852.8l-1.1,0.3M1140.0,865.8l-2.2,1.5M1098.7,755.2l0.3,1.0M912.8,735.8l0.4,1.3M986.8,775.7l0.5,3.2M1127.0,793.1l-0.7,0.3M1081.2,792.6l-2.9,0.6M1144.4,849.3l2.6,2.1M836.8,850.1l0.4,0.3M916.5,893.7l1.5,0.2M987.3,804.1l-2.0,1.4M1112.3,869.0l-0.7,2.5M961.5,750.9l0.5,0.3M957.4,866.4l-2.0,1.4M845.1,742.0l1.5,1.3M1156.8,779.9l-0.9,2.3M1177.5,756.0l1.4,1.1M1074.4,884.8l1.3,1.2M1156.4,813.2l1.9,2.1M1061.7,832.0l0.8,1.1M1139.6,807.2l2.3,1.6M1155.7,770.2l2.4,1.8M827.5,723.4l2.8,2.1M1045.3,892.0l1.2,2.0M1066.1,872.9l-0.9,0.6M1080.2,800.9l-2.3,2.3M1177.9,858.4l-1.6,2.6M1039.5,833.6l3.4,0.6M1179.2,754.9l0.7,2.9M1101.7,847.1l-0.9,1.1M1095.4,743.7l-0.3,0.7M1138.6,809.1l1.6,1.2M1072.4,829.3l-2.6,2.0M1135.6,770.4l-1.7,0.6M1098.7,853.8l-0.3,1.3M1091.1,806.2l-3.2,0.9M1076.5,745.2l-0.3,1.1M1112.6,891.9l-2.8,0.8M927.2,819.8l1.8,2.0M1167.9,739.2l-2.1,0.9M917.3,775.3l-0.1,0.7M1012.3,780.9l-0.0,0.7M1161.5,853.7l-1.3,2.5M1017.9,851.6l-3.2,0.8M1144.3,763.5l2.4,2.5M1066.2,780.0l0.6,0.9M1060.7,899.7l-1.9,2.3M1040.7,832.3l0.8,0.3M1032.9,857.5l2.5,1.9M975.2,864.2l0.3,0.4M1090.3,799.2l2.3,0.6M1108.6,778.3l1.5,1.2M1035.7,848.0l2.7,1.0M1132.4,778.8l-1.1,0.4M992.5,840.3l-0.4,2.3M914.7,777.9l1.5,0.5M1004.1,896.9l0.3,1.0M854.0,768.8l0.4,0.5M995.0,810.0l-2.4,0.9M1062.9,819.4l-2.5,0.1M1114.2,853.0l-1.2,0.4M824.0,694.7l-1.8,1.4M1049.3,810.4l-0.3,1.0M1037.8,849.2l-1.3,2.0M1064.8,804.4l0.2,2.1M1056.0,854.1l0.2,0.9M1096.8,848.2l-0.6,0.1M822.9,751.3l2.1,1.6M1126.7,831.5l0.9,0.3M1036.7,759.5l0.9,2.3M1137.0,790.1l0.6,0.2M1118.7,807.6l1.6,1.2M1176.4,775.7l-3.3,0.2M972.0,772.3l0.5,0.3M1149.8,890.8l-0.2,0.6M1147.6,822.7l2.7,1.3M1004.3,798.3l-0.3,1.2M1055.4,830.7l0.1,0.6M992.1,894.4l-0.1,1.1M1168.9,816.9l1.2,0.6M1004.3,850.4l0.3,1.0M1117.5,836.7l-1.9,1.2M1161.9,849.3l-2.0,1.1M1081.8,783.3l0.7,1.2M994.0,850.4l-2.2,2.5M1043.0,832.1l-1.2,0.4M948.9,823.1l-0.5,2.7M844.5,731.0l-1.7,0.2M941.2,741.6l1.3,1.1M1094.2,837.7l-1.4,0.9M1138.2,851.1l2.2,0.1M1067.1,834.1l-2.3,0.2M1066.5,860.9l-0.4,0.5M1031.7,830.0l-2.3,0.0M1046.1,778.9l2.4,2.0M1093.7,843.9l-1.2,2.2M1109.9,867.4l-1.7,1.5M1113.1,719.1l-1.0,1.5M1030.8,750.7l0.3,0.5M1117.7,777.5l0.6,0.8M1068.7,818.7l1.6,2.3M1162.8,713.4l-0.9,2.1M930.3,791.8l-0.0,1.8M1016.6,812.0l1.2,2.2M1174.8,845.9l2.4,1.2M1116.4,875.9l2.0,1.4M1007.3,792.7l0.8,2.3M1145.4,930.8l0.0,3.2M964.2,846.6l-0.5,1.0M1003.0,780.9l0.4,3.1M1137.9,773.6l1.0,1.9M1009.1,688.9l0.8,1.1M1076.8,816.4l-2.4,2.0M1044.0,870.4l-2.8,0.9M1070.9,769.0l-0.2,2.1M1047.1,884.0l1.9,2.0M1097.3,849.6l-1.0,1.6M1028.5,860.1l-1.9,0.9M1066.2,880.5l2.4,0.2M922.3,761.7l0.2,2.8M920.1,779.4l-0.1,0.6M1062.6,769.1l0.6,2.7M1158.8,805.9l-0.9,0.4M1127.5,770.7l1.2,1.3M1131.3,723.9l0.7,0.5M1169.3,821.7l0.6,2.0M1108.0,775.2l-0.9,0.5M1168.5,779.8l2.6,0.2M1122.4,868.8l1.9,2.7M987.1,724.2l0.4,2.2M1018.0,881.5l-0.6,0.3M1163.4,781.1l-2.8,1.7M1002.9,873.2l-3.1,0.3M969.0,834.7l0.4,2.2M935.8,824.5l2.5,0.4M1044.3,819.0l-0.0,3.0M971.3,780.8l2.4,1.6M1062.6,827.9l-0.4,2.6M874.6,727.5l1.0,2.5M1142.8,882.2l-2.4,2.3M957.6,850.0l0.1,1.5M1083.4,816.6l1.0,0.8M1004.0,823.7l-0.2,2.8M1026.9,876.1l-1.7,1.6M971.3,900.5l2.2,1.1M931.9,900.3l0.6,0.7M1054.4,813.8l-0.5,0.1M915.7,853.5l2.7,0.7M1075.1,857.7l0.3,2.8M1137.0,825.0l-0.2,1.2M974.0,701.6l-2.8,0.4M1054.4,803.4l0.2,1.0M936.1,785.4l-0.6,0.7M958.7,811.0l0.9,0.5M1008.8,898.9l1.0,0.7M969.9,805.3l-2.1,2.0M1129.7,826.0l-1.0,0.7M1026.1,837.3l0.4,0.9M1069.8,790.2l-0.4,1.5M852.6,925.7l0.7,3.1M980.3,841.2l1.7,0.1M1128.3,774.4l1.9,1.2M996.6,893.0l1.8,2.8M1175.3,883.7l-0.5,2.1M1104.2,824.8l-0.6,1.4M970.0,820.3l3.1,1.5M1111.7,858.0l0.3,0.6M1134.3,785.0l1.6,1.1M1019.3,900.5l-2.7,0.5M1116.5,741.0l-0.3,1.3M1061.0,756.5l2.1,1.6M968.1,926.6l-0.5,0.1M888.5,747.2l0.8,1.5M953.7,834.3l-1.6,1.6M841.1,906.5l-1.2,0.9M1162.5,837.4l-2.4,0.6M953.3,779.7l-2.9,1.2M1177.0,848.1l-2.4,1.5M1152.4,861.9l0.6,2.4M1110.4,815.3l0.7,1.6M1032.1,842.0l0.4,0.4M1095.6,921.8l-1.3,0.3M1075.2,799.9l0.6,0.8M1133.6,811.0l-1.1,0.6" stroke="#d42c98" stroke-width="2.8" opacity=".85"/>
<path d="M1034.4,887.8l1.1,2.4M1120.6,770.5l-0.2,1.5M1038.0,878.3l-1.7,1.7M1065.2,841.7l-2.0,1.2M1157.9,779.7l-0.5,0.3M1090.6,887.1l1.2,0.8M1063.2,719.4l2.8,0.9M877.3,786.2l0.7,0.6M1063.5,793.8l-2.1,1.1M1081.8,808.6l0.9,2.3M1125.5,853.0l-1.7,0.4M919.0,791.6l-0.8,1.8M911.3,789.1l1.0,0.5M1118.1,887.1l1.5,0.6M981.9,880.7l-1.8,1.0M1021.3,839.1l-1.6,0.8M975.9,835.2l-1.0,1.6M1026.4,912.2l0.4,0.6M1009.6,760.9l3.0,0.1M818.0,695.4l0.8,0.4M1106.1,867.3l-0.9,2.5M1126.0,829.1l2.4,1.6M1106.5,847.4l-0.4,2.1M996.0,835.9l1.4,0.4M834.4,841.4l-0.6,1.7M1162.1,801.0l0.5,1.8M1047.5,789.0l-0.7,0.0M1002.0,796.2l-1.1,0.4M1105.9,857.1l0.9,2.6M1142.8,891.8l0.7,0.8M1171.1,841.2l-1.2,2.3M1040.6,788.9l-1.2,0.5M1158.9,923.7l1.2,1.3M889.0,867.9l-0.3,1.7M984.8,832.6l-1.8,0.8M1130.0,890.1l-0.5,2.5M998.1,833.9l-0.8,0.7M990.4,798.6l0.4,0.8M1135.2,831.2l-0.6,1.4M1120.4,853.8l-1.6,1.0M1127.1,879.8l0.3,1.2M1149.2,773.1l-1.3,0.2M984.4,833.2l1.4,1.7M1085.5,855.4l2.0,0.5M954.2,756.8l-0.7,0.6M928.2,823.5l0.1,1.2M1087.6,787.1l-0.6,1.5M971.7,911.2l-1.9,0.3M1066.2,894.7l-0.9,0.2M1027.3,840.5l-1.9,1.9M1111.0,765.4l0.4,0.4M921.9,788.9l-0.6,0.9M1007.4,750.2l1.2,2.2M1170.6,816.0l-1.8,1.1M933.1,785.6l-0.7,0.2M1068.9,750.2l-2.7,0.7M1172.7,770.4l-0.9,0.5M1177.6,856.8l-1.0,2.4M1161.7,780.7l-1.0,0.1M1038.8,800.1l-1.0,1.0M895.0,776.8l-0.1,1.4M897.7,906.5l2.4,1.7M1093.3,862.2l0.5,1.4M1166.8,755.4l0.3,1.1M1109.2,837.4l1.1,1.1M1178.1,778.5l1.1,0.3M931.7,748.9l-0.7,0.3M1107.9,837.8l-1.0,0.9M1022.8,877.8l-0.2,2.9M1006.0,809.1l-2.0,1.4M980.6,901.1l-0.6,0.5M1020.3,783.2l-1.0,0.8M1109.0,808.2l1.1,0.7M1135.8,726.5l1.4,1.0M980.4,900.8l2.1,0.2M1082.6,830.3l2.7,0.0M1029.0,839.0l0.4,1.4M1001.5,846.1l-2.4,1.0M1141.5,920.0l2.2,0.1M926.3,732.4l0.7,1.7M1007.1,868.0l1.0,0.7M1100.1,793.0l1.2,2.5M1091.7,849.9l0.5,2.3M1018.1,818.7l-2.6,1.1M1067.4,734.7l0.1,0.8M999.7,856.6l-1.9,0.5M976.7,763.1l-1.5,0.1M977.9,745.7l0.4,0.6M975.7,769.8l-0.7,0.0M926.3,735.1l0.3,1.3M986.8,742.8l-2.1,0.5M1177.0,823.4l-1.4,0.6M1081.7,833.3l-1.2,2.3M933.8,787.4l-0.2,0.8M1150.5,753.1l-0.6,1.8M958.3,875.9l1.4,1.9M1163.5,753.0l-1.0,0.1M1060.3,736.5l-0.5,2.9M920.2,885.4l1.5,0.7M1057.3,791.7l-2.5,1.6M1162.5,788.9l-1.9,2.1M1115.1,796.8l-2.3,1.2M1064.3,869.9l-0.8,1.5M1153.5,759.4l0.2,0.8M972.8,782.0l0.8,0.2M1170.1,799.6l1.4,0.2M1058.0,828.8l0.2,0.5M1024.3,779.8l1.0,1.9M1160.8,826.7l-2.0,0.3M920.4,802.9l-0.0,0.7M1092.8,737.5l-0.8,0.7M1123.5,871.9l1.9,1.0M1119.9,867.3l-1.1,0.3M1142.0,801.4l0.0,0.9M974.8,832.9l-1.0,0.2M934.2,834.6l-2.4,0.2M1012.1,837.6l-2.5,1.4M1157.1,868.4l-1.4,0.0M1095.2,822.3l-2.5,0.9M970.6,802.9l-0.6,1.1M1102.9,776.3l0.9,2.5M961.9,788.4l0.9,0.8M901.9,674.1l-0.1,0.7M1070.3,854.6l0.5,1.1M1121.0,843.3l0.4,0.5M1017.3,815.5l-0.9,2.0M1159.7,868.6l-2.5,1.4M1132.0,845.5l1.1,0.4M945.5,741.6l-0.4,1.9M1051.7,768.2l-0.4,1.6M1115.2,746.5l-1.7,0.5M1107.8,891.2l-1.0,0.4M1140.2,855.7l-0.2,0.7M1091.2,797.1l-0.9,2.3M974.2,845.5l-0.7,0.3M1077.1,747.7l1.1,2.4M1127.0,758.6l0.3,1.6M1066.9,840.0l0.7,2.7M958.9,840.2l1.7,1.2M1130.5,856.9l-1.3,0.4M843.7,842.0l-1.6,1.0M957.0,828.4l-0.5,1.1M1004.6,728.0l2.9,0.5M1107.4,787.9l-2.7,0.8M829.6,710.8l0.5,1.6M1113.2,872.2l0.8,2.2M867.6,856.2l0.4,2.7M1075.4,842.4l2.0,1.5M926.1,756.0l-1.7,0.1M963.8,822.9l1.1,0.5M919.7,795.6l0.6,2.5M1149.5,851.8l-0.2,1.9M996.4,876.4l-1.2,1.7M1094.7,845.9l-0.6,0.5M1130.9,832.3l-0.9,2.4M1083.5,833.4l2.6,0.2M977.2,846.0l0.7,2.6M888.9,765.3l1.6,1.6M1156.6,771.2l-1.6,2.4M1030.8,782.5l-1.5,1.7M1082.1,891.3l0.8,2.1M994.6,855.3l-0.5,1.2M1024.5,904.9l-1.7,1.9M924.2,798.9l-1.8,1.4M1149.9,922.8l0.7,1.1M1132.2,846.9l1.2,2.0M1076.8,863.7l-2.1,0.2M1088.1,838.4l0.6,1.0M1158.7,768.4l-1.6,1.2M1157.6,758.7l2.0,0.6M1056.7,841.6l1.7,0.4M1085.8,757.5l1.2,0.4M1027.7,806.2l-1.9,1.1M956.2,873.7l-0.7,0.9M1123.7,790.8l-1.4,2.4M959.4,752.4l0.7,2.8M958.2,787.6l0.5,0.5M1074.0,806.3l1.5,0.8M945.8,764.0l-0.2,1.9M1030.9,756.3l0.5,1.1M979.7,742.1l0.9,0.3M1096.5,800.4l-1.2,2.0M1138.9,824.0l1.5,1.7M1066.3,766.1l0.6,0.2M1128.1,876.3l2.5,0.2M976.9,784.1l0.9,0.8M1034.7,739.9l1.1,2.8M956.3,771.8l-0.5,2.8M994.0,728.4l-1.9,1.3M1150.1,887.8l-1.4,0.9M1007.6,765.4l-2.5,1.6M977.3,783.6l-1.0,2.0M1106.2,789.5l-1.0,2.6M1177.1,819.4l0.9,0.3M1074.9,731.2l-1.3,1.5M1145.6,902.8l-1.5,0.6M1152.9,796.6l-2.5,0.7M1007.0,809.0l0.2,0.4M1001.9,784.0l-0.8,0.9M1030.3,843.4l0.6,1.6M1032.1,838.4l0.6,0.1M1027.2,753.1l1.0,2.3M1032.8,767.6l-1.4,0.9M1090.5,753.9l-1.2,0.3M1006.4,750.3l-0.4,0.2M1175.9,816.8l-1.3,2.0M1072.1,907.3l-0.5,0.5M979.6,925.4l0.9,2.7M1064.6,716.5l-2.3,0.3M1147.3,788.9l-0.5,0.3M934.1,796.4l-0.3,2.2M1124.4,910.6l-1.9,0.4M1148.9,822.3l-0.5,0.8M861.3,892.2l0.7,2.6M1159.3,853.8l0.1,1.4M852.6,907.6l0.9,0.8M1131.4,844.1l-0.9,0.6M1038.1,706.9l1.4,0.0M1061.1,807.4l-1.0,0.9M1101.8,765.8l-1.4,1.4M1040.1,853.8l0.1,1.6M929.2,770.6l0.8,2.2M991.0,783.0l0.7,1.5M1174.3,787.2l0.8,1.9M949.1,747.4l0.0,0.7M1002.8,808.7l-1.1,2.3M952.4,782.8l0.1,2.8M1134.6,789.9l0.6,2.6M1067.7,742.7l1.8,2.2M1044.9,755.9l-2.6,0.8M1029.5,784.4l1.0,0.2M1148.5,893.7l-1.6,2.4M867.3,812.7l0.9,0.5M1106.1,787.2l-1.3,0.6M1123.2,871.0l0.7,2.0M1159.9,856.8l-0.4,0.4M1099.7,930.7l0.0,1.2M1038.0,747.1l0.8,0.2M1164.0,866.2l0.8,2.2M872.9,833.1l2.8,0.1M1015.0,825.6l0.4,1.9M889.6,729.0l2.6,0.9M1017.5,753.8l-0.3,1.5M945.6,830.9l1.1,1.2M1036.0,871.5l0.3,2.4M1104.8,881.0l-2.5,1.2M1143.0,801.4l-1.6,1.1M907.6,906.2l-1.3,1.5M957.3,813.8l-0.4,1.0M998.4,778.1l0.0,1.2M955.8,839.3l-0.9,0.7M955.9,830.6l-1.5,1.2M936.6,815.6l-1.3,2.1M1138.7,832.6l0.0,0.7M927.3,782.1l0.6,1.1M1108.7,832.2l0.9,0.6M1097.1,824.7l-0.2,2.8M1154.0,764.1l-2.4,1.2M1045.6,876.7l-0.2,1.1M1039.0,887.0l2.4,1.4M1119.8,791.4l0.5,0.4M1150.7,919.7l0.5,1.1M1036.1,837.4l-0.7,1.6M1020.9,850.0l-0.9,2.8M915.4,813.2l-0.6,2.0M978.3,808.1l1.4,1.2M953.4,765.9l-0.6,0.0M941.8,788.3l0.7,0.4M1000.0,828.2l-2.5,1.6M1151.2,807.3l2.1,0.9M1095.1,877.4l2.5,0.4M1173.6,789.2l1.7,0.0M943.3,883.2l2.0,0.9M1050.7,752.3l-1.7,2.1M1078.6,860.7l1.8,0.9M1159.2,840.3l0.3,0.6M822.7,720.3l-1.4,1.1M1071.2,816.0l-1.0,0.1M1008.7,750.2l2.2,0.2M917.7,708.5l1.3,0.6M1099.0,809.3l0.6,0.0M1067.7,838.6l-1.4,0.6M929.7,749.0l-1.0,2.3M1010.9,796.9l1.1,2.7M1170.6,877.6l-0.6,0.1M879.7,865.9l1.9,0.4M969.4,817.7l2.3,0.0M1020.9,890.1l-0.8,2.5M976.4,749.7l0.5,1.6M1064.2,777.4l2.6,0.1M1147.4,887.3l0.4,0.5M958.1,749.7l0.5,2.9M1154.9,764.7l-1.0,2.1M843.3,855.6l0.4,0.8M999.9,735.4l-0.8,0.2M967.8,877.5l-1.7,0.5M867.9,855.0l2.5,1.4M1008.0,854.1l0.3,1.5M1093.5,811.0l0.4,1.7M1072.6,914.6l0.9,0.6M1065.9,814.6l2.1,1.6M872.4,783.6l-0.8,2.3M1024.2,926.9l0.8,2.5M1034.7,862.1l1.3,1.1M1145.1,787.2l0.5,1.1M989.5,768.1l1.2,0.6M1120.0,874.0l-0.3,0.9M1100.5,793.5l2.7,0.6M1071.2,758.1l-1.4,0.9M1007.2,776.2l-1.2,1.5M1091.5,843.4l-0.8,1.9M1143.2,800.0l0.8,1.4M1008.9,889.3l0.2,0.9M948.7,761.7l-1.2,0.1M1090.2,893.3l-0.7,0.1M1107.0,874.0l-2.7,0.2M1042.6,829.9l0.4,2.1M989.3,831.6l-0.9,2.8M1118.5,743.7l-1.4,2.4M988.4,789.8l-1.5,0.7M1165.0,752.8l-0.2,2.1M1128.9,806.0l2.9,0.5M1132.8,856.9l-1.2,1.9M960.2,862.8l1.3,1.3M1006.6,836.4l-1.0,0.4M1055.2,832.2l0.9,0.9M836.0,728.4l1.0,1.6M892.5,715.2l-0.6,1.8M1073.4,749.5l2.2,1.2M1101.8,801.5l1.3,0.5M979.7,795.3l1.5,0.7M1059.7,870.4l1.0,2.4M1025.8,913.3l-2.2,0.0M1020.4,858.1l1.9,0.4M1069.3,725.7l-0.4,1.0M1015.9,815.0l-2.6,1.4M969.2,791.1l-1.1,0.3M1025.0,715.3l-1.1,0.5M1104.0,840.8l0.6,2.9M918.4,780.4l-0.5,2.1M910.3,798.8l-1.5,1.1M1024.5,728.0l1.2,1.0M992.9,846.0l-1.2,1.9M1091.5,831.7l1.0,0.5M1159.6,815.2l-0.6,2.5M836.2,762.1l-0.7,0.7M994.3,772.1l-1.4,0.2M1050.3,860.2l0.1,2.8M925.5,744.9l0.5,0.2M1119.8,755.1l1.5,2.2M954.9,736.7l-0.1,2.2M1037.1,854.5l-1.1,1.6M1064.3,834.5l0.6,1.0M968.3,934.9l-0.0,1.0M968.8,784.1l-0.6,0.6M1099.9,754.9l-1.4,0.4M1109.5,761.9l-0.8,2.7M1156.9,870.4l1.8,1.1M819.4,878.2l0.4,2.9M1066.4,902.2l1.8,1.9M1132.8,891.5l-0.4,0.6M984.3,817.9l-0.9,2.3M1153.8,809.7l1.4,2.0M1094.4,807.8l-2.4,1.0M1133.2,852.8l0.5,1.5M1043.8,755.3l-0.7,1.0M985.7,867.3l2.1,1.3M1081.2,790.6l2.5,0.0M1144.1,826.1l0.5,2.4M955.3,753.7l1.2,0.7M1056.6,774.2l-0.5,0.6M1158.8,739.8l0.1,0.8M1145.2,772.4l-1.7,1.5M1013.3,782.4l0.4,0.7M978.7,812.3l0.1,2.0M949.2,881.3l0.4,0.4M1054.0,770.0l1.9,1.7M986.0,839.0l-0.8,1.2M1094.1,875.5l0.7,0.2M1053.0,769.5l-1.8,1.0M995.5,807.4l2.3,0.9M1050.9,869.6l1.0,0.8M965.3,761.7l0.1,0.5M1079.7,841.2l0.2,2.8M947.6,772.1l-0.4,0.9M1101.0,810.2l-2.0,0.1M969.9,740.7l-0.6,0.2M1071.7,784.9l1.1,1.5M1072.7,772.1l-1.1,1.3M942.9,755.5l-0.3,0.5M1098.4,817.3l1.2,2.1M1121.7,790.1l2.1,1.5M1055.7,703.7l-0.8,2.8M1037.8,736.2l1.1,2.4M1046.1,831.0l-1.4,1.1M929.3,734.4l1.9,2.1M1054.9,854.9l0.5,0.2M1043.9,775.3l-1.2,1.4M1122.3,887.8l-0.2,0.6M969.3,860.0l0.0,2.0M954.8,794.6l-0.3,0.4M994.0,785.1l-0.0,1.9M1049.6,777.1l-0.0,0.8M1137.2,835.3l-2.6,0.2M1052.5,757.8l-0.5,3.0M915.8,826.0l-0.9,0.2M1094.4,755.0l-0.4,2.1M1012.3,850.3l0.1,1.0M979.2,789.4l0.1,0.6M950.6,844.7l-0.5,1.4M1095.7,907.3l-0.6,0.1M1025.7,911.9l-0.7,1.8M1053.8,783.2l-0.1,1.5M1009.6,769.9l1.1,0.4M899.0,786.9l2.0,1.5M1033.9,711.6l0.3,2.4M1111.3,744.2l1.7,0.9M1163.8,825.9l-2.4,1.4M1161.4,913.2l0.3,2.5M1141.0,826.7l-1.5,0.5M1179.7,833.4l2.1,1.5M1167.5,838.1l0.8,0.2M1132.1,832.9l-0.8,0.2M1014.9,821.6l1.9,1.8M1146.2,720.3l1.7,0.7M1140.7,783.3l0.5,0.4M1154.2,826.8l-1.2,0.8M1012.3,742.9l1.0,1.9M1058.9,775.9l1.1,0.9M929.6,742.0l0.9,1.1M948.6,685.5l-1.1,1.0M946.4,764.7l-0.3,0.6M1107.1,788.2l0.4,1.1M1172.1,785.4l-1.4,1.0M1155.6,730.3l-0.9,1.1M849.9,768.0l-0.5,0.1M1142.0,752.2l0.5,0.5M934.2,737.8l1.8,0.1M1154.4,879.0l-0.6,2.1M1076.6,913.7l0.6,1.7M1031.4,860.3l0.7,1.5M1086.0,741.7l-0.8,1.3M964.7,798.6l-0.8,2.2M1107.8,829.1l1.4,1.6M975.2,864.2l0.7,0.4M975.6,824.4l0.5,0.3M919.5,733.4l0.6,2.5M932.3,806.8l-0.7,0.2M1073.8,772.0l-2.7,0.5M966.4,760.0l-0.6,0.9M1049.1,833.6l-0.9,0.5M1142.6,847.5l1.7,1.7M1090.5,862.9l-1.6,0.9M1095.9,772.1l0.2,2.5M1037.2,825.1l2.3,0.6M1019.2,869.9l-0.1,1.0M1094.6,877.7l2.6,0.7M1136.7,840.2l0.1,0.9M1003.8,756.5l1.6,1.2M1131.5,837.2l0.8,0.3M1087.1,775.2l-2.6,1.3M1087.3,835.6l2.7,1.3M959.9,771.3l-0.5,0.7M1054.3,803.1l-0.7,0.1M1085.4,825.3l-0.6,0.6M1126.9,780.1l-1.3,2.6M1044.0,645.9l0.1,1.6M1094.7,808.4l-0.6,2.2M1173.5,848.9l-0.2,0.5M1064.1,731.3l0.9,2.2M983.8,716.0l-2.1,0.3M1112.4,756.5l-0.3,1.4M931.3,794.0l-2.1,0.1M1152.5,858.7l0.7,0.2M1100.5,894.4l0.3,2.0M1032.3,810.9l1.4,0.3M1123.2,832.6l1.9,0.8M1089.8,847.6l0.5,0.2M1085.1,773.7l-1.1,1.2M1055.9,812.1l-1.2,1.0M991.8,761.9l-1.5,0.5M1172.5,803.0l0.9,1.9M996.7,758.7l-1.1,2.2M1115.5,785.5l0.5,0.5M1043.3,855.2l0.7,2.5M909.3,768.3l-0.7,2.0M1175.1,841.0l1.3,2.2M1122.4,869.0l1.4,1.2M987.2,750.2l0.6,1.3M908.6,753.4l-2.4,1.0M1045.8,751.0l1.2,1.4M1117.0,886.3l1.4,0.0M1068.6,852.2l0.6,0.3M983.5,832.3l-2.6,1.0M1093.8,815.0l1.3,0.8M1018.1,865.7l-0.7,0.6M1162.2,821.3l-3.0,0.1M934.0,818.6l-1.2,0.6M976.3,908.6l1.5,1.5M1091.1,821.3l-0.7,1.7" stroke="#c41f5c" stroke-width="2.4" opacity=".7"/>
<path d="M1081.2,908.9q3.6,-7.0 1.0,-14.5M1033.3,714.9q4.7,1.7 9.7,1.7M1074.5,885.7q4.3,-7.1 10.0,-13.3M1092.6,901.9q2.1,9.3 -2.4,17.7M1031.3,811.5q6.9,-2.3 13.6,-5.1M925.8,783.5q-3.6,-8.6 -11.4,-13.7M1087.2,756.9q5.5,-5.6 11.1,-11.0M1143.7,851.3q-4.6,0.9 -9.3,1.4M1069.5,862.7q7.7,5.8 9.7,15.3M1122.1,875.4q5.4,2.6 11.3,2.2M871.5,797.1q-3.3,-11.0 -0.1,-22.0M813.1,843.6q8.8,3.4 15.4,10.1M931.5,783.4q2.9,-8.3 4.9,-16.9M995.7,746.0q-9.5,-4.6 -11.9,-14.8M936.1,812.7q-5.4,-9.7 -15.1,-15.2M1131.2,852.7q-7.4,7.6 -18.0,8.1M1125.4,777.1q6.7,-0.4 11.3,-5.3M1170.1,769.4q-2.1,-10.5 -0.8,-21.2M1167.6,816.8q-5.2,0.6 -10.2,-1.0M895.6,927.6q0.7,-9.9 -5.1,-18.0M1026.9,840.8q-10.6,4.4 -21.5,8.0M1170.4,702.4q-6.7,1.1 -10.2,6.9M1082.8,875.1q-11.3,3.4 -17.4,13.4M1123.5,785.6q-1.8,-6.2 -3.3,-12.5M867.3,732.7q-4.0,-9.8 -12.9,-15.4M959.0,804.3q5.0,-1.4 9.2,-4.4M993.2,720.8q-7.5,-9.9 -13.7,-20.8M943.8,819.1q-6.8,0.6 -13.2,2.8M1026.9,843.8q6.5,2.7 13.0,-0.2M1011.7,727.2q-4.4,3.0 -9.3,4.9M1114.7,873.8q0.7,7.6 3.5,14.7M1092.1,790.4q-3.5,-9.4 -4.0,-19.5M1137.1,738.4q-9.6,-0.9 -18.2,-5.2M1074.9,847.3q-7.6,6.3 -17.0,8.9M1129.3,818.8q3.0,6.1 4.1,12.8M1079.0,753.1q-7.5,-9.6 -7.5,-21.8M1146.7,924.4q-11.5,3.1 -19.0,12.2M1019.3,774.4q7.0,4.2 14.2,8.0M1160.2,858.9q-0.0,5.9 2.8,11.1M1066.0,867.5q0.3,7.8 -2.8,15.1M1118.5,866.0q-3.9,3.1 -8.6,4.8M1001.7,769.2q5.0,-5.5 9.4,-11.5M998.2,815.4q1.1,5.0 2.5,9.9M1086.9,897.1q4.4,4.7 10.5,6.4M1121.9,790.0q9.1,-4.9 17.4,-11.1M1086.9,848.1q-8.1,-2.2 -15.8,0.9M1108.8,804.7q0.4,-9.8 8.2,-15.6M1117.0,835.8q0.8,-9.3 2.1,-18.5M1102.0,756.8q6.2,-4.6 13.7,-2.6M931.9,831.5q5.4,-9.8 6.6,-20.9M967.9,886.6q-2.9,3.9 -6.7,6.9M930.2,815.2q9.8,5.4 19.7,10.4M838.5,810.0q2.6,-4.2 1.6,-9.1M993.7,814.9q4.0,-7.8 8.2,-15.4M1095.8,864.8q-0.9,-5.0 -2.1,-10.0M876.5,792.2q9.1,-0.9 16.6,-6.2M1035.2,809.8q-6.4,-1.4 -12.9,-0.5M995.7,808.7q12.5,3.0 23.6,-3.5M1080.8,845.1q4.5,4.7 3.9,11.2M1087.1,930.7q-1.9,-8.8 -5.5,-17.1M1126.6,783.0q-5.7,-4.7 -12.9,-6.5M1132.1,870.1q-9.4,-2.0 -19.0,-1.8M827.5,834.0q-2.1,7.1 -6.1,13.3M1034.1,826.7q-7.6,4.6 -15.6,8.4M1144.1,875.4q5.7,4.3 12.5,6.7M1066.9,711.0q6.1,-4.3 12.9,-7.6M1098.4,849.7q11.8,-0.9 23.6,0.3M955.8,794.2q4.3,1.2 8.7,1.2M1121.3,783.3q3.7,11.3 4.4,23.1M915.6,723.5q-4.5,5.8 -4.4,13.1M978.7,850.2q-7.3,-5.4 -16.3,-4.0M1102.0,885.6q-9.2,2.2 -18.5,2.7M1023.1,788.1q-0.3,-10.5 1.2,-20.9M1136.4,832.7q0.9,5.7 3.9,10.7M1025.4,827.4q-1.7,-9.3 2.2,-17.8M939.5,815.3q-3.7,2.0 -7.8,0.7M1051.3,751.3q-6.2,-1.9 -12.0,1.1M966.3,794.0q-1.5,-6.1 -3.0,-12.2M963.6,878.0q-4.4,-5.4 -8.9,-10.8M1164.4,712.8q-3.1,8.7 -11.8,11.7M1005.9,749.6q-6.7,-1.3 -13.5,-0.1M1098.0,879.0q-6.7,-10.8 -18.1,-16.4M1064.4,885.6q-2.7,-5.9 -0.7,-12.1M1036.5,781.6q7.1,-1.5 12.6,-6.3M1013.4,848.5q-6.4,4.7 -11.4,10.8M1037.4,811.6q-6.4,-3.1 -13.4,-1.8M1097.7,817.4q11.1,-2.7 18.7,-11.2M1044.3,824.4q-0.9,-9.2 -4.6,-17.6M1139.6,748.6q-2.7,-11.5 -2.4,-23.4M1070.9,913.2q-0.0,-9.9 7.3,-16.6M1040.4,816.5q7.7,3.7 13.8,9.8M1015.4,819.3q-5.1,-2.4 -9.8,-5.5M1170.8,821.1q-3.8,3.4 -6.1,8.1M952.4,787.3q-6.4,-2.4 -13.0,-0.6M1064.8,776.5q5.2,-10.6 16.6,-13.8M1094.1,852.6q-0.7,6.6 1.9,12.7M837.1,924.5q5.3,-10.0 7.9,-21.0M984.9,748.8q-9.9,-0.9 -19.6,-3.3M1144.8,816.3q10.3,1.1 20.4,-0.8M931.3,810.2q-2.5,12.7 -6.6,25.0M1122.1,896.5q-1.0,7.9 -5.3,14.5M1019.9,839.2q-3.3,-4.8 -4.4,-10.4M1003.3,764.4q8.2,-1.8 15.8,-5.2M1064.4,791.6q1.6,4.6 3.2,9.1M830.3,767.3q-11.9,-4.6 -24.1,-8.1M1004.0,855.5q5.7,7.0 6.5,15.9M1007.8,888.9q-3.9,-3.7 -9.0,-5.0M1032.1,848.5q-8.1,5.7 -14.6,13.1M905.6,862.5q-3.9,-10.6 -12.3,-18.3M1036.4,849.5q8.2,0.1 13.6,6.2M993.5,909.3q4.7,10.9 14.7,17.4M1136.0,843.3q-11.8,-4.4 -22.2,-11.3M1083.6,785.7q9.0,-3.8 17.8,-7.7M1119.1,875.7q7.7,6.2 10.8,15.5M1069.9,915.0q-2.5,4.5 -4.3,9.2M1006.5,877.5q3.0,-5.3 8.8,-7.0M985.2,740.3q-8.2,-9.5 -19.6,-14.8M956.1,861.8q0.5,10.6 5.6,19.9M1113.6,829.2q1.3,-9.6 7.9,-16.6M1051.8,860.2q0.2,5.3 -3.1,9.5M1172.3,927.8q2.5,9.4 8.0,17.3M1157.3,934.6q-1.4,-11.9 -7.0,-22.6M1108.5,804.8q-4.5,10.8 -0.6,21.8M1162.3,790.3q-3.2,4.6 -1.6,9.9M962.8,864.2q4.6,6.8 7.6,14.4M920.0,767.0q-7.4,3.9 -15.2,6.7M1058.3,778.7q2.4,7.4 8.4,12.4M1021.7,746.0q-2.3,10.1 3.1,19.0M1070.0,784.6q8.8,6.7 12.5,17.1M1091.2,740.2q0.5,9.8 6.1,17.9M1142.0,863.2q0.8,9.6 -5.5,16.9M1085.7,921.7q5.6,-6.6 14.2,-6.9M1054.1,856.8q5.2,10.0 16.1,13.1M990.5,736.1q0.6,11.5 -1.3,22.9M1102.2,807.7q-8.3,-1.1 -16.3,1.1M1000.4,754.7q0.9,-4.1 2.1,-8.0M1174.9,767.1q-2.4,4.8 -4.2,9.9M1011.6,871.5q-2.5,-8.5 0.5,-16.9M1121.8,848.2q11.6,-1.2 20.1,-9.3M1152.0,841.2q-6.3,0.4 -12.5,0.9M1082.4,889.6q1.8,-12.2 9.3,-21.9M1141.9,774.6q6.0,7.7 10.5,16.4M898.6,847.5q-0.1,-5.8 -2.7,-10.9M1133.5,820.6q8.5,-1.2 14.7,-7.1M1026.1,754.1q-9.0,-8.9 -8.0,-21.5M935.6,721.7q4.0,-2.1 6.8,-5.6M1138.0,812.4q-7.1,-0.3 -14.0,-1.7M1154.8,759.3q8.1,0.8 15.8,3.2M958.3,852.4q-9.6,0.4 -15.3,8.2M960.2,809.5q1.7,11.2 1.4,22.6M1121.5,796.1q-4.7,-7.1 -4.1,-15.6M1043.4,902.7q-9.3,4.0 -18.2,9.0M987.6,771.2q-5.2,-4.2 -11.9,-5.3M978.7,831.4q-4.9,10.1 -15.8,12.6M1153.2,762.0q-9.3,-5.2 -19.9,-4.6M936.1,796.8q2.4,-7.4 7.1,-13.7M831.3,730.0q5.8,1.8 9.7,6.5M885.5,774.1q4.7,7.8 5.8,17.0M974.3,810.4q-11.8,-5.1 -15.9,-17.3M944.0,706.6q-11.0,-1.1 -21.9,1.2M1177.5,796.8q-8.1,-6.4 -13.3,-15.2M828.6,731.9q-1.2,4.7 0.7,9.2M1016.7,839.6q-5.5,7.4 -11.1,14.7M1028.7,835.5q-5.3,0.7 -9.8,3.4M1075.9,879.1q-7.5,-6.0 -11.6,-14.6M1115.3,828.3q4.4,3.1 9.2,5.5M1083.9,829.2q-6.1,-10.5 -16.5,-16.7M1015.8,759.2q3.5,7.5 10.4,11.9M958.7,759.4q2.3,-10.8 -3.5,-20.3M1030.8,828.7q6.1,-5.5 6.4,-13.7M1134.3,892.1q-2.6,-7.8 -2.5,-16.0M1009.8,877.4q7.8,-7.2 16.3,-13.4M1069.8,757.1q-7.3,6.5 -11.3,15.4M913.1,796.3q-3.9,1.9 -7.7,4.1M1028.2,908.1q-4.4,3.0 -7.1,7.7M958.8,778.4q8.0,3.9 15.7,8.4M1141.6,737.1q4.6,3.6 7.0,8.9M1049.7,762.8q8.0,2.5 12.5,9.5M1064.2,867.6q-6.2,-3.8 -13.3,-2.9M1089.2,760.1q3.0,5.3 1.9,11.3M959.2,858.5q-4.2,-1.7 -5.7,-5.9M1046.8,822.0q-2.2,-6.7 -2.7,-13.8M941.5,834.4q-11.3,-3.5 -17.3,-13.7M1138.8,838.0q-3.8,1.6 -5.5,5.4M1135.7,854.5q-5.2,7.1 -10.9,13.8M983.2,849.6q7.5,-6.3 16.1,-10.8M942.1,800.4q5.1,-2.8 9.4,-6.6M824.2,922.8q-8.8,-7.0 -18.5,-12.7M1116.5,807.0q10.9,6.2 17.3,17.0M1124.9,833.9q-0.3,7.1 -0.2,14.1M880.4,787.1q10.3,-4.1 21.4,-4.0M929.1,856.9q-2.6,4.9 -7.1,8.2M1015.7,846.3q6.8,-0.2 12.3,-4.1M1001.5,801.2q-6.2,-9.2 -7.4,-20.3M1173.8,780.9q7.3,-1.8 14.8,-1.2M1031.3,804.5q10.4,6.0 22.4,6.6M1095.7,759.6q-4.6,6.1 -5.0,13.8M1168.9,734.1q3.1,-3.0 6.9,-5.1M988.7,811.4q5.7,-5.0 11.7,-9.6M1170.5,886.6q-10.0,1.1 -19.6,3.8M967.0,856.3q-11.7,-5.6 -22.9,-12.2M1133.2,883.6q5.1,-8.4 8.4,-17.7M1155.5,802.9q5.2,1.5 8.7,5.6M947.0,794.2q2.1,-5.2 2.8,-10.7M1011.1,906.3q-0.9,-11.5 -6.5,-21.5M889.7,803.6q3.9,-6.3 9.8,-10.7M966.2,819.1q2.3,-6.4 8.5,-9.2M1025.8,792.6q4.8,-1.3 9.6,-0.2M1068.3,911.5q-3.6,11.0 1.8,21.3M1068.6,883.2q8.9,7.1 17.6,14.4M965.6,926.7q4.1,5.4 9.3,9.8M954.0,771.3q6.5,2.1 13.2,2.9M1140.4,877.9q4.2,8.9 5.7,18.6M1100.7,864.0q5.1,0.9 9.8,-1.2M950.6,718.1q1.9,7.4 6.8,13.3M980.6,761.5q-3.5,-4.4 -2.6,-9.9M970.8,868.9q5.8,8.5 13.4,15.5M1042.1,752.2q-4.5,5.9 -4.8,13.2M969.0,782.5q-11.2,5.8 -20.3,14.5M1164.6,845.3q1.7,11.2 -1.3,22.2M1051.5,756.5q-6.5,-9.1 -11.8,-19.0M1166.4,730.0q6.8,9.6 15.9,17.0M1170.2,769.5q6.1,3.0 11.8,6.6M1150.0,881.1q-5.8,5.7 -6.5,13.8M953.8,854.9q-2.1,-4.5 -6.5,-6.8M957.7,870.8q-2.7,6.9 -9.5,9.7M1178.1,823.6q-2.9,4.9 -8.3,6.6M1178.3,723.9q0.4,11.0 -1.8,21.9M1140.4,892.6q1.8,5.8 1.2,11.9M1073.5,782.1q0.6,-11.8 -0.7,-23.5M1127.4,873.8q6.8,0.7 10.7,6.3M951.7,752.8q5.2,11.0 5.5,23.2M1123.7,832.9q-6.7,4.8 -12.4,10.7M1137.3,710.2q-2.9,8.6 -5.1,17.5M1179.9,757.6q5.3,-4.5 6.0,-11.4M1083.3,730.2q-1.0,-10.6 -2.4,-21.1M977.5,839.5q-1.5,5.6 -4.1,10.7M1004.5,732.2q-4.1,10.1 -10.9,18.7M998.5,863.0q6.8,-9.0 15.0,-16.8M1012.7,878.3q-6.2,1.6 -10.8,6.2M1141.0,851.7q0.2,12.5 -2.6,24.6M1141.2,796.1q-3.4,-2.9 -3.3,-7.3M985.7,836.0q-1.2,-9.2 2.6,-17.7M1169.7,869.5q-0.1,7.4 4.4,13.3M1085.2,913.6q8.5,-5.0 17.9,-2.0M994.0,837.6q-5.1,-5.7 -12.6,-6.8M950.6,771.6q6.1,-10.9 10.4,-22.6M1130.9,862.0q-7.8,-7.7 -18.6,-6.6M1163.5,738.3q5.3,-8.4 2.2,-17.9M957.6,798.3q11.2,-3.7 21.5,-9.4M861.2,702.1q-7.4,3.2 -14.6,-0.3M1038.8,868.5q-4.8,-2.4 -9.5,-5.1M1170.4,809.0q-9.5,7.8 -10.6,20.0M1160.9,838.3q2.9,4.3 6.1,8.3M1104.7,897.2q7.9,-5.5 17.2,-7.9M1056.6,894.7q-4.3,-1.2 -8.4,0.5M1070.6,909.1q2.6,5.4 6.7,9.8M930.5,844.5q7.9,-8.7 18.9,-12.7M916.0,863.6q12.7,0.4 25.1,3.1M903.6,867.2q1.6,-10.8 -4.9,-19.6M1104.1,866.9q-10.6,-1.3 -21.2,-0.8M969.0,852.9q-9.9,1.9 -19.4,5.4M838.2,871.9q9.5,-0.0 18.1,4.1M1135.9,879.6q1.4,10.5 3.9,20.9M1052.7,727.2q-6.5,0.3 -12.1,3.5M919.8,787.8q-3.0,-8.6 1.4,-16.5M897.9,746.7q8.3,-1.6 15.9,2.1M912.8,801.9q-12.5,3.2 -25.2,1.1M1091.1,737.4q9.2,-2.7 17.9,1.3M982.9,795.9q-11.1,0.1 -20.2,-6.2M976.9,769.4q8.6,5.0 16.6,10.9M941.0,782.0q-2.3,-10.3 -11.7,-15.0M1129.0,794.2q3.8,-2.5 8.2,-1.3M1097.1,840.3q-1.2,-4.2 -1.5,-8.6M942.8,853.5q1.1,-4.2 4.6,-6.9M1042.0,884.6q-2.4,5.1 -2.0,10.8M1089.5,878.2q6.1,-0.9 11.8,1.3M933.9,737.4q-9.3,-0.7 -18.0,-3.9M1088.7,883.6q-7.4,-1.3 -11.6,-7.6M1104.2,841.3q-8.0,2.9 -13.9,9.2M1074.7,793.9q9.4,-3.1 18.4,-7.1M1133.1,760.3q10.6,1.4 20.7,-2.3M965.7,769.0q4.9,-0.5 9.7,0.2M1109.7,908.7q-0.5,4.3 -1.3,8.6M1085.4,852.6q-6.1,-4.7 -13.8,-4.7M1010.8,838.3q1.8,8.2 5.0,15.9M1036.9,753.7q-3.2,3.5 -6.1,7.3M1130.2,830.4q3.4,10.6 2.5,21.7M1044.6,831.7q9.0,-0.8 18.1,-0.4M1018.9,828.2q-3.8,-4.9 -7.7,-9.8M1070.7,784.2q2.1,8.9 10.4,12.9M990.5,851.2q10.8,4.2 22.3,4.7M833.1,929.5q2.2,-9.3 10.7,-13.5M953.6,823.8q-5.3,1.8 -10.9,2.0M1174.6,926.4q-1.9,-4.5 -4.2,-8.7M1075.9,856.1q8.1,7.8 18.0,13.1M1035.4,846.5q-9.9,4.9 -20.1,9.3M1153.5,780.5q-11.9,-2.4 -22.1,-9.1M822.0,823.4q-7.6,-5.5 -17.0,-5.1M1110.4,875.0q2.7,3.8 4.3,8.1M1130.4,854.4q-3.6,6.6 -8.1,12.7M1116.9,756.3q5.2,-2.5 9.2,-6.7M933.5,777.3q4.2,11.1 9.6,21.5M1168.7,836.8q4.6,-3.0 10.1,-3.1M1177.8,789.9q0.7,-5.7 -0.9,-11.3M1020.2,865.6q2.1,7.4 5.2,14.5M1142.7,891.0q-7.1,4.6 -8.1,12.9M899.2,805.5q-6.1,4.9 -9.9,11.7M976.8,715.8q0.0,6.8 -3.5,12.7M1063.9,881.6q0.0,-7.1 -2.7,-13.7M1171.8,814.1q-0.8,9.2 3.7,17.2M1178.7,759.5q5.1,11.4 17.0,15.3M1034.9,810.8q4.9,-10.0 12.0,-18.4M999.1,774.3q4.6,6.4 4.4,14.2M831.3,862.5q-2.0,-4.7 -6.0,-7.9M1053.2,768.0q4.3,-5.4 9.9,-9.3M1142.5,748.7q-9.1,-3.4 -15.9,-10.2M1088.1,799.0q4.9,11.3 16.1,16.5M1084.1,838.3q-8.5,6.7 -12.0,17.0M1167.3,864.2q-12.1,-3.0 -21.2,-11.4M1138.3,851.5q2.2,8.4 0.2,16.8M1058.5,859.0q-5.0,-11.1 -5.9,-23.1M1029.7,848.7q4.2,1.6 8.3,3.2M1170.1,824.6q-8.3,-9.9 -16.8,-19.7M1152.4,784.9q0.6,-5.2 5.1,-8.1M1040.5,770.6q6.5,-3.4 10.6,-9.4M1048.7,920.9q1.0,9.1 3.5,18.0M1174.5,748.6q6.3,-3.8 13.6,-4.0M957.7,775.6q5.5,3.1 11.5,0.9M1026.5,832.3q8.7,-2.6 17.7,-2.8M934.1,830.3q1.7,-8.2 -2.2,-15.6M976.6,871.3q3.2,4.5 5.4,9.6M1034.6,768.9q-5.7,0.5 -9.4,4.8M1118.4,894.3q-4.5,-8.5 -2.2,-17.9M956.0,796.7q-12.6,-0.7 -23.1,-7.9M1135.6,836.0q-0.4,-6.7 -0.7,-13.4M1119.2,853.9q0.2,-4.4 3.5,-7.1M1039.8,874.3q7.0,8.3 17.9,8.0M1020.3,927.9q5.2,-6.8 8.7,-14.6M1127.7,830.7q-4.2,-9.5 -9.4,-18.6M1136.8,806.2q5.6,9.9 2.4,20.9M1013.2,883.4q11.5,0.1 23.1,1.1M955.6,797.9q-9.6,1.4 -18.9,4.0M1007.3,816.4q-4.3,-3.9 -6.1,-9.4M979.2,887.6q1.1,7.0 -2.9,12.8M959.9,749.5q3.3,5.3 3.4,11.6M949.0,785.8q4.3,-9.9 4.8,-20.7M1171.2,810.7q10.0,8.0 17.2,18.6M1124.7,861.5q0.8,8.7 -2.7,16.6M1005.2,856.4q6.4,-3.0 9.7,-9.2M975.2,781.6q7.5,1.6 15.1,0.0M1138.9,880.4q-8.4,2.7 -11.9,10.7M1025.9,856.7q-7.7,-2.6 -15.7,-2.4M1034.8,887.2q7.5,-5.9 13.4,-13.5M969.7,917.2q-9.8,7.0 -17.7,16.0M962.3,773.6q-5.0,-1.0 -10.1,-1.4M825.5,876.5q6.8,1.9 12.6,-2.2M969.3,701.5q0.6,-7.0 -3.5,-12.6M985.6,724.5q-4.3,9.2 -0.2,18.6M957.9,878.9q4.9,11.3 3.6,23.7M942.9,804.2q-4.0,9.3 -8.3,18.5M974.1,846.2q3.2,3.1 7.5,4.3M1136.7,893.7q4.4,3.3 9.9,3.8M978.0,857.5q11.5,-5.5 23.7,-9.4M1070.0,814.1q12.8,0.3 25.2,3.5M941.4,845.9q-12.5,3.0 -24.8,6.8M1093.5,853.8q-4.6,8.5 -3.0,18.1M1050.0,868.0q9.3,-0.9 16.7,-6.7M1094.6,805.8q-10.6,2.3 -18.8,9.5M1058.2,809.9q3.5,2.6 6.0,6.3M1065.4,759.2q-4.4,4.3 -9.2,8.1M1159.9,741.1q4.1,-10.3 11.6,-18.6M945.3,804.6q-8.3,-2.0 -16.8,-2.4M1049.9,839.0q-4.6,1.6 -8.8,-1.0M1065.8,753.2q-2.9,11.3 -12.3,18.3M988.1,758.6q-10.5,-0.2 -17.2,-8.3M1050.5,770.7q8.3,8.5 17.2,16.3M900.7,755.3q4.6,-6.1 11.3,-9.9M1091.4,768.9q5.5,-2.9 8.1,-8.6M971.4,859.5q-5.2,6.9 -10.4,13.9" stroke="#e23aa8" stroke-width="1.5" opacity=".9"/>
<path d="M1031.9,868.1l0.7,3.5M967.2,831.3l1.3,2.6M1056.2,830.4l1.5,1.5M1007.4,779.5l-1.7,1.3M878.0,759.1l0.2,1.8M1051.2,747.3l-2.1,0.3M1056.1,776.4l0.4,0.5M1160.4,836.1l1.3,3.1M940.2,827.1l0.3,0.6M1034.1,821.7l-2.2,1.5M971.8,837.2l1.2,2.5M1089.3,791.7l3.1,0.6M998.1,840.4l3.0,0.7M1156.2,835.2l-0.5,0.1M1029.7,749.9l1.7,0.9M1005.0,799.7l0.2,3.6M953.8,808.3l0.8,1.0M1167.0,857.7l-0.7,1.3M1074.9,754.0l-0.9,2.2M1127.6,861.5l-1.9,1.9M1054.6,890.3l0.2,0.7M975.6,764.9l1.5,3.2M975.8,743.0l0.2,2.5M962.3,870.6l-0.5,3.7M1036.1,792.0l1.7,1.6M967.8,819.4l-0.6,1.7M958.1,928.7l-3.3,0.7M1120.8,808.8l-4.0,0.3M1114.0,753.9l-3.0,1.9M995.5,872.0l-0.0,2.6M1067.2,841.7l-2.4,0.6M1013.9,747.1l3.7,1.6M983.7,867.1l-1.8,0.6M1011.5,865.8l-0.0,0.7M966.7,852.7l1.4,0.7M1124.0,784.5l-0.9,1.7M923.7,823.7l3.1,1.0M1112.9,892.4l-0.8,3.2M883.4,718.2l-1.5,3.6M1090.8,881.2l1.5,2.2M1011.2,909.6l2.0,0.1M1010.9,830.8l-2.0,2.1M972.4,751.6l0.0,0.5M986.4,753.4l0.7,0.4M1122.9,834.8l-1.2,0.1M1043.6,866.5l-2.5,0.8M1132.5,906.7l-0.3,1.0M994.0,785.3l-1.7,1.3M1020.1,760.0l-0.0,0.5M1086.4,771.3l-3.7,0.9M849.1,792.2l0.5,1.2M1033.7,865.0l-0.3,1.1M1024.1,871.6l1.5,1.1M1164.2,879.9l-0.3,2.2M961.3,860.3l-0.5,1.7M1080.0,819.1l1.1,0.6M1108.6,702.8l-0.2,3.0M952.6,824.9l-2.6,1.8M966.4,824.3l2.5,1.5M972.7,750.8l-3.4,0.6M1135.3,777.2l-0.1,1.5M1074.0,736.9l0.5,0.3M1077.6,859.4l-0.2,2.2M1128.9,803.9l1.2,2.3M1016.9,723.0l-3.6,1.4M1126.2,823.5l-0.3,1.8M1023.2,753.0l-0.6,0.4M933.2,757.3l2.3,2.8M1104.0,735.8l0.0,1.7M1090.6,822.9l1.0,2.5M867.8,831.1l-2.2,1.3M1007.6,803.0l2.2,2.3M1154.8,762.4l1.2,1.3M1006.7,808.7l-0.4,2.4M969.3,774.6l-0.4,0.4M1105.9,823.6l-1.1,1.2M1101.2,899.0l0.1,1.1M1044.4,801.2l0.8,0.7M1078.8,867.6l-1.2,1.0M929.7,834.9l-0.3,3.1M1006.8,809.8l-1.6,3.4M1162.9,752.1l0.7,3.5M938.5,836.8l-2.1,0.0M1180.0,782.5l1.3,2.5M1156.5,728.0l1.6,0.2M1076.0,820.4l-0.6,0.3M926.4,773.3l-0.6,0.5M948.9,797.3l3.8,0.9M994.9,825.0l-0.2,0.5M1048.7,855.2l1.4,1.0M1027.3,742.9l-0.6,0.3M815.2,733.2l-1.4,1.4M1107.7,801.6l-1.1,1.1M1039.6,882.9l-1.4,0.1M1153.3,750.6l-1.1,3.2M819.5,831.7l-0.3,2.3M1163.8,759.7l-0.7,3.5M1098.6,790.3l-2.0,0.6M1054.1,797.9l2.9,1.7M1100.7,756.0l-0.9,0.6M936.3,802.3l0.5,2.3M1098.2,856.1l1.1,0.6M1007.8,706.6l-0.4,2.6M1023.7,858.1l1.5,3.6M1088.8,848.1l-0.8,2.4M1050.3,797.0l0.4,1.6M1124.7,846.6l0.4,2.4M1111.4,824.5l-0.6,0.5M1075.5,835.4l-1.5,3.3M1153.1,782.2l-3.2,1.1M1036.1,896.7l0.1,1.6M938.0,821.4l-1.3,0.9M1134.2,806.9l0.8,0.2M1105.8,788.3l-3.4,1.6M1016.7,817.3l1.9,1.4M1131.8,731.8l-1.2,0.6M1062.3,812.7l0.9,1.0M1081.2,825.7l2.5,0.4M1030.0,889.4l-1.3,3.6M1122.5,879.7l1.1,2.6M946.1,748.2l0.6,3.9M1063.6,922.9l2.5,2.2M1071.9,864.2l0.6,1.5M909.0,745.4l-0.8,1.9M1131.2,803.5l0.8,1.7M1068.9,918.9l-0.2,1.2M925.9,880.0l-1.0,3.0M1109.5,801.1l-0.9,2.8M1030.9,794.5l0.3,0.7M925.4,758.8l0.2,2.1M982.5,871.3l-1.8,0.1M1073.4,750.2l1.0,1.3M975.1,836.8l-0.6,2.2M1055.5,778.3l-0.7,1.1M1174.9,785.8l-1.3,2.8M1176.5,802.6l-1.9,1.8M1041.2,744.1l2.5,2.2M906.4,801.7l1.6,0.5M1113.1,795.7l1.8,0.9M1092.7,750.4l0.1,1.0M931.2,741.9l-0.1,2.4M1154.4,793.0l0.6,2.8M1041.5,826.0l-0.2,0.7M1082.6,737.8l-1.8,1.9M979.1,932.6l-2.8,1.2M982.3,864.8l-3.1,1.3M1058.3,846.2l-1.7,0.7M1044.9,883.0l2.3,3.1M1136.3,856.2l-0.2,1.0M959.0,839.9l3.6,0.4M985.7,747.6l-0.1,0.9M1118.7,915.9l0.6,1.0M1017.9,894.5l0.8,1.3M975.8,723.9l-1.3,0.5M1124.2,834.9l-0.5,0.4M1122.7,790.5l-1.7,1.3M1111.7,763.9l0.6,0.3M1085.0,834.0l-2.0,0.1M1090.0,838.4l0.3,1.6M1027.7,765.3l-0.6,0.5M911.8,813.3l0.6,0.5M1054.2,827.5l-1.2,1.4M894.8,729.3l1.6,1.0M1141.9,783.6l0.8,0.1M1117.0,770.0l-1.4,0.1M1015.7,850.6l-0.7,0.3M1031.6,857.7l-0.6,3.7M947.3,799.4l-0.4,0.6M1074.5,813.5l-0.8,2.1M966.1,752.4l-3.0,0.5M922.1,811.9l-0.6,0.8M1149.2,866.2l0.9,0.0M999.4,821.9l2.9,2.0M1021.3,894.0l-0.7,1.7M1042.3,798.6l-2.9,0.6M1171.2,783.1l0.9,2.9M904.7,781.3l1.8,1.6M1159.9,816.0l-2.2,0.7M1082.1,799.5l-3.7,1.1M1012.3,806.7l-0.5,1.9M1062.3,872.5l1.9,0.2M904.7,813.3l-1.3,0.1M1113.5,834.0l-2.7,0.4M1101.1,809.1l-1.3,2.9M1008.4,899.2l-0.1,0.5M1137.9,873.9l0.5,2.4M1075.6,754.5l-0.5,2.8M972.5,700.5l-0.4,0.4M1027.7,853.2l2.7,0.2M1158.9,798.1l1.8,2.4M974.6,831.9l1.0,2.3M941.5,819.6l1.2,1.7M1014.4,881.1l1.6,1.9M1089.3,856.4l-1.0,2.7M977.0,819.7l-0.8,0.7M1008.7,751.7l-0.0,2.3M1138.9,852.4l-1.5,1.1M939.6,808.0l-1.4,3.1M1105.3,824.3l0.6,2.6M1133.8,860.4l-2.7,1.9M1090.1,855.3l2.7,0.4M1144.7,810.4l-2.1,2.2M1039.9,858.9l2.3,0.0M949.7,885.4l0.2,0.8M1108.8,799.1l2.5,1.2M1144.6,893.5l1.6,0.1M1077.2,866.3l-1.5,0.3M968.8,813.1l-0.1,3.0M980.9,859.9l1.7,2.0M1007.5,819.2l0.0,3.2M932.8,818.9l0.4,1.7M934.6,818.0l-2.9,1.5M1014.2,762.5l2.3,2.6M1078.6,806.0l-1.3,2.6M1115.1,805.7l2.8,0.7M954.4,809.9l0.8,0.7M1168.9,848.9l-2.3,2.7M1153.2,734.4l-1.0,0.7M1017.4,822.9l1.9,1.6M1100.4,875.7l-3.8,0.3M1058.2,907.2l2.8,1.8M1028.2,827.3l-2.2,3.0M927.4,763.0l1.1,0.6M1111.8,774.6l-0.4,0.5M1054.5,816.4l1.4,1.3M1085.0,786.9l-0.9,0.7M1070.4,816.2l1.8,2.3M932.5,831.6l-0.5,1.7M1080.7,819.8l0.6,0.4M854.8,729.9l0.1,1.8M1035.4,796.3l1.8,1.2M1100.1,816.7l3.2,1.9M1129.4,810.8l0.9,0.7M1014.9,849.7l-0.0,0.8M909.0,778.6l0.8,1.2M906.5,762.6l-0.2,3.6M1129.0,806.4l1.6,2.3M1057.0,819.2l3.5,1.6M1141.7,758.6l0.6,1.3M900.8,777.8l0.2,0.8M1036.2,845.5l-0.3,0.6M1158.0,816.7l2.0,1.2M975.3,798.6l0.9,1.7M1133.1,818.4l0.7,0.4M1139.2,864.1l3.4,0.8M936.8,801.1l-2.1,1.0M1110.8,784.6l-1.4,1.4M1010.6,887.2l-0.8,0.1M1085.3,765.1l3.5,1.2M1152.2,873.7l-2.2,0.3M927.8,781.6l-0.1,2.7M1067.4,832.5l2.4,0.5M992.9,854.8l0.8,2.4M991.4,771.5l0.1,0.6M1011.4,880.6l0.1,3.2M949.5,934.8l0.8,3.5M1038.6,761.3l-0.8,1.1M1085.5,756.0l1.9,1.6M829.7,742.7l2.1,2.7M1003.0,784.0l-2.6,2.6M1120.3,853.9l0.5,1.0M1145.7,763.3l-0.7,0.8M1150.9,878.4l0.8,0.4M950.4,742.2l1.0,0.2M1100.8,896.9l2.4,1.5M1108.0,813.5l-0.5,0.2M958.2,805.0l-0.7,2.2M1065.6,863.3l-1.0,0.3M1140.5,799.5l2.0,2.2M1068.4,777.8l-3.2,2.2M1012.0,811.7l-2.6,2.6M1017.3,871.5l-1.0,0.7M1116.8,809.2l-2.4,2.4M1003.2,808.6l-1.9,2.9M1118.9,771.6l-0.8,1.7M1080.0,780.6l-2.1,0.1M945.4,779.5l-3.2,0.6M1007.5,895.5l0.5,0.6M1087.2,821.5l0.5,1.4M1051.3,785.1l3.7,0.8M1140.0,855.4l-2.1,1.0M927.5,785.8l-1.7,1.4M933.1,768.4l-2.8,1.9M972.1,798.4l-0.3,0.4M996.9,913.0l-1.7,0.2M985.9,787.6l1.0,2.5M1136.0,741.2l-1.2,0.0M1030.1,743.3l-1.8,2.7M1054.4,903.3l1.7,0.6M883.4,788.9l3.0,0.9M1108.5,773.0l-0.3,0.9M976.0,775.4l-0.7,1.6M981.5,788.2l-1.0,0.3M1136.4,864.9l3.7,1.3M1127.2,822.2l1.1,1.0M829.9,730.2l0.2,1.2M1107.0,878.0l2.9,1.9M1153.9,880.0l-1.7,2.0M1149.3,795.4l0.0,0.6M920.7,821.0l-1.8,2.1M973.1,813.4l-2.8,2.8M1096.4,878.1l2.5,1.4M1139.5,882.4l-2.5,1.4M1172.2,840.5l0.7,2.1M953.8,778.4l1.1,2.9M1010.7,889.7l0.4,3.0M961.3,823.6l-1.3,0.8M1088.7,901.9l0.0,0.9M1054.6,892.5l-1.8,2.5M1024.0,755.2l0.2,1.0M1019.2,858.3l-0.1,1.0M1148.6,781.1l3.8,0.9M1072.8,839.0l-0.0,0.9M870.9,847.4l1.0,3.3M1072.2,861.0l0.8,1.1M1167.1,816.5l1.0,0.4M1165.4,846.2l-1.0,0.6M1070.1,738.2l2.2,0.5M1074.0,838.8l-1.2,0.2M1095.5,866.5l-1.3,2.7M1116.8,897.5l0.0,0.5M1130.6,776.4l-1.3,3.0M1111.2,724.5l-0.5,1.4M1072.6,832.8l1.2,2.0M1141.0,816.1l-1.3,0.3M943.8,761.9l2.3,1.8M996.8,788.8l1.3,0.3M1033.6,809.5l3.0,1.1M1016.8,756.9l1.0,2.1M1139.3,824.0l-2.6,2.0M918.4,881.6l-0.6,0.7M1012.6,769.6l0.5,0.7M965.4,812.4l0.6,1.6M966.0,772.4l1.8,2.9M1078.9,779.4l3.7,1.5M1028.6,882.0l1.4,3.5M895.5,813.8l-1.4,0.9M1085.9,830.8l1.2,1.8M1047.4,733.3l1.2,1.2M1179.3,844.6l1.7,2.5M1058.9,777.8l1.5,3.6M1112.7,799.1l3.4,1.6M935.7,822.4l-2.0,2.8M1175.5,787.1l1.7,0.6M1113.0,815.2l0.7,1.8M1013.0,864.0l1.4,0.7M1082.3,833.0l2.7,2.8M1138.0,857.5l-0.1,1.3M990.2,830.7l3.4,1.2M1010.6,777.8l0.5,1.1M1063.5,758.5l0.7,1.3M1152.9,783.7l-2.2,0.2M930.0,810.3l1.1,2.0M1127.6,746.9l-2.2,2.1M975.1,813.1l-0.7,0.5M1114.7,919.5l0.4,0.8M960.3,796.5l-2.0,2.9M1046.7,866.4l1.3,0.6M1048.0,747.8l2.4,3.1M1029.7,797.1l0.3,2.2M1044.7,759.0l-3.0,1.9M1041.9,797.1l0.3,3.1M1167.9,781.7l-2.3,0.9M1147.8,879.2l0.1,2.3M1119.0,838.3l1.1,2.0M1123.6,845.4l-1.1,1.5M1123.6,879.5l0.9,1.2M1103.4,835.5l-2.2,1.8M995.5,829.4l-1.7,1.7M1076.7,813.9l2.7,0.0M995.0,794.1l-1.9,2.7M1050.5,854.4l1.5,1.1M1095.8,888.7l-2.4,0.9M1152.8,835.4l2.3,2.2M1147.2,882.7l-1.0,0.1M844.9,716.7l-2.0,0.3M1075.6,907.7l0.7,2.8M1055.5,812.3l0.7,3.3M1009.3,748.6l2.0,1.8M1088.4,852.6l-0.6,1.6M1028.8,820.1l-2.9,0.9M1014.7,878.6l-0.8,0.8M1125.4,754.3l-0.4,0.7M1134.4,848.7l-0.5,0.5M987.4,755.8l-3.0,0.4M1077.7,900.5l2.5,3.0M831.3,779.6l1.8,2.5M1147.3,899.8l2.0,0.1M1109.7,775.6l-1.3,3.4M973.9,796.0l2.4,1.4M907.7,923.8l-0.4,3.4M1105.7,766.2l0.5,0.9M907.1,761.4l0.1,0.8M996.1,807.9l1.8,1.5M1077.6,916.9l-1.5,2.1M1039.8,805.4l0.4,3.3M1116.4,832.9l0.9,0.8M1014.5,865.7l-0.9,1.4M986.3,813.0l-0.6,1.0M946.4,775.6l-2.3,1.4M1055.8,761.0l-0.6,0.1M1134.1,786.6l-2.3,0.0M977.7,814.7l-2.8,1.7M1077.9,896.9l-2.3,1.8M916.5,932.0l-1.0,0.3M839.5,852.1l-1.1,1.8M886.4,728.8l-3.1,2.4M1135.8,816.8l3.6,0.4M973.2,912.9l0.9,1.0M1132.1,850.1l-0.5,0.1M1090.9,805.0l-3.0,2.0M1129.5,847.2l0.3,3.8M1085.7,815.8l0.5,0.6M1031.7,883.6l-0.2,0.8M1174.7,819.8l-3.3,1.3M1162.4,888.3l1.9,1.2M975.8,830.6l-0.9,2.0M1077.1,752.0l0.4,1.2M1160.7,786.9l-0.7,2.0M971.0,864.8l0.5,1.0M1116.4,813.3l1.1,3.8M975.5,843.1l-0.5,1.1M1073.7,822.3l1.4,3.7M1171.0,819.5l-3.1,0.0M989.3,739.5l0.9,1.3M1083.3,805.7l-2.7,2.1M1165.4,780.0l2.2,0.9M1086.3,771.0l-0.4,1.3M933.9,807.8l3.7,1.1M976.3,887.3l2.7,0.5M1101.3,814.7l-0.2,0.7M1047.0,871.0l2.1,0.8M1048.0,829.6l1.8,0.9M914.7,752.5l-0.7,1.5M1107.2,904.3l-2.8,1.5M972.3,786.4l1.2,0.2M1053.8,886.1l0.7,2.9M1148.9,854.0l2.7,0.7M990.7,891.3l-0.0,3.0M1043.3,895.2l-2.0,1.2M1109.9,884.4l-2.4,1.6M1000.4,789.6l-0.8,2.2M974.7,855.3l-1.0,1.8M1034.2,745.6l-1.1,0.5M998.8,761.8l-0.9,0.6M1112.9,884.5l-2.2,2.1M1127.4,796.5l1.7,2.5M968.0,812.4l-0.7,0.4M1138.6,775.5l-2.0,1.7M1121.9,892.4l1.5,1.6M1095.6,842.3l-1.2,1.3M1126.5,787.3l-3.6,1.6M1085.3,797.1l-2.7,0.2M987.2,786.0l-0.7,0.6M1071.9,728.2l3.8,1.0M864.8,865.9l-1.0,0.7M1087.2,764.6l-2.5,0.1M1024.7,788.4l1.0,2.0M1063.2,795.6l-3.4,0.5M1012.8,788.6l-0.7,0.8M1016.2,831.8l-0.3,0.8M1042.1,817.5l-2.0,2.7M1012.9,750.5l0.5,2.0M985.4,807.1l2.3,2.5M997.6,831.6l0.5,1.1M1043.7,770.6l-0.6,1.1M923.7,857.0l-0.6,1.9M1056.7,766.4l0.9,2.0M1009.3,779.0l-1.2,0.0M1078.4,801.5l-0.2,0.5M995.3,913.1l0.8,0.7M940.1,815.2l-0.3,0.5M1078.0,862.7l0.5,0.1M919.0,775.5l-3.7,1.4M970.5,809.7l2.7,1.6M880.9,751.5l-0.9,0.6M896.9,769.9l-1.3,1.5M1077.5,861.2l-1.3,2.4M1099.3,901.0l3.1,1.7M1006.8,818.9l-1.0,0.5M1042.1,780.6l-0.7,1.9M997.6,835.7l1.8,1.0M1036.1,901.8l-1.9,1.5M1055.7,737.4l0.6,1.3M814.2,806.1l3.1,1.4M1148.8,795.6l-1.5,1.4M1109.6,835.4l-0.1,1.1M1108.5,867.0l-3.8,1.0M1064.1,762.7l-3.0,2.0M1014.4,780.3l2.3,0.9M1045.3,853.0l1.3,1.2M1064.0,861.6l-1.5,1.6M1005.9,829.6l3.9,0.7M1162.0,808.5l-2.3,1.7M1027.2,857.9l-2.2,2.2M983.2,816.5l-0.3,0.5M1162.3,801.0l1.2,1.5M995.9,839.3l-3.6,1.0M1144.8,838.1l-1.4,0.5M1065.4,846.9l3.8,0.9M1163.5,773.6l1.8,2.2M1161.1,812.0l1.1,2.0M1083.3,905.7l1.6,2.3M1004.1,782.0l0.6,0.4M1165.6,757.1l2.9,0.1M1043.9,781.7l0.8,0.6M1178.3,848.9l0.5,3.3M1020.3,797.5l1.5,0.5M1001.1,890.1l0.1,1.5M1153.4,809.5l-2.9,1.4M1164.2,864.6l-0.3,1.2M1058.6,771.1l0.8,0.0M1003.5,757.3l1.7,2.4M940.9,794.1l-1.3,1.9M969.3,823.9l-1.3,1.0M1069.9,920.5l-0.8,2.0M1093.5,752.5l1.3,1.1M1119.1,807.5l1.0,0.3M1157.4,855.7l-0.5,1.5M1111.1,707.6l-0.6,0.3M1002.7,855.5l-0.2,2.1M1164.2,844.9l-1.3,2.3M1065.9,848.7l0.8,1.4M1045.4,791.4l0.3,1.2M892.0,792.5l-0.4,3.3M1085.3,739.7l0.9,0.4M881.4,853.7l-0.7,0.5M992.0,783.6l-3.4,1.0M1137.3,693.7l0.8,0.2M1043.4,811.3l0.4,1.8M1019.9,886.2l0.2,0.5M995.7,822.8l0.9,0.7M1019.9,823.2l-2.2,0.4M947.1,781.8l-3.4,0.4M894.9,815.7l0.6,0.2M907.3,739.0l2.5,1.0M1114.4,773.9l0.6,1.8M1084.6,829.6l1.8,1.6M852.2,760.3l0.7,1.2M1001.3,849.3l1.6,2.9M1019.6,765.5l-0.6,1.5M921.0,782.1l-1.2,1.2M1088.3,865.6l0.5,3.7M1136.4,792.6l1.0,0.7M891.7,800.4l-1.9,0.8M1075.4,826.2l-0.8,0.4M1001.2,761.5l-0.3,1.2M1176.2,857.6l0.0,1.3M1177.6,754.0l-1.5,0.5M934.2,815.8l2.5,0.8M826.8,734.4l0.0,2.1M1150.7,774.4l2.8,2.0M1134.7,731.8l-2.9,1.6M974.6,785.4l0.2,0.5M949.7,781.8l-0.6,0.5M1093.9,885.8l-0.9,0.3M993.5,819.5l-0.5,2.0M968.0,773.6l0.3,0.5M927.2,771.8l1.3,3.4M1007.2,770.8l-0.3,1.8M1157.5,813.9l1.9,2.6M1081.5,788.8l0.6,2.0M973.4,887.9l-1.0,3.0M1129.7,818.5l0.2,1.8M1078.0,721.2l1.7,0.5M995.5,787.7l0.6,0.4M950.5,818.5l-2.9,1.7M969.2,812.5l0.9,1.6M1135.2,771.5l1.1,0.6M1009.2,850.6l2.7,0.8M1016.5,782.8l-1.6,1.2M950.9,831.7l1.9,0.6M844.5,856.6l-3.7,1.1M837.0,730.2l-0.1,3.1M1054.9,837.0l0.5,1.4M1041.8,929.6l-2.1,3.2M1122.4,876.0l0.5,0.4M936.9,815.5l-2.0,1.2M962.7,739.7l-0.2,0.9M1091.2,905.2l-0.0,1.0M897.7,797.9l-0.3,3.1M1087.6,707.6l0.9,2.2M991.4,812.2l0.5,0.2M1025.4,846.0l0.4,1.9M1037.2,740.5l-0.2,3.6M954.1,757.5l-1.2,3.7M825.6,837.1l0.4,0.6M1131.5,773.9l0.9,3.2M940.2,871.1l1.8,0.6M1117.6,860.5l2.2,2.4M1138.3,829.1l2.4,1.1M951.7,832.0l-1.3,0.8M913.2,749.1l3.7,0.3M1108.0,776.2l2.7,1.4M1071.1,820.6l-2.1,2.6M1089.8,818.3l-0.0,1.6M957.3,792.3l-1.9,0.2M1164.1,872.3l-1.5,2.5M927.6,802.1l-1.9,3.1M1138.7,888.6l-2.8,0.4M890.1,686.7l-0.4,0.6M1142.7,865.4l-2.2,3.0M1111.4,826.3l-0.1,0.6M1121.8,931.5l-1.0,2.6M1152.5,766.5l1.0,3.4M1006.1,806.6l-0.9,0.4M935.4,783.5l-1.2,0.0M985.1,756.7l-1.3,1.4M820.1,913.2l0.3,4.0M1066.8,821.2l-0.2,3.5M1000.0,811.4l3.7,0.9M1055.4,887.7l-2.4,1.0M1120.2,863.2l0.4,1.0M997.0,713.7l-2.6,2.0M986.5,758.6l-2.4,0.2M1072.4,804.6l-1.4,1.5M964.2,805.1l-0.9,0.9M1043.2,790.7l1.2,0.3M1067.0,783.8l1.3,1.0M943.2,741.6l-1.0,3.1M1018.7,882.0l2.5,1.3M864.6,896.6l-1.2,1.1M1002.7,820.7l3.3,2.1M940.6,775.5l1.2,2.8M984.1,784.2l3.2,1.8M981.3,854.8l0.8,0.1M937.5,862.0l-1.5,1.1M1041.8,810.5l-0.3,1.6M1082.9,856.0l2.7,0.6M967.8,738.3l-0.7,1.8M917.5,773.5l1.8,0.5M1109.4,807.8l0.6,1.7M1015.5,906.7l-0.2,1.9M1060.1,899.1l0.1,0.5M1082.4,747.8l-1.2,0.6M1061.3,814.5l1.7,2.2M1089.3,792.6l1.4,2.6M943.2,765.2l-2.3,1.2M1075.1,819.6l0.6,2.5M993.6,917.9l2.0,1.5M1148.3,797.9l-0.6,1.5M1043.0,728.5l2.5,0.1M1139.7,766.3l2.0,0.5M960.0,831.3l2.8,0.2M943.1,775.6l0.5,0.1M1107.0,831.1l1.1,1.5M988.1,833.2l-1.1,1.2M1124.7,841.8l1.0,1.6M1167.9,881.3l-3.4,1.1M1081.3,796.4l-0.9,0.5M1017.5,732.4l3.5,0.2M1147.7,862.7l-3.9,0.3M1034.6,825.1l1.1,2.2M1099.5,848.9l-1.8,2.0M943.7,800.3l1.6,1.4M1136.8,869.3l0.4,0.9M1142.2,802.8l0.5,0.3M923.3,763.4l-2.1,2.8M1161.6,765.7l0.1,0.7M1054.0,824.3l0.6,0.2M1050.4,822.3l1.4,2.0M951.9,831.8l-0.3,0.5M1009.2,803.2l0.6,0.2M1062.9,766.1l2.0,0.0M1129.3,803.0l3.8,0.9M979.1,807.6l-0.6,0.3M1138.7,873.7l1.4,1.2M1067.6,743.2l-1.9,2.3M1168.6,892.7l3.8,0.4M1013.8,805.1l2.1,0.8M1118.9,879.5l3.3,1.1M988.6,855.4l-2.5,2.5M1043.1,785.0l1.8,1.7M838.3,876.9l-0.1,2.2M1137.4,861.8l-0.1,3.7M920.1,825.5l-2.5,2.5M1101.5,743.9l-0.7,3.3M879.8,704.0l0.3,0.5M1055.1,793.1l-0.4,1.5M984.8,802.2l0.6,0.4M1143.0,827.2l-1.1,1.4M1058.0,901.9l0.8,2.9M1019.3,846.2l-0.7,3.1M1094.0,852.8l1.7,0.3M1069.5,816.0l-0.1,1.9M1071.2,838.2l-0.8,0.3M1176.5,831.7l2.7,2.6M1007.6,858.5l-0.7,3.0M1052.3,761.4l1.7,2.4M989.4,785.3l1.8,1.5M1023.5,764.0l-1.7,2.8M1057.7,827.4l0.4,0.4M996.9,772.9l-0.1,1.6M927.6,800.0l-0.1,1.2M1162.2,816.3l-3.0,0.8M996.8,834.2l-1.7,2.0M1169.8,764.6l1.0,1.1M1029.6,738.4l0.7,1.4M1019.0,849.6l0.5,1.6M1047.2,765.7l-3.8,0.0M1085.8,762.4l0.0,3.0M1080.3,773.1l-2.2,0.8M1161.6,838.2l-0.4,0.7M1004.6,877.7l2.0,1.7M1075.7,771.0l0.5,0.7M1141.5,809.6l-0.1,2.0M1156.7,823.7l2.4,1.9M1017.8,878.4l-0.1,1.0M983.7,824.5l-3.2,1.2M1047.3,800.8l2.6,2.7M978.5,877.9l2.9,1.4M1027.4,812.8l0.7,2.3M1003.9,796.1l-0.9,1.8M1069.4,823.6l1.0,2.2M1006.0,775.9l-2.5,1.1M1024.9,871.2l-0.1,2.2M965.0,895.1l-0.2,1.3M957.0,778.3l2.9,1.2M973.4,753.2l-2.3,0.3M1005.6,859.8l-1.3,2.9M1127.7,746.8l-3.0,0.6M1170.4,795.6l1.9,2.7M1179.9,842.2l1.8,0.2M1077.6,859.3l0.4,2.0M1162.3,782.3l-0.0,1.6M887.0,909.0l1.7,2.6M1143.8,863.6l-1.2,2.8M899.1,720.5l0.7,1.1M959.9,790.8l1.3,1.8M1001.4,931.9l0.8,0.6M1116.8,817.2l1.0,0.6M1012.6,757.2l-0.5,3.8M1057.1,885.7l-0.3,1.9M1110.4,816.5l-3.1,0.7M952.2,839.8l2.0,0.5M1162.6,877.0l-3.7,0.6M1165.8,773.5l-0.9,0.5M1019.2,794.4l2.6,2.8M976.6,899.3l1.5,0.4M968.1,870.9l2.3,0.4M1020.0,810.0l-2.4,0.5M1038.3,871.9l0.7,0.5M1109.7,891.6l-1.2,0.2M913.5,820.5l-2.7,0.9M1079.9,784.2l-1.8,1.9M1054.3,763.3l0.8,1.1M1144.4,817.6l-1.3,0.4M814.1,821.2l-1.6,0.2M1102.7,830.2l-0.5,2.7M972.4,909.7l-0.9,1.5M974.6,843.0l-2.4,1.7M1136.1,766.9l-1.7,2.6M1018.3,865.3l-1.4,1.3M1077.6,767.2l-1.9,0.9M1081.6,837.7l-2.2,3.0M1118.5,745.9l2.3,2.4M1135.7,883.4l-0.7,0.8M1159.8,807.2l2.8,0.7M1069.2,898.7l-2.5,2.5M1054.1,820.6l3.3,1.0M968.0,799.8l-0.7,0.2M1014.2,888.2l-0.2,1.7M1122.5,874.7l1.1,1.5M956.5,744.5l-0.1,0.8M1004.3,826.5l0.6,0.4M911.3,799.0l0.3,1.9M1156.3,900.6l1.6,1.8M1119.4,835.5l-1.8,0.3M1088.3,763.4l0.1,0.7M1051.4,858.1l-1.8,2.6M962.7,933.0l0.8,3.1M972.1,839.4l0.5,2.9M1140.2,767.3l-1.6,1.0M1071.3,883.1l-2.7,2.2M1127.8,821.2l0.6,2.8M1099.1,859.2l-1.4,0.5M1156.1,820.6l1.2,0.2M1045.3,760.9l1.8,3.5M1069.0,778.9l-1.3,0.8M1089.5,757.0l1.5,3.1M1043.2,796.7l-0.8,3.8M984.6,878.5l2.0,1.3M1109.9,835.3l-1.1,3.4M1047.6,795.6l0.7,1.2M1153.3,875.9l-0.8,0.3M1127.3,881.7l-1.3,1.3M1044.1,827.4l-0.1,1.0M1020.9,792.8l2.7,0.4M1086.0,837.2l-2.7,0.2M950.5,775.3l-1.1,0.3M978.7,754.6l-0.4,3.3M1068.6,916.2l-1.2,0.1M1030.8,803.0l2.7,0.8M980.2,760.7l3.0,0.5M1001.8,784.5l-0.1,1.2M948.8,776.0l-0.4,0.4M938.3,878.1l-2.4,0.2M1119.1,822.6l1.1,0.9M1013.7,908.2l3.4,1.2M952.8,929.5l-0.8,0.0" stroke="#971a6e" stroke-width="3.2" opacity=".8"/>
<path d="M925.8,828.5l-1.5,2.4M1043.4,893.1l-2.5,0.6M1053.1,859.7l-1.6,2.2M1110.9,887.9l1.7,1.2M958.3,832.6l1.2,1.1M1006.9,829.1l0.4,1.1M1094.4,797.3l-1.9,1.4M885.3,800.0l-0.6,1.4M903.6,762.9l-1.4,1.3M1170.4,882.7l2.3,0.8M1154.4,896.2l-2.0,0.1M1014.5,789.7l-0.7,0.0M1095.8,845.9l-1.4,0.3M1100.9,805.7l-0.1,2.9M1134.7,886.0l0.8,1.7M977.1,778.4l-2.2,0.4M938.4,822.7l-1.4,0.8M998.9,782.0l0.3,0.8M1072.0,811.8l1.5,0.1M1082.6,826.3l1.1,1.5M1124.6,719.8l0.9,0.9M1142.3,792.1l-0.4,0.9M935.7,916.2l-1.7,0.6M968.4,787.3l-0.1,1.1M993.4,795.4l-1.6,1.5M1148.6,754.1l1.3,0.5M1070.7,730.3l-0.6,1.5M1071.1,789.6l1.7,1.1M991.3,791.4l-0.8,0.7M1168.8,811.8l-0.5,0.5M946.5,803.5l-1.0,1.1M1159.8,850.1l-0.4,2.1M977.4,811.9l-0.9,0.4M1012.8,860.9l-1.7,0.1M1166.5,895.0l0.7,1.1M944.7,867.7l-2.9,0.3M1050.1,826.4l-0.0,0.8M1121.6,811.7l0.0,2.9M1107.7,764.2l-2.3,1.5M1096.5,827.8l0.2,2.1M942.8,814.8l0.5,0.5M1117.3,848.5l-0.6,0.2M1059.8,788.0l-0.5,1.1M870.6,884.0l-0.1,1.1M1162.6,871.8l2.1,0.5M867.5,934.7l-0.3,0.5M937.8,833.6l-2.3,0.5M1110.6,775.6l-0.9,2.4M1104.3,900.0l-1.1,1.7M941.4,816.9l1.5,0.9M1057.6,797.3l1.3,1.1M1002.4,841.9l0.5,2.3M1117.5,745.5l0.8,2.0M1093.4,894.3l1.0,1.2M1120.3,775.5l0.6,1.9M987.1,766.1l-1.5,0.4M1096.4,862.0l-2.0,0.7M1145.6,832.1l-1.7,0.1M1039.7,828.4l-1.4,0.8M1092.8,826.0l-0.6,2.1M959.3,754.7l1.0,1.8M1007.3,878.0l0.7,0.1M869.4,675.4l2.5,0.5M1056.1,860.7l-2.1,0.8M979.1,750.8l-2.2,1.1M1175.5,854.0l-2.4,0.1M1155.8,714.8l0.4,1.4M1165.2,900.5l0.3,1.9M1087.1,871.4l2.7,0.3M1116.5,919.2l-0.1,1.4M857.0,910.7l-0.7,2.4M946.8,898.9l0.9,1.0M986.2,885.4l2.2,1.8M1037.0,831.7l1.1,0.1M1112.2,856.9l-1.9,0.3M1003.9,809.1l2.6,0.8M998.7,828.2l-1.5,2.0M1177.3,857.7l-0.7,1.2M977.9,857.7l-2.6,0.7M1023.5,807.6l-1.0,1.2M1056.9,857.6l0.4,0.2M1154.9,807.6l0.8,2.8M1060.0,768.8l2.4,1.0M999.4,877.1l-0.5,2.7M1005.4,858.8l-1.4,0.7M1001.6,822.3l-1.4,2.1M1120.1,883.8l-1.2,0.8M1145.4,808.6l-2.6,1.3M1022.2,788.8l2.4,0.8M990.6,782.8l0.2,0.8M947.7,773.8l-1.1,2.4M1156.0,801.9l1.8,1.7M1122.2,874.4l-1.8,1.6M1022.8,897.2l1.1,0.3M969.2,809.7l0.9,2.2M1115.9,819.2l0.1,2.0M1093.5,873.0l0.9,2.5M1166.4,786.0l-0.7,2.3M1049.7,889.6l-0.9,1.1M965.1,849.3l-0.3,0.7M902.9,826.2l0.1,2.0M1052.7,799.9l0.1,2.2M1177.8,748.1l-1.9,0.6M1115.9,862.0l-1.3,1.2M1060.7,741.0l0.8,0.4M987.0,781.0l-1.4,2.6M1062.8,857.8l-2.0,0.8M1140.3,789.5l-2.5,0.5M981.0,773.4l0.0,0.6M1029.4,785.3l-0.6,0.5M1133.3,742.1l0.0,1.2M1028.2,753.6l0.7,1.4M1121.4,762.2l-1.9,1.0M962.3,718.8l0.6,1.7M1011.7,743.1l-1.8,2.0M965.3,742.8l2.5,0.9M1142.3,868.2l-0.5,0.5M1036.3,822.1l2.0,1.7M1147.7,869.4l0.5,0.4M1029.1,896.5l-0.5,0.1M1133.5,751.3l-1.5,1.0M1140.0,931.3l-0.1,1.3M1101.9,805.3l2.1,1.6M1016.9,774.6l0.6,0.5M948.1,886.5l-0.7,0.8M1092.8,804.0l2.0,1.0M842.7,698.6l-1.2,0.2M1115.2,732.0l1.6,1.6M1066.3,894.2l-1.3,0.6M923.5,743.3l-1.5,1.1M1066.2,794.9l-1.2,0.8M1030.3,919.0l0.8,1.2M1027.7,763.3l0.6,0.2M1178.1,755.5l-0.6,0.5M928.1,832.5l-1.4,0.3M1002.0,760.5l-0.3,0.9M1066.5,876.5l-0.1,2.2M983.7,831.9l-1.0,0.5M1117.9,773.1l-0.4,1.2M848.2,782.4l0.1,2.9M1106.1,786.5l-1.9,1.8M1161.0,844.3l-1.3,1.6M1066.8,845.7l1.5,2.6M955.8,806.2l1.2,0.3M1031.2,835.2l-0.7,2.0M1145.2,878.8l0.6,0.2M1164.7,755.5l-0.0,2.7M1110.5,840.9l-0.1,1.5M921.5,842.4l0.3,1.6M1024.2,779.7l2.8,0.2M936.3,821.0l1.8,1.2M1079.5,785.5l-3.0,0.4M899.8,808.2l-0.8,1.1M1174.0,843.8l1.7,0.8M953.7,745.1l-1.7,1.6M1103.3,708.5l-1.1,1.9M1060.3,899.9l1.3,2.2M1063.7,801.0l-0.0,2.8M1025.8,821.4l2.2,0.4M1017.0,723.0l-1.0,1.1M1097.8,764.6l-0.5,1.3M931.1,851.3l-1.5,1.0M1059.9,765.8l-1.2,1.6M1109.7,892.3l1.1,0.3M1103.6,837.0l-0.1,0.8M1123.2,867.9l1.4,0.4M942.2,901.7l0.3,1.6M1063.2,724.4l-1.5,2.5M1124.1,912.9l-2.5,0.2M1103.9,902.2l-0.2,0.6M1166.1,772.1l-2.5,0.8M1145.4,826.2l-0.3,1.5M1027.6,865.2l0.3,1.8M1006.1,852.8l0.6,0.4M1164.6,849.0l2.5,1.6M1010.2,918.1l1.3,1.2M1092.5,785.0l0.3,1.0M989.4,805.8l-2.4,1.5M1166.0,782.9l1.3,1.2M1070.1,835.8l-0.3,0.6M922.1,777.3l-1.2,0.1M1092.6,849.3l-0.8,1.2M999.2,701.9l0.8,0.4M1115.0,765.5l-1.7,1.8M1016.7,888.5l2.1,0.6M1022.7,822.8l2.0,1.8M1080.1,867.7l-0.9,0.7M1006.0,816.3l-2.0,1.9M1137.2,859.8l0.6,1.2M1142.0,854.6l0.6,0.9M1109.8,770.5l1.8,2.2M1172.9,872.0l0.8,0.4M1036.6,898.9l-1.6,0.2M1172.1,758.9l2.2,1.2M1157.4,923.9l0.6,2.4M976.4,849.8l1.6,1.0M1131.5,745.9l-1.6,0.9M953.2,793.1l-0.0,0.6M995.2,791.8l-0.5,1.1M1058.8,824.8l-0.7,0.2M1156.5,885.7l-1.1,2.0M1010.0,914.7l-0.1,0.7M1101.1,813.0l0.3,2.1M865.2,822.7l0.0,2.7M983.8,909.3l-0.5,1.8M1123.1,871.0l1.5,0.2M1064.7,845.2l-0.7,2.5M882.9,896.8l-1.8,0.1M1098.3,753.0l0.6,1.8M1042.5,929.0l0.6,1.0M1089.1,770.6l1.2,2.6M1006.9,917.3l-0.7,1.9M825.9,767.6l-0.7,1.8M1138.4,859.4l-0.8,2.0M1141.5,858.6l2.2,1.3M1041.7,844.4l-0.8,0.5M988.0,839.3l-0.5,0.1M945.8,824.3l-0.3,0.6M928.5,721.3l-1.8,0.3M837.8,841.9l-1.2,0.7M1154.9,809.5l-2.6,0.1M1179.0,827.0l-1.0,2.0M945.8,779.9l1.3,2.5M1113.3,896.3l-1.6,1.2M1173.9,757.8l-0.4,0.7M1145.6,794.7l0.2,0.6M1015.0,878.0l-2.6,1.0M1136.0,809.3l0.0,1.6M1055.2,787.7l-0.6,1.5M975.9,758.0l-2.0,0.6M1083.7,730.1l0.1,0.8M1018.0,906.0l-0.0,1.1M1125.7,790.9l-1.0,1.6M964.2,874.1l1.4,2.0M1134.0,758.5l0.2,1.6M1007.0,843.4l1.1,2.3M952.6,914.9l-1.0,1.7M998.8,768.6l-2.0,0.5M1029.5,848.0l-1.1,1.2M1101.2,913.2l-1.4,1.9M1055.3,806.2l-1.4,1.9M952.4,899.7l-0.7,1.4M1056.7,883.6l1.7,1.7M936.3,728.9l0.3,1.2M1088.5,882.6l0.0,0.9M953.7,801.6l0.2,1.8M1047.2,888.2l-0.1,2.7M1103.2,799.7l2.9,0.2M1111.0,891.7l1.6,0.0M972.8,768.4l1.2,0.5M1087.0,770.2l1.6,0.7M1106.6,827.1l2.3,0.5M952.4,830.1l2.6,0.7M984.0,849.5l0.8,2.4M1020.9,838.2l-1.0,0.4M1042.3,810.0l1.5,2.1M1002.1,742.2l-1.2,1.0M1137.6,814.7l-1.5,0.9M1049.8,848.8l1.9,0.1M1115.0,823.9l-0.9,0.0M1179.8,802.5l-0.4,1.4M1068.6,733.2l0.1,1.5M1018.5,926.1l-1.1,0.2M930.9,817.9l-1.2,1.7M939.7,840.2l-2.2,0.6M978.7,787.8l1.7,1.0M1010.3,867.5l1.8,1.5M1029.3,794.6l0.7,0.1M1101.1,906.1l0.9,0.2M856.6,734.4l-1.2,0.2M1134.4,882.0l-1.6,0.1M1151.4,789.0l-0.0,1.4M1162.9,789.3l1.8,0.5M985.4,722.4l1.5,1.3M943.4,822.2l0.7,1.5M941.8,822.8l-0.1,2.8M949.8,801.3l0.2,1.4M996.0,856.1l0.6,0.8M1165.4,804.1l-0.3,1.2M1064.7,763.5l0.1,1.3M1006.2,828.0l-1.8,2.3M894.1,744.4l0.7,1.0M864.6,933.7l0.5,0.4M873.0,925.5l0.8,1.8M991.8,771.5l0.5,0.0M1140.2,803.2l-0.6,2.3M1161.7,847.2l0.5,1.1M1115.3,859.8l-0.9,2.0M1051.1,820.2l1.0,0.3M1043.4,845.2l-1.2,1.3M1076.0,768.5l1.8,0.7M1071.2,742.9l-0.9,1.1M987.4,774.1l-0.1,1.6M965.6,792.2l-1.9,0.8M1081.4,829.3l-0.8,1.2M1008.8,734.8l-1.7,0.5M1119.1,809.1l0.6,0.8M1099.3,827.0l-1.1,0.0M1115.3,844.1l-1.8,2.0M1013.4,726.7l0.7,0.9M1015.8,854.3l-0.5,0.8M1140.1,801.9l-1.8,0.5M1074.6,797.0l-2.1,1.2M1144.8,888.2l-1.3,0.9M1095.6,854.3l-0.0,0.9M1110.8,707.0l-0.1,1.3M1049.0,747.4l-1.9,1.6M1116.2,912.5l-0.5,0.2M1167.8,737.1l1.4,0.1M1038.9,863.5l2.7,1.2M1002.6,739.5l1.1,0.4M1098.2,911.4l-1.8,0.1M944.7,866.9l0.4,2.6M984.3,842.3l-0.7,0.3M1117.1,892.9l-1.9,2.2M1047.0,808.2l2.4,0.3M1016.1,766.9l0.8,1.6M1104.5,873.5l0.1,1.0M1113.7,801.8l1.1,2.4M1164.5,777.6l0.5,0.2M963.9,740.4l-0.3,0.6M1064.2,813.0l0.8,0.3M1105.9,842.2l1.0,2.7M1067.3,750.8l-0.3,0.8M1100.2,791.4l-0.1,0.8M1139.4,781.4l1.5,2.4M1134.6,781.9l0.5,1.8M1126.5,772.7l-2.5,0.6M1107.2,829.0l-0.8,0.0M1138.9,730.3l1.3,1.7M957.1,879.2l-1.0,1.3M1087.9,836.7l1.9,0.2M1090.2,805.9l1.0,2.3M977.6,797.9l1.0,0.6M1070.0,847.1l1.4,1.7M1033.6,775.5l0.8,0.4M1025.8,801.0l-1.5,0.0M1119.5,859.6l-1.2,1.0M979.9,775.1l-1.9,0.6M1101.1,788.2l-0.4,1.3M1063.1,864.3l1.0,2.5M971.0,823.8l0.4,0.6M1074.1,825.0l0.3,1.0M1022.5,837.0l0.6,1.6M923.7,796.0l0.1,1.8M1104.1,887.1l-0.5,1.7M1152.2,854.5l-1.9,1.3M1027.2,872.4l1.5,0.8M1063.0,907.2l-2.0,1.1M1175.6,911.8l2.4,0.5M934.3,759.2l0.3,1.7M839.6,723.9l-0.5,0.6M1004.3,745.7l-0.4,1.1M946.8,822.8l-2.4,0.8M1107.9,874.6l-1.3,0.8M1132.0,818.4l-1.5,1.2M1099.1,788.4l0.1,0.6M874.6,898.8l1.2,0.3M925.3,832.7l1.9,1.9M827.0,867.5l-1.3,2.1M916.2,714.1l2.7,0.6M1021.0,774.3l-0.4,0.8M1143.6,854.0l2.8,0.4M1114.6,829.9l1.0,0.3M1178.4,775.0l-1.5,1.0M964.2,803.8l1.4,2.6M1136.7,874.1l-1.0,0.6M1072.4,733.0l-1.6,0.1M1043.1,826.2l-2.2,0.7M1075.7,862.9l-1.5,2.0M993.4,825.3l1.4,1.0M1052.1,830.3l0.4,0.5M1005.4,771.2l-0.2,2.2M998.4,819.8l2.0,1.4M1168.5,891.5l-1.7,0.2M1071.9,827.9l0.9,2.3M985.4,880.0l2.0,1.9M884.4,769.2l1.9,1.2M1139.5,829.8l-0.2,0.5M867.4,910.1l0.9,1.4M1115.1,767.5l-1.3,0.5M1071.6,769.5l0.9,1.3M942.0,788.4l-0.4,1.0M1060.6,802.5l1.3,1.0M1064.9,863.8l0.6,0.6M905.2,771.6l-0.5,2.9M938.9,735.4l-1.5,2.1M944.1,790.4l0.9,0.8M1050.7,835.5l2.7,0.3M1018.9,919.6l2.1,1.2M1023.2,921.8l-0.1,1.1M1082.1,888.7l-1.2,1.2M1049.4,780.9l-0.4,0.3M1159.7,814.0l-1.5,0.5M998.0,898.4l-0.9,1.6M1065.7,755.0l-0.3,2.1M1067.3,861.9l0.2,2.5M1138.7,849.0l1.0,2.4M1104.8,748.2l2.6,1.5M1126.2,808.0l0.6,0.8" stroke="#b51d4e" stroke-width="2.4" opacity=".75"/>
<path d="M1025.9,658.4l0.0,1.7M1096.8,729.3l0.7,1.3M1034.4,664.2l-0.7,0.8M1059.5,696.9l-2.1,1.8M1118.1,606.4l-0.7,0.4M1104.0,681.9l-0.8,1.6M1016.3,671.0l-1.9,0.3M1029.4,711.5l-0.8,0.9M1044.9,721.7l-0.9,0.3M1108.7,625.0l-0.8,0.5M1106.3,682.7l-1.5,0.4M1086.9,619.5l-0.9,1.0M1082.3,607.3l2.7,1.2M1024.8,671.3l-1.2,1.7M1062.2,632.4l-0.1,1.9M1129.0,695.4l-0.2,1.0M1082.6,648.8l-2.4,1.7M1039.8,608.2l-0.6,1.3M1061.6,622.1l-2.1,0.4M1141.6,670.0l0.3,0.6M1100.2,590.4l0.8,0.4M1123.9,635.8l-1.7,1.3M1050.8,746.9l1.5,2.1M1083.3,671.5l1.1,1.6M1145.9,699.0l1.1,0.6M1051.4,694.9l-2.1,0.7M1044.0,607.4l0.3,0.9M1034.4,617.2l-0.6,2.1M1081.7,682.6l-0.4,2.0M999.6,609.6l-0.1,0.9M1093.2,617.1l1.1,0.9M1089.6,664.7l-2.1,1.6M1095.6,667.4l-0.3,0.5M1107.6,676.5l-0.8,1.0M997.5,758.9l0.2,2.6M1026.2,686.9l2.4,1.4M1051.0,597.2l0.1,2.5M948.6,702.7l2.0,1.0M1100.2,673.0l1.1,0.4M1110.4,709.3l1.8,1.5M1034.8,715.7l2.3,1.6M1053.3,606.0l-1.0,1.1M1077.2,607.2l-1.2,0.8M1077.2,645.6l-0.7,1.2M1144.2,678.5l0.6,0.4M1075.4,685.5l-1.6,2.1M1119.5,681.1l-1.0,1.4M1089.5,648.9l-1.4,0.2M1094.0,581.0l0.4,0.6M1001.6,593.3l0.4,1.0M1086.5,633.8l0.4,0.9M996.9,720.4l-1.5,2.6M1131.9,657.9l0.6,0.0M1049.6,701.5l2.2,0.2M956.7,675.2l1.7,1.1M1112.5,679.4l0.2,2.0M1077.7,600.4l-0.8,0.7M1098.5,704.6l-0.8,1.3M1014.8,696.0l-0.4,2.4M1099.5,595.6l1.8,1.3M1021.9,647.7l1.1,0.6M1001.4,742.2l-0.5,2.9M1067.3,695.7l2.1,1.7M1111.1,602.8l0.9,0.7M1063.2,654.6l1.9,0.7M1024.2,579.5l1.0,1.8M1061.7,760.9l0.2,1.3M1054.5,663.0l1.0,2.2M1140.2,666.4l-1.4,0.3M1052.5,616.3l-0.8,0.5M1114.2,626.3l0.7,0.8M1004.3,617.6l0.1,1.3M1052.2,650.1l-0.6,1.1M1119.8,648.9l1.7,0.5M1064.3,615.1l-2.5,0.2M1037.8,703.3l0.6,1.8M1039.3,665.2l-2.7,0.1M1038.6,677.8l0.2,2.5M1040.8,654.4l0.7,0.3M1118.6,592.0l2.1,1.7M1134.3,640.9l-1.5,0.5M1115.2,695.5l-1.0,0.1M964.4,723.4l-1.7,2.4M999.2,598.4l-2.2,0.3M981.2,720.7l-0.0,0.5M1008.5,674.6l-2.6,1.3M1012.2,592.6l0.5,1.0M1151.2,742.5l1.4,0.5M1067.1,715.7l-0.0,1.2M1073.1,581.4l2.2,0.7M1143.7,687.0l-0.6,2.0M1090.9,661.4l-0.9,1.4M1021.2,606.8l-0.2,0.9M1054.2,693.8l-0.4,1.0M1102.6,579.2l0.2,1.0M1007.0,612.8l2.6,0.0M1105.6,669.2l1.0,2.7M977.6,661.3l1.5,1.2M1068.4,635.6l2.2,1.9M1039.2,635.7l-1.0,0.6M1161.1,653.7l-1.3,1.3M1075.6,610.6l-0.9,1.3M1103.1,631.7l-1.4,0.3M1103.5,577.7l0.9,0.2M1111.4,632.0l-1.3,2.1M1116.7,614.3l-0.6,0.1M1114.2,627.3l-0.5,1.0M1020.5,751.1l-0.1,2.4M1101.1,640.1l0.0,1.2M1027.9,668.1l1.5,0.0M1151.0,691.8l-1.9,1.8M1024.6,619.0l0.5,2.5M1132.2,589.8l1.0,0.9M1076.4,670.3l1.0,0.2M1132.7,658.0l0.8,0.5M1109.9,598.3l-0.8,2.7M1021.2,662.0l0.5,0.3M982.8,711.1l0.6,1.2M1154.3,606.3l-1.5,0.2M1092.3,775.5l1.2,0.8M1040.3,706.7l-1.1,0.7M1067.3,658.9l-0.0,1.0M1086.8,737.0l-1.0,2.2M1105.7,666.8l0.9,1.5M1053.4,637.8l0.0,2.9M1085.3,666.7l-2.1,1.9M1095.9,665.1l0.3,1.2M1014.8,628.8l0.6,1.3M1138.7,640.8l2.0,0.8M1036.8,613.0l-1.3,0.4M1041.4,732.6l-0.6,0.2M958.2,661.9l-0.8,0.5M1017.4,597.1l1.7,0.8M1009.5,614.3l-0.4,0.8M913.2,653.7l-2.2,1.4M1020.1,685.8l2.5,0.5M1055.6,672.3l-2.3,0.9M1078.9,606.2l1.7,0.4M992.4,607.0l-2.7,0.5M1072.3,738.7l-0.4,1.5M952.8,724.6l-1.3,0.5M1114.9,638.7l-1.0,0.2M1038.9,707.4l-0.7,1.4M1127.1,668.3l0.1,0.8M1080.3,602.6l0.1,2.4M925.3,685.8l-1.0,1.1M1085.7,605.2l-2.1,0.5M1027.3,695.6l0.6,0.8M1016.3,597.6l1.7,0.7M1036.9,634.0l0.5,0.5M1079.6,591.6l0.7,1.1M1093.3,591.9l-0.6,0.2M1096.8,630.8l1.1,1.0M1010.2,631.4l0.7,0.5M1012.9,651.6l0.3,1.0M1102.3,628.9l-1.1,2.5M1159.2,683.2l-0.4,0.9M1086.7,639.3l-0.1,0.5M1061.5,678.4l-1.4,0.1M949.2,667.5l-0.7,0.4M965.1,688.1l-0.7,0.3M1127.5,634.7l-1.7,0.8M1091.9,660.1l0.5,0.0M1110.6,622.4l-1.5,0.9M1054.1,655.1l1.1,0.8M1017.8,694.4l-0.1,1.9M1076.9,716.5l-1.6,1.5M1125.4,657.0l1.0,0.4M1067.0,621.2l0.9,2.0M1096.6,638.6l0.3,1.0M1034.8,654.0l-0.2,2.5M1087.7,612.5l-2.3,1.6M1066.3,719.8l1.1,1.0M1024.0,657.6l-0.8,1.7M1087.2,596.7l2.4,1.6M1063.6,619.4l0.3,0.6M1070.5,674.3l0.9,2.8M1060.8,683.5l-0.6,2.9M1043.8,660.0l1.5,0.2M1047.9,733.0l-1.4,0.4M1061.4,666.8l-0.1,0.6M1017.4,609.5l-2.1,0.2M1049.5,765.3l-1.1,0.6M1071.2,607.2l0.8,1.0M1118.8,678.5l1.3,1.8M1005.6,727.1l0.9,0.7M1035.7,597.6l-1.9,2.2M1115.1,640.7l-0.7,2.3M1122.1,654.5l1.4,1.5M1127.1,650.1l0.3,0.7M1071.3,610.9l1.3,0.2M1121.8,607.4l2.4,1.3M1062.2,724.0l1.3,0.6M1064.6,610.5l-1.8,1.3M1041.8,714.1l-0.8,0.7M1066.6,597.2l0.7,2.7M1097.0,595.6l1.9,0.6M1168.7,652.5l1.0,1.6M898.9,687.1l-1.2,0.8M1158.7,695.2l1.9,0.8M1079.1,659.8l-1.8,0.6M1031.5,680.5l-0.1,1.5M1122.7,615.0l0.6,1.2M1115.1,639.5l-1.5,1.2M1138.3,606.3l-0.3,1.3M1087.0,635.6l-0.2,0.6M1017.6,657.2l2.1,0.8M1066.6,631.8l-0.9,1.6M1070.8,590.8l-1.5,1.6M1098.8,676.9l-1.0,0.5M1083.3,644.6l2.9,0.1M928.5,577.7l0.7,2.0M1146.3,627.3l0.9,0.1M1074.1,662.8l-2.2,1.6M1027.5,604.3l-0.7,0.3M1102.8,658.2l-2.2,0.5M1033.3,614.6l1.6,0.6M1088.0,636.6l0.3,0.6M1088.3,675.4l3.0,0.1M1039.7,658.0l-0.1,0.8M1099.6,633.1l-0.3,0.7M1126.9,606.5l-0.3,0.8M1006.7,592.4l-0.1,1.1M1002.2,745.8l2.9,0.0M1039.0,652.2l1.5,2.6M1000.6,734.0l0.7,1.6M978.4,728.3l-1.0,2.0M1017.2,631.6l0.1,0.7M1101.8,734.1l0.2,2.2M1045.9,722.1l-1.8,0.6M1037.3,603.0l-2.0,0.1M1132.3,608.0l-0.7,0.5M1107.1,586.3l0.4,1.3M1086.4,655.1l2.2,1.0M1016.4,592.3l-0.8,0.2M1112.2,604.5l-1.8,0.4M1048.6,615.3l-0.4,0.8M1138.6,645.7l-1.5,0.1M1013.4,619.2l2.0,0.2M1050.2,757.3l-2.2,0.0M1040.4,700.5l0.8,0.3M919.6,727.5l1.0,1.3M1164.7,585.1l0.5,1.0M1012.3,654.8l0.8,1.0M1118.4,712.4l1.1,0.3M1086.2,769.7l1.2,0.6M1124.9,640.1l-0.4,0.4M1033.3,683.8l-1.8,1.1M957.2,679.6l-0.9,0.5M1111.0,672.8l-0.9,1.1M1164.2,704.9l0.5,0.0M1067.2,683.6l0.9,1.3M1133.7,641.2l0.2,1.0M1088.7,705.3l0.8,0.2M1040.2,721.2l0.5,0.2M1066.0,749.5l0.4,0.3M1079.1,650.4l-0.2,1.3M1084.8,596.4l0.7,0.7M1077.7,738.6l-0.7,1.1M1117.6,681.5l0.9,1.7M1123.6,724.6l-1.9,0.9M1124.3,618.3l1.2,2.2M999.8,732.1l-0.8,0.7M1110.9,720.9l0.9,1.7M1079.9,603.1l1.0,0.0M1030.0,666.7l2.0,1.2M1007.1,743.8l-2.1,1.6M1103.0,647.5l1.2,0.6M1036.2,659.1l-1.9,1.4M1104.2,641.7l1.2,1.7M1021.5,675.9l1.7,1.4M1004.6,627.3l2.4,1.7M1049.8,657.1l-0.9,0.2M1103.4,600.4l0.6,0.9M973.5,776.8l0.1,0.7M1063.1,699.1l-2.7,1.3M1158.5,610.3l-1.9,0.7M1067.7,620.2l-1.3,1.4M953.4,717.2l-0.7,1.6M1017.1,731.9l0.2,0.6M1048.8,579.3l0.7,2.3M1014.6,702.5l2.4,0.9M1113.8,636.9l0.3,0.6M1122.7,589.3l-1.5,1.1M1059.2,683.4l-0.7,0.3M1082.1,684.9l0.7,0.5M991.4,638.1l2.9,0.4M1142.3,613.1l-1.3,0.0M1024.0,765.7l0.9,2.1M1101.9,620.0l-0.7,0.0M919.1,705.2l-2.1,1.9M1027.4,661.0l1.3,0.4M1088.9,649.9l1.8,0.0M1032.7,733.8l-0.7,0.6M1032.5,713.3l-0.7,2.3M1003.2,736.4l-0.6,1.0M1051.2,588.1l1.7,0.6M1030.4,682.0l0.0,2.5M1005.7,661.6l1.6,0.8M1114.4,684.9l-2.4,1.0M952.8,632.8l0.8,0.5M1116.8,632.4l1.1,0.1M1043.7,610.1l2.1,0.0M1046.6,634.1l1.1,1.0M1066.2,698.5l2.0,0.3M1149.9,673.5l-2.0,0.2M1067.4,691.6l0.8,2.2M1065.8,581.2l-0.8,0.8M1009.2,751.7l-1.1,0.1M1045.7,636.2l0.8,0.8M1097.1,625.6l-0.9,1.3M1119.8,646.5l0.2,0.9M1065.0,575.5l1.6,2.4M1147.4,598.6l-0.6,1.3M1039.1,675.1l0.6,2.6M1055.5,600.2l-0.8,1.4M1071.5,632.8l1.0,1.6M1001.9,713.3l-1.0,0.5M1139.8,593.2l0.7,1.0M939.7,624.4l2.3,2.0M997.7,657.9l-0.4,0.4M1154.2,655.8l1.1,0.3M1069.7,604.3l1.8,0.2M1053.7,696.8l1.1,2.7M1074.6,703.0l-1.8,1.8M1053.7,608.2l1.2,1.9M1046.2,603.0l1.9,0.5M1046.9,636.9l0.2,0.5M1066.7,642.0l1.0,2.5M992.6,784.0l0.2,2.4" stroke="#5c5a4e" stroke-width="2.3" opacity=".75"/>
<path d="M1051.3,598.0l-0.1,2.0M967.9,612.1l-0.6,2.1M1060.0,676.7l-1.0,1.7M1075.2,659.9l-1.5,0.1M1104.9,632.0l-0.3,0.8M948.0,741.0l0.6,1.2M1044.1,703.7l-0.1,0.7M1083.4,618.2l1.0,0.3M1040.1,580.7l2.7,0.9M1047.2,663.9l-0.0,1.0M990.3,719.7l0.6,0.4M1079.8,689.5l2.1,2.1M1028.0,632.9l0.5,0.2M938.3,694.4l1.3,1.0M1104.6,658.3l0.1,0.6M1007.5,584.0l-0.0,0.9M1026.0,651.0l-0.4,0.5M1092.8,609.6l0.2,1.4M1024.4,647.5l1.4,2.1M1066.9,632.0l-0.2,2.4M1034.9,687.1l-0.7,2.4M1093.0,657.5l-0.1,2.4M1024.4,586.7l-0.7,0.0M1152.0,647.4l-0.7,1.4M1095.1,674.9l-1.3,0.5M1070.2,681.9l-0.9,0.1M1059.3,632.5l1.6,0.2M1144.2,607.1l1.5,2.3M1015.8,726.2l-1.6,1.0M1133.1,592.2l-0.3,1.3M1138.2,651.5l0.4,0.5M1086.5,593.8l1.4,1.3M1102.2,643.8l-0.1,0.7M1058.7,579.3l-1.3,1.2M1007.9,660.0l2.0,0.2M992.0,722.8l2.3,0.6M1014.2,618.2l-1.8,0.8M1070.6,647.2l1.0,0.1M1012.9,697.3l1.6,0.9M955.6,734.2l-0.0,0.6M1109.6,640.5l0.1,0.9M1073.1,668.0l-0.7,1.0M1020.5,718.3l0.4,0.6M1000.3,600.6l-0.5,0.3M970.0,606.2l-1.5,0.6M1008.8,649.2l-0.0,2.4M1016.5,729.4l-0.7,0.2M1000.1,807.8l-1.4,1.9M1142.3,596.5l2.4,0.8M1064.5,600.2l-2.8,1.0M1074.5,697.7l2.2,0.9M1021.9,693.3l0.1,1.8M1078.1,634.0l-0.6,2.3M1094.8,608.2l-0.5,0.3M1017.3,731.4l1.0,0.8M1123.8,627.4l-1.4,1.7M1070.0,676.1l0.5,0.2M1071.8,678.6l0.5,2.0M1081.8,697.5l2.5,1.1M1010.7,631.9l-1.9,0.9M1144.5,697.6l-0.9,0.6M1078.1,699.2l0.4,0.4M1154.8,590.5l-1.6,1.5M1032.9,628.8l-0.4,0.5M1001.5,625.1l1.6,2.1M1129.7,635.6l0.6,2.6M1035.6,709.1l-2.0,1.5M1137.8,618.2l-0.7,0.3M1152.9,649.0l2.6,0.3M1001.4,766.0l-0.8,0.7M986.2,784.7l-0.6,1.4M1056.7,589.7l-0.5,0.3M996.5,689.4l-1.8,0.9M1119.9,642.9l1.3,1.4M1068.4,647.5l-2.1,0.8M1038.4,660.0l2.4,1.0M1013.4,697.1l-1.1,0.3M1095.8,595.9l0.5,0.4M1002.5,678.3l2.0,1.5M1044.4,621.5l-0.7,0.2M978.0,762.6l-2.0,0.0M1068.0,589.0l0.6,1.0M1042.2,635.5l-0.1,2.9M1109.7,639.5l-0.9,0.4M1108.3,625.3l0.5,0.3M1079.7,631.7l1.2,0.4M981.9,603.4l1.7,1.3M1099.4,605.1l2.2,2.1M1089.4,744.8l-1.3,0.3M1048.7,763.6l0.0,0.6M1062.2,709.6l-0.2,1.3M1022.4,653.9l0.3,1.1M1065.8,591.2l2.4,0.0M1019.0,622.1l1.2,0.0M1074.0,616.0l2.0,1.7M1009.6,702.6l1.4,0.6M1077.7,638.6l-0.2,1.3M1036.8,708.6l-1.5,0.6M1130.0,687.4l1.2,2.4M1092.6,704.8l1.3,1.9M1131.4,768.8l0.7,1.1M984.2,744.6l0.0,0.8M948.3,757.7l0.7,1.9M1075.4,580.5l0.6,2.9M1022.0,646.5l-0.1,0.6M1096.3,653.3l-1.0,2.3M1023.5,694.2l-0.7,0.5M1117.9,610.9l-1.2,0.6M1014.0,626.8l0.5,1.2M1113.7,612.4l1.2,0.6M966.9,730.5l1.1,0.8M1068.1,708.0l0.0,1.0M1079.7,624.0l-0.7,1.8M930.3,685.9l1.6,0.7M1057.5,717.8l-0.9,0.4M1106.1,575.8l0.7,0.3M1083.5,679.4l-0.7,1.7M953.0,709.4l2.2,0.2M1014.0,701.8l0.6,0.4M1086.4,617.3l2.2,1.3M1135.2,611.9l0.4,1.5M974.3,678.0l-2.8,0.4M1099.5,589.9l-1.3,1.2M1009.8,646.0l0.5,2.0M1024.7,607.5l2.8,1.0M1103.2,663.4l1.3,1.8M1046.1,668.1l-0.2,0.6M1046.1,686.9l-0.5,0.7M1070.1,615.2l1.1,1.3M1110.3,577.9l-1.7,1.4M1078.6,675.7l0.9,0.7M1052.2,737.5l-0.7,0.9M1073.7,707.5l-2.5,0.6M1122.1,628.8l2.2,1.3M1046.2,577.2l-1.8,0.3M1017.7,770.3l1.1,2.4M1137.7,653.3l0.3,0.8M1040.0,625.0l1.1,2.1M957.5,652.1l-0.3,2.8M1080.4,644.3l-1.5,0.9M1075.6,685.6l-0.5,0.7M1110.4,667.7l1.5,1.9M1019.5,602.3l0.2,0.6M979.4,678.4l-2.0,1.5M1078.5,686.3l0.4,1.3M1118.0,699.9l2.3,0.3M1090.1,686.4l-1.1,2.6M1112.2,689.9l-0.6,0.2M1067.0,714.1l-1.1,2.6M1029.6,678.0l-2.1,2.0M1056.6,603.6l0.6,2.8M992.7,697.2l1.4,1.5M1005.1,640.3l0.4,0.3M1051.0,715.7l2.0,1.4M1045.6,648.6l-1.0,0.2M1095.1,669.6l0.5,0.5M1095.2,593.6l0.2,0.8M1063.4,646.3l0.5,0.8M1021.6,767.0l0.6,1.0M939.9,690.8l0.9,0.7M1178.9,629.5l0.8,2.3M1095.4,693.5l0.7,0.6M1026.6,590.0l1.9,1.2M1079.6,632.1l1.7,2.2M1039.2,677.1l0.3,0.6M1146.4,611.0l-1.5,2.2M1073.8,648.0l1.1,1.7M1019.8,631.0l0.8,1.6M1009.4,665.8l2.2,1.9M1091.6,611.4l-1.6,2.1M1041.9,681.1l-1.0,1.1M1030.6,730.3l0.5,0.4M1056.7,585.9l-1.2,2.5M1074.6,628.9l-2.0,0.6M1117.0,614.0l0.7,1.9M1104.0,658.4l2.2,1.1M1089.6,692.6l-1.3,1.0M1139.9,660.0l1.4,0.6M1115.4,611.0l0.7,0.2M1079.2,636.0l1.1,2.5M1017.4,579.1l0.2,0.7M980.1,702.3l-0.0,0.6M1032.4,636.7l1.3,0.3M1139.4,595.9l-0.2,1.2M993.2,601.4l1.7,0.9M998.9,594.6l0.0,2.1M973.0,722.9l-0.9,1.2M1010.6,645.8l0.5,1.7M1098.2,655.8l-0.9,0.7M1072.6,684.8l0.6,1.5M1102.1,588.7l2.3,0.3M1121.5,660.6l-0.2,1.7M1036.0,688.3l-0.2,1.8M1158.6,631.2l0.6,0.7M1027.1,666.1l1.5,1.5M1125.6,647.1l2.6,0.6M1098.5,651.5l-1.0,0.0M932.2,767.0l-1.3,0.7M1046.2,618.5l-0.7,0.1M1151.8,677.7l1.3,2.0M1029.1,748.5l-1.5,1.3M1109.5,716.7l2.0,1.5M1153.3,678.4l-2.4,1.3M1066.5,636.0l2.8,0.5M996.7,659.7l-2.0,0.1M1054.2,622.5l-0.0,2.0M1024.6,661.7l-0.5,1.6M1015.1,739.8l-1.1,1.0M1088.8,593.3l-1.9,1.6M1005.9,742.7l0.5,1.1M1021.7,623.0l-0.9,0.1M1079.5,603.8l0.1,0.7M1025.8,606.5l-0.6,1.6M1037.9,585.2l0.2,1.2M1087.4,578.9l-1.1,0.8M1136.3,680.2l-2.2,1.8M1031.0,622.9l0.6,0.3M1027.9,633.8l-1.7,0.9M1104.7,628.6l0.1,0.6M1060.4,648.9l-1.0,1.0M1087.2,636.7l-1.7,0.6M1008.8,640.8l-1.9,0.8M1099.5,708.6l2.4,0.8M1072.4,665.4l0.4,0.5M1001.1,631.4l2.5,0.0M1084.6,742.6l-2.2,0.6M1097.1,645.7l-2.4,0.6M1096.1,772.7l-0.8,0.5M1016.7,615.2l0.7,1.7M1090.3,625.2l0.5,0.1M1012.6,725.2l0.5,1.4M1098.9,665.1l-0.9,1.1M1084.1,575.5l2.3,0.7M1125.9,578.8l0.2,1.2M1081.5,628.6l1.7,0.5M1131.7,760.7l1.5,2.4M932.3,764.4l2.2,1.6M896.5,692.1l1.4,0.1M1085.4,693.4l1.7,2.3M1079.2,677.2l1.7,2.4M1132.3,716.6l0.9,1.8M1089.2,669.7l1.7,0.4M1085.5,659.7l1.0,1.3M1102.4,632.3l0.5,0.2M1091.5,716.4l0.7,1.9M1077.8,677.1l-1.4,0.2M1050.3,719.8l-1.2,2.0M1063.8,594.9l1.0,1.7M1006.8,620.4l0.3,2.8M1049.1,662.2l0.6,0.3M1079.4,701.7l-0.7,1.7M980.4,794.5l-0.5,0.0M1064.5,684.7l-2.1,1.6M1093.5,668.9l-0.5,0.5M1094.5,606.2l0.2,1.9M1033.6,605.5l-0.7,0.1M1097.4,807.8l0.7,1.0M1037.9,602.5l-0.5,0.7M995.9,675.7l-1.3,2.4M1054.4,625.5l0.4,1.5" stroke="#c23a94" stroke-width="2.3" opacity=".8"/>
<path d="M990.0,888.4l0.6,0.5M1009.0,728.0l-0.4,1.5M936.2,794.7l0.4,0.5M1079.3,791.7l1.8,0.8M983.0,875.2l1.4,1.4M947.5,583.9l1.6,0.3M1063.7,887.6l-0.0,1.1M1036.8,885.7l0.6,0.5M919.5,918.8l-1.7,0.7M963.4,696.3l0.6,1.3M970.0,852.5l1.3,0.5M1133.7,739.7l0.5,0.1M1124.3,816.7l0.6,0.7M1023.6,681.8l0.0,0.7M986.3,784.1l-1.9,0.3M1065.9,753.0l-0.8,0.2M838.6,587.4l-1.0,0.3M903.8,578.9l-0.6,0.2M1023.4,783.2l-0.7,1.5M980.2,787.6l-0.3,0.4M1035.9,693.4l-0.8,2.1M976.7,657.5l-0.0,1.0M1053.8,861.0l0.4,0.9M1127.1,858.1l-1.3,1.6M817.2,610.6l-1.0,0.3M1163.0,579.6l0.6,0.1M1104.0,745.3l-1.1,0.1M924.1,770.1l0.7,0.3M1134.6,762.8l1.2,1.3M952.2,626.7l1.7,0.0M926.1,667.4l-1.0,1.3M1154.1,765.1l1.6,0.4M918.2,643.6l1.2,0.1M1027.8,715.2l-0.8,0.5M914.6,657.2l0.6,1.3M1092.7,891.3l1.2,0.5M1148.8,839.3l0.4,1.3M995.3,732.8l1.1,1.0M1093.2,792.9l-2.0,0.1M1175.3,718.2l-0.4,0.2M1057.9,849.5l-0.6,0.8M1071.0,883.9l0.1,0.7M926.3,613.1l-1.1,0.3M1141.0,655.9l0.3,0.5M1067.5,795.1l-0.3,0.5M1044.7,720.7l0.4,0.5M815.5,674.9l0.7,1.4M913.5,810.2l-0.3,1.5M1094.3,808.7l-2.0,0.3M1078.7,819.1l1.1,0.5M1092.8,577.6l-1.0,1.1M1043.1,689.9l0.5,0.6M1046.9,786.9l1.3,1.8M1061.5,823.4l-1.4,0.8M1099.2,640.3l-0.2,2.1M1017.3,837.5l1.2,1.5M843.1,635.8l0.6,0.7M973.5,726.6l0.1,0.3M1067.6,661.5l1.6,0.7M835.0,602.0l-1.2,1.4M996.1,632.9l-1.6,0.8M1058.4,834.5l-0.7,0.6M1063.2,805.8l-0.8,1.9M850.1,575.8l0.5,0.1M1123.4,776.3l1.6,0.0M1175.3,728.8l-0.0,1.2M1089.6,756.6l0.5,0.7M926.8,603.2l-0.2,0.5M1175.4,799.4l-0.5,2.1M1029.2,735.9l1.8,1.1M1128.9,774.9l-0.9,1.4M863.1,689.8l-0.9,1.0M1015.7,915.5l-0.5,0.5M1013.6,764.1l1.5,0.9M912.4,622.4l0.6,0.4M1163.9,633.5l-1.8,1.0M1025.7,649.3l-0.2,0.8M1018.0,795.7l0.2,1.9M1005.8,696.7l1.3,0.7M972.8,692.4l-1.3,0.8M959.9,597.2l1.2,0.1M1085.6,615.9l-0.2,1.4M1118.2,681.0l0.9,0.1M956.0,777.2l-1.3,1.6M1110.3,759.6l1.5,0.6M989.3,767.7l0.4,1.0M934.0,674.9l0.5,0.3M912.7,748.5l-0.5,0.2M1172.4,889.4l0.4,0.4M1154.8,579.8l0.3,0.4M1104.6,703.7l-0.2,2.1M1142.3,782.6l-0.8,1.7M952.8,829.4l-0.4,0.3M1138.9,778.9l-1.5,0.9M1053.2,726.5l-0.4,1.4M999.0,697.0l-0.0,0.4M1103.2,891.4l-0.1,0.4M1089.9,910.1l0.5,0.2M1024.2,697.3l1.7,1.2M1169.0,732.6l-1.8,0.7M990.5,687.7l0.3,0.3M980.6,873.0l1.4,1.0M1150.2,641.4l0.6,0.6M910.3,718.5l1.4,0.3M939.2,710.0l0.2,0.7M1130.0,671.8l1.5,0.9M852.5,598.5l-0.2,2.1M1077.4,866.9l2.0,0.8M948.4,720.2l0.7,0.8M1043.1,678.5l1.1,0.0M1108.5,781.8l-1.9,0.1M955.7,728.5l0.7,0.5M897.9,760.0l-0.3,0.8M1146.8,792.9l-0.5,0.0M984.5,682.8l-0.8,0.9M853.7,601.1l1.6,0.6M1034.2,724.6l0.1,0.6M1164.1,717.2l0.6,0.5M1136.5,783.1l0.8,1.1M1108.9,591.0l-2.0,0.6M998.8,861.8l2.1,0.5M1077.8,742.5l1.5,1.1M1094.3,852.4l0.2,1.6M1055.9,825.6l-1.0,1.2M953.0,591.1l0.5,0.3M897.8,730.9l1.6,0.8M997.1,620.9l0.4,0.7M1092.3,713.6l-0.2,2.0M1063.7,796.9l-1.2,0.9M1114.2,655.7l-0.3,0.5M1022.0,578.8l-0.1,0.4M1157.3,704.5l-0.8,0.3M1107.9,778.1l0.1,0.8M1060.7,838.1l0.6,0.6M1111.5,705.0l1.4,1.1M904.6,687.4l0.2,0.6M1140.4,691.6l0.9,0.4M951.6,807.1l-0.5,1.0M997.2,842.7l-0.3,1.3M813.1,877.0l-1.0,0.2M1060.9,746.7l0.6,0.5M1067.2,789.6l-1.2,0.1M1092.1,708.2l1.3,0.5M953.2,790.0l0.4,0.3M988.1,792.6l-0.9,0.9M1138.6,809.7l1.2,1.1M945.7,645.5l0.1,1.4M958.1,605.7l0.5,0.7M910.4,695.1l-0.7,1.1M1100.3,897.7l0.7,1.6M998.0,682.9l0.4,0.2M923.4,784.3l-1.3,0.5M949.1,788.7l0.2,0.3M1017.3,767.5l0.0,1.7M922.7,596.3l-0.3,0.8M1038.6,770.9l1.2,0.0M1097.3,822.3l-0.7,0.8M1092.7,727.8l-1.6,0.1M1007.0,746.8l-0.9,1.6M1082.5,804.9l-0.9,1.4M1104.5,883.7l-0.7,2.1M988.7,693.8l0.4,1.6M1151.6,733.0l-0.6,2.0M948.2,756.8l0.4,0.6M978.0,653.2l-1.4,1.3M1144.4,758.4l-1.3,1.3M814.3,595.9l0.5,1.3M860.2,598.7l1.2,0.3M1021.5,693.2l-0.3,0.2M1020.1,654.8l0.4,0.5M1117.1,704.3l-0.8,1.7M886.7,688.9l1.0,1.4M1118.1,658.4l2.2,0.3M1145.9,767.9l-1.1,0.6M1040.0,788.1l1.1,0.9M1119.3,809.3l0.7,0.5M1176.2,759.7l1.9,0.8M1113.6,730.4l0.4,0.6M981.8,616.9l0.7,1.0M1159.4,598.3l0.2,1.1M943.4,761.4l0.5,0.8M884.7,575.7l0.2,0.8M838.2,755.9l-1.1,0.7M1027.9,730.7l-1.1,0.4M971.3,716.7l0.6,1.0M874.8,915.1l1.5,1.6M1064.7,679.1l0.6,0.5M965.8,582.7l-0.7,0.1M1160.5,747.6l-0.1,0.6M1100.0,759.6l-0.0,0.7M1040.3,611.5l-0.9,0.3M901.8,727.2l-0.4,0.4M1143.8,647.8l0.5,1.1M1133.4,745.1l-0.6,1.0M1169.8,882.1l-0.8,0.8M1069.8,798.3l-1.7,1.3M1021.5,849.5l1.4,0.5M1092.2,750.6l0.2,0.9M943.0,656.8l-0.7,1.3M1175.2,733.0l0.4,1.8M1095.6,762.5l0.3,1.0M926.5,702.7l1.3,1.6M1117.9,715.3l-1.2,0.9M848.3,607.3l0.8,0.7M1087.4,784.8l-1.1,0.5M1066.6,720.3l-1.2,1.4M1063.0,746.0l1.7,0.7M1084.8,737.9l0.5,0.4M941.1,760.2l0.5,0.5M1077.0,759.8l0.3,0.9M1164.9,774.7l-0.1,0.6M991.3,651.6l1.0,0.3M980.1,640.3l0.5,1.6M971.3,707.3l0.8,1.9M1170.7,714.7l-1.1,1.7M1059.3,824.9l1.2,1.1M958.2,610.8l0.4,0.2M912.3,637.9l-0.9,1.0M865.0,722.5l-0.9,1.2M1024.6,722.4l1.7,1.3M1168.6,692.2l1.4,0.7M1071.6,723.5l-1.5,0.5M959.7,803.0l-0.3,2.1M1054.9,649.6l-1.1,0.1M833.0,645.3l0.5,0.6M1026.8,778.6l0.1,1.8M1073.0,925.2l-0.1,0.6M1109.3,630.1l-0.2,1.4M1040.7,823.7l0.4,0.1M1076.6,803.2l-0.9,0.0M1087.9,734.0l0.2,0.6M851.5,629.6l-1.0,0.2M1060.0,638.2l-2.0,0.7M1079.8,752.2l-1.5,0.6M1037.1,775.9l-1.6,0.3M946.1,828.0l-1.2,0.7M857.8,592.3l0.4,0.7M969.5,646.3l1.4,0.1M835.2,656.9l0.1,0.8M1078.1,844.8l-1.0,0.4M870.2,643.1l-0.8,1.3M1070.1,839.2l-1.5,1.6M933.4,757.8l1.0,0.7M1097.8,822.7l1.1,0.2M890.2,686.4l-0.5,1.1M1154.2,694.5l1.3,0.6M908.2,631.9l0.7,0.2M1087.4,803.2l-1.7,1.3M981.8,883.3l2.0,0.1M1077.0,781.4l0.7,0.9M1075.6,823.1l-0.4,0.2M919.5,613.3l0.5,1.5M1153.2,774.7l1.1,0.8M1078.4,658.0l0.5,0.3M1029.6,819.6l0.8,0.1M1069.3,822.9l0.4,0.9M1077.9,710.8l-1.8,0.4M1112.6,853.5l-2.0,0.2M1087.8,916.3l1.3,0.3M1095.6,732.5l0.8,0.7M895.6,750.4l-0.7,1.2M1063.7,830.8l-1.8,0.3M837.3,662.8l1.3,1.7M1033.2,745.5l-1.0,0.5M1008.8,777.9l-1.6,0.5M1012.8,775.2l0.2,1.3M1009.6,708.2l0.1,1.5M1123.1,695.2l0.6,2.1M1059.2,751.6l0.2,0.9M903.9,621.4l0.2,1.5M873.4,584.8l-0.3,1.0M979.1,704.3l1.6,0.1M1156.4,867.5l-0.1,1.3M1085.8,638.2l-0.4,0.8M950.7,765.0l-0.0,2.0M1033.6,659.9l0.2,0.4M847.6,660.2l0.0,0.4M1103.2,670.0l1.5,0.2M1045.0,825.5l0.9,1.2M960.5,780.1l0.2,0.7M973.3,620.2l0.7,0.1M999.2,807.3l0.3,1.9M1096.8,669.4l0.1,1.2M1098.4,630.0l0.2,2.0M830.9,611.0l0.2,0.5M1080.7,792.5l-0.3,0.3M1051.0,720.2l-0.4,0.1M1045.7,724.7l0.6,1.5M936.5,632.9l0.0,0.5M917.6,592.0l1.1,1.4M830.3,599.1l-0.4,1.7M863.5,700.2l-0.4,0.0M950.8,787.2l1.5,0.5M1035.9,757.1l0.3,0.5M946.1,741.5l0.9,1.3M1129.2,704.8l1.3,1.1M1123.8,760.4l1.5,1.5M1123.5,774.5l-0.6,0.7M946.1,782.9l-1.0,0.5M1127.1,822.1l-0.5,0.0M903.3,691.0l-0.8,0.8M968.0,708.6l-0.0,0.4M1004.8,848.2l1.8,0.1M931.8,709.1l0.7,0.9M1137.8,923.8l1.3,1.3M1111.0,577.6l0.5,0.6M1130.7,846.6l0.9,1.4M982.6,704.5l-0.3,1.8M1134.0,819.9l-0.2,0.3M1036.6,764.3l0.2,0.4M916.5,880.4l0.4,0.2M911.3,631.0l-0.9,1.1M1151.2,779.0l1.6,1.3M954.2,660.7l-1.1,0.2M1071.6,790.4l1.2,0.3M1021.4,735.0l-0.5,1.1M1046.4,730.5l-0.6,0.6M973.9,705.8l-0.3,0.4M964.8,698.5l-1.7,0.9M1049.3,743.1l0.4,0.9M1177.7,762.9l0.6,0.2M985.1,876.0l0.9,0.2M1154.6,583.2l-0.0,1.8M1146.5,828.3l0.1,0.5M1100.3,728.5l0.4,1.7M1001.6,812.1l0.6,1.8M1060.7,850.0l1.2,0.4M990.9,773.3l0.7,0.7M881.7,710.8l1.4,0.5M1030.5,750.1l0.4,1.3M1144.0,658.2l0.0,1.2M1138.7,802.0l-0.9,0.1M1162.0,611.0l-0.6,1.3M1043.8,741.0l1.7,0.3M941.8,790.2l0.4,0.3M1056.1,902.0l-0.2,1.1M1111.2,740.8l0.8,0.9M1109.4,739.1l-1.2,0.4M979.6,813.5l0.7,1.8M911.1,673.5l1.2,1.0M1039.2,613.4l0.7,0.5M1008.0,626.6l-0.6,1.2M1025.6,654.5l0.5,1.8M1089.9,774.4l1.7,0.9M964.7,770.7l1.0,1.1M908.9,807.7l-0.6,0.8M1162.7,865.4l0.3,0.2M1065.2,618.9l1.9,0.7M970.9,631.9l0.6,1.3M839.4,599.0l-2.0,0.6M1114.0,735.9l1.3,0.8M832.9,666.3l-1.4,0.9M1044.0,592.8l-0.5,0.6M1036.6,796.9l0.3,1.1M1137.2,801.4l0.0,0.5M1140.4,749.2l-0.4,0.1M1135.8,882.1l-0.1,1.0M1036.9,774.2l-0.2,1.0M1114.3,811.4l1.2,0.6M943.8,811.7l0.5,0.4M1146.1,821.6l0.4,0.1M1019.4,859.4l-0.0,0.9M1058.4,607.7l-0.8,0.3M950.8,722.7l-1.1,0.1M1030.7,803.3l0.7,1.6M986.0,813.9l1.9,0.1M1002.5,778.7l1.3,0.2M922.7,640.9l2.0,0.2M1060.0,809.2l-1.7,1.0M1142.4,885.8l-0.1,1.2M1017.1,776.3l0.5,0.2M991.2,845.3l0.2,0.9M1019.0,847.3l-1.9,0.7M812.9,661.6l1.4,0.1M912.6,710.0l0.6,1.7M1139.0,833.9l0.4,0.9M1123.4,727.1l1.2,0.9M1056.1,639.6l-0.2,1.0M948.6,626.7l0.5,1.7M834.4,927.5l0.3,0.6M1165.7,886.5l0.2,0.8M1048.9,676.9l1.6,1.3M999.0,800.2l-0.7,1.1M1160.5,761.5l-1.5,0.2M1099.5,677.8l0.7,1.8M1146.0,828.8l0.4,0.4M813.2,698.7l0.2,0.3M1145.9,746.6l-0.5,0.1M1016.1,845.8l-0.2,1.6M839.7,897.5l0.2,1.8M982.3,603.8l0.3,0.3M933.8,807.8l0.4,2.1M1058.2,636.8l0.6,1.0M1113.3,729.1l0.6,0.6M1039.9,744.9l-0.1,0.3M1125.8,647.7l-0.1,0.8M1051.3,686.1l-0.8,0.8M938.9,591.2l-0.9,0.4M1095.5,895.8l-1.4,0.4M1155.3,760.4l1.0,0.6M1058.5,782.6l-0.8,0.4M1091.2,812.3l-1.9,1.0M986.8,805.0l0.5,1.8M927.9,762.1l0.5,0.5M1110.4,775.5l-1.8,0.4M1079.6,743.2l-0.8,0.5M1154.6,575.8l-1.0,1.7M937.3,810.7l-2.0,0.3M897.8,676.1l-0.4,0.7M1019.4,628.3l-0.9,0.7M1052.2,736.9l-0.1,0.4M1032.8,730.1l0.8,0.2M1175.3,861.0l0.0,0.6M989.7,784.2l-0.5,2.1M986.7,720.1l-1.4,1.4M951.2,806.5l1.0,0.8M1086.6,700.5l-2.0,0.3M1097.5,830.1l0.6,0.9M1078.6,773.0l0.6,1.8M1081.3,761.3l0.4,2.0M1017.6,783.9l-0.3,0.4M1051.1,767.6l-0.3,1.4M1045.0,771.7l-1.4,1.0M1073.8,800.9l1.3,0.1M1016.6,803.6l-0.2,2.0M1017.3,848.0l0.0,0.8M972.7,810.7l-1.7,0.7M950.5,683.9l1.3,0.3M1036.6,754.9l0.3,0.1M944.9,785.3l-0.7,0.6M1143.0,650.5l0.2,0.3M1074.3,806.1l1.4,1.3M1023.4,811.7l-1.0,0.1M1040.8,809.4l-0.2,1.1M1161.7,762.8l-0.6,0.5M1059.9,742.0l0.1,1.2M1127.9,785.0l-0.3,1.0M1031.0,695.0l-1.0,0.5M1093.4,702.2l1.6,0.9M925.3,734.2l0.5,1.4M881.4,732.2l-0.8,0.6M839.3,711.0l-1.2,0.8M826.8,720.7l-1.1,1.3M1043.0,818.1l-1.3,0.3M984.4,766.8l0.5,0.8M986.8,794.4l-1.0,1.2M992.0,582.9l0.2,0.3M1078.9,757.5l0.4,0.4M1103.5,757.2l0.7,0.1M885.7,607.5l1.8,0.1M969.5,589.5l-1.1,0.1M939.4,744.3l-0.2,1.3M966.4,734.7l-1.5,0.9M899.0,688.6l1.1,0.3M924.2,772.3l-1.7,1.0M1161.8,772.6l-0.2,0.2M1143.2,792.4l1.8,0.4M928.5,618.8l0.5,0.5M905.9,643.5l-0.0,0.6M1051.3,644.2l0.3,1.0M1043.3,607.5l0.4,0.7M1109.6,815.6l-0.7,1.6M1119.2,698.0l0.1,1.1M1075.9,850.1l0.2,0.3M922.2,827.5l1.2,0.1M1047.1,636.4l-0.3,1.0M1044.2,816.8l-0.3,0.6M1071.7,872.8l0.3,0.0M973.8,758.8l1.6,0.6M1109.1,810.1l1.7,1.1M1147.1,661.9l-0.6,0.5M1091.5,712.1l-0.1,0.3M920.3,584.8l-1.9,0.7M977.1,739.9l-0.6,0.3M1123.8,733.3l1.3,1.4M951.3,797.6l1.5,0.9M1032.8,788.9l0.1,0.9M1078.3,776.7l-1.5,1.3M1037.5,816.4l-0.8,0.8M1112.2,623.1l-2.0,0.8M1028.5,759.0l-0.5,0.3M1061.3,808.5l1.6,0.1M1104.2,663.5l-0.8,1.8M1082.7,674.0l0.3,1.9M863.4,664.1l0.9,1.9M989.2,598.4l0.3,0.5M944.4,608.1l-1.6,0.4M1048.3,577.3l-0.5,0.2M1068.2,642.0l0.9,0.7M1077.7,866.0l-0.4,0.5M984.5,852.7l0.2,0.4M951.5,827.5l-0.4,1.9M991.1,784.2l0.3,1.4M1005.9,785.6l-0.1,0.9M1142.0,769.2l-0.1,1.9M1130.8,887.3l0.5,0.5M965.5,740.8l-0.3,0.3M1122.8,778.2l-0.6,1.6M1103.2,779.6l2.1,0.3M895.2,679.9l-0.0,1.9M1167.7,785.3l0.7,0.3M1061.6,714.8l0.1,1.4M1060.8,856.6l-1.7,0.6M1035.0,686.2l0.6,0.3M955.5,597.4l-0.9,0.2M1178.5,835.8l0.4,0.0M911.9,728.6l1.3,1.1M943.5,838.3l-0.3,0.3M1121.0,801.2l-0.5,0.2M1167.2,852.6l-2.0,0.6M1154.5,814.9l0.3,0.6M1156.1,722.6l0.1,1.4M1137.0,699.8l0.1,1.4M1107.8,859.0l1.3,1.5M976.2,807.1l1.0,0.6M946.1,786.1l0.2,0.4M1064.3,764.1l0.5,0.3M865.9,681.6l-0.4,0.8M1006.1,718.0l-1.9,1.1M1013.0,657.4l-0.0,0.4M1102.4,760.6l-1.5,0.6M1041.6,745.9l0.4,0.6M1083.0,729.5l0.3,0.5M819.1,732.4l0.7,1.0M1033.6,713.1l0.7,0.5M1040.9,636.6l1.7,0.3M1130.2,760.1l0.5,0.9M945.5,762.6l1.4,0.2M1177.0,812.0l-0.2,2.0M984.6,819.6l-1.0,0.4M997.4,880.7l-1.4,0.1M1074.6,783.9l0.4,0.5M1062.1,796.2l0.0,1.9M941.4,761.4l-1.1,1.0M1017.6,727.4l1.3,1.4M1039.3,785.5l0.4,0.1M886.2,860.6l-0.7,1.6M850.0,644.6l-0.8,1.1M939.4,625.7l-0.8,0.3M873.6,691.3l0.3,0.0M1050.8,709.1l-2.1,0.2M1137.6,870.4l0.3,1.7M1169.4,775.0l-0.4,0.4M956.3,602.2l0.0,2.0M1029.2,708.4l1.1,1.6M986.5,761.5l0.0,0.5M1046.2,599.0l-0.5,1.3M1004.5,841.2l-0.5,0.5M1154.8,659.9l-0.1,0.6M1056.4,719.3l-1.4,0.9M1041.0,748.3l-0.3,1.2M1014.3,796.9l1.2,0.2M1117.6,809.3l-2.0,0.3M934.1,628.5l0.3,2.1M1011.1,796.6l-0.5,0.4M938.7,777.4l-1.9,0.3M1119.9,837.6l-1.3,1.1M1135.3,668.4l1.6,0.2M1013.4,717.7l0.5,0.4M1044.3,764.6l0.3,1.8M1144.1,604.3l-0.8,1.0M949.3,812.3l-0.4,1.3M1075.8,756.9l-0.0,0.5M958.5,624.6l-0.8,1.5M931.3,718.4l-0.1,1.3M1150.4,827.4l-0.5,1.5M1118.7,734.0l-0.4,1.5M1052.5,681.0l1.1,1.2M1130.4,742.8l-0.8,0.1M1017.7,720.2l-0.1,1.5M1110.7,767.9l-0.2,1.2M1145.3,671.6l0.2,0.4M902.6,649.5l-0.1,1.1M1068.9,878.8l0.2,1.9M893.6,627.1l-0.9,0.3M1002.2,753.3l-0.4,0.7M827.7,624.3l0.5,0.3M1151.9,752.4l0.1,1.1M1024.7,760.2l1.6,0.6M1153.2,841.3l-0.5,1.2M1132.7,686.6l-0.5,1.6M1174.6,862.3l2.2,0.1M998.9,691.8l1.8,1.1M1003.9,774.3l0.8,0.3M955.5,749.6l-1.3,0.4M1137.8,856.2l0.3,2.1M1079.2,801.0l-0.6,0.4M1146.0,788.9l0.7,0.4M1028.7,800.0l0.0,1.7M996.1,646.0l1.5,0.5M940.5,765.8l0.4,0.2M1175.3,703.9l0.6,1.5M944.8,835.1l-0.9,0.1M989.3,833.4l-0.4,1.7M894.2,616.3l-1.0,1.1M1071.7,837.1l0.3,0.1M1085.1,783.9l-0.1,0.5M1000.6,876.5l-1.3,0.4M1071.9,697.6l2.0,0.7M920.3,718.0l-0.1,1.8M1022.6,715.6l-1.2,0.9M1084.7,794.3l0.6,1.0M1179.8,781.6l-0.3,0.4M812.2,576.8l1.1,0.3M916.2,585.7l-0.9,0.7M1048.2,780.3l-0.3,0.1M970.5,644.0l1.1,0.0M956.9,779.3l1.7,0.1M907.3,667.1l-0.8,0.1M947.0,833.0l0.2,0.7M965.1,729.1l-0.3,0.5M1064.7,769.6l0.6,0.5M860.5,660.8l1.9,0.5M1078.3,656.6l-0.6,0.3M944.8,840.3l0.1,0.4M1061.4,870.0l0.2,0.9M1039.4,923.0l1.0,0.4M818.8,618.6l0.7,1.0M959.7,614.3l0.6,1.8M1101.0,741.1l-0.1,1.9M1076.5,598.0l-1.7,1.2M1156.6,640.7l1.3,1.7M1176.3,859.9l-0.6,1.7M1133.6,612.4l0.7,1.0M1014.1,891.7l-0.4,1.0M1038.8,639.5l-0.3,1.2M1167.0,631.0l0.6,0.6M1080.0,700.9l-0.5,0.4M989.4,652.4l-0.6,1.1M1113.4,812.3l-0.4,1.3M1072.9,923.8l1.1,1.0M983.4,809.1l0.3,0.2M956.2,658.0l-1.6,0.9M949.4,789.6l-0.8,1.6M1068.9,704.0l-0.6,0.8M988.0,907.0l0.2,1.6M1137.3,812.2l0.8,1.5M973.2,637.2l-1.5,0.8M1043.0,790.9l-0.9,1.0M1019.0,712.0l-0.4,0.8M1117.5,801.3l-1.7,0.7M818.9,667.5l-0.2,0.3M997.1,842.7l0.9,1.2M1017.4,662.9l-0.6,0.3M1052.2,746.7l-0.1,1.5M907.7,734.9l0.2,1.8M908.7,633.8l0.0,0.6M1052.6,707.0l0.9,1.2M1044.5,739.8l0.6,0.3M996.3,705.7l0.9,0.9M997.6,739.4l-0.5,0.2M866.6,759.7l-1.0,1.4M844.7,636.6l1.0,1.7M1129.0,799.8l-0.2,1.7M1160.0,616.9l0.3,0.2M1046.6,805.5l-0.2,0.3M1110.3,599.6l-0.1,1.0M1100.4,761.9l0.5,0.7M977.6,738.6l1.0,1.9M1117.0,813.8l2.1,0.3M1055.8,775.7l-0.1,0.6M1076.0,790.5l-0.5,1.3M969.0,766.6l0.4,0.6M1163.5,753.0l0.2,0.7M870.4,585.8l0.8,0.5M1157.3,847.7l-0.8,1.0M1004.1,745.4l0.6,0.3M957.4,812.6l1.9,0.9M972.3,813.9l-1.9,0.2M1051.1,667.6l0.1,0.8M915.7,756.3l0.7,0.8M1161.2,829.0l-0.4,0.6M972.4,839.2l0.4,0.8M1003.6,828.1l0.6,0.6M1092.1,885.8l1.9,0.6M1044.8,670.6l-1.1,0.7M1144.5,600.7l0.2,0.3M964.5,643.0l-0.5,0.5M1065.0,788.1l0.5,0.5M987.9,714.0l-1.0,1.0M1039.3,766.1l-0.4,0.8M912.5,719.7l0.6,1.3M1070.4,657.3l0.6,1.9M1154.0,718.9l0.1,1.8M967.1,674.2l-0.4,1.0M1108.6,767.6l0.9,0.6M1125.2,784.9l0.3,0.2M826.3,617.6l0.5,0.6M998.7,781.7l0.4,0.9M1093.0,802.4l-0.2,0.6M1024.1,776.5l1.1,0.7M1017.4,852.8l-1.5,0.7M1130.2,846.8l-0.7,0.4M1065.4,702.3l1.5,0.6M1120.6,849.0l1.1,0.8M1068.6,808.0l0.8,0.4M1100.8,722.6l-0.4,1.7M1083.3,725.0l-0.6,1.0M957.9,796.3l-0.2,1.8M1107.6,816.0l-0.2,1.1M1029.0,577.0l-1.7,0.6M958.0,736.1l0.4,0.4M977.7,808.6l0.0,0.3M1085.1,746.1l0.2,1.9M1100.7,702.9l1.6,0.5M1165.8,705.2l0.8,0.9M964.4,673.5l-0.5,1.8M969.3,804.4l-0.2,0.5M965.0,611.3l0.3,1.5M886.6,581.8l0.1,1.4M1037.1,753.4l-0.1,0.4M1042.1,721.6l-0.6,0.9M1136.3,793.4l-0.2,1.2M1085.6,767.4l-0.9,0.6M1029.1,827.8l0.8,1.1M1150.4,641.7l1.9,0.6M882.3,706.1l1.0,0.2M1134.8,832.8l-1.3,1.6M991.4,696.8l-0.4,0.6M984.2,620.4l1.2,0.7M835.0,628.4l0.3,0.2M956.8,857.7l1.8,0.1M897.3,725.2l-0.1,0.8M1035.6,815.6l-0.1,0.6M1022.7,672.8l0.8,1.6M1106.3,863.5l-0.3,1.5M1130.5,666.7l0.2,0.4M1178.8,797.9l0.9,0.6M1154.1,712.8l-1.7,0.6M968.1,716.6l1.5,1.5M884.8,723.9l-0.3,1.3M1118.3,924.2l-0.9,0.6M928.5,823.1l-0.3,0.1M870.2,708.1l-0.3,1.7M1108.3,696.8l1.7,1.4M1089.1,798.7l-0.3,0.4M932.0,863.0l1.7,1.2M1069.5,615.3l0.7,0.1M1127.1,790.3l0.2,0.5M1069.1,590.5l1.2,1.3M956.5,720.9l2.0,0.3M1101.0,692.6l0.3,0.8M892.8,669.6l0.1,0.5M1122.5,825.6l-0.9,0.6M1119.8,686.6l0.2,0.6M1057.9,869.0l0.7,1.1M961.4,768.7l-1.1,1.8M1088.3,795.0l0.3,0.0M887.8,804.5l1.4,1.5M1107.8,763.1l0.3,1.1M1024.1,867.4l-0.7,1.8M1005.2,874.2l-1.0,1.9M1052.6,810.1l0.1,1.9M1113.9,598.4l-0.6,0.1M1016.4,862.1l-0.4,1.4M935.2,767.1l0.8,0.1M839.9,706.1l0.2,0.7M1145.0,688.6l0.5,0.2M847.4,624.6l0.5,0.0M896.9,613.5l-0.7,1.9M1077.6,750.8l-1.4,1.3M1018.7,694.2l1.4,0.1M951.4,807.1l0.5,0.4M980.1,801.7l1.1,1.0M820.5,624.0l-1.6,0.9M1168.4,820.7l0.3,0.1M1072.7,755.9l-0.3,0.6M992.9,681.5l-0.8,0.6M1011.0,793.3l-0.7,0.0M1148.1,843.5l-0.8,0.6M1105.0,712.3l0.4,0.2M961.0,882.4l-0.6,0.3M1091.9,765.9l-1.3,1.5M958.4,742.1l1.0,1.1M957.4,774.9l-0.1,2.0M1041.5,719.8l-0.9,0.6M1066.7,789.4l-0.1,1.0M1141.9,834.9l-0.5,0.5M1055.1,789.0l-0.9,1.9M898.9,732.1l-1.2,0.6M992.8,616.1l0.0,1.4M956.7,689.0l-0.7,0.7M940.7,674.2l-0.7,0.3M981.2,652.6l-0.4,1.2M1046.0,642.3l-0.5,0.3M1070.5,755.3l0.8,0.9M1111.3,722.2l1.1,0.3M933.1,595.8l2.0,0.5M959.0,806.5l0.6,0.6M985.8,720.4l-0.7,1.9M1078.2,766.0l0.6,0.3M1133.0,858.4l0.8,0.1M958.8,788.4l0.3,0.6M1146.0,638.7l1.1,0.4M1060.4,721.9l-1.8,0.3M969.2,773.7l1.1,0.3M1098.3,738.5l0.3,0.7M1141.1,834.2l-0.3,0.5M958.6,746.0l1.4,0.9M1002.1,829.5l0.3,1.2M927.0,749.1l-1.0,0.1M1005.8,821.7l-2.2,0.0M920.4,685.8l-0.5,0.3M882.5,657.9l-2.0,0.9M1163.3,832.9l2.2,0.3M1053.6,672.0l-0.1,0.4M988.3,597.4l-2.0,0.9M1177.0,663.1l0.5,1.0M931.0,736.2l-0.4,2.2M1091.5,637.3l-1.4,0.8M1067.4,809.4l-0.1,1.3M1103.1,792.5l-0.7,0.9M1092.0,717.3l1.9,0.4M915.4,764.5l-0.2,0.6M932.1,751.7l1.6,0.7M918.3,655.5l-0.3,0.4M1093.2,669.7l0.0,1.7M1061.1,721.9l0.2,0.3M843.2,581.4l0.1,0.6M1024.7,849.3l-0.9,0.9M977.8,747.4l1.1,0.6M1162.7,785.1l-0.8,1.3M1031.1,833.5l-0.2,1.8M1136.0,780.9l-0.5,1.8M971.4,730.9l-0.7,0.2M1013.7,727.7l-1.3,0.7M1107.7,707.8l1.1,1.4M989.9,581.0l-0.4,0.3M995.4,721.1l-2.0,0.3M998.8,682.4l0.3,1.1M1147.9,698.2l-0.2,0.4M1142.0,797.8l1.1,0.9M1078.7,653.8l-0.2,0.4M944.8,666.0l-0.8,0.0M894.5,754.4l-0.6,0.1M840.0,687.4l-0.6,0.2M1095.5,838.7l1.9,0.1M1074.6,796.4l0.8,0.9M934.9,806.0l0.7,0.6M1071.0,756.1l-0.4,0.4M1031.6,689.6l2.1,0.4M882.2,682.3l-0.9,1.2M1017.8,846.3l0.5,0.0M935.9,663.8l-0.4,0.9M1003.6,886.6l0.2,0.3M1067.5,697.8l-0.7,0.9M864.4,686.0l-0.8,0.1M925.1,650.6l-0.3,0.1M1174.7,742.7l-1.4,0.8M981.3,808.7l0.8,0.7" stroke="#fbe6f4" stroke-width="1.8" opacity=".9"/>
<path d="M919.2,612.3l-0.6,0.5M956.1,701.9l0.9,1.0M981.0,788.5l1.3,0.1M971.0,700.0l-0.5,1.3M948.8,637.9l-0.2,0.5M939.6,711.1l-0.2,1.2M1089.5,746.2l-0.6,0.2M1132.0,844.6l0.2,0.2M1031.4,821.2l-0.6,0.0M1044.7,833.7l0.9,0.4M937.1,703.6l-0.6,0.1M1084.6,671.0l-0.6,0.6M1034.0,799.0l-0.2,1.2M1065.2,744.8l-0.9,0.6M1152.5,720.4l-0.1,0.5M951.3,633.5l0.4,0.0M1017.8,806.8l-0.0,1.3M1010.2,737.3l0.0,0.8M1010.7,818.5l0.3,1.3M907.5,584.6l0.4,1.4M849.0,660.8l-0.3,0.5M879.5,633.2l-0.4,0.8M984.4,848.1l0.5,0.2M843.5,730.1l-1.0,0.3M973.7,811.1l0.0,0.4M1005.1,860.2l1.2,0.1M978.9,595.7l-0.6,0.7M983.4,724.0l-0.7,1.3M1119.6,635.4l-1.2,0.1M978.7,721.3l-1.0,0.1M1109.6,764.0l0.8,0.3M1169.2,820.1l1.0,0.7M1014.4,782.6l-0.5,1.1M943.2,646.7l0.5,0.4M919.3,621.6l-0.7,1.3M971.2,695.4l-0.2,0.4M1048.9,759.4l-0.2,1.1M1085.3,617.9l-0.3,0.1M1134.6,766.3l1.2,0.4M1003.9,831.3l1.1,0.2M1089.2,775.7l0.4,0.2M908.4,636.2l-0.1,1.1M937.0,776.4l0.2,0.3M1170.1,665.7l-0.8,0.3M1054.0,709.3l-0.1,0.5M1129.3,738.2l-0.7,0.0M1062.6,710.5l0.2,1.2M1032.8,771.8l0.7,0.7M1132.0,779.9l1.0,0.4M1124.4,767.3l0.2,0.4M957.5,825.5l-0.8,1.2M1179.4,680.9l0.7,0.5M1063.4,700.6l-0.4,1.0M1127.0,785.2l-0.8,0.9M1002.2,667.6l0.4,0.6M1115.1,833.2l0.1,0.5M1154.0,763.2l-0.3,0.3M1107.0,850.5l-1.3,0.5M1039.4,690.1l0.7,0.7M853.3,648.3l0.4,1.1M1139.1,821.9l0.1,0.5M943.1,775.7l-0.5,0.2M971.2,722.2l-1.1,0.7M1062.9,688.9l-1.3,0.0M906.3,609.6l0.9,0.7M1022.5,618.5l0.4,1.2M1093.5,854.1l1.0,0.7M964.2,816.8l0.2,0.2M1165.6,723.9l-1.0,1.1M927.6,584.7l-1.1,0.5M1142.8,810.7l0.8,0.3M1052.6,827.6l0.1,0.6M1020.5,612.4l0.7,0.1M1028.1,791.3l0.1,1.1M955.1,748.9l-0.5,0.0M920.0,581.3l0.4,1.4M815.2,722.6l1.3,0.6M995.5,731.4l-0.2,0.3M879.9,934.4l0.9,0.9M1043.8,779.6l0.5,0.1M1045.7,791.0l0.6,1.3M1010.6,752.1l0.8,0.4M1151.1,842.2l-0.9,0.2M1145.4,779.6l-0.1,0.8M1174.0,767.2l-1.0,0.6M1124.3,721.8l-0.3,0.8M929.6,757.9l0.5,0.6M1026.4,727.6l0.5,0.7M1147.7,600.2l-0.7,0.1M1143.9,780.6l-0.0,0.4M864.8,648.7l-0.1,0.8M1034.0,719.2l-0.1,1.3M1013.2,758.4l-0.5,0.8M1160.3,796.7l-0.6,1.0M1039.0,814.6l-0.8,0.5M909.2,794.5l-1.1,0.6M978.5,771.0l-0.6,0.1M858.2,726.8l-0.9,0.3M1145.7,802.4l-1.2,0.7M1085.2,723.9l-0.0,0.7M1001.5,781.0l-0.3,0.4M1057.3,723.4l-0.9,0.1M1018.7,727.2l0.5,0.4M1084.5,691.4l-0.8,0.4M1062.6,738.0l0.1,0.4M1040.4,670.3l0.0,1.3M1178.5,900.5l-1.0,0.2M1002.9,860.9l-0.2,1.1M958.6,769.4l-1.1,0.9M1154.1,673.5l0.8,0.6M1039.7,771.3l0.0,0.4M1001.1,752.8l-0.1,1.1M1151.5,825.4l-0.6,0.8M1111.1,857.2l-0.2,0.4M1026.1,707.5l-0.2,0.6M1036.3,739.2l0.1,0.5M1114.2,743.8l-1.0,0.0M1076.3,720.8l1.0,0.3M1155.5,815.2l0.4,1.1M1074.8,690.6l-0.3,0.6M1142.9,783.0l-0.5,1.0M873.1,651.9l0.7,0.0M863.0,694.9l-1.2,0.2M827.9,634.2l0.8,0.7M923.9,682.2l0.7,0.6M915.1,687.9l-1.4,0.1M1123.5,889.8l-0.5,0.9M1021.5,673.6l-0.1,0.6M910.8,597.5l-0.1,1.2M1067.5,761.7l0.3,0.0M1050.8,737.5l1.1,0.6M925.9,725.7l1.2,0.8M1145.4,753.5l-0.1,0.7M881.0,690.2l0.3,0.4M1108.3,849.2l0.6,1.2M934.0,738.5l0.3,0.4M1082.7,735.0l0.1,1.1M1130.3,801.3l0.2,0.7M1079.9,886.9l-0.1,1.2M1134.5,678.4l-1.0,0.4M986.0,617.2l-1.0,0.0M1162.7,812.6l0.0,0.4M1129.6,687.7l1.2,0.9M1107.0,757.1l0.4,0.1M999.7,778.2l-0.8,1.0M982.7,793.5l0.7,0.8M1100.8,852.9l0.2,0.3M965.7,738.8l0.3,0.5M952.2,731.2l-1.0,0.4M1044.7,610.4l0.3,1.1M1167.0,676.4l0.5,0.3M969.3,595.2l0.8,0.2M826.7,714.8l-0.3,0.6M1045.8,838.2l-0.1,0.7M1080.6,578.0l-0.1,1.0M1113.3,713.7l0.4,0.2M841.6,690.1l0.3,0.5M1136.8,861.3l0.5,0.6M1054.2,791.8l0.1,0.8M992.3,717.2l0.9,0.5M813.2,684.9l-0.4,0.4M1040.1,693.2l-0.2,0.8M1132.8,746.7l1.0,0.7M887.1,733.0l0.1,1.4M1173.7,706.4l-1.0,0.7M840.5,649.5l0.2,0.5M1028.1,601.8l0.3,0.2M1040.9,595.9l0.1,1.1M1146.6,803.0l-1.0,0.9M1124.1,754.6l0.0,0.5M1033.4,603.0l0.0,0.4M1142.7,656.6l1.0,0.3M1064.2,598.6l0.5,0.3M921.4,622.7l0.7,1.3M941.8,615.6l-0.4,0.5M1155.4,821.8l0.6,0.9M973.5,576.7l0.4,1.3M935.0,722.9l0.3,1.3M1011.3,698.0l-0.0,0.5M970.5,822.7l-0.4,0.4M973.8,867.2l-0.6,0.5M1078.8,674.7l-0.1,0.5M1100.1,911.7l-0.7,0.8M976.5,770.7l0.1,0.5M1123.8,774.3l-0.9,0.5M1115.9,852.0l-0.4,0.1M1017.4,744.6l-0.3,0.5M1006.5,772.6l-0.3,0.2M918.3,785.3l1.0,0.1M1025.8,758.3l-0.3,0.9M1090.9,772.1l-0.2,1.0M1177.7,790.2l0.4,0.9M990.9,770.1l0.4,0.3M930.6,607.0l-0.6,0.6M1059.7,846.7l0.2,1.2M1066.2,710.8l-0.3,0.1M1099.1,861.6l0.1,0.6M1020.7,766.7l-0.5,0.4M952.5,642.2l0.3,1.0M895.7,709.7l-0.0,0.9M1041.3,799.1l-0.1,0.6M1048.9,743.3l0.5,0.8M1025.4,743.3l0.1,1.3M875.0,634.3l-0.4,0.1M989.6,631.1l0.9,0.0M1109.2,689.5l0.9,0.8M967.5,816.3l0.1,1.0M1097.8,742.2l-0.2,0.5M823.7,625.5l0.4,1.3M1158.2,863.3l0.3,0.4M930.5,768.2l0.1,1.0M1000.0,763.1l-0.2,0.6M912.4,732.0l-0.9,0.6M1092.8,733.4l-0.8,0.3M1147.2,694.0l-0.6,0.6M1158.7,578.3l-0.8,0.6M1145.5,655.0l0.8,0.3M860.6,637.8l0.0,0.9M1161.2,678.9l0.7,0.2M1065.5,724.7l0.4,0.6M1049.3,830.3l-0.6,0.3M826.3,599.2l-0.1,0.4M1081.4,682.4l1.1,0.1M1089.7,757.1l0.8,0.1M1174.3,779.7l0.6,0.7M977.4,648.9l0.5,1.2M953.9,670.4l0.6,0.7M1074.7,754.2l-0.7,1.1M998.7,861.6l-1.1,0.3M1108.5,743.0l0.1,0.8M1111.2,702.2l-0.7,1.0M1077.5,838.8l1.4,0.3M1066.3,876.6l0.3,0.2M1056.2,879.4l1.4,0.5M975.9,658.4l0.0,0.3M928.8,635.4l1.4,0.4M1077.2,906.0l-0.4,0.8M1127.7,796.2l-0.1,0.4M1121.6,723.3l0.6,0.5M1102.4,772.4l-0.1,1.0M1046.6,627.0l-0.7,0.9M990.5,664.0l-0.5,0.7M1060.1,645.9l-0.0,0.7M818.7,681.4l0.6,1.0M1097.7,888.9l-0.5,0.4M1074.1,860.8l0.2,1.4M1085.9,774.9l-1.1,0.6M1062.6,861.5l0.5,0.1M1072.6,751.5l0.4,0.3M836.4,654.8l-0.4,1.2M867.1,630.2l0.8,0.5M821.4,588.6l0.3,0.2M1044.0,705.7l1.4,0.3M945.4,721.1l0.9,1.0M1084.0,810.2l-0.7,0.2M1072.4,783.3l-0.0,0.5M945.8,776.6l-0.6,0.5M1167.5,807.3l0.4,0.9M1004.3,744.1l1.2,0.6M879.0,693.6l0.6,0.5M1024.5,753.6l0.6,0.1M1179.8,743.4l-0.7,0.4M1069.3,824.0l-0.2,1.4M1046.8,873.0l-0.5,0.7M1144.5,745.9l-1.3,0.2M1044.5,870.0l0.3,0.4M990.6,796.5l-0.4,1.2M1114.5,617.5l-0.2,0.5M1141.7,752.8l-1.1,0.6M1082.4,690.1l0.3,0.3M883.3,713.8l-0.6,0.9M1075.3,732.9l-1.2,0.7M1085.0,688.1l0.1,0.3M1101.3,811.0l1.0,0.0M841.0,684.1l0.3,0.1M1000.1,639.3l0.1,0.3M1158.4,790.0l-1.3,0.3M977.3,664.0l1.3,0.2M844.7,698.4l0.6,0.6M1012.9,755.0l-0.7,0.5M1108.0,724.7l-0.5,0.2M948.5,837.8l-0.7,0.4M874.4,634.3l0.7,1.0M903.2,790.6l-0.7,1.2M1168.5,592.2l-0.4,0.8M1096.5,772.1l0.7,0.1M1013.2,726.6l0.8,1.2M1176.8,597.6l1.2,0.3M1107.0,608.6l-0.8,0.7M969.5,811.3l1.0,0.7M969.4,576.3l0.6,0.9M1152.7,794.3l-0.5,0.1M1037.3,815.0l-1.1,0.0M1145.4,755.1l-0.8,0.9M1175.3,797.6l-1.1,0.7M1130.8,870.3l-0.4,0.3M1038.6,595.4l-0.0,0.9M1131.3,623.8l1.4,0.6M1102.6,878.4l0.3,0.4M980.9,722.8l-0.1,1.0M1159.0,760.0l0.5,0.4M981.0,799.7l0.1,0.9M1047.8,822.5l-0.3,0.4M981.8,722.8l1.1,0.4M1051.4,764.5l0.1,0.6M981.9,680.3l-0.2,0.8M989.4,688.3l-0.9,0.1M1077.3,783.3l0.8,0.2M1112.9,755.5l-0.4,0.1M1134.1,787.6l-0.3,0.3M1083.7,802.0l1.2,0.0M1060.6,665.9l-0.8,1.0M1082.9,734.0l-0.2,1.1M1027.2,725.3l-0.4,0.2M1171.2,673.2l-0.6,1.1M1119.0,674.0l1.0,1.0M1006.4,689.1l-0.6,0.9M1089.3,772.5l-0.5,0.5M1147.6,809.9l-1.0,1.0M864.1,720.6l-1.0,1.0M1076.2,904.8l0.8,0.7M1177.3,869.9l0.2,0.9M918.2,700.8l0.8,1.1M963.1,707.8l0.1,0.3M933.4,661.3l1.0,0.9M1003.4,834.4l0.7,0.5M815.9,719.0l0.1,1.1M1173.9,810.4l-0.2,1.0M817.9,598.3l0.4,0.0M1110.2,842.1l-0.6,0.8M1177.8,790.2l0.4,0.6M902.9,718.5l-0.3,1.0M919.2,625.2l-0.5,0.4M1095.1,684.3l-0.3,1.0M1025.2,781.1l-0.4,0.2M1161.0,741.2l-1.1,0.0M1140.8,759.3l0.4,0.5M1009.5,910.4l0.6,0.3M951.9,587.6l-0.1,0.7M1016.2,885.7l-0.9,1.0M975.9,638.4l-0.4,0.0M1151.3,783.0l0.5,0.6M1094.6,835.3l0.7,0.5M1040.1,783.6l1.0,0.4M1178.9,886.6l1.3,0.0M917.3,689.8l-0.5,0.3M1120.3,787.9l0.4,0.8M949.7,724.4l1.0,0.9M1133.9,596.6l-0.9,0.3M1011.1,709.7l-1.0,0.0M955.3,749.9l0.8,0.4M1007.1,808.6l1.3,0.3M1024.4,698.3l-1.0,0.8M1053.7,802.1l-0.6,0.9M824.0,679.6l0.1,1.1M1083.9,704.4l-0.3,0.6M1059.4,740.9l-0.1,1.0M1156.9,685.2l0.5,0.4M878.8,620.6l1.3,0.4M997.9,743.6l-0.3,1.1M850.2,654.5l0.9,0.7M1149.2,827.6l0.4,0.2M1150.4,750.1l-0.7,0.4M1013.0,599.3l-0.5,0.7M1045.6,834.5l-0.4,0.3M1140.3,774.9l-0.5,0.1M848.2,698.5l0.0,0.9M1178.3,623.7l-0.2,1.5M938.6,798.5l-0.4,0.4M1066.6,619.0l-0.6,0.6M1154.0,794.2l0.6,1.3M1159.0,762.6l-0.0,0.4M1121.8,749.8l-0.5,0.4M1036.1,783.0l0.3,0.3M1174.3,870.8l-1.2,0.3M1085.5,660.0l-1.0,0.7M998.7,850.2l0.9,0.1M1104.0,761.1l-0.7,1.3M1136.8,663.5l0.2,0.9M1154.9,584.5l0.9,0.8M1082.6,628.1l-0.1,0.4M1088.9,757.5l-0.7,1.0M979.2,644.1l-0.6,0.1M1059.4,865.2l0.4,0.2M1135.8,861.4l0.4,0.6M997.5,717.9l0.9,0.7M1079.9,683.4l0.5,1.0M958.1,815.8l0.5,0.6M943.4,794.2l-1.2,0.3M1148.0,829.6l-0.0,0.5M1013.0,816.0l-0.7,0.2M1172.6,703.9l0.4,0.3M1131.5,588.9l0.1,0.6M1146.5,931.8l-0.4,1.1M1031.6,698.1l-0.5,0.6M1141.5,784.7l-0.1,0.5M1100.6,766.2l-0.0,0.3M1021.4,736.5l1.0,0.4M1085.9,805.4l0.3,0.1M1095.5,665.1l-0.9,0.3M827.4,585.0l0.3,0.6M1098.6,721.1l-1.1,0.5M1165.5,648.1l0.5,1.0M1073.5,628.9l0.3,0.2M1094.5,712.6l-0.6,1.2M1050.7,673.8l0.3,0.5M822.3,733.4l0.5,0.9M1158.7,605.8l0.7,0.1M993.9,785.7l1.3,0.0M1159.3,606.0l0.2,0.3M1065.1,872.4l0.5,1.3M1103.9,763.9l1.1,0.2M1040.3,575.7l1.1,0.7M1139.9,778.8l0.4,0.6M865.1,728.3l-1.0,0.2M845.7,609.2l0.6,0.9M1087.0,832.0l0.5,0.9M1175.7,847.1l-0.3,0.3M1168.4,674.8l1.1,0.5M1042.5,654.2l0.5,0.6M991.5,754.7l-0.5,0.6M963.7,771.4l0.9,0.0M978.8,722.4l-0.6,0.6M988.5,872.5l0.9,0.1M1111.9,760.2l0.1,1.2M1016.5,788.9l-0.0,0.8M914.3,686.0l0.2,0.6M986.0,778.3l-1.0,0.2M1151.2,764.3l-0.3,0.3M1085.9,720.0l0.3,0.0M1170.4,689.6l1.2,0.1M1006.0,717.9l0.5,0.4M975.9,774.2l-1.5,0.0M1141.4,900.2l0.5,0.2M1001.8,848.6l-1.1,0.6M1085.3,757.3l-0.2,0.3M1036.8,735.9l-1.0,0.3M915.6,742.8l-0.2,0.4M1084.7,783.2l-0.4,0.5M822.8,656.7l-1.0,0.1M1087.7,883.0l-0.3,1.0M1097.4,869.1l1.0,0.1M1070.8,818.0l-1.1,0.2M1156.8,775.0l0.3,1.0M813.1,688.0l-1.4,0.5M1169.4,758.7l-0.6,1.2M1113.8,624.7l0.7,1.2M816.8,683.8l0.2,0.2M1055.7,801.2l1.3,0.2M1129.9,634.8l-0.0,0.5" stroke="#ffc4e8" stroke-width="2.2" opacity=".85"/>
<path d="M1176.7,888.4q3.7,-2.6 5.6,-6.8M866.2,892.4q-1.4,9.6 -9.5,14.9M1128.9,743.8q-3.9,-1.7 -6.4,-5.2M1006.6,901.6q10.5,3.0 21.3,1.9M1114.3,896.1q-6.5,4.4 -12.2,9.8M1044.9,915.3q9.1,6.0 12.1,16.4M1057.7,847.0q11.2,-1.2 20.4,-7.8M1072.4,845.6q2.1,9.8 5.6,19.3M1081.9,860.1q-6.1,3.8 -10.7,9.3M965.8,813.5q-9.3,-5.6 -20.2,-5.9M1036.9,831.3q3.9,11.1 3.9,22.8M1166.6,746.6q4.0,9.9 5.3,20.6M1176.4,808.0q7.0,-3.7 13.8,-7.7M972.9,793.7q1.9,11.1 0.4,22.4M944.2,788.4q-11.3,-2.1 -21.8,2.7M1025.8,832.1q-5.8,3.3 -11.0,7.3M956.2,848.8q-9.4,7.2 -19.8,12.9M1034.2,788.9q-3.4,4.1 -8.5,5.7M1021.7,769.5q-7.2,-8.4 -10.9,-18.8M971.3,728.3q-7.0,-5.5 -12.0,-12.8M1093.7,891.4q0.0,7.9 1.2,15.8M1074.8,901.9q9.9,4.8 15.4,14.3M880.8,850.7q4.7,0.4 8.2,3.7M953.0,813.9q8.8,5.8 19.2,4.2M1066.0,746.0q11.2,-0.3 20.0,-7.1M1082.1,874.9q3.8,-2.7 8.3,-3.9M1051.6,800.7q7.8,8.1 12.1,18.5M961.1,808.1q6.0,2.4 12.4,2.3M957.4,840.5q2.3,-9.4 2.5,-19.0M1030.5,792.6q-4.3,3.2 -8.0,7.0M1156.2,834.6q4.9,0.8 9.8,0.3M1081.1,821.8q0.1,9.4 1.7,18.7M1048.7,879.5q-11.4,-3.1 -22.0,2.2M1022.7,809.3q10.5,-1.3 16.1,-10.4M1116.5,877.3q-2.9,7.5 -2.2,15.5M1082.0,845.2q5.2,-9.4 14.4,-15.0M1157.2,853.3q4.8,0.2 9.4,1.6M1081.6,912.5q-1.9,-7.8 -2.7,-15.9M994.6,865.4q1.9,7.5 2.9,15.2M1082.2,775.0q-9.5,6.1 -20.5,3.4M1086.1,874.0q-9.4,-0.9 -17.2,4.3M1004.8,893.4q6.6,-3.5 13.4,-6.6M1085.8,867.2q-5.4,-3.6 -11.8,-2.9M974.6,791.0q1.6,-10.5 -4.9,-18.9M1032.4,769.9q-6.7,-8.6 -14.8,-16.1M1171.6,860.0q9.9,0.3 17.1,7.2M1051.9,881.8q-7.6,-0.2 -15.0,1.8M1112.9,727.2q-3.2,-5.3 -1.1,-11.2M1169.2,838.1q-10.3,2.1 -20.8,1.3M1017.5,802.0q7.1,-6.1 12.1,-13.9M931.1,770.4q-0.4,7.9 -2.6,15.6M1141.6,797.5q7.4,3.1 15.3,4.9M1144.3,869.8q-2.8,10.0 3.3,18.5M825.6,907.1q5.1,-3.6 11.1,-2.1M1099.2,888.7q4.3,-4.0 9.7,-6.5M1048.2,825.2q1.6,-4.1 4.2,-7.7M981.2,854.3q8.2,-0.4 15.9,-3.2M979.8,724.9q8.3,-0.8 15.4,-5.2M1040.2,789.8q-1.7,-6.8 -5.3,-12.7M1081.5,905.8q-5.2,-1.6 -10.5,-3.0M1000.7,789.2q6.4,3.9 14.0,3.4M1163.3,932.9q2.8,4.7 3.0,10.1M974.0,786.9q0.1,11.9 -6.8,21.7M1011.0,881.9q-11.0,-0.5 -17.9,-9.1M995.4,876.6q-1.3,-11.9 -10.5,-19.6M1013.9,784.3q1.2,8.8 0.5,17.7M974.5,757.5q3.6,-2.1 5.7,-5.7M1167.9,850.1q0.8,8.9 -5.7,15.1M1035.3,879.5q-11.8,0.5 -23.0,4.1M1108.3,884.8q-0.8,4.0 -1.7,8.0M877.1,805.7q6.9,-4.3 9.0,-12.2M1025.8,826.4q8.3,0.8 16.0,3.8M1150.7,872.7q5.4,-9.5 14.5,-15.7M1034.2,736.1q6.0,-6.6 9.8,-14.7M932.9,793.8q1.0,5.2 -1.4,9.8M919.7,808.6q10.5,-4.0 15.1,-14.3M963.0,809.1q3.9,-3.3 7.8,-6.7M1046.6,875.3q-0.6,10.5 -8.5,17.3M1162.9,885.8q-3.6,-5.5 -6.9,-11.3M1115.8,875.8q-0.9,-4.6 2.0,-8.4M1168.8,805.3q-1.6,6.6 -5.4,12.3M952.0,793.8q-0.1,11.1 -0.2,22.2M1011.5,882.1q1.6,4.2 5.8,5.9M1002.1,846.1q-9.8,4.1 -19.9,1.1M1097.8,883.4q-0.3,-10.3 -5.6,-19.1M950.0,843.6q-8.6,0.3 -17.1,-0.3M1035.1,835.8q-3.1,4.2 -6.4,8.3M1171.7,789.0q-5.3,8.7 -6.5,18.7M1002.7,802.1q6.0,8.2 14.7,13.5M932.8,773.9q-2.1,9.8 2.2,18.8M1179.6,883.9q-3.5,-3.1 -5.3,-7.4M1153.8,843.7q-8.7,1.0 -15.8,-4.2M975.7,824.9q1.1,10.3 8.5,17.5M1127.2,836.6q-0.4,-4.5 1.8,-8.5M1096.5,803.6q11.1,-0.3 22.0,-2.4M1087.3,808.9q6.8,-5.3 15.1,-7.7M985.4,879.3q-5.4,0.7 -10.3,3.0M814.9,908.6q2.0,8.4 0.9,17.0M1135.5,840.4q5.3,-9.3 9.9,-19.1M944.7,819.1q8.1,-3.7 11.8,-11.8M1074.3,839.4q0.0,7.3 -4.0,13.5M1171.1,843.3q-1.1,10.9 -9.2,18.2M918.6,725.1q2.5,-8.3 3.1,-17.0M971.1,712.8q10.5,1.8 20.6,5.2M1153.0,848.5q10.7,2.1 17.3,10.9M1169.7,809.4q-6.3,0.4 -12.0,3.1M1153.2,636.4q-9.1,5.7 -18.5,10.9M834.1,729.1q5.8,-10.4 2.1,-21.8M1057.3,788.2q7.7,-6.5 12.5,-15.5M1053.5,865.9q-7.2,9.2 -18.8,11.2M1124.9,763.3q-6.9,-3.6 -9.4,-11.1M930.7,828.4q2.3,6.3 6.8,11.3M1099.9,697.7q3.3,-2.4 6.9,-4.5M1113.6,754.1q7.6,-8.2 18.3,-11.1M1063.2,771.2q-10.8,2.1 -21.6,3.8M944.7,782.1q-2.4,-3.5 -5.1,-6.9M969.3,855.1q-3.2,5.3 -8.7,8.2M979.6,814.1q-7.8,8.2 -6.8,19.5M1112.6,786.9q8.6,-2.0 17.4,-2.6M921.2,768.6q-11.2,3.8 -22.8,5.8M1162.4,732.3q5.2,6.0 12.3,9.5M1139.2,864.4q-10.9,-2.1 -22.0,-2.0M896.7,770.1q-7.5,6.0 -16.7,8.7M1129.9,775.5q3.2,-3.5 3.1,-8.3M1026.5,878.7q-7.5,-7.4 -15.4,-14.3M1058.6,881.8q8.8,2.5 16.8,-1.8M1123.7,909.7q4.4,-3.8 10.0,-2.7M1068.5,868.0q4.0,-7.2 10.3,-12.3M900.0,746.5q-7.3,1.2 -14.8,0.9M1146.3,840.4q-3.8,4.4 -9.0,6.8M1054.9,834.3q-7.4,4.2 -13.2,10.5M1122.0,870.1q7.7,-7.5 15.0,-15.5M1000.9,825.8q5.2,8.8 13.9,14.1M1093.5,849.1q-1.0,6.9 -1.8,13.8M1162.8,912.4q-5.7,-5.5 -13.6,-4.9M1115.7,889.1q-5.5,-1.0 -10.7,0.7M967.9,814.9q6.2,-7.5 10.5,-16.2M986.7,840.4q4.2,4.4 10.3,5.0M838.0,820.7q-7.6,-2.8 -15.7,-2.9M1110.7,920.5q-4.4,-6.7 -4.0,-14.6M967.5,805.2q11.0,0.1 20.9,5.2M1162.4,801.1q-2.5,10.5 -5.8,20.8M1015.7,779.0q0.8,6.8 6.7,10.5M1023.1,852.2q5.1,-2.4 8.5,-6.8M1137.1,796.5q4.0,-9.9 3.9,-20.5M978.9,759.8q2.0,10.5 6.4,20.2M1080.3,742.4q0.7,6.7 -3.8,11.6M1115.8,786.9q0.8,-6.3 -3.6,-10.9M988.9,764.3q-9.6,-5.0 -20.2,-7.2M988.0,777.8q8.3,3.4 13.1,11.0M1127.5,815.6q-8.1,5.2 -17.8,6.0M1121.4,845.3q-5.5,2.8 -11.4,4.5M965.7,769.6q-6.8,8.3 -17.3,10.2M1132.3,739.0q-5.4,-0.3 -10.7,0.3M1022.9,821.3q3.6,-9.5 9.7,-17.5M1049.1,914.0q-9.7,-2.0 -19.6,-2.6M1141.1,893.7q-10.1,3.9 -16.5,12.6M1125.3,901.8q-2.7,-7.3 -4.3,-14.9M1062.5,836.2q1.4,4.8 1.5,9.8M1046.5,893.7q-7.7,2.1 -14.5,6.2M1089.3,834.1q0.5,-6.8 6.0,-10.9M1085.9,900.2q4.6,-6.6 7.5,-14.1M1034.5,862.0q-2.7,-9.8 -5.3,-19.6M1019.8,709.9q9.7,-1.2 17.2,5.1M1044.4,858.4q-5.0,7.5 -12.2,13.0M935.9,729.0q11.4,2.9 20.5,10.3M996.1,844.8q7.7,-8.8 9.8,-20.2M923.8,834.0q4.0,2.0 8.5,1.3M1069.9,868.1q-0.2,4.4 2.6,7.8M1042.0,834.7q-7.4,4.6 -15.1,8.8" stroke="#ff9ade" stroke-width="1" opacity=".85"/>
</g>
</g>
<path d="M829.7,605.4 C823.7,604.8 819.4,606.3 815.0,608.5 C810.6,610.7 807.4,613.1 803.2,618.6 C799.0,624.1 794.1,631.0 790.0,641.6 C785.9,652.2 781.2,668.9 778.5,682.0 C775.8,695.1 774.3,708.3 773.6,720.0 C772.9,731.7 773.5,741.8 774.5,752.0 C775.5,762.2 777.0,779.5 779.7,781.0 C782.4,782.5 784.2,767.3 790.5,760.8 C796.8,754.3 808.6,746.6 817.6,741.9 C826.6,737.2 834.5,734.6 844.6,732.4 C854.7,730.1 866.0,728.4 878.4,728.4 C890.8,728.4 913.3,734.6 918.9,732.4 C924.5,730.2 915.4,725.0 912.0,715.0 C908.6,705.0 903.1,683.7 898.6,672.6 C894.1,661.5 889.5,655.7 885.0,648.3 C880.5,640.9 877.2,634.1 871.6,628.0 C866.0,621.9 858.3,615.7 851.3,611.9 C844.3,608.1 835.8,606.0 829.7,605.4Z" fill="url(#gLP)"/>
<path d="M1164.3,605.4 C1171.0,604.4 1174.7,606.7 1179.0,608.5 C1183.3,610.3 1185.9,610.5 1190.0,616.0 C1194.1,621.5 1199.7,632.8 1203.5,641.6 C1207.3,650.4 1210.3,659.6 1213.0,668.6 C1215.7,677.6 1218.1,687.0 1219.7,695.6 C1221.3,704.2 1222.3,710.3 1222.4,720.0 C1222.5,729.7 1221.7,742.9 1220.5,754.0 C1219.3,765.1 1216.5,782.9 1215.0,786.5 C1213.5,790.1 1214.2,780.0 1211.6,775.7 C1209.0,771.4 1205.3,766.0 1199.5,760.8 C1193.7,755.6 1184.4,748.9 1176.5,744.6 C1168.6,740.3 1160.6,737.4 1152.0,735.0 C1143.4,732.6 1134.0,731.4 1125.0,730.4 C1116.0,729.4 1105.9,729.6 1098.0,729.0 C1090.1,728.4 1080.0,730.3 1077.8,727.0 C1075.6,723.7 1081.2,718.3 1084.6,709.0 C1088.0,699.7 1093.5,681.9 1098.0,671.3 C1102.5,660.7 1107.1,653.0 1111.6,645.6 C1116.1,638.2 1120.5,631.9 1125.0,626.7 C1129.5,621.5 1132.0,618.2 1138.6,614.6 C1145.1,611.0 1157.6,606.4 1164.3,605.4Z" fill="url(#gRP)"/>
<path d="M925.9,539.0 C927.9,541.0 933.9,546.2 937.6,551.0 C941.3,555.8 944.1,561.4 948.0,567.9 C951.9,574.4 956.7,582.9 961.0,590.0 C965.3,597.1 969.7,603.9 974.0,610.8 C978.3,617.7 982.4,624.1 987.0,631.6 C991.6,639.1 999.0,651.5 1001.4,655.5 C1002.0,654.5 1002.2,655.9 1005.2,649.8 C1008.2,643.6 1015.0,627.9 1019.5,618.6 C1024.0,609.3 1028.4,601.7 1032.5,593.9 C1036.6,586.1 1040.5,578.5 1044.2,571.8 C1047.9,565.1 1050.7,559.1 1054.6,553.6 C1058.5,548.1 1065.4,541.4 1067.6,539.0Z" fill="url(#gV)"/>
<path d="M1100.8,848.6 L1137.0,876.0 L1150.5,873.0 L1225.5,932.5 L1185.5,950.5 L1124.5,905.0 L1126.5,893.5 L1091.4,864.2Z" fill="url(#gProbe)" stroke="#fff" stroke-width="1.3" stroke-linejoin="miter"/>
<g stroke="#1c1c1c" stroke-width="2" fill="none">
<path d="M744,566 L803.2,618.4"/>
<path d="M893,848.6 L776.4,930"/>
<path d="M1155.5,908.4 L1169.7,966.5"/>
</g>
<text x="996.5" y="95.2" font-size="37" fill="#fff" font-weight="400" text-anchor="middle" textLength="476.0" lengthAdjust="spacingAndGlyphs">Biological computing via OI</text>
<text x="324.0" y="363.6" font-size="37" fill="#fff" font-weight="400" text-anchor="middle" textLength="108.0" lengthAdjust="spacingAndGlyphs">Inputs</text>
<text x="1674.0" y="359.2" font-size="37" fill="#fff" font-weight="400" text-anchor="middle" textLength="140.5" lengthAdjust="spacingAndGlyphs">Outputs</text>
<text x="998.0" y="480.0" font-size="28" fill="#fff" font-weight="400" text-anchor="middle" textLength="167.0" lengthAdjust="spacingAndGlyphs">Biofeedback</text>
<text x="860.0" y="314.4" font-size="24" fill="#3f9487" font-weight="400" text-anchor="middle" textLength="136.0" lengthAdjust="spacingAndGlyphs" stroke="#3f9487" stroke-width=".25">AI/machine</text>
<text x="859.5" y="348.6" font-size="24" fill="#3f9487" font-weight="400" text-anchor="middle" textLength="97.0" lengthAdjust="spacingAndGlyphs" stroke="#3f9487" stroke-width=".25">learning</text>
<text x="1127.0" y="314.4" font-size="24" fill="#3f9487" font-weight="400" text-anchor="middle" textLength="95.0" lengthAdjust="spacingAndGlyphs" stroke="#3f9487" stroke-width=".25">Big data</text>
<text x="1130.0" y="348.6" font-size="24" fill="#3f9487" font-weight="400" text-anchor="middle" textLength="158.0" lengthAdjust="spacingAndGlyphs" stroke="#3f9487" stroke-width=".25">management</text>
<text x="175.3" y="625.4" font-size="24" fill="#001d8c" font-weight="400" text-anchor="middle" textLength="109.0" lengthAdjust="spacingAndGlyphs" stroke="#001d8c" stroke-width=".25">Electrical</text>
<text x="178.0" y="658.0" font-size="24" fill="#001d8c" font-weight="400" text-anchor="middle" textLength="81.0" lengthAdjust="spacingAndGlyphs" stroke="#001d8c" stroke-width=".25">signals</text>
<text x="458.3" y="625.4" font-size="24" fill="#001d8c" font-weight="400" text-anchor="middle" textLength="113.0" lengthAdjust="spacingAndGlyphs" stroke="#001d8c" stroke-width=".25">Chemical</text>
<text x="461.0" y="658.0" font-size="24" fill="#001d8c" font-weight="400" text-anchor="middle" textLength="113.0" lengthAdjust="spacingAndGlyphs" stroke="#001d8c" stroke-width=".25">perfusion</text>
<text x="322.0" y="860.0" font-size="24" fill="#001d8c" font-weight="400" text-anchor="middle" textLength="162.0" lengthAdjust="spacingAndGlyphs" stroke="#001d8c" stroke-width=".25">Optogenetics</text>
<text x="323.5" y="963.6" font-size="32" fill="#222" font-weight="400" text-anchor="middle" textLength="478.0" lengthAdjust="spacingAndGlyphs">Complex biological inputs, e.g.</text>
<text x="178.0" y="1191.4" font-size="24" fill="#001d8c" font-weight="400" text-anchor="middle" textLength="81.0" lengthAdjust="spacingAndGlyphs" stroke="#001d8c" stroke-width=".25">Retinal</text>
<text x="177.7" y="1224.6" font-size="24" fill="#001d8c" font-weight="400" text-anchor="middle" textLength="119.0" lengthAdjust="spacingAndGlyphs" stroke="#001d8c" stroke-width=".25">organoids</text>
<text x="458.5" y="1191.4" font-size="24" fill="#001d8c" font-weight="400" text-anchor="middle" textLength="95.0" lengthAdjust="spacingAndGlyphs" stroke="#001d8c" stroke-width=".25">Multiple</text>
<text x="461.5" y="1224.6" font-size="24" fill="#001d8c" font-weight="400" text-anchor="middle" textLength="185.0" lengthAdjust="spacingAndGlyphs" stroke="#001d8c" stroke-width=".25">brain organoids</text>
<text x="1673.0" y="565.6" font-size="32" fill="#222" font-weight="400" text-anchor="middle" textLength="125.0" lengthAdjust="spacingAndGlyphs">Imaging</text>
<text x="1677.0" y="806.4" font-size="24" fill="#45a2dc" font-weight="400" text-anchor="middle" textLength="213.0" lengthAdjust="spacingAndGlyphs" stroke="#45a2dc" stroke-width=".25">Electrophysiology</text>
<text x="1676.5" y="839.8" font-size="24" fill="#45a2dc" font-weight="400" text-anchor="middle" textLength="115.0" lengthAdjust="spacingAndGlyphs" stroke="#45a2dc" stroke-width=".25">recording</text>
<text x="1531.7" y="1068.2" font-size="24" fill="#45a2dc" font-weight="400" text-anchor="middle" textLength="157.0" lengthAdjust="spacingAndGlyphs" stroke="#45a2dc" stroke-width=".25">Fluorescence</text>
<text x="1812.5" y="1068.2" font-size="24" fill="#45a2dc" font-weight="400" text-anchor="middle" textLength="108.0" lengthAdjust="spacingAndGlyphs" stroke="#45a2dc" stroke-width=".25">Confocal</text>
<text x="1812.5" y="1102.2" font-size="24" fill="#45a2dc" font-weight="400" text-anchor="middle" textLength="138.0" lengthAdjust="spacingAndGlyphs" stroke="#45a2dc" stroke-width=".25">microscopy</text>
<text x="745.5" y="550.0" font-size="29" fill="#001d8c" font-weight="400" text-anchor="middle" textLength="154.0" lengthAdjust="spacingAndGlyphs" stroke="#f4f4f4" stroke-width=".55">2D/3D MEA</text>
<text x="737.5" y="961.5" font-size="31" fill="#001d8c" font-weight="400" text-anchor="middle" textLength="75.0" lengthAdjust="spacingAndGlyphs" stroke="#f4f4f4" stroke-width=".55">Brain</text>
<text x="737.5" y="994.5" font-size="31" fill="#001d8c" font-weight="400" text-anchor="middle" textLength="134.0" lengthAdjust="spacingAndGlyphs" stroke="#f4f4f4" stroke-width=".55">organoid</text>
<text x="1175.8" y="997.6" font-size="34" fill="#001d8c" font-weight="400" text-anchor="middle" textLength="87.5" lengthAdjust="spacingAndGlyphs">Probe</text>
<text x="689.0" y="1249.0" font-size="31" fill="#001d8c" font-weight="400" text-anchor="start" textLength="619.0" lengthAdjust="spacingAndGlyphs" stroke="#f4f4f4" stroke-width=".55">3D culture system optimized for organoid</text>
<text x="689.0" y="1290.7" font-size="31" fill="#001d8c" font-weight="400" text-anchor="start" textLength="550.5" lengthAdjust="spacingAndGlyphs" stroke="#f4f4f4" stroke-width=".55">scalability, durability and learning via:</text>
<text x="691.0" y="1332.2" font-size="31" fill="#001d8c" font-weight="400" text-anchor="start" stroke="#f4f4f4" stroke-width=".55">-</text>
<text x="736.0" y="1332.2" font-size="31" fill="#001d8c" font-weight="400" text-anchor="start" textLength="269.0" lengthAdjust="spacingAndGlyphs" stroke="#f4f4f4" stroke-width=".55">culture conditions</text>
<text x="691.0" y="1373.7" font-size="31" fill="#001d8c" font-weight="400" text-anchor="start" stroke="#f4f4f4" stroke-width=".55">-</text>
<text x="736.0" y="1373.7" font-size="31" fill="#001d8c" font-weight="400" text-anchor="start" textLength="233.0" lengthAdjust="spacingAndGlyphs" stroke="#f4f4f4" stroke-width=".55">cell enrichment</text>
<text x="691.0" y="1415.1" font-size="31" fill="#001d8c" font-weight="400" text-anchor="start" stroke="#f4f4f4" stroke-width=".55">-</text>
<text x="736.0" y="1415.1" font-size="31" fill="#001d8c" font-weight="400" text-anchor="start" textLength="304.0" lengthAdjust="spacingAndGlyphs" stroke="#f4f4f4" stroke-width=".55">microfluidic systems</text>
<text x="691.0" y="1456.5" font-size="31" fill="#001d8c" font-weight="400" text-anchor="start" stroke="#f4f4f4" stroke-width=".55">-</text>
<text x="736.0" y="1456.5" font-size="31" fill="#001d8c" font-weight="400" text-anchor="start" textLength="219.0" lengthAdjust="spacingAndGlyphs" stroke="#f4f4f4" stroke-width=".55">IEG expression</text>
</svg>
</body>
</html>
